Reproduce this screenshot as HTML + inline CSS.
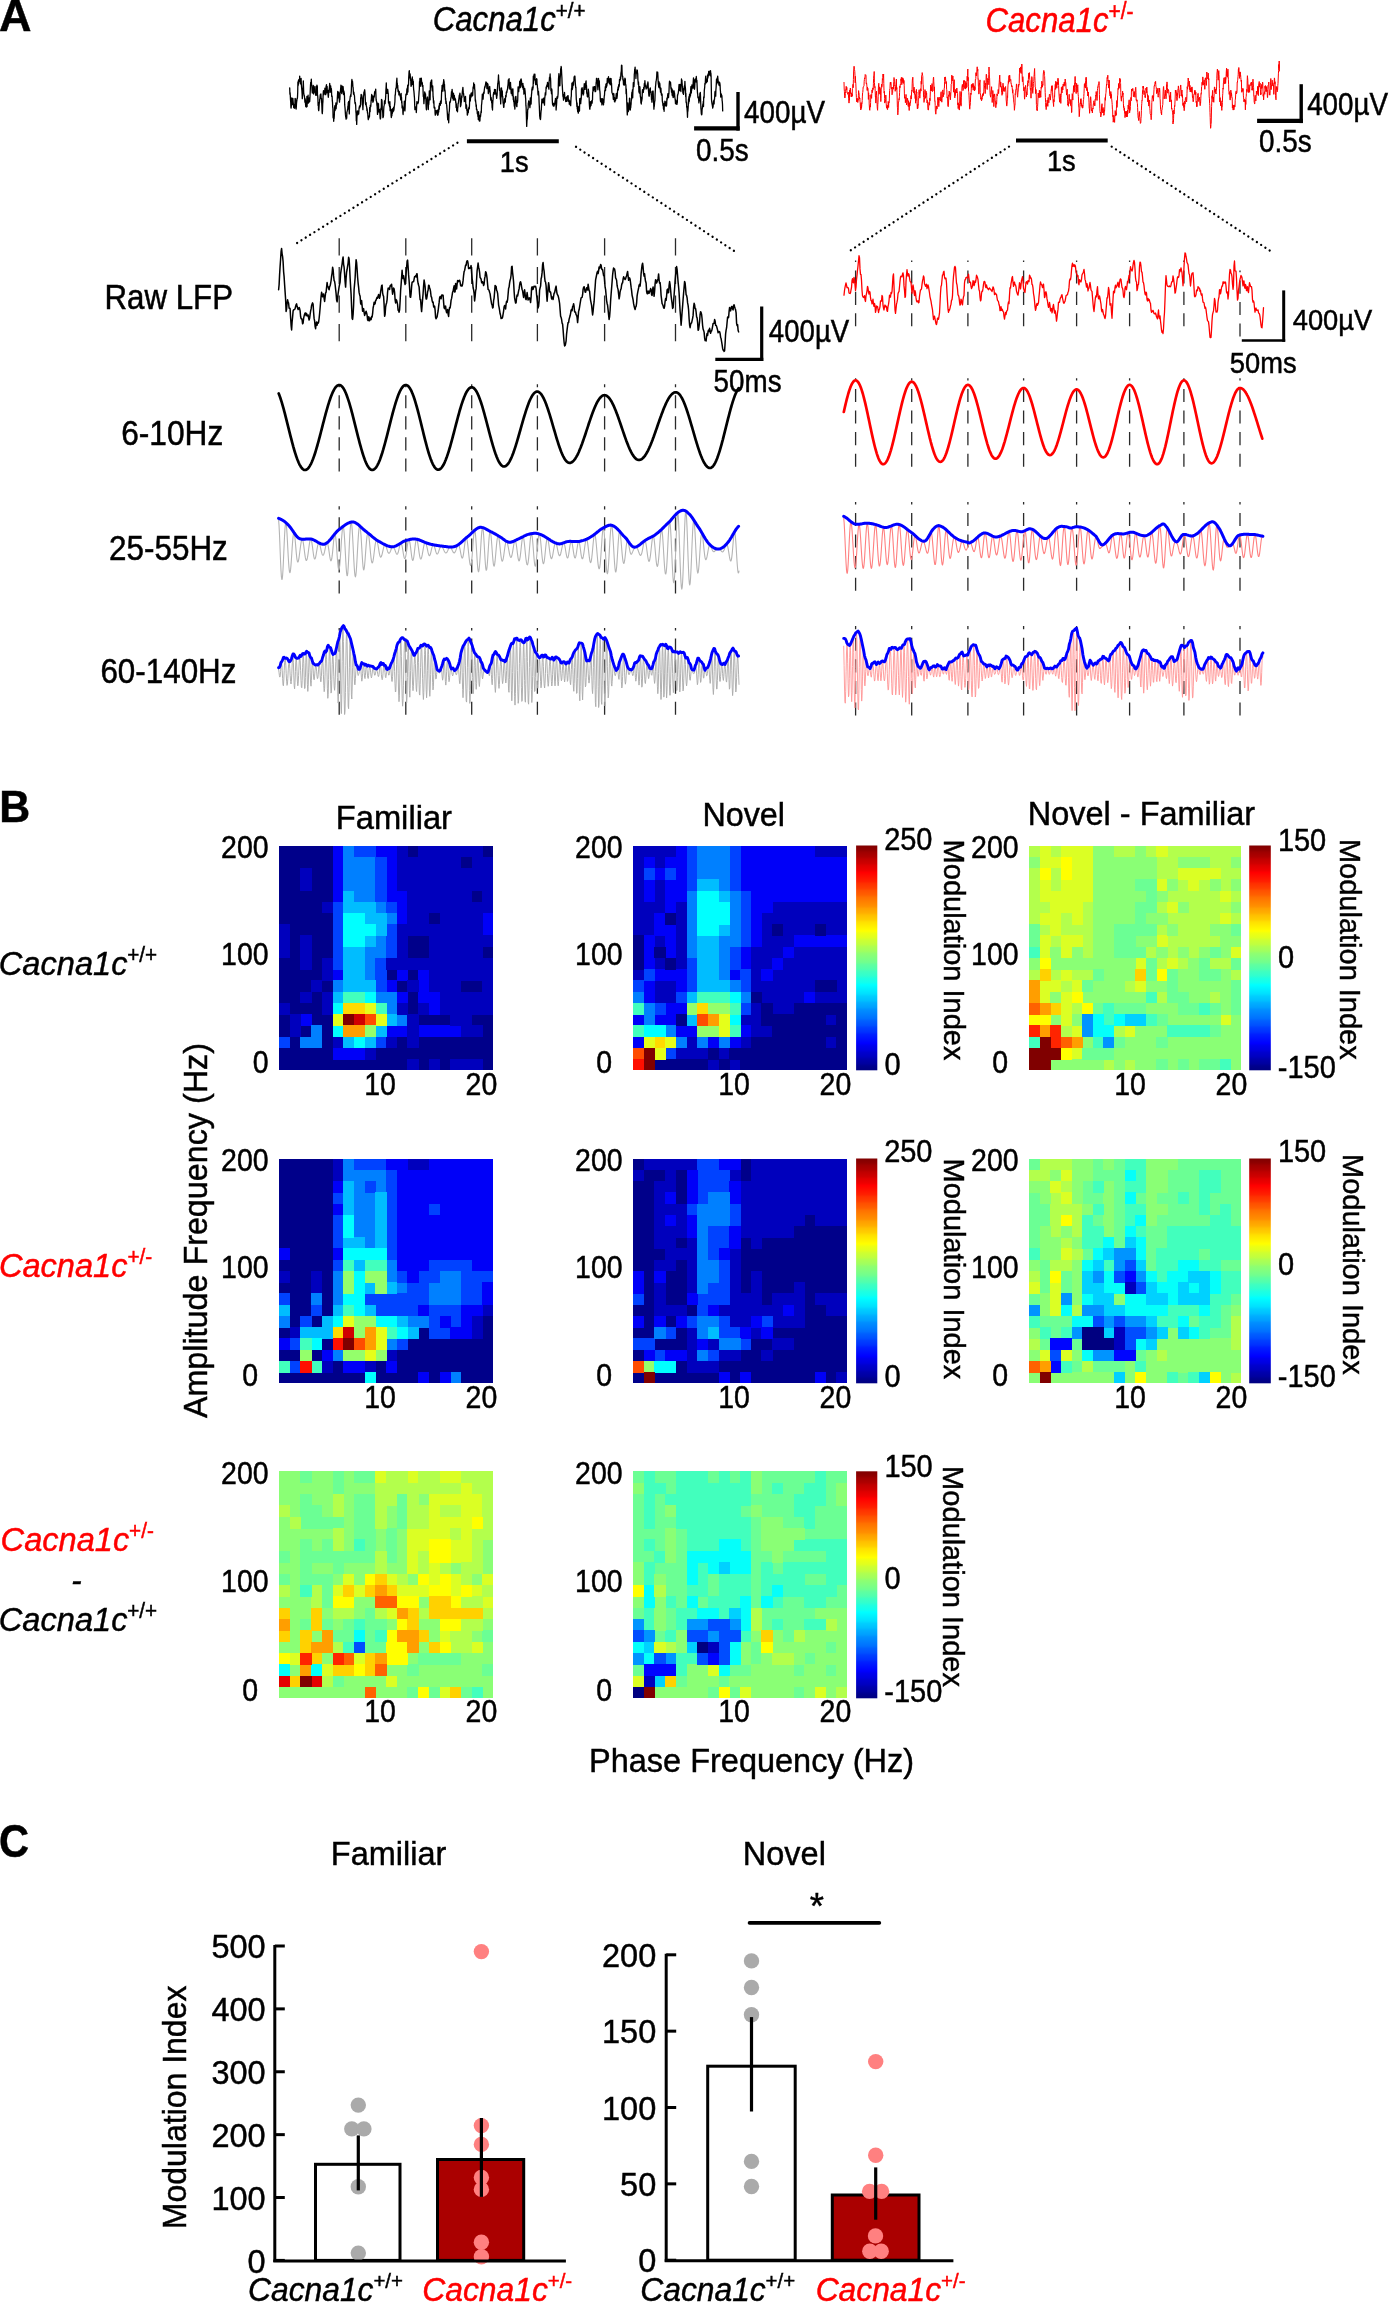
<!DOCTYPE html>
<html><head><meta charset="utf-8"><title>Figure</title>
<style>
html,body{margin:0;padding:0;background:#fff;}
svg{display:block;}
text{font-family:"Liberation Sans", sans-serif;font-kerning:none;}
svg{will-change:transform;}
</style></head><body>
<svg width="1389" height="2302" viewBox="0 0 1389 2302">
<rect x="0" y="0" width="1389" height="2302" fill="#fff"/>
<text x="-1.12" y="30.8" font-size="45" font-weight="bold" font-style="normal" fill="#000" stroke="#000" stroke-width="0.45">A</text>
<text x="-0.86" y="821.9" font-size="42.8" font-weight="bold" font-style="normal" fill="#000" stroke="#000" stroke-width="0.45" transform="translate(0 -41.1) scale(1 1.05)">B</text>
<text x="-1.01" y="1857.2" font-size="41.6" font-weight="bold" font-style="normal" fill="#000" stroke="#000" stroke-width="0.45" transform="translate(0 -185.72) scale(1 1.1)">C</text>
<g shape-rendering="crispEdges">
<path fill="#00008a" d="M279 845.5h11.2v11.7h-11.2zM289.7 845.5h11.2v11.7h-11.2zM300.4 845.5h11.2v11.7h-11.2zM311.1 845.5h11.2v11.7h-11.2zM321.8 845.5h11.2v11.7h-11.2zM407.4 845.5h11.2v11.7h-11.2zM482.3 845.5h10.7v11.7h-10.7zM279 856.7h11.2v11.7h-11.2zM289.7 856.7h11.2v11.7h-11.2zM300.4 856.7h11.2v11.7h-11.2zM311.1 856.7h11.2v11.7h-11.2zM321.8 856.7h11.2v11.7h-11.2zM460.9 856.7h11.2v11.7h-11.2zM279 868h11.2v11.7h-11.2zM289.7 868h11.2v11.7h-11.2zM311.1 868h11.2v11.7h-11.2zM321.8 868h11.2v11.7h-11.2zM279 879.2h11.2v11.7h-11.2zM289.7 879.2h11.2v11.7h-11.2zM311.1 879.2h11.2v11.7h-11.2zM321.8 879.2h11.2v11.7h-11.2zM279 890.5h11.2v11.7h-11.2zM289.7 890.5h11.2v11.7h-11.2zM300.4 890.5h11.2v11.7h-11.2zM311.1 890.5h11.2v11.7h-11.2zM321.8 890.5h11.2v11.7h-11.2zM471.6 890.5h11.2v11.7h-11.2zM279 901.7h11.2v11.7h-11.2zM289.7 901.7h11.2v11.7h-11.2zM300.4 901.7h11.2v11.7h-11.2zM311.1 901.7h11.2v11.7h-11.2zM279 912.9h11.2v11.7h-11.2zM289.7 912.9h11.2v11.7h-11.2zM300.4 912.9h11.2v11.7h-11.2zM311.1 912.9h11.2v11.7h-11.2zM321.8 912.9h11.2v11.7h-11.2zM428.8 912.9h11.2v11.7h-11.2zM289.7 924.2h11.2v11.7h-11.2zM300.4 924.2h11.2v11.7h-11.2zM311.1 924.2h11.2v11.7h-11.2zM321.8 924.2h11.2v11.7h-11.2zM289.7 935.4h11.2v11.7h-11.2zM311.1 935.4h11.2v11.7h-11.2zM321.8 935.4h11.2v11.7h-11.2zM407.4 935.4h11.2v11.7h-11.2zM418.1 935.4h11.2v11.7h-11.2zM289.7 946.7h11.2v11.7h-11.2zM311.1 946.7h11.2v11.7h-11.2zM321.8 946.7h11.2v11.7h-11.2zM407.4 946.7h11.2v11.7h-11.2zM418.1 946.7h11.2v11.7h-11.2zM482.3 946.7h10.7v11.7h-10.7zM279 957.9h11.2v11.7h-11.2zM289.7 957.9h11.2v11.7h-11.2zM311.1 957.9h11.2v11.7h-11.2zM279 969.1h11.2v11.7h-11.2zM289.7 969.1h11.2v11.7h-11.2zM300.4 969.1h11.2v11.7h-11.2zM311.1 969.1h11.2v11.7h-11.2zM386 969.1h11.2v11.7h-11.2zM407.4 969.1h11.2v11.7h-11.2zM279 980.4h11.2v11.7h-11.2zM289.7 980.4h11.2v11.7h-11.2zM300.4 980.4h11.2v11.7h-11.2zM321.8 980.4h11.2v11.7h-11.2zM396.7 980.4h11.2v11.7h-11.2zM460.9 980.4h11.2v11.7h-11.2zM471.6 980.4h11.2v11.7h-11.2zM279 991.6h11.2v11.7h-11.2zM289.7 991.6h11.2v11.7h-11.2zM311.1 991.6h11.2v11.7h-11.2zM407.4 991.6h11.2v11.7h-11.2zM289.7 1002.9h11.2v11.7h-11.2zM300.4 1002.9h11.2v11.7h-11.2zM311.1 1002.9h11.2v11.7h-11.2zM407.4 1002.9h11.2v11.7h-11.2zM279 1014.1h11.2v11.7h-11.2zM311.1 1014.1h11.2v11.7h-11.2zM321.8 1014.1h11.2v11.7h-11.2zM418.1 1014.1h11.2v11.7h-11.2zM428.8 1014.1h11.2v11.7h-11.2zM439.5 1014.1h11.2v11.7h-11.2zM471.6 1014.1h11.2v11.7h-11.2zM482.3 1014.1h10.7v11.7h-10.7zM279 1025.3h11.2v11.7h-11.2zM300.4 1025.3h11.2v11.7h-11.2zM321.8 1025.3h11.2v11.7h-11.2zM482.3 1025.3h10.7v11.7h-10.7zM289.7 1036.6h11.2v11.7h-11.2zM321.8 1036.6h11.2v11.7h-11.2zM396.7 1036.6h11.2v11.7h-11.2zM418.1 1036.6h11.2v11.7h-11.2zM428.8 1036.6h11.2v11.7h-11.2zM439.5 1036.6h11.2v11.7h-11.2zM450.2 1036.6h11.2v11.7h-11.2zM460.9 1036.6h11.2v11.7h-11.2zM471.6 1036.6h11.2v11.7h-11.2zM482.3 1036.6h10.7v11.7h-10.7zM279 1047.8h11.2v11.7h-11.2zM289.7 1047.8h11.2v11.7h-11.2zM300.4 1047.8h11.2v11.7h-11.2zM311.1 1047.8h11.2v11.7h-11.2zM321.8 1047.8h11.2v11.7h-11.2zM375.3 1047.8h11.2v11.7h-11.2zM386 1047.8h11.2v11.7h-11.2zM396.7 1047.8h11.2v11.7h-11.2zM407.4 1047.8h11.2v11.7h-11.2zM418.1 1047.8h11.2v11.7h-11.2zM428.8 1047.8h11.2v11.7h-11.2zM439.5 1047.8h11.2v11.7h-11.2zM450.2 1047.8h11.2v11.7h-11.2zM460.9 1047.8h11.2v11.7h-11.2zM471.6 1047.8h11.2v11.7h-11.2zM482.3 1047.8h10.7v11.7h-10.7zM279 1059.1h11.2v11.2h-11.2zM289.7 1059.1h11.2v11.2h-11.2zM300.4 1059.1h11.2v11.2h-11.2zM311.1 1059.1h11.2v11.2h-11.2zM321.8 1059.1h11.2v11.2h-11.2zM332.5 1059.1h11.2v11.2h-11.2zM343.2 1059.1h11.2v11.2h-11.2zM353.9 1059.1h11.2v11.2h-11.2zM364.6 1059.1h11.2v11.2h-11.2zM375.3 1059.1h11.2v11.2h-11.2zM386 1059.1h11.2v11.2h-11.2zM396.7 1059.1h11.2v11.2h-11.2zM418.1 1059.1h11.2v11.2h-11.2zM439.5 1059.1h11.2v11.2h-11.2zM482.3 1059.1h10.7v11.2h-10.7z"/>
<path fill="#0000f8" d="M332.5 845.5h11.2v11.7h-11.2zM375.3 845.5h11.2v11.7h-11.2zM386 845.5h11.2v11.7h-11.2zM332.5 856.7h11.2v11.7h-11.2zM386 856.7h11.2v11.7h-11.2zM332.5 868h11.2v11.7h-11.2zM386 868h11.2v11.7h-11.2zM332.5 879.2h11.2v11.7h-11.2zM386 879.2h11.2v11.7h-11.2zM332.5 890.5h11.2v11.7h-11.2zM386 890.5h11.2v11.7h-11.2zM396.7 890.5h11.2v11.7h-11.2zM396.7 901.7h11.2v11.7h-11.2zM396.7 912.9h11.2v11.7h-11.2zM482.3 912.9h10.7v11.7h-10.7zM482.3 924.2h10.7v11.7h-10.7zM332.5 969.1h11.2v11.7h-11.2zM396.7 969.1h11.2v11.7h-11.2zM418.1 969.1h11.2v11.7h-11.2zM386 980.4h11.2v11.7h-11.2zM418.1 980.4h11.2v11.7h-11.2zM396.7 991.6h11.2v11.7h-11.2zM418.1 991.6h11.2v11.7h-11.2zM428.8 991.6h11.2v11.7h-11.2zM428.8 1002.9h11.2v11.7h-11.2zM300.4 1014.1h11.2v11.7h-11.2zM386 1025.3h11.2v11.7h-11.2zM396.7 1025.3h11.2v11.7h-11.2zM418.1 1025.3h11.2v11.7h-11.2zM428.8 1025.3h11.2v11.7h-11.2zM439.5 1025.3h11.2v11.7h-11.2zM450.2 1025.3h11.2v11.7h-11.2zM332.5 1047.8h11.2v11.7h-11.2zM343.2 1047.8h11.2v11.7h-11.2zM353.9 1047.8h11.2v11.7h-11.2z"/>
<path fill="#0080ff" d="M343.2 845.5h11.2v11.7h-11.2zM343.2 856.7h11.2v11.7h-11.2zM353.9 856.7h11.2v11.7h-11.2zM364.6 856.7h11.2v11.7h-11.2zM343.2 868h11.2v11.7h-11.2zM353.9 868h11.2v11.7h-11.2zM364.6 868h11.2v11.7h-11.2zM343.2 879.2h11.2v11.7h-11.2zM353.9 879.2h11.2v11.7h-11.2zM364.6 879.2h11.2v11.7h-11.2zM353.9 890.5h11.2v11.7h-11.2zM364.6 890.5h11.2v11.7h-11.2zM375.3 901.7h11.2v11.7h-11.2zM386 912.9h11.2v11.7h-11.2zM375.3 935.4h11.2v11.7h-11.2zM364.6 946.7h11.2v11.7h-11.2zM375.3 946.7h11.2v11.7h-11.2zM364.6 957.9h11.2v11.7h-11.2zM364.6 969.1h11.2v11.7h-11.2zM332.5 980.4h11.2v11.7h-11.2zM375.3 991.6h11.2v11.7h-11.2zM386 991.6h11.2v11.7h-11.2zM386 1002.9h11.2v11.7h-11.2zM396.7 1014.1h11.2v11.7h-11.2zM311.1 1025.3h11.2v11.7h-11.2zM300.4 1036.6h11.2v11.7h-11.2zM311.1 1036.6h11.2v11.7h-11.2z"/>
<path fill="#0042ff" d="M353.9 845.5h11.2v11.7h-11.2zM364.6 845.5h11.2v11.7h-11.2zM375.3 856.7h11.2v11.7h-11.2zM375.3 868h11.2v11.7h-11.2zM375.3 879.2h11.2v11.7h-11.2zM375.3 890.5h11.2v11.7h-11.2zM332.5 901.7h11.2v11.7h-11.2zM386 901.7h11.2v11.7h-11.2zM332.5 912.9h11.2v11.7h-11.2zM332.5 924.2h11.2v11.7h-11.2zM386 924.2h11.2v11.7h-11.2zM332.5 935.4h11.2v11.7h-11.2zM386 935.4h11.2v11.7h-11.2zM332.5 946.7h11.2v11.7h-11.2zM386 946.7h11.2v11.7h-11.2zM332.5 957.9h11.2v11.7h-11.2zM375.3 957.9h11.2v11.7h-11.2zM375.3 969.1h11.2v11.7h-11.2zM375.3 980.4h11.2v11.7h-11.2zM279 1036.6h11.2v11.7h-11.2zM375.3 1036.6h11.2v11.7h-11.2z"/>
<path fill="#0000bd" d="M396.7 845.5h11.2v11.7h-11.2zM418.1 845.5h11.2v11.7h-11.2zM428.8 845.5h11.2v11.7h-11.2zM439.5 845.5h11.2v11.7h-11.2zM450.2 845.5h11.2v11.7h-11.2zM460.9 845.5h11.2v11.7h-11.2zM471.6 845.5h11.2v11.7h-11.2zM396.7 856.7h11.2v11.7h-11.2zM407.4 856.7h11.2v11.7h-11.2zM418.1 856.7h11.2v11.7h-11.2zM428.8 856.7h11.2v11.7h-11.2zM439.5 856.7h11.2v11.7h-11.2zM450.2 856.7h11.2v11.7h-11.2zM471.6 856.7h11.2v11.7h-11.2zM482.3 856.7h10.7v11.7h-10.7zM300.4 868h11.2v11.7h-11.2zM396.7 868h11.2v11.7h-11.2zM407.4 868h11.2v11.7h-11.2zM418.1 868h11.2v11.7h-11.2zM428.8 868h11.2v11.7h-11.2zM439.5 868h11.2v11.7h-11.2zM450.2 868h11.2v11.7h-11.2zM460.9 868h11.2v11.7h-11.2zM471.6 868h11.2v11.7h-11.2zM482.3 868h10.7v11.7h-10.7zM300.4 879.2h11.2v11.7h-11.2zM396.7 879.2h11.2v11.7h-11.2zM407.4 879.2h11.2v11.7h-11.2zM418.1 879.2h11.2v11.7h-11.2zM428.8 879.2h11.2v11.7h-11.2zM439.5 879.2h11.2v11.7h-11.2zM450.2 879.2h11.2v11.7h-11.2zM460.9 879.2h11.2v11.7h-11.2zM471.6 879.2h11.2v11.7h-11.2zM482.3 879.2h10.7v11.7h-10.7zM407.4 890.5h11.2v11.7h-11.2zM418.1 890.5h11.2v11.7h-11.2zM428.8 890.5h11.2v11.7h-11.2zM439.5 890.5h11.2v11.7h-11.2zM450.2 890.5h11.2v11.7h-11.2zM460.9 890.5h11.2v11.7h-11.2zM482.3 890.5h10.7v11.7h-10.7zM321.8 901.7h11.2v11.7h-11.2zM407.4 901.7h11.2v11.7h-11.2zM418.1 901.7h11.2v11.7h-11.2zM428.8 901.7h11.2v11.7h-11.2zM439.5 901.7h11.2v11.7h-11.2zM450.2 901.7h11.2v11.7h-11.2zM460.9 901.7h11.2v11.7h-11.2zM471.6 901.7h11.2v11.7h-11.2zM482.3 901.7h10.7v11.7h-10.7zM407.4 912.9h11.2v11.7h-11.2zM418.1 912.9h11.2v11.7h-11.2zM439.5 912.9h11.2v11.7h-11.2zM450.2 912.9h11.2v11.7h-11.2zM460.9 912.9h11.2v11.7h-11.2zM471.6 912.9h11.2v11.7h-11.2zM279 924.2h11.2v11.7h-11.2zM396.7 924.2h11.2v11.7h-11.2zM407.4 924.2h11.2v11.7h-11.2zM418.1 924.2h11.2v11.7h-11.2zM428.8 924.2h11.2v11.7h-11.2zM439.5 924.2h11.2v11.7h-11.2zM450.2 924.2h11.2v11.7h-11.2zM460.9 924.2h11.2v11.7h-11.2zM471.6 924.2h11.2v11.7h-11.2zM279 935.4h11.2v11.7h-11.2zM300.4 935.4h11.2v11.7h-11.2zM396.7 935.4h11.2v11.7h-11.2zM428.8 935.4h11.2v11.7h-11.2zM439.5 935.4h11.2v11.7h-11.2zM450.2 935.4h11.2v11.7h-11.2zM460.9 935.4h11.2v11.7h-11.2zM471.6 935.4h11.2v11.7h-11.2zM482.3 935.4h10.7v11.7h-10.7zM279 946.7h11.2v11.7h-11.2zM300.4 946.7h11.2v11.7h-11.2zM396.7 946.7h11.2v11.7h-11.2zM428.8 946.7h11.2v11.7h-11.2zM439.5 946.7h11.2v11.7h-11.2zM450.2 946.7h11.2v11.7h-11.2zM460.9 946.7h11.2v11.7h-11.2zM471.6 946.7h11.2v11.7h-11.2zM300.4 957.9h11.2v11.7h-11.2zM321.8 957.9h11.2v11.7h-11.2zM386 957.9h11.2v11.7h-11.2zM396.7 957.9h11.2v11.7h-11.2zM407.4 957.9h11.2v11.7h-11.2zM418.1 957.9h11.2v11.7h-11.2zM428.8 957.9h11.2v11.7h-11.2zM439.5 957.9h11.2v11.7h-11.2zM450.2 957.9h11.2v11.7h-11.2zM460.9 957.9h11.2v11.7h-11.2zM471.6 957.9h11.2v11.7h-11.2zM482.3 957.9h10.7v11.7h-10.7zM321.8 969.1h11.2v11.7h-11.2zM428.8 969.1h11.2v11.7h-11.2zM439.5 969.1h11.2v11.7h-11.2zM450.2 969.1h11.2v11.7h-11.2zM460.9 969.1h11.2v11.7h-11.2zM471.6 969.1h11.2v11.7h-11.2zM482.3 969.1h10.7v11.7h-10.7zM311.1 980.4h11.2v11.7h-11.2zM407.4 980.4h11.2v11.7h-11.2zM428.8 980.4h11.2v11.7h-11.2zM439.5 980.4h11.2v11.7h-11.2zM450.2 980.4h11.2v11.7h-11.2zM482.3 980.4h10.7v11.7h-10.7zM300.4 991.6h11.2v11.7h-11.2zM321.8 991.6h11.2v11.7h-11.2zM439.5 991.6h11.2v11.7h-11.2zM450.2 991.6h11.2v11.7h-11.2zM460.9 991.6h11.2v11.7h-11.2zM471.6 991.6h11.2v11.7h-11.2zM482.3 991.6h10.7v11.7h-10.7zM279 1002.9h11.2v11.7h-11.2zM321.8 1002.9h11.2v11.7h-11.2zM396.7 1002.9h11.2v11.7h-11.2zM418.1 1002.9h11.2v11.7h-11.2zM439.5 1002.9h11.2v11.7h-11.2zM450.2 1002.9h11.2v11.7h-11.2zM460.9 1002.9h11.2v11.7h-11.2zM471.6 1002.9h11.2v11.7h-11.2zM482.3 1002.9h10.7v11.7h-10.7zM289.7 1014.1h11.2v11.7h-11.2zM407.4 1014.1h11.2v11.7h-11.2zM450.2 1014.1h11.2v11.7h-11.2zM460.9 1014.1h11.2v11.7h-11.2zM289.7 1025.3h11.2v11.7h-11.2zM407.4 1025.3h11.2v11.7h-11.2zM460.9 1025.3h11.2v11.7h-11.2zM471.6 1025.3h11.2v11.7h-11.2zM332.5 1036.6h11.2v11.7h-11.2zM386 1036.6h11.2v11.7h-11.2zM407.4 1036.6h11.2v11.7h-11.2zM364.6 1047.8h11.2v11.7h-11.2zM407.4 1059.1h11.2v11.2h-11.2zM428.8 1059.1h11.2v11.2h-11.2zM450.2 1059.1h11.2v11.2h-11.2zM460.9 1059.1h11.2v11.2h-11.2zM471.6 1059.1h11.2v11.2h-11.2z"/>
<path fill="#00bdff" d="M343.2 890.5h11.2v11.7h-11.2zM343.2 901.7h11.2v11.7h-11.2zM353.9 901.7h11.2v11.7h-11.2zM364.6 901.7h11.2v11.7h-11.2zM364.6 912.9h11.2v11.7h-11.2zM375.3 912.9h11.2v11.7h-11.2zM375.3 924.2h11.2v11.7h-11.2zM364.6 935.4h11.2v11.7h-11.2zM343.2 946.7h11.2v11.7h-11.2zM353.9 946.7h11.2v11.7h-11.2zM343.2 957.9h11.2v11.7h-11.2zM353.9 957.9h11.2v11.7h-11.2zM343.2 969.1h11.2v11.7h-11.2zM353.9 969.1h11.2v11.7h-11.2zM343.2 980.4h11.2v11.7h-11.2zM353.9 980.4h11.2v11.7h-11.2zM364.6 980.4h11.2v11.7h-11.2zM332.5 991.6h11.2v11.7h-11.2zM386 1014.1h11.2v11.7h-11.2zM375.3 1025.3h11.2v11.7h-11.2zM343.2 1036.6h11.2v11.7h-11.2zM364.6 1036.6h11.2v11.7h-11.2z"/>
<path fill="#00ffff" d="M343.2 912.9h11.2v11.7h-11.2zM353.9 912.9h11.2v11.7h-11.2zM343.2 924.2h11.2v11.7h-11.2zM353.9 924.2h11.2v11.7h-11.2zM364.6 924.2h11.2v11.7h-11.2zM343.2 935.4h11.2v11.7h-11.2zM353.9 935.4h11.2v11.7h-11.2zM364.6 991.6h11.2v11.7h-11.2zM332.5 1002.9h11.2v11.7h-11.2zM332.5 1025.3h11.2v11.7h-11.2zM353.9 1036.6h11.2v11.7h-11.2z"/>
<path fill="#42ffbd" d="M343.2 991.6h11.2v11.7h-11.2zM353.9 991.6h11.2v11.7h-11.2zM375.3 1002.9h11.2v11.7h-11.2z"/>
<path fill="#ffdb00" d="M343.2 1002.9h11.2v11.7h-11.2zM353.9 1002.9h11.2v11.7h-11.2z"/>
<path fill="#e5ff1a" d="M364.6 1002.9h11.2v11.7h-11.2zM332.5 1014.1h11.2v11.7h-11.2zM375.3 1014.1h11.2v11.7h-11.2z"/>
<path fill="#800000" d="M343.2 1014.1h11.2v11.7h-11.2z"/>
<path fill="#d10000" d="M353.9 1014.1h11.2v11.7h-11.2z"/>
<path fill="#ff4c00" d="M364.6 1014.1h11.2v11.7h-11.2z"/>
<path fill="#ff9e00" d="M343.2 1025.3h11.2v11.7h-11.2zM353.9 1025.3h11.2v11.7h-11.2z"/>
<path fill="#94ff6b" d="M364.6 1025.3h11.2v11.7h-11.2z"/>
</g>
<text x="221.06" y="858.39" font-size="28.5" font-weight="normal" font-style="normal" fill="#000" stroke="#000" stroke-width="0.45" transform="translate(0 -85.84) scale(1 1.1)">200</text>
<text x="221.06" y="965.39" font-size="28.5" font-weight="normal" font-style="normal" fill="#000" stroke="#000" stroke-width="0.45" transform="translate(0 -96.54) scale(1 1.1)">100</text>
<text x="252.76" y="1072.69" font-size="28.5" font-weight="normal" font-style="normal" fill="#000" stroke="#000" stroke-width="0.45" transform="translate(0 -107.27) scale(1 1.1)">0</text>
<text x="364.22" y="1095.19" font-size="28.5" font-weight="normal" font-style="normal" fill="#000" stroke="#000" stroke-width="0.45" transform="translate(0 -109.52) scale(1 1.1)">10</text>
<text x="465.59" y="1095.19" font-size="28.5" font-weight="normal" font-style="normal" fill="#000" stroke="#000" stroke-width="0.45" transform="translate(0 -109.52) scale(1 1.1)">20</text>
<g shape-rendering="crispEdges">
<path fill="#0000bd" d="M633 845.5h11.2v11.7h-11.2zM643.7 845.5h11.2v11.7h-11.2zM654.4 845.5h11.2v11.7h-11.2zM665.1 845.5h11.2v11.7h-11.2zM814.9 845.5h11.2v11.7h-11.2zM825.6 845.5h11.2v11.7h-11.2zM836.3 845.5h10.7v11.7h-10.7zM633 856.7h11.2v11.7h-11.2zM654.4 856.7h11.2v11.7h-11.2zM633 868h11.2v11.7h-11.2zM633 879.2h11.2v11.7h-11.2zM654.4 879.2h11.2v11.7h-11.2zM633 890.5h11.2v11.7h-11.2zM654.4 890.5h11.2v11.7h-11.2zM633 901.7h11.2v11.7h-11.2zM643.7 901.7h11.2v11.7h-11.2zM654.4 901.7h11.2v11.7h-11.2zM675.8 901.7h11.2v11.7h-11.2zM772.1 901.7h11.2v11.7h-11.2zM782.8 901.7h11.2v11.7h-11.2zM793.5 901.7h11.2v11.7h-11.2zM804.2 901.7h11.2v11.7h-11.2zM814.9 901.7h11.2v11.7h-11.2zM825.6 901.7h11.2v11.7h-11.2zM836.3 901.7h10.7v11.7h-10.7zM633 912.9h11.2v11.7h-11.2zM643.7 912.9h11.2v11.7h-11.2zM675.8 912.9h11.2v11.7h-11.2zM761.4 912.9h11.2v11.7h-11.2zM772.1 912.9h11.2v11.7h-11.2zM782.8 912.9h11.2v11.7h-11.2zM793.5 912.9h11.2v11.7h-11.2zM804.2 912.9h11.2v11.7h-11.2zM814.9 912.9h11.2v11.7h-11.2zM825.6 912.9h11.2v11.7h-11.2zM836.3 912.9h10.7v11.7h-10.7zM633 924.2h11.2v11.7h-11.2zM643.7 924.2h11.2v11.7h-11.2zM675.8 924.2h11.2v11.7h-11.2zM761.4 924.2h11.2v11.7h-11.2zM782.8 924.2h11.2v11.7h-11.2zM793.5 924.2h11.2v11.7h-11.2zM804.2 924.2h11.2v11.7h-11.2zM825.6 924.2h11.2v11.7h-11.2zM836.3 924.2h10.7v11.7h-10.7zM654.4 935.4h11.2v11.7h-11.2zM675.8 935.4h11.2v11.7h-11.2zM761.4 935.4h11.2v11.7h-11.2zM772.1 935.4h11.2v11.7h-11.2zM782.8 935.4h11.2v11.7h-11.2zM675.8 946.7h11.2v11.7h-11.2zM750.7 946.7h11.2v11.7h-11.2zM761.4 946.7h11.2v11.7h-11.2zM772.1 946.7h11.2v11.7h-11.2zM793.5 946.7h11.2v11.7h-11.2zM804.2 946.7h11.2v11.7h-11.2zM814.9 946.7h11.2v11.7h-11.2zM825.6 946.7h11.2v11.7h-11.2zM836.3 946.7h10.7v11.7h-10.7zM654.4 957.9h11.2v11.7h-11.2zM675.8 957.9h11.2v11.7h-11.2zM750.7 957.9h11.2v11.7h-11.2zM761.4 957.9h11.2v11.7h-11.2zM782.8 957.9h11.2v11.7h-11.2zM793.5 957.9h11.2v11.7h-11.2zM804.2 957.9h11.2v11.7h-11.2zM814.9 957.9h11.2v11.7h-11.2zM825.6 957.9h11.2v11.7h-11.2zM836.3 957.9h10.7v11.7h-10.7zM633 969.1h11.2v11.7h-11.2zM750.7 969.1h11.2v11.7h-11.2zM772.1 969.1h11.2v11.7h-11.2zM782.8 969.1h11.2v11.7h-11.2zM793.5 969.1h11.2v11.7h-11.2zM804.2 969.1h11.2v11.7h-11.2zM814.9 969.1h11.2v11.7h-11.2zM825.6 969.1h11.2v11.7h-11.2zM836.3 969.1h10.7v11.7h-10.7zM654.4 980.4h11.2v11.7h-11.2zM665.1 980.4h11.2v11.7h-11.2zM750.7 980.4h11.2v11.7h-11.2zM761.4 980.4h11.2v11.7h-11.2zM772.1 980.4h11.2v11.7h-11.2zM782.8 980.4h11.2v11.7h-11.2zM793.5 980.4h11.2v11.7h-11.2zM804.2 980.4h11.2v11.7h-11.2zM836.3 980.4h10.7v11.7h-10.7zM654.4 991.6h11.2v11.7h-11.2zM665.1 991.6h11.2v11.7h-11.2zM761.4 991.6h11.2v11.7h-11.2zM772.1 991.6h11.2v11.7h-11.2zM782.8 991.6h11.2v11.7h-11.2zM793.5 991.6h11.2v11.7h-11.2zM814.9 991.6h11.2v11.7h-11.2zM825.6 991.6h11.2v11.7h-11.2zM836.3 991.6h10.7v11.7h-10.7zM750.7 1002.9h11.2v11.7h-11.2zM772.1 1002.9h11.2v11.7h-11.2zM782.8 1002.9h11.2v11.7h-11.2zM740 1014.1h11.2v11.7h-11.2zM750.7 1014.1h11.2v11.7h-11.2zM825.6 1014.1h11.2v11.7h-11.2zM750.7 1025.3h11.2v11.7h-11.2zM761.4 1025.3h11.2v11.7h-11.2zM686.5 1036.6h11.2v11.7h-11.2zM740 1036.6h11.2v11.7h-11.2zM825.6 1036.6h11.2v11.7h-11.2zM675.8 1047.8h11.2v11.7h-11.2zM686.5 1047.8h11.2v11.7h-11.2zM697.2 1047.8h11.2v11.7h-11.2zM718.6 1047.8h11.2v11.7h-11.2zM707.9 1059.1h11.2v11.2h-11.2zM729.3 1059.1h11.2v11.2h-11.2z"/>
<path fill="#0000f8" d="M675.8 845.5h11.2v11.7h-11.2zM740 845.5h11.2v11.7h-11.2zM750.7 845.5h11.2v11.7h-11.2zM761.4 845.5h11.2v11.7h-11.2zM772.1 845.5h11.2v11.7h-11.2zM782.8 845.5h11.2v11.7h-11.2zM793.5 845.5h11.2v11.7h-11.2zM804.2 845.5h11.2v11.7h-11.2zM643.7 856.7h11.2v11.7h-11.2zM665.1 856.7h11.2v11.7h-11.2zM675.8 856.7h11.2v11.7h-11.2zM740 856.7h11.2v11.7h-11.2zM750.7 856.7h11.2v11.7h-11.2zM761.4 856.7h11.2v11.7h-11.2zM772.1 856.7h11.2v11.7h-11.2zM782.8 856.7h11.2v11.7h-11.2zM793.5 856.7h11.2v11.7h-11.2zM804.2 856.7h11.2v11.7h-11.2zM814.9 856.7h11.2v11.7h-11.2zM825.6 856.7h11.2v11.7h-11.2zM836.3 856.7h10.7v11.7h-10.7zM654.4 868h11.2v11.7h-11.2zM675.8 868h11.2v11.7h-11.2zM740 868h11.2v11.7h-11.2zM750.7 868h11.2v11.7h-11.2zM761.4 868h11.2v11.7h-11.2zM772.1 868h11.2v11.7h-11.2zM782.8 868h11.2v11.7h-11.2zM793.5 868h11.2v11.7h-11.2zM804.2 868h11.2v11.7h-11.2zM814.9 868h11.2v11.7h-11.2zM825.6 868h11.2v11.7h-11.2zM836.3 868h10.7v11.7h-10.7zM643.7 879.2h11.2v11.7h-11.2zM665.1 879.2h11.2v11.7h-11.2zM675.8 879.2h11.2v11.7h-11.2zM740 879.2h11.2v11.7h-11.2zM750.7 879.2h11.2v11.7h-11.2zM761.4 879.2h11.2v11.7h-11.2zM772.1 879.2h11.2v11.7h-11.2zM782.8 879.2h11.2v11.7h-11.2zM793.5 879.2h11.2v11.7h-11.2zM804.2 879.2h11.2v11.7h-11.2zM814.9 879.2h11.2v11.7h-11.2zM825.6 879.2h11.2v11.7h-11.2zM836.3 879.2h10.7v11.7h-10.7zM643.7 890.5h11.2v11.7h-11.2zM665.1 890.5h11.2v11.7h-11.2zM675.8 890.5h11.2v11.7h-11.2zM750.7 890.5h11.2v11.7h-11.2zM761.4 890.5h11.2v11.7h-11.2zM772.1 890.5h11.2v11.7h-11.2zM782.8 890.5h11.2v11.7h-11.2zM793.5 890.5h11.2v11.7h-11.2zM804.2 890.5h11.2v11.7h-11.2zM814.9 890.5h11.2v11.7h-11.2zM825.6 890.5h11.2v11.7h-11.2zM836.3 890.5h10.7v11.7h-10.7zM665.1 901.7h11.2v11.7h-11.2zM750.7 901.7h11.2v11.7h-11.2zM761.4 901.7h11.2v11.7h-11.2zM654.4 912.9h11.2v11.7h-11.2zM750.7 912.9h11.2v11.7h-11.2zM654.4 924.2h11.2v11.7h-11.2zM665.1 924.2h11.2v11.7h-11.2zM750.7 924.2h11.2v11.7h-11.2zM643.7 935.4h11.2v11.7h-11.2zM665.1 935.4h11.2v11.7h-11.2zM750.7 935.4h11.2v11.7h-11.2zM793.5 935.4h11.2v11.7h-11.2zM804.2 935.4h11.2v11.7h-11.2zM814.9 935.4h11.2v11.7h-11.2zM825.6 935.4h11.2v11.7h-11.2zM836.3 935.4h10.7v11.7h-10.7zM643.7 946.7h11.2v11.7h-11.2zM665.1 946.7h11.2v11.7h-11.2zM740 946.7h11.2v11.7h-11.2zM782.8 946.7h11.2v11.7h-11.2zM643.7 957.9h11.2v11.7h-11.2zM740 957.9h11.2v11.7h-11.2zM772.1 957.9h11.2v11.7h-11.2zM654.4 969.1h11.2v11.7h-11.2zM665.1 969.1h11.2v11.7h-11.2zM675.8 969.1h11.2v11.7h-11.2zM729.3 969.1h11.2v11.7h-11.2zM761.4 969.1h11.2v11.7h-11.2zM643.7 980.4h11.2v11.7h-11.2zM675.8 980.4h11.2v11.7h-11.2zM643.7 991.6h11.2v11.7h-11.2zM804.2 991.6h11.2v11.7h-11.2zM665.1 1002.9h11.2v11.7h-11.2zM675.8 1002.9h11.2v11.7h-11.2zM633 1014.1h11.2v11.7h-11.2zM654.4 1014.1h11.2v11.7h-11.2zM665.1 1014.1h11.2v11.7h-11.2zM675.8 1025.3h11.2v11.7h-11.2zM686.5 1025.3h11.2v11.7h-11.2zM740 1025.3h11.2v11.7h-11.2zM633 1036.6h11.2v11.7h-11.2zM707.9 1036.6h11.2v11.7h-11.2zM729.3 1036.6h11.2v11.7h-11.2z"/>
<path fill="#0042ff" d="M686.5 845.5h11.2v11.7h-11.2zM729.3 845.5h11.2v11.7h-11.2zM686.5 856.7h11.2v11.7h-11.2zM729.3 856.7h11.2v11.7h-11.2zM643.7 868h11.2v11.7h-11.2zM665.1 868h11.2v11.7h-11.2zM686.5 868h11.2v11.7h-11.2zM729.3 868h11.2v11.7h-11.2zM686.5 879.2h11.2v11.7h-11.2zM729.3 879.2h11.2v11.7h-11.2zM740 890.5h11.2v11.7h-11.2zM740 901.7h11.2v11.7h-11.2zM740 912.9h11.2v11.7h-11.2zM740 924.2h11.2v11.7h-11.2zM740 935.4h11.2v11.7h-11.2zM729.3 946.7h11.2v11.7h-11.2zM686.5 957.9h11.2v11.7h-11.2zM729.3 957.9h11.2v11.7h-11.2zM643.7 969.1h11.2v11.7h-11.2zM686.5 969.1h11.2v11.7h-11.2zM740 969.1h11.2v11.7h-11.2zM633 980.4h11.2v11.7h-11.2zM686.5 980.4h11.2v11.7h-11.2zM740 980.4h11.2v11.7h-11.2zM675.8 991.6h11.2v11.7h-11.2zM654.4 1002.9h11.2v11.7h-11.2zM740 1002.9h11.2v11.7h-11.2zM665.1 1047.8h11.2v11.7h-11.2z"/>
<path fill="#0080ff" d="M697.2 845.5h11.2v11.7h-11.2zM707.9 845.5h11.2v11.7h-11.2zM718.6 845.5h11.2v11.7h-11.2zM697.2 856.7h11.2v11.7h-11.2zM707.9 856.7h11.2v11.7h-11.2zM718.6 856.7h11.2v11.7h-11.2zM697.2 868h11.2v11.7h-11.2zM707.9 868h11.2v11.7h-11.2zM718.6 868h11.2v11.7h-11.2zM718.6 879.2h11.2v11.7h-11.2zM686.5 890.5h11.2v11.7h-11.2zM729.3 890.5h11.2v11.7h-11.2zM686.5 901.7h11.2v11.7h-11.2zM729.3 901.7h11.2v11.7h-11.2zM686.5 912.9h11.2v11.7h-11.2zM729.3 912.9h11.2v11.7h-11.2zM686.5 924.2h11.2v11.7h-11.2zM729.3 924.2h11.2v11.7h-11.2zM686.5 935.4h11.2v11.7h-11.2zM718.6 935.4h11.2v11.7h-11.2zM729.3 935.4h11.2v11.7h-11.2zM686.5 946.7h11.2v11.7h-11.2zM718.6 946.7h11.2v11.7h-11.2zM718.6 957.9h11.2v11.7h-11.2zM718.6 969.1h11.2v11.7h-11.2zM729.3 980.4h11.2v11.7h-11.2zM633 991.6h11.2v11.7h-11.2zM740 991.6h11.2v11.7h-11.2zM643.7 1002.9h11.2v11.7h-11.2zM643.7 1014.1h11.2v11.7h-11.2zM665.1 1025.3h11.2v11.7h-11.2zM675.8 1036.6h11.2v11.7h-11.2zM697.2 1036.6h11.2v11.7h-11.2zM718.6 1036.6h11.2v11.7h-11.2z"/>
<path fill="#00bdff" d="M697.2 879.2h11.2v11.7h-11.2zM707.9 879.2h11.2v11.7h-11.2zM718.6 890.5h11.2v11.7h-11.2zM718.6 924.2h11.2v11.7h-11.2zM697.2 935.4h11.2v11.7h-11.2zM707.9 935.4h11.2v11.7h-11.2zM697.2 946.7h11.2v11.7h-11.2zM707.9 946.7h11.2v11.7h-11.2zM697.2 957.9h11.2v11.7h-11.2zM707.9 957.9h11.2v11.7h-11.2zM697.2 969.1h11.2v11.7h-11.2zM707.9 969.1h11.2v11.7h-11.2zM697.2 980.4h11.2v11.7h-11.2zM707.9 980.4h11.2v11.7h-11.2zM718.6 980.4h11.2v11.7h-11.2zM686.5 991.6h11.2v11.7h-11.2zM686.5 1014.1h11.2v11.7h-11.2z"/>
<path fill="#00ffff" d="M697.2 890.5h11.2v11.7h-11.2zM707.9 890.5h11.2v11.7h-11.2zM697.2 901.7h11.2v11.7h-11.2zM707.9 901.7h11.2v11.7h-11.2zM718.6 901.7h11.2v11.7h-11.2zM697.2 912.9h11.2v11.7h-11.2zM707.9 912.9h11.2v11.7h-11.2zM718.6 912.9h11.2v11.7h-11.2zM697.2 924.2h11.2v11.7h-11.2zM707.9 924.2h11.2v11.7h-11.2zM729.3 991.6h11.2v11.7h-11.2zM729.3 1014.1h11.2v11.7h-11.2zM643.7 1025.3h11.2v11.7h-11.2zM654.4 1025.3h11.2v11.7h-11.2z"/>
<path fill="#00008a" d="M665.1 912.9h11.2v11.7h-11.2zM772.1 924.2h11.2v11.7h-11.2zM814.9 924.2h11.2v11.7h-11.2zM633 935.4h11.2v11.7h-11.2zM633 946.7h11.2v11.7h-11.2zM654.4 946.7h11.2v11.7h-11.2zM633 957.9h11.2v11.7h-11.2zM665.1 957.9h11.2v11.7h-11.2zM814.9 980.4h11.2v11.7h-11.2zM825.6 980.4h11.2v11.7h-11.2zM750.7 991.6h11.2v11.7h-11.2zM761.4 1002.9h11.2v11.7h-11.2zM793.5 1002.9h11.2v11.7h-11.2zM804.2 1002.9h11.2v11.7h-11.2zM814.9 1002.9h11.2v11.7h-11.2zM825.6 1002.9h11.2v11.7h-11.2zM836.3 1002.9h10.7v11.7h-10.7zM675.8 1014.1h11.2v11.7h-11.2zM761.4 1014.1h11.2v11.7h-11.2zM772.1 1014.1h11.2v11.7h-11.2zM782.8 1014.1h11.2v11.7h-11.2zM793.5 1014.1h11.2v11.7h-11.2zM804.2 1014.1h11.2v11.7h-11.2zM814.9 1014.1h11.2v11.7h-11.2zM836.3 1014.1h10.7v11.7h-10.7zM772.1 1025.3h11.2v11.7h-11.2zM782.8 1025.3h11.2v11.7h-11.2zM793.5 1025.3h11.2v11.7h-11.2zM804.2 1025.3h11.2v11.7h-11.2zM814.9 1025.3h11.2v11.7h-11.2zM825.6 1025.3h11.2v11.7h-11.2zM836.3 1025.3h10.7v11.7h-10.7zM750.7 1036.6h11.2v11.7h-11.2zM761.4 1036.6h11.2v11.7h-11.2zM772.1 1036.6h11.2v11.7h-11.2zM782.8 1036.6h11.2v11.7h-11.2zM793.5 1036.6h11.2v11.7h-11.2zM804.2 1036.6h11.2v11.7h-11.2zM814.9 1036.6h11.2v11.7h-11.2zM836.3 1036.6h10.7v11.7h-10.7zM707.9 1047.8h11.2v11.7h-11.2zM729.3 1047.8h11.2v11.7h-11.2zM740 1047.8h11.2v11.7h-11.2zM750.7 1047.8h11.2v11.7h-11.2zM761.4 1047.8h11.2v11.7h-11.2zM772.1 1047.8h11.2v11.7h-11.2zM782.8 1047.8h11.2v11.7h-11.2zM793.5 1047.8h11.2v11.7h-11.2zM804.2 1047.8h11.2v11.7h-11.2zM814.9 1047.8h11.2v11.7h-11.2zM825.6 1047.8h11.2v11.7h-11.2zM836.3 1047.8h10.7v11.7h-10.7zM654.4 1059.1h11.2v11.2h-11.2zM665.1 1059.1h11.2v11.2h-11.2zM675.8 1059.1h11.2v11.2h-11.2zM686.5 1059.1h11.2v11.2h-11.2zM697.2 1059.1h11.2v11.2h-11.2zM718.6 1059.1h11.2v11.2h-11.2zM740 1059.1h11.2v11.2h-11.2zM750.7 1059.1h11.2v11.2h-11.2zM761.4 1059.1h11.2v11.2h-11.2zM772.1 1059.1h11.2v11.2h-11.2zM782.8 1059.1h11.2v11.2h-11.2zM793.5 1059.1h11.2v11.2h-11.2zM804.2 1059.1h11.2v11.2h-11.2zM814.9 1059.1h11.2v11.2h-11.2zM825.6 1059.1h11.2v11.2h-11.2zM836.3 1059.1h10.7v11.2h-10.7z"/>
<path fill="#42ffbd" d="M697.2 991.6h11.2v11.7h-11.2zM707.9 991.6h11.2v11.7h-11.2zM718.6 991.6h11.2v11.7h-11.2zM633 1002.9h11.2v11.7h-11.2zM729.3 1002.9h11.2v11.7h-11.2zM633 1025.3h11.2v11.7h-11.2zM729.3 1025.3h11.2v11.7h-11.2z"/>
<path fill="#94ff6b" d="M686.5 1002.9h11.2v11.7h-11.2zM707.9 1002.9h11.2v11.7h-11.2zM718.6 1002.9h11.2v11.7h-11.2zM697.2 1025.3h11.2v11.7h-11.2zM707.9 1025.3h11.2v11.7h-11.2z"/>
<path fill="#ffdb00" d="M697.2 1002.9h11.2v11.7h-11.2zM654.4 1036.6h11.2v11.7h-11.2z"/>
<path fill="#ff4c00" d="M697.2 1014.1h11.2v11.7h-11.2zM633 1047.8h11.2v11.7h-11.2z"/>
<path fill="#ff9e00" d="M707.9 1014.1h11.2v11.7h-11.2z"/>
<path fill="#e5ff1a" d="M718.6 1014.1h11.2v11.7h-11.2zM718.6 1025.3h11.2v11.7h-11.2zM643.7 1036.6h11.2v11.7h-11.2zM665.1 1036.6h11.2v11.7h-11.2zM654.4 1047.8h11.2v11.7h-11.2z"/>
<path fill="#800000" d="M643.7 1047.8h11.2v11.7h-11.2zM643.7 1059.1h11.2v11.2h-11.2z"/>
<path fill="#ff0f00" d="M633 1059.1h11.2v11.2h-11.2z"/>
</g>
<text x="575.06" y="858.39" font-size="28.5" font-weight="normal" font-style="normal" fill="#000" stroke="#000" stroke-width="0.45" transform="translate(0 -85.84) scale(1 1.1)">200</text>
<text x="575.06" y="965.39" font-size="28.5" font-weight="normal" font-style="normal" fill="#000" stroke="#000" stroke-width="0.45" transform="translate(0 -96.54) scale(1 1.1)">100</text>
<text x="596.36" y="1072.69" font-size="28.5" font-weight="normal" font-style="normal" fill="#000" stroke="#000" stroke-width="0.45" transform="translate(0 -107.27) scale(1 1.1)">0</text>
<text x="718.22" y="1095.19" font-size="28.5" font-weight="normal" font-style="normal" fill="#000" stroke="#000" stroke-width="0.45" transform="translate(0 -109.52) scale(1 1.1)">10</text>
<text x="819.59" y="1095.19" font-size="28.5" font-weight="normal" font-style="normal" fill="#000" stroke="#000" stroke-width="0.45" transform="translate(0 -109.52) scale(1 1.1)">20</text>
<g shape-rendering="crispEdges">
<path fill="#b3ff4c" d="M1029 845.5h11.1v11.7h-11.1zM1050.2 845.5h11.1v11.7h-11.1zM1114 845.5h11.1v11.7h-11.1zM1124.6 845.5h11.1v11.7h-11.1zM1145.8 845.5h11.1v11.7h-11.1zM1167.1 845.5h11.1v11.7h-11.1zM1177.7 845.5h11.1v11.7h-11.1zM1188.3 845.5h11.1v11.7h-11.1zM1198.9 845.5h11.1v11.7h-11.1zM1209.5 845.5h11.1v11.7h-11.1zM1220.2 845.5h11.1v11.7h-11.1zM1230.8 845.5h10.6v11.7h-10.6zM1156.4 856.7h11.1v11.7h-11.1zM1167.1 856.7h11.1v11.7h-11.1zM1209.5 856.7h11.1v11.7h-11.1zM1220.2 856.7h11.1v11.7h-11.1zM1029 868h11.1v11.7h-11.1zM1050.2 868h11.1v11.7h-11.1zM1156.4 868h11.1v11.7h-11.1zM1167.1 868h11.1v11.7h-11.1zM1220.2 868h11.1v11.7h-11.1zM1230.8 868h10.6v11.7h-10.6zM1029 879.2h11.1v11.7h-11.1zM1050.2 879.2h11.1v11.7h-11.1zM1177.7 879.2h11.1v11.7h-11.1zM1198.9 879.2h11.1v11.7h-11.1zM1220.2 879.2h11.1v11.7h-11.1zM1029 890.5h11.1v11.7h-11.1zM1167.1 890.5h11.1v11.7h-11.1zM1177.7 890.5h11.1v11.7h-11.1zM1188.3 890.5h11.1v11.7h-11.1zM1198.9 890.5h11.1v11.7h-11.1zM1209.5 890.5h11.1v11.7h-11.1zM1230.8 890.5h10.6v11.7h-10.6zM1029 901.7h11.1v11.7h-11.1zM1039.6 901.7h11.1v11.7h-11.1zM1082.1 901.7h11.1v11.7h-11.1zM1156.4 901.7h11.1v11.7h-11.1zM1188.3 901.7h11.1v11.7h-11.1zM1198.9 901.7h11.1v11.7h-11.1zM1209.5 901.7h11.1v11.7h-11.1zM1220.2 901.7h11.1v11.7h-11.1zM1029 912.9h11.1v11.7h-11.1zM1060.9 912.9h11.1v11.7h-11.1zM1082.1 912.9h11.1v11.7h-11.1zM1167.1 912.9h11.1v11.7h-11.1zM1177.7 912.9h11.1v11.7h-11.1zM1188.3 912.9h11.1v11.7h-11.1zM1198.9 912.9h11.1v11.7h-11.1zM1209.5 912.9h11.1v11.7h-11.1zM1230.8 912.9h10.6v11.7h-10.6zM1039.6 924.2h11.1v11.7h-11.1zM1060.9 924.2h11.1v11.7h-11.1zM1071.5 924.2h11.1v11.7h-11.1zM1082.1 924.2h11.1v11.7h-11.1zM1156.4 924.2h11.1v11.7h-11.1zM1177.7 924.2h11.1v11.7h-11.1zM1188.3 924.2h11.1v11.7h-11.1zM1198.9 924.2h11.1v11.7h-11.1zM1050.2 935.4h11.1v11.7h-11.1zM1082.1 935.4h11.1v11.7h-11.1zM1167.1 935.4h11.1v11.7h-11.1zM1177.7 935.4h11.1v11.7h-11.1zM1188.3 935.4h11.1v11.7h-11.1zM1198.9 935.4h11.1v11.7h-11.1zM1209.5 935.4h11.1v11.7h-11.1zM1082.1 946.7h11.1v11.7h-11.1zM1145.8 946.7h11.1v11.7h-11.1zM1167.1 946.7h11.1v11.7h-11.1zM1188.3 946.7h11.1v11.7h-11.1zM1156.4 957.9h11.1v11.7h-11.1zM1177.7 957.9h11.1v11.7h-11.1zM1209.5 957.9h11.1v11.7h-11.1zM1220.2 957.9h11.1v11.7h-11.1zM1029 969.1h11.1v11.7h-11.1zM1050.2 969.1h11.1v11.7h-11.1zM1071.5 969.1h11.1v11.7h-11.1zM1082.1 969.1h11.1v11.7h-11.1zM1230.8 969.1h10.6v11.7h-10.6zM1060.9 980.4h11.1v11.7h-11.1zM1124.6 980.4h11.1v11.7h-11.1zM1156.4 991.6h11.1v11.7h-11.1zM1209.5 991.6h11.1v11.7h-11.1zM1071.5 1002.9h11.1v11.7h-11.1zM1060.9 1025.3h11.1v11.7h-11.1zM1114 1025.3h11.1v11.7h-11.1zM1103.3 1059.1h11.1v11.2h-11.1zM1124.6 1059.1h11.1v11.2h-11.1z"/>
<path fill="#dbff24" d="M1039.6 845.5h11.1v11.7h-11.1zM1060.9 845.5h11.1v11.7h-11.1zM1071.5 845.5h11.1v11.7h-11.1zM1082.1 845.5h11.1v11.7h-11.1zM1156.4 845.5h11.1v11.7h-11.1zM1039.6 856.7h11.1v11.7h-11.1zM1050.2 856.7h11.1v11.7h-11.1zM1071.5 856.7h11.1v11.7h-11.1zM1082.1 856.7h11.1v11.7h-11.1zM1071.5 868h11.1v11.7h-11.1zM1082.1 868h11.1v11.7h-11.1zM1177.7 868h11.1v11.7h-11.1zM1188.3 868h11.1v11.7h-11.1zM1198.9 868h11.1v11.7h-11.1zM1209.5 868h11.1v11.7h-11.1zM1039.6 879.2h11.1v11.7h-11.1zM1060.9 879.2h11.1v11.7h-11.1zM1071.5 879.2h11.1v11.7h-11.1zM1082.1 879.2h11.1v11.7h-11.1zM1156.4 879.2h11.1v11.7h-11.1zM1188.3 879.2h11.1v11.7h-11.1zM1039.6 890.5h11.1v11.7h-11.1zM1050.2 890.5h11.1v11.7h-11.1zM1060.9 890.5h11.1v11.7h-11.1zM1071.5 890.5h11.1v11.7h-11.1zM1082.1 890.5h11.1v11.7h-11.1zM1220.2 890.5h11.1v11.7h-11.1zM1050.2 901.7h11.1v11.7h-11.1zM1060.9 901.7h11.1v11.7h-11.1zM1071.5 901.7h11.1v11.7h-11.1zM1167.1 901.7h11.1v11.7h-11.1zM1039.6 912.9h11.1v11.7h-11.1zM1050.2 912.9h11.1v11.7h-11.1zM1071.5 912.9h11.1v11.7h-11.1zM1220.2 912.9h11.1v11.7h-11.1zM1050.2 924.2h11.1v11.7h-11.1zM1039.6 935.4h11.1v11.7h-11.1zM1060.9 935.4h11.1v11.7h-11.1zM1071.5 935.4h11.1v11.7h-11.1zM1156.4 935.4h11.1v11.7h-11.1zM1039.6 946.7h11.1v11.7h-11.1zM1060.9 946.7h11.1v11.7h-11.1zM1230.8 946.7h10.6v11.7h-10.6zM1135.2 957.9h11.1v11.7h-11.1zM1167.1 957.9h11.1v11.7h-11.1zM1060.9 969.1h11.1v11.7h-11.1zM1039.6 980.4h11.1v11.7h-11.1zM1050.2 980.4h11.1v11.7h-11.1zM1071.5 980.4h11.1v11.7h-11.1zM1135.2 980.4h11.1v11.7h-11.1zM1039.6 991.6h11.1v11.7h-11.1zM1060.9 991.6h11.1v11.7h-11.1zM1060.9 1002.9h11.1v11.7h-11.1zM1060.9 1014.1h11.1v11.7h-11.1zM1220.2 1014.1h11.1v11.7h-11.1zM1071.5 1025.3h11.1v11.7h-11.1zM1124.6 1025.3h11.1v11.7h-11.1zM1071.5 1047.8h11.1v11.7h-11.1z"/>
<path fill="#8aff75" d="M1092.7 845.5h11.1v11.7h-11.1zM1103.3 845.5h11.1v11.7h-11.1zM1135.2 845.5h11.1v11.7h-11.1zM1029 856.7h11.1v11.7h-11.1zM1092.7 856.7h11.1v11.7h-11.1zM1103.3 856.7h11.1v11.7h-11.1zM1114 856.7h11.1v11.7h-11.1zM1124.6 856.7h11.1v11.7h-11.1zM1135.2 856.7h11.1v11.7h-11.1zM1145.8 856.7h11.1v11.7h-11.1zM1177.7 856.7h11.1v11.7h-11.1zM1188.3 856.7h11.1v11.7h-11.1zM1198.9 856.7h11.1v11.7h-11.1zM1230.8 856.7h10.6v11.7h-10.6zM1092.7 868h11.1v11.7h-11.1zM1103.3 868h11.1v11.7h-11.1zM1114 868h11.1v11.7h-11.1zM1124.6 868h11.1v11.7h-11.1zM1135.2 868h11.1v11.7h-11.1zM1145.8 868h11.1v11.7h-11.1zM1092.7 879.2h11.1v11.7h-11.1zM1103.3 879.2h11.1v11.7h-11.1zM1114 879.2h11.1v11.7h-11.1zM1124.6 879.2h11.1v11.7h-11.1zM1167.1 879.2h11.1v11.7h-11.1zM1209.5 879.2h11.1v11.7h-11.1zM1230.8 879.2h10.6v11.7h-10.6zM1092.7 890.5h11.1v11.7h-11.1zM1103.3 890.5h11.1v11.7h-11.1zM1114 890.5h11.1v11.7h-11.1zM1124.6 890.5h11.1v11.7h-11.1zM1135.2 890.5h11.1v11.7h-11.1zM1156.4 890.5h11.1v11.7h-11.1zM1092.7 901.7h11.1v11.7h-11.1zM1103.3 901.7h11.1v11.7h-11.1zM1114 901.7h11.1v11.7h-11.1zM1124.6 901.7h11.1v11.7h-11.1zM1177.7 901.7h11.1v11.7h-11.1zM1230.8 901.7h10.6v11.7h-10.6zM1092.7 912.9h11.1v11.7h-11.1zM1103.3 912.9h11.1v11.7h-11.1zM1114 912.9h11.1v11.7h-11.1zM1124.6 912.9h11.1v11.7h-11.1zM1145.8 912.9h11.1v11.7h-11.1zM1156.4 912.9h11.1v11.7h-11.1zM1092.7 924.2h11.1v11.7h-11.1zM1103.3 924.2h11.1v11.7h-11.1zM1167.1 924.2h11.1v11.7h-11.1zM1209.5 924.2h11.1v11.7h-11.1zM1220.2 924.2h11.1v11.7h-11.1zM1092.7 935.4h11.1v11.7h-11.1zM1103.3 935.4h11.1v11.7h-11.1zM1135.2 935.4h11.1v11.7h-11.1zM1145.8 935.4h11.1v11.7h-11.1zM1220.2 935.4h11.1v11.7h-11.1zM1230.8 935.4h10.6v11.7h-10.6zM1050.2 946.7h11.1v11.7h-11.1zM1071.5 946.7h11.1v11.7h-11.1zM1092.7 946.7h11.1v11.7h-11.1zM1103.3 946.7h11.1v11.7h-11.1zM1156.4 946.7h11.1v11.7h-11.1zM1177.7 946.7h11.1v11.7h-11.1zM1198.9 946.7h11.1v11.7h-11.1zM1220.2 946.7h11.1v11.7h-11.1zM1029 957.9h11.1v11.7h-11.1zM1050.2 957.9h11.1v11.7h-11.1zM1060.9 957.9h11.1v11.7h-11.1zM1071.5 957.9h11.1v11.7h-11.1zM1082.1 957.9h11.1v11.7h-11.1zM1092.7 957.9h11.1v11.7h-11.1zM1103.3 957.9h11.1v11.7h-11.1zM1114 957.9h11.1v11.7h-11.1zM1124.6 957.9h11.1v11.7h-11.1zM1188.3 957.9h11.1v11.7h-11.1zM1103.3 969.1h11.1v11.7h-11.1zM1114 969.1h11.1v11.7h-11.1zM1124.6 969.1h11.1v11.7h-11.1zM1177.7 969.1h11.1v11.7h-11.1zM1188.3 969.1h11.1v11.7h-11.1zM1220.2 969.1h11.1v11.7h-11.1zM1092.7 980.4h11.1v11.7h-11.1zM1103.3 980.4h11.1v11.7h-11.1zM1114 980.4h11.1v11.7h-11.1zM1145.8 980.4h11.1v11.7h-11.1zM1156.4 980.4h11.1v11.7h-11.1zM1177.7 980.4h11.1v11.7h-11.1zM1188.3 980.4h11.1v11.7h-11.1zM1198.9 980.4h11.1v11.7h-11.1zM1209.5 980.4h11.1v11.7h-11.1zM1220.2 980.4h11.1v11.7h-11.1zM1050.2 991.6h11.1v11.7h-11.1zM1082.1 991.6h11.1v11.7h-11.1zM1092.7 991.6h11.1v11.7h-11.1zM1103.3 991.6h11.1v11.7h-11.1zM1114 991.6h11.1v11.7h-11.1zM1124.6 991.6h11.1v11.7h-11.1zM1135.2 991.6h11.1v11.7h-11.1zM1188.3 991.6h11.1v11.7h-11.1zM1198.9 991.6h11.1v11.7h-11.1zM1220.2 991.6h11.1v11.7h-11.1zM1145.8 1002.9h11.1v11.7h-11.1zM1156.4 1002.9h11.1v11.7h-11.1zM1167.1 1002.9h11.1v11.7h-11.1zM1220.2 1002.9h11.1v11.7h-11.1zM1050.2 1014.1h11.1v11.7h-11.1zM1071.5 1014.1h11.1v11.7h-11.1zM1167.1 1014.1h11.1v11.7h-11.1zM1177.7 1014.1h11.1v11.7h-11.1zM1188.3 1014.1h11.1v11.7h-11.1zM1198.9 1014.1h11.1v11.7h-11.1zM1209.5 1014.1h11.1v11.7h-11.1zM1230.8 1014.1h10.6v11.7h-10.6zM1135.2 1025.3h11.1v11.7h-11.1zM1145.8 1025.3h11.1v11.7h-11.1zM1156.4 1025.3h11.1v11.7h-11.1zM1220.2 1025.3h11.1v11.7h-11.1zM1230.8 1025.3h10.6v11.7h-10.6zM1082.1 1036.6h11.1v11.7h-11.1zM1124.6 1036.6h11.1v11.7h-11.1zM1135.2 1036.6h11.1v11.7h-11.1zM1145.8 1036.6h11.1v11.7h-11.1zM1167.1 1036.6h11.1v11.7h-11.1zM1177.7 1036.6h11.1v11.7h-11.1zM1188.3 1036.6h11.1v11.7h-11.1zM1198.9 1036.6h11.1v11.7h-11.1zM1209.5 1036.6h11.1v11.7h-11.1zM1220.2 1036.6h11.1v11.7h-11.1zM1230.8 1036.6h10.6v11.7h-10.6zM1114 1047.8h11.1v11.7h-11.1zM1124.6 1047.8h11.1v11.7h-11.1zM1135.2 1047.8h11.1v11.7h-11.1zM1145.8 1047.8h11.1v11.7h-11.1zM1156.4 1047.8h11.1v11.7h-11.1zM1167.1 1047.8h11.1v11.7h-11.1zM1177.7 1047.8h11.1v11.7h-11.1zM1188.3 1047.8h11.1v11.7h-11.1zM1198.9 1047.8h11.1v11.7h-11.1zM1209.5 1047.8h11.1v11.7h-11.1zM1220.2 1047.8h11.1v11.7h-11.1zM1230.8 1047.8h10.6v11.7h-10.6zM1050.2 1059.1h11.1v11.2h-11.1zM1060.9 1059.1h11.1v11.2h-11.1zM1071.5 1059.1h11.1v11.2h-11.1zM1082.1 1059.1h11.1v11.2h-11.1zM1092.7 1059.1h11.1v11.2h-11.1zM1114 1059.1h11.1v11.2h-11.1zM1135.2 1059.1h11.1v11.2h-11.1zM1145.8 1059.1h11.1v11.2h-11.1zM1167.1 1059.1h11.1v11.2h-11.1zM1188.3 1059.1h11.1v11.2h-11.1zM1230.8 1059.1h10.6v11.2h-10.6z"/>
<path fill="#ffff00" d="M1060.9 856.7h11.1v11.7h-11.1zM1039.6 868h11.1v11.7h-11.1zM1060.9 868h11.1v11.7h-11.1zM1039.6 957.9h11.1v11.7h-11.1zM1156.4 969.1h11.1v11.7h-11.1zM1071.5 991.6h11.1v11.7h-11.1zM1082.1 1002.9h11.1v11.7h-11.1zM1029 1014.1h11.1v11.7h-11.1zM1039.6 1014.1h11.1v11.7h-11.1zM1060.9 1047.8h11.1v11.7h-11.1z"/>
<path fill="#6bff94" d="M1135.2 879.2h11.1v11.7h-11.1zM1145.8 879.2h11.1v11.7h-11.1zM1145.8 890.5h11.1v11.7h-11.1zM1135.2 901.7h11.1v11.7h-11.1zM1145.8 901.7h11.1v11.7h-11.1zM1135.2 912.9h11.1v11.7h-11.1zM1029 924.2h11.1v11.7h-11.1zM1114 924.2h11.1v11.7h-11.1zM1124.6 924.2h11.1v11.7h-11.1zM1135.2 924.2h11.1v11.7h-11.1zM1145.8 924.2h11.1v11.7h-11.1zM1230.8 924.2h10.6v11.7h-10.6zM1029 935.4h11.1v11.7h-11.1zM1114 935.4h11.1v11.7h-11.1zM1124.6 935.4h11.1v11.7h-11.1zM1114 946.7h11.1v11.7h-11.1zM1124.6 946.7h11.1v11.7h-11.1zM1135.2 946.7h11.1v11.7h-11.1zM1209.5 946.7h11.1v11.7h-11.1zM1145.8 957.9h11.1v11.7h-11.1zM1198.9 957.9h11.1v11.7h-11.1zM1230.8 957.9h10.6v11.7h-10.6zM1092.7 969.1h11.1v11.7h-11.1zM1145.8 969.1h11.1v11.7h-11.1zM1167.1 969.1h11.1v11.7h-11.1zM1198.9 969.1h11.1v11.7h-11.1zM1209.5 969.1h11.1v11.7h-11.1zM1082.1 980.4h11.1v11.7h-11.1zM1167.1 980.4h11.1v11.7h-11.1zM1230.8 980.4h10.6v11.7h-10.6zM1167.1 991.6h11.1v11.7h-11.1zM1177.7 991.6h11.1v11.7h-11.1zM1230.8 991.6h10.6v11.7h-10.6zM1092.7 1002.9h11.1v11.7h-11.1zM1114 1002.9h11.1v11.7h-11.1zM1124.6 1002.9h11.1v11.7h-11.1zM1135.2 1002.9h11.1v11.7h-11.1zM1177.7 1002.9h11.1v11.7h-11.1zM1188.3 1002.9h11.1v11.7h-11.1zM1209.5 1002.9h11.1v11.7h-11.1zM1230.8 1002.9h10.6v11.7h-10.6zM1156.4 1014.1h11.1v11.7h-11.1zM1209.5 1025.3h11.1v11.7h-11.1zM1114 1036.6h11.1v11.7h-11.1zM1156.4 1036.6h11.1v11.7h-11.1zM1082.1 1047.8h11.1v11.7h-11.1zM1092.7 1047.8h11.1v11.7h-11.1zM1103.3 1047.8h11.1v11.7h-11.1zM1156.4 1059.1h11.1v11.2h-11.1zM1177.7 1059.1h11.1v11.2h-11.1zM1198.9 1059.1h11.1v11.2h-11.1zM1209.5 1059.1h11.1v11.2h-11.1z"/>
<path fill="#42ffbd" d="M1029 946.7h11.1v11.7h-11.1zM1145.8 991.6h11.1v11.7h-11.1zM1103.3 1002.9h11.1v11.7h-11.1zM1198.9 1002.9h11.1v11.7h-11.1zM1103.3 1014.1h11.1v11.7h-11.1zM1145.8 1014.1h11.1v11.7h-11.1zM1167.1 1025.3h11.1v11.7h-11.1zM1177.7 1025.3h11.1v11.7h-11.1zM1188.3 1025.3h11.1v11.7h-11.1zM1198.9 1025.3h11.1v11.7h-11.1zM1029 1036.6h11.1v11.7h-11.1zM1092.7 1036.6h11.1v11.7h-11.1zM1220.2 1059.1h11.1v11.2h-11.1z"/>
<path fill="#ffd100" d="M1039.6 969.1h11.1v11.7h-11.1zM1135.2 969.1h11.1v11.7h-11.1zM1050.2 1002.9h11.1v11.7h-11.1z"/>
<path fill="#ff9e00" d="M1029 980.4h11.1v11.7h-11.1zM1029 991.6h11.1v11.7h-11.1zM1039.6 1002.9h11.1v11.7h-11.1zM1039.6 1025.3h11.1v11.7h-11.1zM1071.5 1036.6h11.1v11.7h-11.1z"/>
<path fill="#ff6100" d="M1029 1002.9h11.1v11.7h-11.1zM1060.9 1036.6h11.1v11.7h-11.1z"/>
<path fill="#0094ff" d="M1082.1 1014.1h11.1v11.7h-11.1zM1082.1 1025.3h11.1v11.7h-11.1zM1103.3 1036.6h11.1v11.7h-11.1z"/>
<path fill="#05fffa" d="M1092.7 1014.1h11.1v11.7h-11.1zM1114 1014.1h11.1v11.7h-11.1zM1092.7 1025.3h11.1v11.7h-11.1zM1103.3 1025.3h11.1v11.7h-11.1z"/>
<path fill="#00d1ff" d="M1124.6 1014.1h11.1v11.7h-11.1zM1135.2 1014.1h11.1v11.7h-11.1z"/>
<path fill="#ff2400" d="M1029 1025.3h11.1v11.7h-11.1zM1050.2 1025.3h11.1v11.7h-11.1zM1050.2 1036.6h11.1v11.7h-11.1z"/>
<path fill="#800000" d="M1039.6 1036.6h11.1v11.7h-11.1zM1029 1047.8h11.1v11.7h-11.1zM1039.6 1047.8h11.1v11.7h-11.1zM1050.2 1047.8h11.1v11.7h-11.1zM1029 1059.1h11.1v11.2h-11.1zM1039.6 1059.1h11.1v11.2h-11.1z"/>
</g>
<text x="971.06" y="858.39" font-size="28.5" font-weight="normal" font-style="normal" fill="#000" stroke="#000" stroke-width="0.45" transform="translate(0 -85.84) scale(1 1.1)">200</text>
<text x="971.06" y="965.39" font-size="28.5" font-weight="normal" font-style="normal" fill="#000" stroke="#000" stroke-width="0.45" transform="translate(0 -96.54) scale(1 1.1)">100</text>
<text x="992.36" y="1072.69" font-size="28.5" font-weight="normal" font-style="normal" fill="#000" stroke="#000" stroke-width="0.45" transform="translate(0 -107.27) scale(1 1.1)">0</text>
<text x="1114.22" y="1095.19" font-size="28.5" font-weight="normal" font-style="normal" fill="#000" stroke="#000" stroke-width="0.45" transform="translate(0 -109.52) scale(1 1.1)">10</text>
<text x="1215.59" y="1095.19" font-size="28.5" font-weight="normal" font-style="normal" fill="#000" stroke="#000" stroke-width="0.45" transform="translate(0 -109.52) scale(1 1.1)">20</text>
<g shape-rendering="crispEdges">
<path fill="#00008a" d="M279 1158.5h11.2v11.7h-11.2zM289.7 1158.5h11.2v11.7h-11.2zM300.4 1158.5h11.2v11.7h-11.2zM311.1 1158.5h11.2v11.7h-11.2zM321.8 1158.5h11.2v11.7h-11.2zM279 1169.7h11.2v11.7h-11.2zM289.7 1169.7h11.2v11.7h-11.2zM300.4 1169.7h11.2v11.7h-11.2zM311.1 1169.7h11.2v11.7h-11.2zM321.8 1169.7h11.2v11.7h-11.2zM279 1181h11.2v11.7h-11.2zM289.7 1181h11.2v11.7h-11.2zM300.4 1181h11.2v11.7h-11.2zM311.1 1181h11.2v11.7h-11.2zM321.8 1181h11.2v11.7h-11.2zM279 1192.2h11.2v11.7h-11.2zM289.7 1192.2h11.2v11.7h-11.2zM300.4 1192.2h11.2v11.7h-11.2zM311.1 1192.2h11.2v11.7h-11.2zM321.8 1192.2h11.2v11.7h-11.2zM279 1203.5h11.2v11.7h-11.2zM289.7 1203.5h11.2v11.7h-11.2zM300.4 1203.5h11.2v11.7h-11.2zM311.1 1203.5h11.2v11.7h-11.2zM321.8 1203.5h11.2v11.7h-11.2zM279 1214.7h11.2v11.7h-11.2zM289.7 1214.7h11.2v11.7h-11.2zM300.4 1214.7h11.2v11.7h-11.2zM311.1 1214.7h11.2v11.7h-11.2zM321.8 1214.7h11.2v11.7h-11.2zM279 1225.9h11.2v11.7h-11.2zM289.7 1225.9h11.2v11.7h-11.2zM300.4 1225.9h11.2v11.7h-11.2zM311.1 1225.9h11.2v11.7h-11.2zM321.8 1225.9h11.2v11.7h-11.2zM279 1237.2h11.2v11.7h-11.2zM289.7 1237.2h11.2v11.7h-11.2zM300.4 1237.2h11.2v11.7h-11.2zM311.1 1237.2h11.2v11.7h-11.2zM321.8 1237.2h11.2v11.7h-11.2zM289.7 1248.4h11.2v11.7h-11.2zM300.4 1248.4h11.2v11.7h-11.2zM311.1 1248.4h11.2v11.7h-11.2zM321.8 1248.4h11.2v11.7h-11.2zM279 1259.7h11.2v11.7h-11.2zM289.7 1259.7h11.2v11.7h-11.2zM300.4 1259.7h11.2v11.7h-11.2zM311.1 1259.7h11.2v11.7h-11.2zM321.8 1259.7h11.2v11.7h-11.2zM289.7 1270.9h11.2v11.7h-11.2zM300.4 1270.9h11.2v11.7h-11.2zM321.8 1270.9h11.2v11.7h-11.2zM279 1282.1h11.2v11.7h-11.2zM289.7 1282.1h11.2v11.7h-11.2zM300.4 1282.1h11.2v11.7h-11.2zM321.8 1282.1h11.2v11.7h-11.2zM289.7 1293.4h11.2v11.7h-11.2zM300.4 1293.4h11.2v11.7h-11.2zM321.8 1293.4h11.2v11.7h-11.2zM289.7 1304.6h11.2v11.7h-11.2zM300.4 1304.6h11.2v11.7h-11.2zM321.8 1304.6h11.2v11.7h-11.2zM289.7 1315.9h11.2v11.7h-11.2zM311.1 1315.9h11.2v11.7h-11.2zM482.3 1315.9h10.7v11.7h-10.7zM279 1327.1h11.2v11.7h-11.2zM418.1 1327.1h11.2v11.7h-11.2zM482.3 1327.1h10.7v11.7h-10.7zM321.8 1338.3h11.2v11.7h-11.2zM407.4 1338.3h11.2v11.7h-11.2zM418.1 1338.3h11.2v11.7h-11.2zM428.8 1338.3h11.2v11.7h-11.2zM439.5 1338.3h11.2v11.7h-11.2zM450.2 1338.3h11.2v11.7h-11.2zM460.9 1338.3h11.2v11.7h-11.2zM471.6 1338.3h11.2v11.7h-11.2zM482.3 1338.3h10.7v11.7h-10.7zM279 1349.6h11.2v11.7h-11.2zM289.7 1349.6h11.2v11.7h-11.2zM311.1 1349.6h11.2v11.7h-11.2zM396.7 1349.6h11.2v11.7h-11.2zM407.4 1349.6h11.2v11.7h-11.2zM418.1 1349.6h11.2v11.7h-11.2zM428.8 1349.6h11.2v11.7h-11.2zM439.5 1349.6h11.2v11.7h-11.2zM450.2 1349.6h11.2v11.7h-11.2zM460.9 1349.6h11.2v11.7h-11.2zM471.6 1349.6h11.2v11.7h-11.2zM482.3 1349.6h10.7v11.7h-10.7zM332.5 1360.8h11.2v11.7h-11.2zM375.3 1360.8h11.2v11.7h-11.2zM396.7 1360.8h11.2v11.7h-11.2zM407.4 1360.8h11.2v11.7h-11.2zM418.1 1360.8h11.2v11.7h-11.2zM428.8 1360.8h11.2v11.7h-11.2zM439.5 1360.8h11.2v11.7h-11.2zM450.2 1360.8h11.2v11.7h-11.2zM460.9 1360.8h11.2v11.7h-11.2zM471.6 1360.8h11.2v11.7h-11.2zM482.3 1360.8h10.7v11.7h-10.7zM279 1372.1h11.2v11.2h-11.2zM289.7 1372.1h11.2v11.2h-11.2zM300.4 1372.1h11.2v11.2h-11.2zM311.1 1372.1h11.2v11.2h-11.2zM321.8 1372.1h11.2v11.2h-11.2zM332.5 1372.1h11.2v11.2h-11.2zM343.2 1372.1h11.2v11.2h-11.2zM353.9 1372.1h11.2v11.2h-11.2zM375.3 1372.1h11.2v11.2h-11.2zM386 1372.1h11.2v11.2h-11.2zM396.7 1372.1h11.2v11.2h-11.2zM407.4 1372.1h11.2v11.2h-11.2zM428.8 1372.1h11.2v11.2h-11.2zM460.9 1372.1h11.2v11.2h-11.2zM471.6 1372.1h11.2v11.2h-11.2zM482.3 1372.1h10.7v11.2h-10.7z"/>
<path fill="#0000bd" d="M332.5 1158.5h11.2v11.7h-11.2zM407.4 1158.5h11.2v11.7h-11.2zM418.1 1158.5h11.2v11.7h-11.2zM332.5 1169.7h11.2v11.7h-11.2zM279 1270.9h11.2v11.7h-11.2zM311.1 1270.9h11.2v11.7h-11.2zM311.1 1282.1h11.2v11.7h-11.2zM482.3 1304.6h10.7v11.7h-10.7zM471.6 1315.9h11.2v11.7h-11.2zM289.7 1327.1h11.2v11.7h-11.2zM471.6 1327.1h11.2v11.7h-11.2zM386 1349.6h11.2v11.7h-11.2zM321.8 1360.8h11.2v11.7h-11.2zM364.6 1360.8h11.2v11.7h-11.2z"/>
<path fill="#0080ff" d="M343.2 1158.5h11.2v11.7h-11.2zM343.2 1169.7h11.2v11.7h-11.2zM353.9 1169.7h11.2v11.7h-11.2zM364.6 1169.7h11.2v11.7h-11.2zM375.3 1169.7h11.2v11.7h-11.2zM353.9 1181h11.2v11.7h-11.2zM375.3 1181h11.2v11.7h-11.2zM353.9 1192.2h11.2v11.7h-11.2zM364.6 1192.2h11.2v11.7h-11.2zM353.9 1203.5h11.2v11.7h-11.2zM364.6 1203.5h11.2v11.7h-11.2zM353.9 1214.7h11.2v11.7h-11.2zM364.6 1214.7h11.2v11.7h-11.2zM353.9 1225.9h11.2v11.7h-11.2zM364.6 1225.9h11.2v11.7h-11.2zM364.6 1237.2h11.2v11.7h-11.2zM386 1259.7h11.2v11.7h-11.2zM332.5 1270.9h11.2v11.7h-11.2zM386 1270.9h11.2v11.7h-11.2zM439.5 1270.9h11.2v11.7h-11.2zM450.2 1270.9h11.2v11.7h-11.2zM332.5 1282.1h11.2v11.7h-11.2zM396.7 1282.1h11.2v11.7h-11.2zM428.8 1282.1h11.2v11.7h-11.2zM439.5 1282.1h11.2v11.7h-11.2zM450.2 1282.1h11.2v11.7h-11.2zM311.1 1293.4h11.2v11.7h-11.2zM332.5 1293.4h11.2v11.7h-11.2zM428.8 1293.4h11.2v11.7h-11.2zM439.5 1293.4h11.2v11.7h-11.2zM450.2 1293.4h11.2v11.7h-11.2zM279 1315.9h11.2v11.7h-11.2zM407.4 1315.9h11.2v11.7h-11.2zM418.1 1315.9h11.2v11.7h-11.2zM386 1338.3h11.2v11.7h-11.2zM332.5 1349.6h11.2v11.7h-11.2zM450.2 1372.1h11.2v11.2h-11.2z"/>
<path fill="#0042ff" d="M353.9 1158.5h11.2v11.7h-11.2zM364.6 1158.5h11.2v11.7h-11.2zM375.3 1158.5h11.2v11.7h-11.2zM386 1169.7h11.2v11.7h-11.2zM364.6 1181h11.2v11.7h-11.2zM386 1181h11.2v11.7h-11.2zM332.5 1192.2h11.2v11.7h-11.2zM386 1192.2h11.2v11.7h-11.2zM386 1203.5h11.2v11.7h-11.2zM428.8 1203.5h11.2v11.7h-11.2zM332.5 1214.7h11.2v11.7h-11.2zM386 1214.7h11.2v11.7h-11.2zM332.5 1225.9h11.2v11.7h-11.2zM386 1225.9h11.2v11.7h-11.2zM332.5 1237.2h11.2v11.7h-11.2zM386 1237.2h11.2v11.7h-11.2zM386 1248.4h11.2v11.7h-11.2zM332.5 1259.7h11.2v11.7h-11.2zM428.8 1259.7h11.2v11.7h-11.2zM439.5 1259.7h11.2v11.7h-11.2zM450.2 1259.7h11.2v11.7h-11.2zM460.9 1259.7h11.2v11.7h-11.2zM396.7 1270.9h11.2v11.7h-11.2zM418.1 1270.9h11.2v11.7h-11.2zM428.8 1270.9h11.2v11.7h-11.2zM460.9 1270.9h11.2v11.7h-11.2zM471.6 1270.9h11.2v11.7h-11.2zM482.3 1270.9h10.7v11.7h-10.7zM407.4 1282.1h11.2v11.7h-11.2zM418.1 1282.1h11.2v11.7h-11.2zM460.9 1282.1h11.2v11.7h-11.2zM471.6 1282.1h11.2v11.7h-11.2zM279 1293.4h11.2v11.7h-11.2zM364.6 1293.4h11.2v11.7h-11.2zM375.3 1293.4h11.2v11.7h-11.2zM386 1293.4h11.2v11.7h-11.2zM396.7 1293.4h11.2v11.7h-11.2zM407.4 1293.4h11.2v11.7h-11.2zM418.1 1293.4h11.2v11.7h-11.2zM460.9 1293.4h11.2v11.7h-11.2zM471.6 1293.4h11.2v11.7h-11.2zM311.1 1304.6h11.2v11.7h-11.2zM375.3 1304.6h11.2v11.7h-11.2zM386 1304.6h11.2v11.7h-11.2zM396.7 1304.6h11.2v11.7h-11.2zM407.4 1304.6h11.2v11.7h-11.2zM428.8 1304.6h11.2v11.7h-11.2zM439.5 1304.6h11.2v11.7h-11.2zM450.2 1304.6h11.2v11.7h-11.2zM300.4 1315.9h11.2v11.7h-11.2zM428.8 1315.9h11.2v11.7h-11.2zM450.2 1315.9h11.2v11.7h-11.2zM428.8 1327.1h11.2v11.7h-11.2zM439.5 1327.1h11.2v11.7h-11.2zM289.7 1338.3h11.2v11.7h-11.2zM396.7 1338.3h11.2v11.7h-11.2zM289.7 1360.8h11.2v11.7h-11.2z"/>
<path fill="#0000f8" d="M386 1158.5h11.2v11.7h-11.2zM396.7 1158.5h11.2v11.7h-11.2zM428.8 1158.5h11.2v11.7h-11.2zM439.5 1158.5h11.2v11.7h-11.2zM450.2 1158.5h11.2v11.7h-11.2zM460.9 1158.5h11.2v11.7h-11.2zM471.6 1158.5h11.2v11.7h-11.2zM482.3 1158.5h10.7v11.7h-10.7zM396.7 1169.7h11.2v11.7h-11.2zM407.4 1169.7h11.2v11.7h-11.2zM418.1 1169.7h11.2v11.7h-11.2zM428.8 1169.7h11.2v11.7h-11.2zM439.5 1169.7h11.2v11.7h-11.2zM450.2 1169.7h11.2v11.7h-11.2zM460.9 1169.7h11.2v11.7h-11.2zM471.6 1169.7h11.2v11.7h-11.2zM482.3 1169.7h10.7v11.7h-10.7zM332.5 1181h11.2v11.7h-11.2zM396.7 1181h11.2v11.7h-11.2zM407.4 1181h11.2v11.7h-11.2zM418.1 1181h11.2v11.7h-11.2zM428.8 1181h11.2v11.7h-11.2zM439.5 1181h11.2v11.7h-11.2zM450.2 1181h11.2v11.7h-11.2zM460.9 1181h11.2v11.7h-11.2zM471.6 1181h11.2v11.7h-11.2zM482.3 1181h10.7v11.7h-10.7zM396.7 1192.2h11.2v11.7h-11.2zM407.4 1192.2h11.2v11.7h-11.2zM418.1 1192.2h11.2v11.7h-11.2zM428.8 1192.2h11.2v11.7h-11.2zM439.5 1192.2h11.2v11.7h-11.2zM450.2 1192.2h11.2v11.7h-11.2zM460.9 1192.2h11.2v11.7h-11.2zM471.6 1192.2h11.2v11.7h-11.2zM482.3 1192.2h10.7v11.7h-10.7zM332.5 1203.5h11.2v11.7h-11.2zM396.7 1203.5h11.2v11.7h-11.2zM407.4 1203.5h11.2v11.7h-11.2zM418.1 1203.5h11.2v11.7h-11.2zM439.5 1203.5h11.2v11.7h-11.2zM450.2 1203.5h11.2v11.7h-11.2zM460.9 1203.5h11.2v11.7h-11.2zM471.6 1203.5h11.2v11.7h-11.2zM482.3 1203.5h10.7v11.7h-10.7zM396.7 1214.7h11.2v11.7h-11.2zM407.4 1214.7h11.2v11.7h-11.2zM418.1 1214.7h11.2v11.7h-11.2zM428.8 1214.7h11.2v11.7h-11.2zM439.5 1214.7h11.2v11.7h-11.2zM450.2 1214.7h11.2v11.7h-11.2zM460.9 1214.7h11.2v11.7h-11.2zM471.6 1214.7h11.2v11.7h-11.2zM482.3 1214.7h10.7v11.7h-10.7zM396.7 1225.9h11.2v11.7h-11.2zM407.4 1225.9h11.2v11.7h-11.2zM418.1 1225.9h11.2v11.7h-11.2zM428.8 1225.9h11.2v11.7h-11.2zM439.5 1225.9h11.2v11.7h-11.2zM450.2 1225.9h11.2v11.7h-11.2zM460.9 1225.9h11.2v11.7h-11.2zM471.6 1225.9h11.2v11.7h-11.2zM482.3 1225.9h10.7v11.7h-10.7zM396.7 1237.2h11.2v11.7h-11.2zM407.4 1237.2h11.2v11.7h-11.2zM418.1 1237.2h11.2v11.7h-11.2zM428.8 1237.2h11.2v11.7h-11.2zM439.5 1237.2h11.2v11.7h-11.2zM450.2 1237.2h11.2v11.7h-11.2zM460.9 1237.2h11.2v11.7h-11.2zM471.6 1237.2h11.2v11.7h-11.2zM482.3 1237.2h10.7v11.7h-10.7zM279 1248.4h11.2v11.7h-11.2zM332.5 1248.4h11.2v11.7h-11.2zM396.7 1248.4h11.2v11.7h-11.2zM407.4 1248.4h11.2v11.7h-11.2zM418.1 1248.4h11.2v11.7h-11.2zM428.8 1248.4h11.2v11.7h-11.2zM439.5 1248.4h11.2v11.7h-11.2zM450.2 1248.4h11.2v11.7h-11.2zM460.9 1248.4h11.2v11.7h-11.2zM471.6 1248.4h11.2v11.7h-11.2zM482.3 1248.4h10.7v11.7h-10.7zM396.7 1259.7h11.2v11.7h-11.2zM407.4 1259.7h11.2v11.7h-11.2zM418.1 1259.7h11.2v11.7h-11.2zM471.6 1259.7h11.2v11.7h-11.2zM482.3 1259.7h10.7v11.7h-10.7zM407.4 1270.9h11.2v11.7h-11.2zM482.3 1282.1h10.7v11.7h-10.7zM482.3 1293.4h10.7v11.7h-10.7zM418.1 1304.6h11.2v11.7h-11.2zM460.9 1304.6h11.2v11.7h-11.2zM471.6 1304.6h11.2v11.7h-11.2zM439.5 1315.9h11.2v11.7h-11.2zM460.9 1315.9h11.2v11.7h-11.2zM450.2 1327.1h11.2v11.7h-11.2zM460.9 1327.1h11.2v11.7h-11.2zM279 1338.3h11.2v11.7h-11.2zM321.8 1349.6h11.2v11.7h-11.2zM343.2 1360.8h11.2v11.7h-11.2zM353.9 1360.8h11.2v11.7h-11.2zM386 1360.8h11.2v11.7h-11.2zM418.1 1372.1h11.2v11.2h-11.2zM439.5 1372.1h11.2v11.2h-11.2z"/>
<path fill="#00bdff" d="M343.2 1181h11.2v11.7h-11.2zM343.2 1192.2h11.2v11.7h-11.2zM375.3 1192.2h11.2v11.7h-11.2zM343.2 1203.5h11.2v11.7h-11.2zM375.3 1203.5h11.2v11.7h-11.2zM375.3 1214.7h11.2v11.7h-11.2zM375.3 1225.9h11.2v11.7h-11.2zM343.2 1237.2h11.2v11.7h-11.2zM353.9 1237.2h11.2v11.7h-11.2zM375.3 1237.2h11.2v11.7h-11.2zM353.9 1259.7h11.2v11.7h-11.2zM364.6 1282.1h11.2v11.7h-11.2zM386 1282.1h11.2v11.7h-11.2zM279 1304.6h11.2v11.7h-11.2zM332.5 1304.6h11.2v11.7h-11.2zM364.6 1304.6h11.2v11.7h-11.2zM321.8 1315.9h11.2v11.7h-11.2zM396.7 1315.9h11.2v11.7h-11.2zM300.4 1327.1h11.2v11.7h-11.2zM311.1 1327.1h11.2v11.7h-11.2zM321.8 1327.1h11.2v11.7h-11.2zM407.4 1327.1h11.2v11.7h-11.2z"/>
<path fill="#00ffff" d="M343.2 1214.7h11.2v11.7h-11.2zM343.2 1225.9h11.2v11.7h-11.2zM343.2 1248.4h11.2v11.7h-11.2zM353.9 1248.4h11.2v11.7h-11.2zM364.6 1248.4h11.2v11.7h-11.2zM375.3 1248.4h11.2v11.7h-11.2zM353.9 1270.9h11.2v11.7h-11.2zM353.9 1282.1h11.2v11.7h-11.2zM343.2 1293.4h11.2v11.7h-11.2zM353.9 1293.4h11.2v11.7h-11.2zM353.9 1304.6h11.2v11.7h-11.2zM332.5 1315.9h11.2v11.7h-11.2zM375.3 1315.9h11.2v11.7h-11.2zM386 1315.9h11.2v11.7h-11.2zM396.7 1327.1h11.2v11.7h-11.2zM311.1 1338.3h11.2v11.7h-11.2zM364.6 1372.1h11.2v11.2h-11.2z"/>
<path fill="#42ffbd" d="M343.2 1259.7h11.2v11.7h-11.2zM364.6 1259.7h11.2v11.7h-11.2zM375.3 1259.7h11.2v11.7h-11.2zM343.2 1304.6h11.2v11.7h-11.2zM386 1327.1h11.2v11.7h-11.2zM300.4 1338.3h11.2v11.7h-11.2zM279 1360.8h11.2v11.7h-11.2zM311.1 1360.8h11.2v11.7h-11.2z"/>
<path fill="#94ff6b" d="M343.2 1270.9h11.2v11.7h-11.2zM364.6 1270.9h11.2v11.7h-11.2zM375.3 1270.9h11.2v11.7h-11.2zM343.2 1282.1h11.2v11.7h-11.2zM375.3 1282.1h11.2v11.7h-11.2zM353.9 1315.9h11.2v11.7h-11.2zM364.6 1315.9h11.2v11.7h-11.2zM353.9 1327.1h11.2v11.7h-11.2zM300.4 1349.6h11.2v11.7h-11.2zM343.2 1349.6h11.2v11.7h-11.2zM353.9 1349.6h11.2v11.7h-11.2zM375.3 1349.6h11.2v11.7h-11.2z"/>
<path fill="#e5ff1a" d="M343.2 1315.9h11.2v11.7h-11.2zM375.3 1327.1h11.2v11.7h-11.2zM375.3 1338.3h11.2v11.7h-11.2zM364.6 1349.6h11.2v11.7h-11.2z"/>
<path fill="#ffdb00" d="M332.5 1327.1h11.2v11.7h-11.2z"/>
<path fill="#d10000" d="M343.2 1327.1h11.2v11.7h-11.2z"/>
<path fill="#ff9e00" d="M364.6 1327.1h11.2v11.7h-11.2zM364.6 1338.3h11.2v11.7h-11.2z"/>
<path fill="#ff0f00" d="M332.5 1338.3h11.2v11.7h-11.2zM300.4 1360.8h11.2v11.7h-11.2z"/>
<path fill="#800000" d="M343.2 1338.3h11.2v11.7h-11.2z"/>
<path fill="#ff4c00" d="M353.9 1338.3h11.2v11.7h-11.2z"/>
</g>
<text x="221.06" y="1171.39" font-size="28.5" font-weight="normal" font-style="normal" fill="#000" stroke="#000" stroke-width="0.45" transform="translate(0 -117.14) scale(1 1.1)">200</text>
<text x="221.06" y="1278.39" font-size="28.5" font-weight="normal" font-style="normal" fill="#000" stroke="#000" stroke-width="0.45" transform="translate(0 -127.84) scale(1 1.1)">100</text>
<text x="242.36" y="1385.69" font-size="28.5" font-weight="normal" font-style="normal" fill="#000" stroke="#000" stroke-width="0.45" transform="translate(0 -138.57) scale(1 1.1)">0</text>
<text x="364.22" y="1407.99" font-size="28.5" font-weight="normal" font-style="normal" fill="#000" stroke="#000" stroke-width="0.45" transform="translate(0 -140.8) scale(1 1.1)">10</text>
<text x="465.59" y="1407.99" font-size="28.5" font-weight="normal" font-style="normal" fill="#000" stroke="#000" stroke-width="0.45" transform="translate(0 -140.8) scale(1 1.1)">20</text>
<g shape-rendering="crispEdges">
<path fill="#00008a" d="M633 1158.5h11.2v11.7h-11.2zM740 1158.5h11.2v11.7h-11.2zM643.7 1169.7h11.2v11.7h-11.2zM654.4 1169.7h11.2v11.7h-11.2zM675.8 1169.7h11.2v11.7h-11.2zM740 1169.7h11.2v11.7h-11.2zM633 1181h11.2v11.7h-11.2zM643.7 1181h11.2v11.7h-11.2zM675.8 1181h11.2v11.7h-11.2zM633 1192.2h11.2v11.7h-11.2zM643.7 1192.2h11.2v11.7h-11.2zM675.8 1192.2h11.2v11.7h-11.2zM633 1203.5h11.2v11.7h-11.2zM643.7 1203.5h11.2v11.7h-11.2zM633 1214.7h11.2v11.7h-11.2zM643.7 1214.7h11.2v11.7h-11.2zM804.2 1214.7h11.2v11.7h-11.2zM633 1225.9h11.2v11.7h-11.2zM643.7 1225.9h11.2v11.7h-11.2zM793.5 1225.9h11.2v11.7h-11.2zM804.2 1225.9h11.2v11.7h-11.2zM814.9 1225.9h11.2v11.7h-11.2zM825.6 1225.9h11.2v11.7h-11.2zM836.3 1225.9h10.7v11.7h-10.7zM633 1237.2h11.2v11.7h-11.2zM643.7 1237.2h11.2v11.7h-11.2zM675.8 1237.2h11.2v11.7h-11.2zM740 1237.2h11.2v11.7h-11.2zM761.4 1237.2h11.2v11.7h-11.2zM772.1 1237.2h11.2v11.7h-11.2zM782.8 1237.2h11.2v11.7h-11.2zM793.5 1237.2h11.2v11.7h-11.2zM804.2 1237.2h11.2v11.7h-11.2zM814.9 1237.2h11.2v11.7h-11.2zM825.6 1237.2h11.2v11.7h-11.2zM836.3 1237.2h10.7v11.7h-10.7zM633 1248.4h11.2v11.7h-11.2zM643.7 1248.4h11.2v11.7h-11.2zM654.4 1248.4h11.2v11.7h-11.2zM740 1248.4h11.2v11.7h-11.2zM750.7 1248.4h11.2v11.7h-11.2zM761.4 1248.4h11.2v11.7h-11.2zM772.1 1248.4h11.2v11.7h-11.2zM782.8 1248.4h11.2v11.7h-11.2zM793.5 1248.4h11.2v11.7h-11.2zM804.2 1248.4h11.2v11.7h-11.2zM814.9 1248.4h11.2v11.7h-11.2zM825.6 1248.4h11.2v11.7h-11.2zM836.3 1248.4h10.7v11.7h-10.7zM633 1259.7h11.2v11.7h-11.2zM643.7 1259.7h11.2v11.7h-11.2zM675.8 1259.7h11.2v11.7h-11.2zM740 1259.7h11.2v11.7h-11.2zM750.7 1259.7h11.2v11.7h-11.2zM761.4 1259.7h11.2v11.7h-11.2zM772.1 1259.7h11.2v11.7h-11.2zM782.8 1259.7h11.2v11.7h-11.2zM793.5 1259.7h11.2v11.7h-11.2zM804.2 1259.7h11.2v11.7h-11.2zM814.9 1259.7h11.2v11.7h-11.2zM825.6 1259.7h11.2v11.7h-11.2zM836.3 1259.7h10.7v11.7h-10.7zM643.7 1270.9h11.2v11.7h-11.2zM665.1 1270.9h11.2v11.7h-11.2zM675.8 1270.9h11.2v11.7h-11.2zM740 1270.9h11.2v11.7h-11.2zM761.4 1270.9h11.2v11.7h-11.2zM772.1 1270.9h11.2v11.7h-11.2zM782.8 1270.9h11.2v11.7h-11.2zM793.5 1270.9h11.2v11.7h-11.2zM804.2 1270.9h11.2v11.7h-11.2zM814.9 1270.9h11.2v11.7h-11.2zM825.6 1270.9h11.2v11.7h-11.2zM836.3 1270.9h10.7v11.7h-10.7zM643.7 1282.1h11.2v11.7h-11.2zM665.1 1282.1h11.2v11.7h-11.2zM675.8 1282.1h11.2v11.7h-11.2zM740 1282.1h11.2v11.7h-11.2zM761.4 1282.1h11.2v11.7h-11.2zM772.1 1282.1h11.2v11.7h-11.2zM782.8 1282.1h11.2v11.7h-11.2zM804.2 1282.1h11.2v11.7h-11.2zM814.9 1282.1h11.2v11.7h-11.2zM825.6 1282.1h11.2v11.7h-11.2zM836.3 1282.1h10.7v11.7h-10.7zM643.7 1293.4h11.2v11.7h-11.2zM665.1 1293.4h11.2v11.7h-11.2zM675.8 1293.4h11.2v11.7h-11.2zM761.4 1293.4h11.2v11.7h-11.2zM804.2 1293.4h11.2v11.7h-11.2zM633 1304.6h11.2v11.7h-11.2zM643.7 1304.6h11.2v11.7h-11.2zM686.5 1304.6h11.2v11.7h-11.2zM804.2 1304.6h11.2v11.7h-11.2zM814.9 1304.6h11.2v11.7h-11.2zM643.7 1315.9h11.2v11.7h-11.2zM665.1 1315.9h11.2v11.7h-11.2zM804.2 1315.9h11.2v11.7h-11.2zM814.9 1315.9h11.2v11.7h-11.2zM825.6 1315.9h11.2v11.7h-11.2zM836.3 1315.9h10.7v11.7h-10.7zM633 1327.1h11.2v11.7h-11.2zM643.7 1327.1h11.2v11.7h-11.2zM675.8 1327.1h11.2v11.7h-11.2zM772.1 1327.1h11.2v11.7h-11.2zM782.8 1327.1h11.2v11.7h-11.2zM793.5 1327.1h11.2v11.7h-11.2zM804.2 1327.1h11.2v11.7h-11.2zM814.9 1327.1h11.2v11.7h-11.2zM825.6 1327.1h11.2v11.7h-11.2zM836.3 1327.1h10.7v11.7h-10.7zM654.4 1338.3h11.2v11.7h-11.2zM665.1 1338.3h11.2v11.7h-11.2zM675.8 1338.3h11.2v11.7h-11.2zM750.7 1338.3h11.2v11.7h-11.2zM761.4 1338.3h11.2v11.7h-11.2zM793.5 1338.3h11.2v11.7h-11.2zM804.2 1338.3h11.2v11.7h-11.2zM814.9 1338.3h11.2v11.7h-11.2zM825.6 1338.3h11.2v11.7h-11.2zM836.3 1338.3h10.7v11.7h-10.7zM633 1349.6h11.2v11.7h-11.2zM740 1349.6h11.2v11.7h-11.2zM750.7 1349.6h11.2v11.7h-11.2zM772.1 1349.6h11.2v11.7h-11.2zM782.8 1349.6h11.2v11.7h-11.2zM793.5 1349.6h11.2v11.7h-11.2zM804.2 1349.6h11.2v11.7h-11.2zM814.9 1349.6h11.2v11.7h-11.2zM825.6 1349.6h11.2v11.7h-11.2zM836.3 1349.6h10.7v11.7h-10.7zM675.8 1360.8h11.2v11.7h-11.2zM718.6 1360.8h11.2v11.7h-11.2zM729.3 1360.8h11.2v11.7h-11.2zM740 1360.8h11.2v11.7h-11.2zM750.7 1360.8h11.2v11.7h-11.2zM761.4 1360.8h11.2v11.7h-11.2zM772.1 1360.8h11.2v11.7h-11.2zM782.8 1360.8h11.2v11.7h-11.2zM793.5 1360.8h11.2v11.7h-11.2zM804.2 1360.8h11.2v11.7h-11.2zM814.9 1360.8h11.2v11.7h-11.2zM825.6 1360.8h11.2v11.7h-11.2zM836.3 1360.8h10.7v11.7h-10.7zM633 1372.1h11.2v11.2h-11.2zM654.4 1372.1h11.2v11.2h-11.2zM665.1 1372.1h11.2v11.2h-11.2zM675.8 1372.1h11.2v11.2h-11.2zM686.5 1372.1h11.2v11.2h-11.2zM697.2 1372.1h11.2v11.2h-11.2zM707.9 1372.1h11.2v11.2h-11.2zM729.3 1372.1h11.2v11.2h-11.2zM750.7 1372.1h11.2v11.2h-11.2zM761.4 1372.1h11.2v11.2h-11.2zM772.1 1372.1h11.2v11.2h-11.2zM782.8 1372.1h11.2v11.2h-11.2zM793.5 1372.1h11.2v11.2h-11.2zM804.2 1372.1h11.2v11.2h-11.2zM825.6 1372.1h11.2v11.2h-11.2z"/>
<path fill="#0000bd" d="M643.7 1158.5h11.2v11.7h-11.2zM654.4 1158.5h11.2v11.7h-11.2zM665.1 1158.5h11.2v11.7h-11.2zM675.8 1158.5h11.2v11.7h-11.2zM686.5 1158.5h11.2v11.7h-11.2zM750.7 1158.5h11.2v11.7h-11.2zM761.4 1158.5h11.2v11.7h-11.2zM772.1 1158.5h11.2v11.7h-11.2zM782.8 1158.5h11.2v11.7h-11.2zM793.5 1158.5h11.2v11.7h-11.2zM804.2 1158.5h11.2v11.7h-11.2zM814.9 1158.5h11.2v11.7h-11.2zM825.6 1158.5h11.2v11.7h-11.2zM836.3 1158.5h10.7v11.7h-10.7zM633 1169.7h11.2v11.7h-11.2zM665.1 1169.7h11.2v11.7h-11.2zM729.3 1169.7h11.2v11.7h-11.2zM750.7 1169.7h11.2v11.7h-11.2zM761.4 1169.7h11.2v11.7h-11.2zM772.1 1169.7h11.2v11.7h-11.2zM782.8 1169.7h11.2v11.7h-11.2zM793.5 1169.7h11.2v11.7h-11.2zM804.2 1169.7h11.2v11.7h-11.2zM814.9 1169.7h11.2v11.7h-11.2zM825.6 1169.7h11.2v11.7h-11.2zM836.3 1169.7h10.7v11.7h-10.7zM654.4 1181h11.2v11.7h-11.2zM665.1 1181h11.2v11.7h-11.2zM740 1181h11.2v11.7h-11.2zM750.7 1181h11.2v11.7h-11.2zM761.4 1181h11.2v11.7h-11.2zM772.1 1181h11.2v11.7h-11.2zM782.8 1181h11.2v11.7h-11.2zM793.5 1181h11.2v11.7h-11.2zM804.2 1181h11.2v11.7h-11.2zM814.9 1181h11.2v11.7h-11.2zM825.6 1181h11.2v11.7h-11.2zM836.3 1181h10.7v11.7h-10.7zM654.4 1192.2h11.2v11.7h-11.2zM740 1192.2h11.2v11.7h-11.2zM750.7 1192.2h11.2v11.7h-11.2zM761.4 1192.2h11.2v11.7h-11.2zM772.1 1192.2h11.2v11.7h-11.2zM782.8 1192.2h11.2v11.7h-11.2zM793.5 1192.2h11.2v11.7h-11.2zM804.2 1192.2h11.2v11.7h-11.2zM814.9 1192.2h11.2v11.7h-11.2zM825.6 1192.2h11.2v11.7h-11.2zM836.3 1192.2h10.7v11.7h-10.7zM654.4 1203.5h11.2v11.7h-11.2zM665.1 1203.5h11.2v11.7h-11.2zM675.8 1203.5h11.2v11.7h-11.2zM740 1203.5h11.2v11.7h-11.2zM750.7 1203.5h11.2v11.7h-11.2zM761.4 1203.5h11.2v11.7h-11.2zM772.1 1203.5h11.2v11.7h-11.2zM782.8 1203.5h11.2v11.7h-11.2zM793.5 1203.5h11.2v11.7h-11.2zM804.2 1203.5h11.2v11.7h-11.2zM814.9 1203.5h11.2v11.7h-11.2zM825.6 1203.5h11.2v11.7h-11.2zM836.3 1203.5h10.7v11.7h-10.7zM654.4 1214.7h11.2v11.7h-11.2zM675.8 1214.7h11.2v11.7h-11.2zM740 1214.7h11.2v11.7h-11.2zM750.7 1214.7h11.2v11.7h-11.2zM761.4 1214.7h11.2v11.7h-11.2zM772.1 1214.7h11.2v11.7h-11.2zM782.8 1214.7h11.2v11.7h-11.2zM793.5 1214.7h11.2v11.7h-11.2zM814.9 1214.7h11.2v11.7h-11.2zM825.6 1214.7h11.2v11.7h-11.2zM836.3 1214.7h10.7v11.7h-10.7zM654.4 1225.9h11.2v11.7h-11.2zM665.1 1225.9h11.2v11.7h-11.2zM675.8 1225.9h11.2v11.7h-11.2zM740 1225.9h11.2v11.7h-11.2zM750.7 1225.9h11.2v11.7h-11.2zM761.4 1225.9h11.2v11.7h-11.2zM772.1 1225.9h11.2v11.7h-11.2zM782.8 1225.9h11.2v11.7h-11.2zM654.4 1237.2h11.2v11.7h-11.2zM665.1 1237.2h11.2v11.7h-11.2zM686.5 1237.2h11.2v11.7h-11.2zM750.7 1237.2h11.2v11.7h-11.2zM665.1 1248.4h11.2v11.7h-11.2zM675.8 1248.4h11.2v11.7h-11.2zM686.5 1248.4h11.2v11.7h-11.2zM729.3 1248.4h11.2v11.7h-11.2zM654.4 1259.7h11.2v11.7h-11.2zM665.1 1259.7h11.2v11.7h-11.2zM686.5 1259.7h11.2v11.7h-11.2zM729.3 1259.7h11.2v11.7h-11.2zM686.5 1270.9h11.2v11.7h-11.2zM729.3 1270.9h11.2v11.7h-11.2zM750.7 1270.9h11.2v11.7h-11.2zM654.4 1282.1h11.2v11.7h-11.2zM686.5 1282.1h11.2v11.7h-11.2zM729.3 1282.1h11.2v11.7h-11.2zM750.7 1282.1h11.2v11.7h-11.2zM793.5 1282.1h11.2v11.7h-11.2zM654.4 1293.4h11.2v11.7h-11.2zM729.3 1293.4h11.2v11.7h-11.2zM740 1293.4h11.2v11.7h-11.2zM750.7 1293.4h11.2v11.7h-11.2zM772.1 1293.4h11.2v11.7h-11.2zM782.8 1293.4h11.2v11.7h-11.2zM793.5 1293.4h11.2v11.7h-11.2zM814.9 1293.4h11.2v11.7h-11.2zM825.6 1293.4h11.2v11.7h-11.2zM836.3 1293.4h10.7v11.7h-10.7zM654.4 1304.6h11.2v11.7h-11.2zM665.1 1304.6h11.2v11.7h-11.2zM675.8 1304.6h11.2v11.7h-11.2zM718.6 1304.6h11.2v11.7h-11.2zM729.3 1304.6h11.2v11.7h-11.2zM740 1304.6h11.2v11.7h-11.2zM750.7 1304.6h11.2v11.7h-11.2zM761.4 1304.6h11.2v11.7h-11.2zM772.1 1304.6h11.2v11.7h-11.2zM793.5 1304.6h11.2v11.7h-11.2zM825.6 1304.6h11.2v11.7h-11.2zM836.3 1304.6h10.7v11.7h-10.7zM729.3 1315.9h11.2v11.7h-11.2zM740 1315.9h11.2v11.7h-11.2zM772.1 1315.9h11.2v11.7h-11.2zM782.8 1315.9h11.2v11.7h-11.2zM793.5 1315.9h11.2v11.7h-11.2zM686.5 1327.1h11.2v11.7h-11.2zM750.7 1327.1h11.2v11.7h-11.2zM686.5 1338.3h11.2v11.7h-11.2zM707.9 1338.3h11.2v11.7h-11.2zM772.1 1338.3h11.2v11.7h-11.2zM782.8 1338.3h11.2v11.7h-11.2zM686.5 1349.6h11.2v11.7h-11.2zM718.6 1349.6h11.2v11.7h-11.2zM729.3 1349.6h11.2v11.7h-11.2zM761.4 1349.6h11.2v11.7h-11.2zM686.5 1360.8h11.2v11.7h-11.2zM697.2 1360.8h11.2v11.7h-11.2zM707.9 1360.8h11.2v11.7h-11.2zM836.3 1372.1h10.7v11.2h-10.7z"/>
<path fill="#0042ff" d="M697.2 1158.5h11.2v11.7h-11.2zM707.9 1158.5h11.2v11.7h-11.2zM697.2 1169.7h11.2v11.7h-11.2zM707.9 1169.7h11.2v11.7h-11.2zM718.6 1169.7h11.2v11.7h-11.2zM697.2 1181h11.2v11.7h-11.2zM707.9 1181h11.2v11.7h-11.2zM718.6 1181h11.2v11.7h-11.2zM697.2 1192.2h11.2v11.7h-11.2zM686.5 1203.5h11.2v11.7h-11.2zM729.3 1203.5h11.2v11.7h-11.2zM729.3 1214.7h11.2v11.7h-11.2zM707.9 1225.9h11.2v11.7h-11.2zM718.6 1225.9h11.2v11.7h-11.2zM707.9 1237.2h11.2v11.7h-11.2zM718.6 1237.2h11.2v11.7h-11.2zM707.9 1248.4h11.2v11.7h-11.2zM718.6 1259.7h11.2v11.7h-11.2zM718.6 1270.9h11.2v11.7h-11.2zM707.9 1282.1h11.2v11.7h-11.2zM718.6 1282.1h11.2v11.7h-11.2zM633 1293.4h11.2v11.7h-11.2zM697.2 1293.4h11.2v11.7h-11.2zM707.9 1293.4h11.2v11.7h-11.2zM718.6 1293.4h11.2v11.7h-11.2zM697.2 1304.6h11.2v11.7h-11.2zM686.5 1315.9h11.2v11.7h-11.2zM718.6 1315.9h11.2v11.7h-11.2zM761.4 1315.9h11.2v11.7h-11.2zM665.1 1327.1h11.2v11.7h-11.2zM718.6 1327.1h11.2v11.7h-11.2zM729.3 1327.1h11.2v11.7h-11.2zM633 1338.3h11.2v11.7h-11.2zM643.7 1338.3h11.2v11.7h-11.2zM740 1338.3h11.2v11.7h-11.2zM654.4 1349.6h11.2v11.7h-11.2zM707.9 1349.6h11.2v11.7h-11.2z"/>
<path fill="#0000f8" d="M718.6 1158.5h11.2v11.7h-11.2zM729.3 1158.5h11.2v11.7h-11.2zM686.5 1169.7h11.2v11.7h-11.2zM686.5 1181h11.2v11.7h-11.2zM729.3 1181h11.2v11.7h-11.2zM665.1 1192.2h11.2v11.7h-11.2zM686.5 1192.2h11.2v11.7h-11.2zM729.3 1192.2h11.2v11.7h-11.2zM665.1 1214.7h11.2v11.7h-11.2zM686.5 1214.7h11.2v11.7h-11.2zM686.5 1225.9h11.2v11.7h-11.2zM729.3 1225.9h11.2v11.7h-11.2zM729.3 1237.2h11.2v11.7h-11.2zM718.6 1248.4h11.2v11.7h-11.2zM633 1270.9h11.2v11.7h-11.2zM654.4 1270.9h11.2v11.7h-11.2zM633 1282.1h11.2v11.7h-11.2zM686.5 1293.4h11.2v11.7h-11.2zM707.9 1304.6h11.2v11.7h-11.2zM782.8 1304.6h11.2v11.7h-11.2zM633 1315.9h11.2v11.7h-11.2zM654.4 1315.9h11.2v11.7h-11.2zM675.8 1315.9h11.2v11.7h-11.2zM750.7 1315.9h11.2v11.7h-11.2zM740 1327.1h11.2v11.7h-11.2zM761.4 1327.1h11.2v11.7h-11.2zM697.2 1338.3h11.2v11.7h-11.2zM643.7 1349.6h11.2v11.7h-11.2zM665.1 1349.6h11.2v11.7h-11.2zM675.8 1349.6h11.2v11.7h-11.2zM718.6 1372.1h11.2v11.2h-11.2zM740 1372.1h11.2v11.2h-11.2zM814.9 1372.1h11.2v11.2h-11.2z"/>
<path fill="#0080ff" d="M707.9 1192.2h11.2v11.7h-11.2zM718.6 1192.2h11.2v11.7h-11.2zM697.2 1203.5h11.2v11.7h-11.2zM707.9 1203.5h11.2v11.7h-11.2zM718.6 1203.5h11.2v11.7h-11.2zM697.2 1214.7h11.2v11.7h-11.2zM707.9 1214.7h11.2v11.7h-11.2zM718.6 1214.7h11.2v11.7h-11.2zM697.2 1225.9h11.2v11.7h-11.2zM697.2 1237.2h11.2v11.7h-11.2zM697.2 1248.4h11.2v11.7h-11.2zM697.2 1259.7h11.2v11.7h-11.2zM707.9 1259.7h11.2v11.7h-11.2zM697.2 1270.9h11.2v11.7h-11.2zM707.9 1270.9h11.2v11.7h-11.2zM697.2 1282.1h11.2v11.7h-11.2zM697.2 1315.9h11.2v11.7h-11.2zM707.9 1315.9h11.2v11.7h-11.2zM654.4 1327.1h11.2v11.7h-11.2zM697.2 1327.1h11.2v11.7h-11.2zM718.6 1338.3h11.2v11.7h-11.2zM729.3 1338.3h11.2v11.7h-11.2zM697.2 1349.6h11.2v11.7h-11.2z"/>
<path fill="#00bdff" d="M707.9 1327.1h11.2v11.7h-11.2z"/>
<path fill="#ff4c00" d="M633 1360.8h11.2v11.7h-11.2z"/>
<path fill="#94ff6b" d="M643.7 1360.8h11.2v11.7h-11.2z"/>
<path fill="#00ffff" d="M654.4 1360.8h11.2v11.7h-11.2zM665.1 1360.8h11.2v11.7h-11.2z"/>
<path fill="#800000" d="M643.7 1372.1h11.2v11.2h-11.2z"/>
</g>
<text x="575.06" y="1171.39" font-size="28.5" font-weight="normal" font-style="normal" fill="#000" stroke="#000" stroke-width="0.45" transform="translate(0 -117.14) scale(1 1.1)">200</text>
<text x="575.06" y="1278.39" font-size="28.5" font-weight="normal" font-style="normal" fill="#000" stroke="#000" stroke-width="0.45" transform="translate(0 -127.84) scale(1 1.1)">100</text>
<text x="596.36" y="1385.69" font-size="28.5" font-weight="normal" font-style="normal" fill="#000" stroke="#000" stroke-width="0.45" transform="translate(0 -138.57) scale(1 1.1)">0</text>
<text x="718.22" y="1407.99" font-size="28.5" font-weight="normal" font-style="normal" fill="#000" stroke="#000" stroke-width="0.45" transform="translate(0 -140.8) scale(1 1.1)">10</text>
<text x="819.59" y="1407.99" font-size="28.5" font-weight="normal" font-style="normal" fill="#000" stroke="#000" stroke-width="0.45" transform="translate(0 -140.8) scale(1 1.1)">20</text>
<g shape-rendering="crispEdges">
<path fill="#6bff94" d="M1029 1158.5h11.1v11.7h-11.1zM1092.7 1158.5h11.1v11.7h-11.1zM1114 1158.5h11.1v11.7h-11.1zM1177.7 1158.5h11.1v11.7h-11.1zM1188.3 1158.5h11.1v11.7h-11.1zM1198.9 1158.5h11.1v11.7h-11.1zM1209.5 1158.5h11.1v11.7h-11.1zM1220.2 1158.5h11.1v11.7h-11.1zM1230.8 1158.5h10.6v11.7h-10.6zM1092.7 1169.7h11.1v11.7h-11.1zM1103.3 1169.7h11.1v11.7h-11.1zM1114 1169.7h11.1v11.7h-11.1zM1167.1 1169.7h11.1v11.7h-11.1zM1177.7 1169.7h11.1v11.7h-11.1zM1188.3 1169.7h11.1v11.7h-11.1zM1220.2 1169.7h11.1v11.7h-11.1zM1230.8 1169.7h10.6v11.7h-10.6zM1082.1 1181h11.1v11.7h-11.1zM1114 1181h11.1v11.7h-11.1zM1167.1 1181h11.1v11.7h-11.1zM1177.7 1181h11.1v11.7h-11.1zM1188.3 1181h11.1v11.7h-11.1zM1220.2 1181h11.1v11.7h-11.1zM1230.8 1181h10.6v11.7h-10.6zM1029 1192.2h11.1v11.7h-11.1zM1082.1 1192.2h11.1v11.7h-11.1zM1092.7 1192.2h11.1v11.7h-11.1zM1114 1192.2h11.1v11.7h-11.1zM1135.2 1192.2h11.1v11.7h-11.1zM1156.4 1192.2h11.1v11.7h-11.1zM1167.1 1192.2h11.1v11.7h-11.1zM1188.3 1192.2h11.1v11.7h-11.1zM1209.5 1192.2h11.1v11.7h-11.1zM1220.2 1192.2h11.1v11.7h-11.1zM1230.8 1192.2h10.6v11.7h-10.6zM1029 1203.5h11.1v11.7h-11.1zM1039.6 1203.5h11.1v11.7h-11.1zM1114 1203.5h11.1v11.7h-11.1zM1167.1 1203.5h11.1v11.7h-11.1zM1177.7 1203.5h11.1v11.7h-11.1zM1188.3 1203.5h11.1v11.7h-11.1zM1209.5 1203.5h11.1v11.7h-11.1zM1230.8 1203.5h10.6v11.7h-10.6zM1029 1214.7h11.1v11.7h-11.1zM1039.6 1214.7h11.1v11.7h-11.1zM1092.7 1214.7h11.1v11.7h-11.1zM1114 1214.7h11.1v11.7h-11.1zM1156.4 1214.7h11.1v11.7h-11.1zM1167.1 1214.7h11.1v11.7h-11.1zM1177.7 1214.7h11.1v11.7h-11.1zM1188.3 1214.7h11.1v11.7h-11.1zM1198.9 1214.7h11.1v11.7h-11.1zM1230.8 1214.7h10.6v11.7h-10.6zM1029 1225.9h11.1v11.7h-11.1zM1114 1225.9h11.1v11.7h-11.1zM1145.8 1225.9h11.1v11.7h-11.1zM1156.4 1225.9h11.1v11.7h-11.1zM1029 1237.2h11.1v11.7h-11.1zM1114 1237.2h11.1v11.7h-11.1zM1145.8 1237.2h11.1v11.7h-11.1zM1156.4 1237.2h11.1v11.7h-11.1zM1082.1 1248.4h11.1v11.7h-11.1zM1145.8 1248.4h11.1v11.7h-11.1zM1198.9 1248.4h11.1v11.7h-11.1zM1039.6 1259.7h11.1v11.7h-11.1zM1145.8 1259.7h11.1v11.7h-11.1zM1220.2 1259.7h11.1v11.7h-11.1zM1230.8 1259.7h10.6v11.7h-10.6zM1039.6 1270.9h11.1v11.7h-11.1zM1060.9 1270.9h11.1v11.7h-11.1zM1039.6 1282.1h11.1v11.7h-11.1zM1060.9 1282.1h11.1v11.7h-11.1zM1029 1293.4h11.1v11.7h-11.1zM1230.8 1293.4h10.6v11.7h-10.6zM1220.2 1304.6h11.1v11.7h-11.1zM1039.6 1315.9h11.1v11.7h-11.1zM1050.2 1315.9h11.1v11.7h-11.1zM1060.9 1315.9h11.1v11.7h-11.1zM1188.3 1315.9h11.1v11.7h-11.1zM1220.2 1315.9h11.1v11.7h-11.1zM1050.2 1327.1h11.1v11.7h-11.1zM1209.5 1327.1h11.1v11.7h-11.1zM1220.2 1327.1h11.1v11.7h-11.1zM1039.6 1338.3h11.1v11.7h-11.1zM1071.5 1338.3h11.1v11.7h-11.1zM1135.2 1349.6h11.1v11.7h-11.1zM1071.5 1360.8h11.1v11.7h-11.1zM1092.7 1360.8h11.1v11.7h-11.1zM1103.3 1360.8h11.1v11.7h-11.1zM1114 1360.8h11.1v11.7h-11.1zM1177.7 1372.1h11.1v11.2h-11.1z"/>
<path fill="#b3ff4c" d="M1039.6 1158.5h11.1v11.7h-11.1zM1050.2 1158.5h11.1v11.7h-11.1zM1060.9 1158.5h11.1v11.7h-11.1zM1029 1169.7h11.1v11.7h-11.1zM1039.6 1169.7h11.1v11.7h-11.1zM1060.9 1181h11.1v11.7h-11.1zM1050.2 1192.2h11.1v11.7h-11.1zM1050.2 1203.5h11.1v11.7h-11.1zM1060.9 1203.5h11.1v11.7h-11.1zM1071.5 1203.5h11.1v11.7h-11.1zM1050.2 1214.7h11.1v11.7h-11.1zM1071.5 1214.7h11.1v11.7h-11.1zM1050.2 1225.9h11.1v11.7h-11.1zM1071.5 1225.9h11.1v11.7h-11.1zM1060.9 1237.2h11.1v11.7h-11.1zM1071.5 1248.4h11.1v11.7h-11.1zM1050.2 1259.7h11.1v11.7h-11.1zM1060.9 1259.7h11.1v11.7h-11.1zM1029 1270.9h11.1v11.7h-11.1zM1071.5 1304.6h11.1v11.7h-11.1zM1230.8 1315.9h10.6v11.7h-10.6zM1230.8 1327.1h10.6v11.7h-10.6zM1029 1338.3h11.1v11.7h-11.1zM1230.8 1338.3h10.6v11.7h-10.6zM1156.4 1349.6h11.1v11.7h-11.1zM1082.1 1360.8h11.1v11.7h-11.1zM1230.8 1372.1h10.6v11.2h-10.6z"/>
<path fill="#8aff75" d="M1071.5 1158.5h11.1v11.7h-11.1zM1082.1 1158.5h11.1v11.7h-11.1zM1103.3 1158.5h11.1v11.7h-11.1zM1145.8 1158.5h11.1v11.7h-11.1zM1156.4 1158.5h11.1v11.7h-11.1zM1167.1 1158.5h11.1v11.7h-11.1zM1050.2 1169.7h11.1v11.7h-11.1zM1071.5 1169.7h11.1v11.7h-11.1zM1082.1 1169.7h11.1v11.7h-11.1zM1145.8 1169.7h11.1v11.7h-11.1zM1156.4 1169.7h11.1v11.7h-11.1zM1029 1181h11.1v11.7h-11.1zM1039.6 1181h11.1v11.7h-11.1zM1071.5 1181h11.1v11.7h-11.1zM1103.3 1181h11.1v11.7h-11.1zM1145.8 1181h11.1v11.7h-11.1zM1156.4 1181h11.1v11.7h-11.1zM1039.6 1192.2h11.1v11.7h-11.1zM1071.5 1192.2h11.1v11.7h-11.1zM1103.3 1192.2h11.1v11.7h-11.1zM1145.8 1192.2h11.1v11.7h-11.1zM1082.1 1203.5h11.1v11.7h-11.1zM1103.3 1203.5h11.1v11.7h-11.1zM1145.8 1203.5h11.1v11.7h-11.1zM1156.4 1203.5h11.1v11.7h-11.1zM1103.3 1214.7h11.1v11.7h-11.1zM1145.8 1214.7h11.1v11.7h-11.1zM1039.6 1225.9h11.1v11.7h-11.1zM1060.9 1225.9h11.1v11.7h-11.1zM1103.3 1225.9h11.1v11.7h-11.1zM1039.6 1237.2h11.1v11.7h-11.1zM1050.2 1237.2h11.1v11.7h-11.1zM1071.5 1237.2h11.1v11.7h-11.1zM1039.6 1248.4h11.1v11.7h-11.1zM1050.2 1248.4h11.1v11.7h-11.1zM1029 1259.7h11.1v11.7h-11.1zM1071.5 1259.7h11.1v11.7h-11.1zM1071.5 1270.9h11.1v11.7h-11.1zM1071.5 1282.1h11.1v11.7h-11.1zM1039.6 1293.4h11.1v11.7h-11.1zM1071.5 1293.4h11.1v11.7h-11.1zM1114 1293.4h11.1v11.7h-11.1zM1039.6 1304.6h11.1v11.7h-11.1zM1230.8 1304.6h10.6v11.7h-10.6zM1029 1327.1h11.1v11.7h-11.1zM1167.1 1327.1h11.1v11.7h-11.1zM1156.4 1338.3h11.1v11.7h-11.1zM1167.1 1338.3h11.1v11.7h-11.1zM1177.7 1338.3h11.1v11.7h-11.1zM1188.3 1338.3h11.1v11.7h-11.1zM1198.9 1338.3h11.1v11.7h-11.1zM1209.5 1338.3h11.1v11.7h-11.1zM1220.2 1338.3h11.1v11.7h-11.1zM1029 1349.6h11.1v11.7h-11.1zM1071.5 1349.6h11.1v11.7h-11.1zM1145.8 1349.6h11.1v11.7h-11.1zM1167.1 1349.6h11.1v11.7h-11.1zM1177.7 1349.6h11.1v11.7h-11.1zM1188.3 1349.6h11.1v11.7h-11.1zM1198.9 1349.6h11.1v11.7h-11.1zM1209.5 1349.6h11.1v11.7h-11.1zM1220.2 1349.6h11.1v11.7h-11.1zM1230.8 1349.6h10.6v11.7h-10.6zM1124.6 1360.8h11.1v11.7h-11.1zM1145.8 1360.8h11.1v11.7h-11.1zM1156.4 1360.8h11.1v11.7h-11.1zM1167.1 1360.8h11.1v11.7h-11.1zM1177.7 1360.8h11.1v11.7h-11.1zM1188.3 1360.8h11.1v11.7h-11.1zM1198.9 1360.8h11.1v11.7h-11.1zM1209.5 1360.8h11.1v11.7h-11.1zM1220.2 1360.8h11.1v11.7h-11.1zM1230.8 1360.8h10.6v11.7h-10.6zM1029 1372.1h11.1v11.2h-11.1zM1050.2 1372.1h11.1v11.2h-11.1zM1060.9 1372.1h11.1v11.2h-11.1zM1071.5 1372.1h11.1v11.2h-11.1zM1082.1 1372.1h11.1v11.2h-11.1zM1092.7 1372.1h11.1v11.2h-11.1zM1103.3 1372.1h11.1v11.2h-11.1zM1124.6 1372.1h11.1v11.2h-11.1zM1145.8 1372.1h11.1v11.2h-11.1zM1156.4 1372.1h11.1v11.2h-11.1zM1220.2 1372.1h11.1v11.2h-11.1z"/>
<path fill="#42ffbd" d="M1124.6 1158.5h11.1v11.7h-11.1zM1135.2 1158.5h11.1v11.7h-11.1zM1135.2 1169.7h11.1v11.7h-11.1zM1198.9 1169.7h11.1v11.7h-11.1zM1209.5 1169.7h11.1v11.7h-11.1zM1092.7 1181h11.1v11.7h-11.1zM1124.6 1181h11.1v11.7h-11.1zM1135.2 1181h11.1v11.7h-11.1zM1198.9 1181h11.1v11.7h-11.1zM1209.5 1181h11.1v11.7h-11.1zM1177.7 1192.2h11.1v11.7h-11.1zM1198.9 1192.2h11.1v11.7h-11.1zM1092.7 1203.5h11.1v11.7h-11.1zM1124.6 1203.5h11.1v11.7h-11.1zM1135.2 1203.5h11.1v11.7h-11.1zM1198.9 1203.5h11.1v11.7h-11.1zM1220.2 1203.5h11.1v11.7h-11.1zM1082.1 1214.7h11.1v11.7h-11.1zM1124.6 1214.7h11.1v11.7h-11.1zM1209.5 1214.7h11.1v11.7h-11.1zM1220.2 1214.7h11.1v11.7h-11.1zM1082.1 1225.9h11.1v11.7h-11.1zM1092.7 1225.9h11.1v11.7h-11.1zM1135.2 1225.9h11.1v11.7h-11.1zM1167.1 1225.9h11.1v11.7h-11.1zM1177.7 1225.9h11.1v11.7h-11.1zM1188.3 1225.9h11.1v11.7h-11.1zM1198.9 1225.9h11.1v11.7h-11.1zM1209.5 1225.9h11.1v11.7h-11.1zM1220.2 1225.9h11.1v11.7h-11.1zM1230.8 1225.9h10.6v11.7h-10.6zM1082.1 1237.2h11.1v11.7h-11.1zM1092.7 1237.2h11.1v11.7h-11.1zM1167.1 1237.2h11.1v11.7h-11.1zM1177.7 1237.2h11.1v11.7h-11.1zM1188.3 1237.2h11.1v11.7h-11.1zM1198.9 1237.2h11.1v11.7h-11.1zM1209.5 1237.2h11.1v11.7h-11.1zM1220.2 1237.2h11.1v11.7h-11.1zM1230.8 1237.2h10.6v11.7h-10.6zM1029 1248.4h11.1v11.7h-11.1zM1156.4 1248.4h11.1v11.7h-11.1zM1167.1 1248.4h11.1v11.7h-11.1zM1177.7 1248.4h11.1v11.7h-11.1zM1188.3 1248.4h11.1v11.7h-11.1zM1209.5 1248.4h11.1v11.7h-11.1zM1220.2 1248.4h11.1v11.7h-11.1zM1230.8 1248.4h10.6v11.7h-10.6zM1103.3 1259.7h11.1v11.7h-11.1zM1156.4 1259.7h11.1v11.7h-11.1zM1167.1 1259.7h11.1v11.7h-11.1zM1198.9 1259.7h11.1v11.7h-11.1zM1209.5 1259.7h11.1v11.7h-11.1zM1156.4 1270.9h11.1v11.7h-11.1zM1220.2 1270.9h11.1v11.7h-11.1zM1230.8 1270.9h10.6v11.7h-10.6zM1220.2 1282.1h11.1v11.7h-11.1zM1230.8 1282.1h10.6v11.7h-10.6zM1209.5 1293.4h11.1v11.7h-11.1zM1220.2 1293.4h11.1v11.7h-11.1zM1167.1 1304.6h11.1v11.7h-11.1zM1177.7 1304.6h11.1v11.7h-11.1zM1188.3 1304.6h11.1v11.7h-11.1zM1209.5 1304.6h11.1v11.7h-11.1zM1029 1315.9h11.1v11.7h-11.1zM1156.4 1315.9h11.1v11.7h-11.1zM1167.1 1315.9h11.1v11.7h-11.1zM1198.9 1315.9h11.1v11.7h-11.1zM1209.5 1315.9h11.1v11.7h-11.1zM1039.6 1327.1h11.1v11.7h-11.1zM1060.9 1327.1h11.1v11.7h-11.1zM1198.9 1327.1h11.1v11.7h-11.1zM1060.9 1360.8h11.1v11.7h-11.1zM1135.2 1360.8h11.1v11.7h-11.1zM1167.1 1372.1h11.1v11.2h-11.1zM1188.3 1372.1h11.1v11.2h-11.1z"/>
<path fill="#dbff24" d="M1060.9 1169.7h11.1v11.7h-11.1zM1050.2 1181h11.1v11.7h-11.1zM1060.9 1192.2h11.1v11.7h-11.1zM1060.9 1248.4h11.1v11.7h-11.1zM1029 1282.1h11.1v11.7h-11.1zM1050.2 1282.1h11.1v11.7h-11.1zM1050.2 1293.4h11.1v11.7h-11.1zM1050.2 1304.6h11.1v11.7h-11.1zM1039.6 1349.6h11.1v11.7h-11.1zM1060.9 1349.6h11.1v11.7h-11.1z"/>
<path fill="#05fffa" d="M1124.6 1169.7h11.1v11.7h-11.1zM1124.6 1192.2h11.1v11.7h-11.1zM1135.2 1214.7h11.1v11.7h-11.1zM1124.6 1225.9h11.1v11.7h-11.1zM1103.3 1237.2h11.1v11.7h-11.1zM1135.2 1237.2h11.1v11.7h-11.1zM1092.7 1248.4h11.1v11.7h-11.1zM1135.2 1248.4h11.1v11.7h-11.1zM1082.1 1259.7h11.1v11.7h-11.1zM1177.7 1259.7h11.1v11.7h-11.1zM1188.3 1259.7h11.1v11.7h-11.1zM1103.3 1270.9h11.1v11.7h-11.1zM1145.8 1270.9h11.1v11.7h-11.1zM1167.1 1270.9h11.1v11.7h-11.1zM1177.7 1270.9h11.1v11.7h-11.1zM1209.5 1270.9h11.1v11.7h-11.1zM1103.3 1282.1h11.1v11.7h-11.1zM1114 1282.1h11.1v11.7h-11.1zM1156.4 1282.1h11.1v11.7h-11.1zM1167.1 1282.1h11.1v11.7h-11.1zM1188.3 1282.1h11.1v11.7h-11.1zM1209.5 1282.1h11.1v11.7h-11.1zM1082.1 1293.4h11.1v11.7h-11.1zM1124.6 1293.4h11.1v11.7h-11.1zM1135.2 1293.4h11.1v11.7h-11.1zM1167.1 1293.4h11.1v11.7h-11.1zM1060.9 1304.6h11.1v11.7h-11.1zM1124.6 1304.6h11.1v11.7h-11.1zM1135.2 1304.6h11.1v11.7h-11.1zM1145.8 1304.6h11.1v11.7h-11.1zM1156.4 1304.6h11.1v11.7h-11.1zM1198.9 1304.6h11.1v11.7h-11.1zM1071.5 1315.9h11.1v11.7h-11.1zM1082.1 1315.9h11.1v11.7h-11.1zM1177.7 1315.9h11.1v11.7h-11.1zM1188.3 1327.1h11.1v11.7h-11.1zM1135.2 1338.3h11.1v11.7h-11.1zM1082.1 1349.6h11.1v11.7h-11.1z"/>
<path fill="#ffff00" d="M1060.9 1214.7h11.1v11.7h-11.1zM1050.2 1270.9h11.1v11.7h-11.1zM1135.2 1372.1h11.1v11.2h-11.1zM1209.5 1372.1h11.1v11.2h-11.1z"/>
<path fill="#00d1ff" d="M1124.6 1237.2h11.1v11.7h-11.1zM1103.3 1248.4h11.1v11.7h-11.1zM1092.7 1259.7h11.1v11.7h-11.1zM1135.2 1259.7h11.1v11.7h-11.1zM1082.1 1270.9h11.1v11.7h-11.1zM1188.3 1270.9h11.1v11.7h-11.1zM1198.9 1270.9h11.1v11.7h-11.1zM1082.1 1282.1h11.1v11.7h-11.1zM1092.7 1282.1h11.1v11.7h-11.1zM1145.8 1282.1h11.1v11.7h-11.1zM1177.7 1282.1h11.1v11.7h-11.1zM1198.9 1282.1h11.1v11.7h-11.1zM1092.7 1293.4h11.1v11.7h-11.1zM1103.3 1293.4h11.1v11.7h-11.1zM1145.8 1293.4h11.1v11.7h-11.1zM1156.4 1293.4h11.1v11.7h-11.1zM1177.7 1293.4h11.1v11.7h-11.1zM1188.3 1293.4h11.1v11.7h-11.1zM1198.9 1293.4h11.1v11.7h-11.1zM1103.3 1304.6h11.1v11.7h-11.1zM1114 1304.6h11.1v11.7h-11.1zM1145.8 1315.9h11.1v11.7h-11.1zM1103.3 1327.1h11.1v11.7h-11.1zM1156.4 1327.1h11.1v11.7h-11.1zM1177.7 1327.1h11.1v11.7h-11.1zM1145.8 1338.3h11.1v11.7h-11.1zM1114 1372.1h11.1v11.2h-11.1zM1198.9 1372.1h11.1v11.2h-11.1z"/>
<path fill="#0094ff" d="M1114 1248.4h11.1v11.7h-11.1zM1124.6 1248.4h11.1v11.7h-11.1zM1114 1259.7h11.1v11.7h-11.1zM1092.7 1270.9h11.1v11.7h-11.1zM1135.2 1270.9h11.1v11.7h-11.1zM1060.9 1293.4h11.1v11.7h-11.1zM1029 1304.6h11.1v11.7h-11.1zM1082.1 1304.6h11.1v11.7h-11.1zM1092.7 1304.6h11.1v11.7h-11.1zM1103.3 1315.9h11.1v11.7h-11.1zM1124.6 1315.9h11.1v11.7h-11.1zM1135.2 1315.9h11.1v11.7h-11.1zM1071.5 1327.1h11.1v11.7h-11.1zM1145.8 1327.1h11.1v11.7h-11.1zM1092.7 1349.6h11.1v11.7h-11.1zM1103.3 1349.6h11.1v11.7h-11.1z"/>
<path fill="#004dff" d="M1124.6 1259.7h11.1v11.7h-11.1zM1114 1270.9h11.1v11.7h-11.1zM1135.2 1282.1h11.1v11.7h-11.1zM1092.7 1315.9h11.1v11.7h-11.1zM1114 1315.9h11.1v11.7h-11.1zM1124.6 1327.1h11.1v11.7h-11.1zM1135.2 1327.1h11.1v11.7h-11.1zM1124.6 1338.3h11.1v11.7h-11.1zM1050.2 1349.6h11.1v11.7h-11.1z"/>
<path fill="#0005ff" d="M1124.6 1270.9h11.1v11.7h-11.1zM1050.2 1338.3h11.1v11.7h-11.1zM1060.9 1338.3h11.1v11.7h-11.1zM1114 1349.6h11.1v11.7h-11.1zM1124.6 1349.6h11.1v11.7h-11.1zM1050.2 1360.8h11.1v11.7h-11.1z"/>
<path fill="#0000bd" d="M1124.6 1282.1h11.1v11.7h-11.1zM1114 1327.1h11.1v11.7h-11.1zM1114 1338.3h11.1v11.7h-11.1z"/>
<path fill="#000080" d="M1082.1 1327.1h11.1v11.7h-11.1zM1092.7 1327.1h11.1v11.7h-11.1zM1082.1 1338.3h11.1v11.7h-11.1zM1092.7 1338.3h11.1v11.7h-11.1zM1103.3 1338.3h11.1v11.7h-11.1z"/>
<path fill="#ff6100" d="M1029 1360.8h11.1v11.7h-11.1z"/>
<path fill="#ff9e00" d="M1039.6 1360.8h11.1v11.7h-11.1z"/>
<path fill="#800000" d="M1039.6 1372.1h11.1v11.2h-11.1z"/>
</g>
<text x="971.06" y="1171.39" font-size="28.5" font-weight="normal" font-style="normal" fill="#000" stroke="#000" stroke-width="0.45" transform="translate(0 -117.14) scale(1 1.1)">200</text>
<text x="971.06" y="1278.39" font-size="28.5" font-weight="normal" font-style="normal" fill="#000" stroke="#000" stroke-width="0.45" transform="translate(0 -127.84) scale(1 1.1)">100</text>
<text x="992.36" y="1385.69" font-size="28.5" font-weight="normal" font-style="normal" fill="#000" stroke="#000" stroke-width="0.45" transform="translate(0 -138.57) scale(1 1.1)">0</text>
<text x="1114.22" y="1407.99" font-size="28.5" font-weight="normal" font-style="normal" fill="#000" stroke="#000" stroke-width="0.45" transform="translate(0 -140.8) scale(1 1.1)">10</text>
<text x="1215.59" y="1407.99" font-size="28.5" font-weight="normal" font-style="normal" fill="#000" stroke="#000" stroke-width="0.45" transform="translate(0 -140.8) scale(1 1.1)">20</text>
<g shape-rendering="crispEdges">
<path fill="#8aff75" d="M279 1471.3h11.2v11.8h-11.2zM289.7 1471.3h11.2v11.8h-11.2zM311.1 1471.3h11.2v11.8h-11.2zM321.8 1471.3h11.2v11.8h-11.2zM343.2 1471.3h11.2v11.8h-11.2zM279 1482.6h11.2v11.8h-11.2zM289.7 1482.6h11.2v11.8h-11.2zM300.4 1482.6h11.2v11.8h-11.2zM311.1 1482.6h11.2v11.8h-11.2zM321.8 1482.6h11.2v11.8h-11.2zM343.2 1482.6h11.2v11.8h-11.2zM353.9 1482.6h11.2v11.8h-11.2zM364.6 1482.6h11.2v11.8h-11.2zM279 1494h11.2v11.8h-11.2zM289.7 1494h11.2v11.8h-11.2zM311.1 1494h11.2v11.8h-11.2zM321.8 1494h11.2v11.8h-11.2zM343.2 1494h11.2v11.8h-11.2zM418.1 1494h11.2v11.8h-11.2zM289.7 1505.3h11.2v11.8h-11.2zM321.8 1505.3h11.2v11.8h-11.2zM343.2 1505.3h11.2v11.8h-11.2zM386 1505.3h11.2v11.8h-11.2zM279 1516.7h11.2v11.8h-11.2zM343.2 1516.7h11.2v11.8h-11.2zM386 1516.7h11.2v11.8h-11.2zM279 1528h11.2v11.8h-11.2zM289.7 1528h11.2v11.8h-11.2zM300.4 1528h11.2v11.8h-11.2zM311.1 1528h11.2v11.8h-11.2zM321.8 1528h11.2v11.8h-11.2zM343.2 1528h11.2v11.8h-11.2zM375.3 1528h11.2v11.8h-11.2zM396.7 1528h11.2v11.8h-11.2zM279 1539.4h11.2v11.8h-11.2zM289.7 1539.4h11.2v11.8h-11.2zM311.1 1539.4h11.2v11.8h-11.2zM343.2 1539.4h11.2v11.8h-11.2zM375.3 1539.4h11.2v11.8h-11.2zM396.7 1539.4h11.2v11.8h-11.2zM482.3 1539.4h10.7v11.8h-10.7zM289.7 1550.8h11.2v11.8h-11.2zM396.7 1550.8h11.2v11.8h-11.2zM482.3 1550.8h10.7v11.8h-10.7zM279 1562.1h11.2v11.8h-11.2zM289.7 1562.1h11.2v11.8h-11.2zM311.1 1562.1h11.2v11.8h-11.2zM321.8 1562.1h11.2v11.8h-11.2zM343.2 1562.1h11.2v11.8h-11.2zM353.9 1562.1h11.2v11.8h-11.2zM364.6 1562.1h11.2v11.8h-11.2zM386 1562.1h11.2v11.8h-11.2zM396.7 1562.1h11.2v11.8h-11.2zM450.2 1562.1h11.2v11.8h-11.2zM482.3 1562.1h10.7v11.8h-10.7zM289.7 1573.5h11.2v11.8h-11.2zM332.5 1573.5h11.2v11.8h-11.2zM353.9 1573.5h11.2v11.8h-11.2zM407.4 1573.5h11.2v11.8h-11.2zM471.6 1573.5h11.2v11.8h-11.2zM289.7 1584.8h11.2v11.8h-11.2zM279 1596.1h11.2v11.8h-11.2zM289.7 1596.1h11.2v11.8h-11.2zM300.4 1596.1h11.2v11.8h-11.2zM353.9 1596.1h11.2v11.8h-11.2zM364.6 1596.1h11.2v11.8h-11.2zM418.1 1596.1h11.2v11.8h-11.2zM289.7 1607.5h11.2v11.8h-11.2zM300.4 1607.5h11.2v11.8h-11.2zM321.8 1607.5h11.2v11.8h-11.2zM353.9 1607.5h11.2v11.8h-11.2zM289.7 1618.8h11.2v11.8h-11.2zM332.5 1618.8h11.2v11.8h-11.2zM386 1618.8h11.2v11.8h-11.2zM418.1 1618.8h11.2v11.8h-11.2zM428.8 1618.8h11.2v11.8h-11.2zM482.3 1618.8h10.7v11.8h-10.7zM289.7 1630.2h11.2v11.8h-11.2zM311.1 1630.2h11.2v11.8h-11.2zM428.8 1630.2h11.2v11.8h-11.2zM471.6 1630.2h11.2v11.8h-11.2zM279 1641.5h11.2v11.8h-11.2zM289.7 1641.5h11.2v11.8h-11.2zM418.1 1641.5h11.2v11.8h-11.2zM482.3 1641.5h10.7v11.8h-10.7zM321.8 1652.9h11.2v11.8h-11.2zM407.4 1652.9h11.2v11.8h-11.2zM460.9 1652.9h11.2v11.8h-11.2zM471.6 1652.9h11.2v11.8h-11.2zM482.3 1652.9h10.7v11.8h-10.7zM289.7 1664.2h11.2v11.8h-11.2zM386 1664.2h11.2v11.8h-11.2zM396.7 1664.2h11.2v11.8h-11.2zM418.1 1664.2h11.2v11.8h-11.2zM428.8 1664.2h11.2v11.8h-11.2zM439.5 1664.2h11.2v11.8h-11.2zM450.2 1664.2h11.2v11.8h-11.2zM460.9 1664.2h11.2v11.8h-11.2zM471.6 1664.2h11.2v11.8h-11.2zM343.2 1675.6h11.2v11.8h-11.2zM353.9 1675.6h11.2v11.8h-11.2zM364.6 1675.6h11.2v11.8h-11.2zM375.3 1675.6h11.2v11.8h-11.2zM396.7 1675.6h11.2v11.8h-11.2zM407.4 1675.6h11.2v11.8h-11.2zM418.1 1675.6h11.2v11.8h-11.2zM428.8 1675.6h11.2v11.8h-11.2zM439.5 1675.6h11.2v11.8h-11.2zM450.2 1675.6h11.2v11.8h-11.2zM460.9 1675.6h11.2v11.8h-11.2zM471.6 1675.6h11.2v11.8h-11.2zM482.3 1675.6h10.7v11.8h-10.7zM279 1687h11.2v11.3h-11.2zM289.7 1687h11.2v11.3h-11.2zM300.4 1687h11.2v11.3h-11.2zM311.1 1687h11.2v11.3h-11.2zM321.8 1687h11.2v11.3h-11.2zM332.5 1687h11.2v11.3h-11.2zM343.2 1687h11.2v11.3h-11.2zM353.9 1687h11.2v11.3h-11.2zM375.3 1687h11.2v11.3h-11.2zM386 1687h11.2v11.3h-11.2zM396.7 1687h11.2v11.3h-11.2zM482.3 1687h10.7v11.3h-10.7z"/>
<path fill="#6bff94" d="M300.4 1471.3h11.2v11.8h-11.2zM332.5 1471.3h11.2v11.8h-11.2zM353.9 1471.3h11.2v11.8h-11.2zM364.6 1471.3h11.2v11.8h-11.2zM332.5 1482.6h11.2v11.8h-11.2zM300.4 1494h11.2v11.8h-11.2zM353.9 1494h11.2v11.8h-11.2zM364.6 1494h11.2v11.8h-11.2zM396.7 1494h11.2v11.8h-11.2zM300.4 1505.3h11.2v11.8h-11.2zM311.1 1505.3h11.2v11.8h-11.2zM353.9 1505.3h11.2v11.8h-11.2zM364.6 1505.3h11.2v11.8h-11.2zM396.7 1505.3h11.2v11.8h-11.2zM300.4 1516.7h11.2v11.8h-11.2zM311.1 1516.7h11.2v11.8h-11.2zM321.8 1516.7h11.2v11.8h-11.2zM332.5 1516.7h11.2v11.8h-11.2zM353.9 1516.7h11.2v11.8h-11.2zM364.6 1516.7h11.2v11.8h-11.2zM396.7 1516.7h11.2v11.8h-11.2zM353.9 1528h11.2v11.8h-11.2zM364.6 1528h11.2v11.8h-11.2zM386 1528h11.2v11.8h-11.2zM300.4 1539.4h11.2v11.8h-11.2zM321.8 1539.4h11.2v11.8h-11.2zM364.6 1539.4h11.2v11.8h-11.2zM386 1539.4h11.2v11.8h-11.2zM279 1550.8h11.2v11.8h-11.2zM300.4 1550.8h11.2v11.8h-11.2zM311.1 1550.8h11.2v11.8h-11.2zM321.8 1550.8h11.2v11.8h-11.2zM332.5 1550.8h11.2v11.8h-11.2zM343.2 1550.8h11.2v11.8h-11.2zM353.9 1550.8h11.2v11.8h-11.2zM364.6 1550.8h11.2v11.8h-11.2zM386 1550.8h11.2v11.8h-11.2zM300.4 1562.1h11.2v11.8h-11.2zM332.5 1562.1h11.2v11.8h-11.2zM279 1573.5h11.2v11.8h-11.2zM300.4 1573.5h11.2v11.8h-11.2zM311.1 1573.5h11.2v11.8h-11.2zM321.8 1573.5h11.2v11.8h-11.2zM321.8 1584.8h11.2v11.8h-11.2zM321.8 1596.1h11.2v11.8h-11.2zM364.6 1607.5h11.2v11.8h-11.2zM300.4 1618.8h11.2v11.8h-11.2zM321.8 1618.8h11.2v11.8h-11.2zM343.2 1618.8h11.2v11.8h-11.2zM364.6 1618.8h11.2v11.8h-11.2zM375.3 1618.8h11.2v11.8h-11.2zM332.5 1630.2h11.2v11.8h-11.2zM343.2 1630.2h11.2v11.8h-11.2zM364.6 1630.2h11.2v11.8h-11.2zM482.3 1630.2h10.7v11.8h-10.7zM364.6 1641.5h11.2v11.8h-11.2zM375.3 1641.5h11.2v11.8h-11.2zM418.1 1652.9h11.2v11.8h-11.2zM428.8 1652.9h11.2v11.8h-11.2zM439.5 1652.9h11.2v11.8h-11.2zM450.2 1652.9h11.2v11.8h-11.2zM407.4 1664.2h11.2v11.8h-11.2zM482.3 1664.2h10.7v11.8h-10.7zM332.5 1675.6h11.2v11.8h-11.2zM407.4 1687h11.2v11.3h-11.2zM428.8 1687h11.2v11.3h-11.2zM460.9 1687h11.2v11.3h-11.2z"/>
<path fill="#dbff24" d="M375.3 1471.3h11.2v11.8h-11.2zM407.4 1471.3h11.2v11.8h-11.2zM439.5 1471.3h11.2v11.8h-11.2zM450.2 1471.3h11.2v11.8h-11.2zM460.9 1482.6h11.2v11.8h-11.2zM428.8 1494h11.2v11.8h-11.2zM439.5 1494h11.2v11.8h-11.2zM450.2 1494h11.2v11.8h-11.2zM460.9 1494h11.2v11.8h-11.2zM471.6 1494h11.2v11.8h-11.2zM428.8 1505.3h11.2v11.8h-11.2zM460.9 1505.3h11.2v11.8h-11.2zM471.6 1505.3h11.2v11.8h-11.2zM428.8 1516.7h11.2v11.8h-11.2zM439.5 1516.7h11.2v11.8h-11.2zM450.2 1516.7h11.2v11.8h-11.2zM460.9 1516.7h11.2v11.8h-11.2zM407.4 1528h11.2v11.8h-11.2zM418.1 1528h11.2v11.8h-11.2zM428.8 1528h11.2v11.8h-11.2zM439.5 1528h11.2v11.8h-11.2zM460.9 1528h11.2v11.8h-11.2zM407.4 1539.4h11.2v11.8h-11.2zM418.1 1539.4h11.2v11.8h-11.2zM450.2 1539.4h11.2v11.8h-11.2zM460.9 1539.4h11.2v11.8h-11.2zM407.4 1550.8h11.2v11.8h-11.2zM450.2 1550.8h11.2v11.8h-11.2zM460.9 1550.8h11.2v11.8h-11.2zM407.4 1562.1h11.2v11.8h-11.2zM428.8 1562.1h11.2v11.8h-11.2zM343.2 1573.5h11.2v11.8h-11.2zM386 1573.5h11.2v11.8h-11.2zM428.8 1573.5h11.2v11.8h-11.2zM450.2 1573.5h11.2v11.8h-11.2zM482.3 1573.5h10.7v11.8h-10.7zM332.5 1584.8h11.2v11.8h-11.2zM353.9 1584.8h11.2v11.8h-11.2zM396.7 1584.8h11.2v11.8h-11.2zM407.4 1584.8h11.2v11.8h-11.2zM418.1 1584.8h11.2v11.8h-11.2zM450.2 1584.8h11.2v11.8h-11.2zM471.6 1584.8h11.2v11.8h-11.2zM482.3 1596.1h10.7v11.8h-10.7zM386 1607.5h11.2v11.8h-11.2zM439.5 1630.2h11.2v11.8h-11.2zM471.6 1641.5h11.2v11.8h-11.2zM289.7 1652.9h11.2v11.8h-11.2zM353.9 1652.9h11.2v11.8h-11.2zM321.8 1664.2h11.2v11.8h-11.2zM386 1675.6h11.2v11.8h-11.2zM439.5 1687h11.2v11.3h-11.2z"/>
<path fill="#b3ff4c" d="M386 1471.3h11.2v11.8h-11.2zM396.7 1471.3h11.2v11.8h-11.2zM418.1 1471.3h11.2v11.8h-11.2zM428.8 1471.3h11.2v11.8h-11.2zM460.9 1471.3h11.2v11.8h-11.2zM471.6 1471.3h11.2v11.8h-11.2zM482.3 1471.3h10.7v11.8h-10.7zM375.3 1482.6h11.2v11.8h-11.2zM386 1482.6h11.2v11.8h-11.2zM396.7 1482.6h11.2v11.8h-11.2zM407.4 1482.6h11.2v11.8h-11.2zM418.1 1482.6h11.2v11.8h-11.2zM428.8 1482.6h11.2v11.8h-11.2zM439.5 1482.6h11.2v11.8h-11.2zM450.2 1482.6h11.2v11.8h-11.2zM471.6 1482.6h11.2v11.8h-11.2zM482.3 1482.6h10.7v11.8h-10.7zM332.5 1494h11.2v11.8h-11.2zM375.3 1494h11.2v11.8h-11.2zM386 1494h11.2v11.8h-11.2zM407.4 1494h11.2v11.8h-11.2zM482.3 1494h10.7v11.8h-10.7zM279 1505.3h11.2v11.8h-11.2zM332.5 1505.3h11.2v11.8h-11.2zM375.3 1505.3h11.2v11.8h-11.2zM407.4 1505.3h11.2v11.8h-11.2zM418.1 1505.3h11.2v11.8h-11.2zM439.5 1505.3h11.2v11.8h-11.2zM450.2 1505.3h11.2v11.8h-11.2zM482.3 1505.3h10.7v11.8h-10.7zM289.7 1516.7h11.2v11.8h-11.2zM375.3 1516.7h11.2v11.8h-11.2zM407.4 1516.7h11.2v11.8h-11.2zM418.1 1516.7h11.2v11.8h-11.2zM482.3 1516.7h10.7v11.8h-10.7zM332.5 1528h11.2v11.8h-11.2zM450.2 1528h11.2v11.8h-11.2zM471.6 1528h11.2v11.8h-11.2zM482.3 1528h10.7v11.8h-10.7zM332.5 1539.4h11.2v11.8h-11.2zM471.6 1539.4h11.2v11.8h-11.2zM375.3 1550.8h11.2v11.8h-11.2zM418.1 1550.8h11.2v11.8h-11.2zM471.6 1550.8h11.2v11.8h-11.2zM375.3 1562.1h11.2v11.8h-11.2zM418.1 1562.1h11.2v11.8h-11.2zM439.5 1562.1h11.2v11.8h-11.2zM460.9 1562.1h11.2v11.8h-11.2zM471.6 1562.1h11.2v11.8h-11.2zM396.7 1573.5h11.2v11.8h-11.2zM460.9 1573.5h11.2v11.8h-11.2zM279 1584.8h11.2v11.8h-11.2zM311.1 1584.8h11.2v11.8h-11.2zM482.3 1584.8h10.7v11.8h-10.7zM311.1 1596.1h11.2v11.8h-11.2zM460.9 1596.1h11.2v11.8h-11.2zM471.6 1596.1h11.2v11.8h-11.2zM332.5 1607.5h11.2v11.8h-11.2zM343.2 1607.5h11.2v11.8h-11.2zM375.3 1607.5h11.2v11.8h-11.2zM418.1 1607.5h11.2v11.8h-11.2zM482.3 1607.5h10.7v11.8h-10.7zM460.9 1618.8h11.2v11.8h-11.2zM471.6 1618.8h11.2v11.8h-11.2zM450.2 1630.2h11.2v11.8h-11.2zM460.9 1630.2h11.2v11.8h-11.2zM332.5 1641.5h11.2v11.8h-11.2zM450.2 1641.5h11.2v11.8h-11.2zM460.9 1641.5h11.2v11.8h-11.2zM321.8 1675.6h11.2v11.8h-11.2z"/>
<path fill="#ffff00" d="M471.6 1516.7h11.2v11.8h-11.2zM428.8 1539.4h11.2v11.8h-11.2zM439.5 1539.4h11.2v11.8h-11.2zM428.8 1550.8h11.2v11.8h-11.2zM439.5 1550.8h11.2v11.8h-11.2zM364.6 1573.5h11.2v11.8h-11.2zM418.1 1573.5h11.2v11.8h-11.2zM439.5 1573.5h11.2v11.8h-11.2zM428.8 1584.8h11.2v11.8h-11.2zM439.5 1584.8h11.2v11.8h-11.2zM460.9 1584.8h11.2v11.8h-11.2zM332.5 1596.1h11.2v11.8h-11.2zM343.2 1596.1h11.2v11.8h-11.2zM396.7 1596.1h11.2v11.8h-11.2zM407.4 1596.1h11.2v11.8h-11.2zM450.2 1596.1h11.2v11.8h-11.2zM396.7 1618.8h11.2v11.8h-11.2zM439.5 1618.8h11.2v11.8h-11.2zM450.2 1618.8h11.2v11.8h-11.2zM386 1630.2h11.2v11.8h-11.2zM386 1641.5h11.2v11.8h-11.2zM396.7 1641.5h11.2v11.8h-11.2zM439.5 1641.5h11.2v11.8h-11.2zM279 1652.9h11.2v11.8h-11.2zM386 1652.9h11.2v11.8h-11.2zM396.7 1652.9h11.2v11.8h-11.2zM353.9 1664.2h11.2v11.8h-11.2zM418.1 1687h11.2v11.3h-11.2z"/>
<path fill="#42ffbd" d="M353.9 1539.4h11.2v11.8h-11.2zM300.4 1584.8h11.2v11.8h-11.2zM353.9 1618.8h11.2v11.8h-11.2zM375.3 1630.2h11.2v11.8h-11.2zM343.2 1641.5h11.2v11.8h-11.2zM471.6 1687h11.2v11.3h-11.2z"/>
<path fill="#ffd100" d="M375.3 1573.5h11.2v11.8h-11.2zM343.2 1584.8h11.2v11.8h-11.2zM364.6 1584.8h11.2v11.8h-11.2zM386 1584.8h11.2v11.8h-11.2zM428.8 1596.1h11.2v11.8h-11.2zM439.5 1596.1h11.2v11.8h-11.2zM279 1607.5h11.2v11.8h-11.2zM311.1 1607.5h11.2v11.8h-11.2zM407.4 1607.5h11.2v11.8h-11.2zM428.8 1607.5h11.2v11.8h-11.2zM439.5 1607.5h11.2v11.8h-11.2zM450.2 1607.5h11.2v11.8h-11.2zM460.9 1607.5h11.2v11.8h-11.2zM471.6 1607.5h11.2v11.8h-11.2zM311.1 1618.8h11.2v11.8h-11.2zM407.4 1618.8h11.2v11.8h-11.2zM279 1630.2h11.2v11.8h-11.2zM300.4 1630.2h11.2v11.8h-11.2zM418.1 1630.2h11.2v11.8h-11.2zM300.4 1641.5h11.2v11.8h-11.2zM428.8 1641.5h11.2v11.8h-11.2zM311.1 1652.9h11.2v11.8h-11.2zM364.6 1652.9h11.2v11.8h-11.2zM332.5 1664.2h11.2v11.8h-11.2zM343.2 1664.2h11.2v11.8h-11.2zM364.6 1664.2h11.2v11.8h-11.2zM289.7 1675.6h11.2v11.8h-11.2zM450.2 1687h11.2v11.3h-11.2z"/>
<path fill="#ff9e00" d="M375.3 1584.8h11.2v11.8h-11.2zM396.7 1607.5h11.2v11.8h-11.2zM279 1618.8h11.2v11.8h-11.2zM321.8 1630.2h11.2v11.8h-11.2zM396.7 1630.2h11.2v11.8h-11.2zM407.4 1630.2h11.2v11.8h-11.2zM311.1 1641.5h11.2v11.8h-11.2zM321.8 1641.5h11.2v11.8h-11.2zM407.4 1641.5h11.2v11.8h-11.2zM375.3 1652.9h11.2v11.8h-11.2zM300.4 1664.2h11.2v11.8h-11.2z"/>
<path fill="#ff6100" d="M375.3 1596.1h11.2v11.8h-11.2zM386 1596.1h11.2v11.8h-11.2zM343.2 1652.9h11.2v11.8h-11.2zM375.3 1664.2h11.2v11.8h-11.2zM364.6 1687h11.2v11.3h-11.2z"/>
<path fill="#05fffa" d="M353.9 1630.2h11.2v11.8h-11.2zM279 1664.2h11.2v11.8h-11.2zM311.1 1664.2h11.2v11.8h-11.2z"/>
<path fill="#004dff" d="M353.9 1641.5h11.2v11.8h-11.2z"/>
<path fill="#ff2400" d="M300.4 1652.9h11.2v11.8h-11.2zM332.5 1652.9h11.2v11.8h-11.2z"/>
<path fill="#e50000" d="M279 1675.6h11.2v11.8h-11.2zM311.1 1675.6h11.2v11.8h-11.2z"/>
<path fill="#800000" d="M300.4 1675.6h11.2v11.8h-11.2z"/>
</g>
<text x="221.06" y="1484.19" font-size="28.5" font-weight="normal" font-style="normal" fill="#000" stroke="#000" stroke-width="0.45" transform="translate(0 -148.42) scale(1 1.1)">200</text>
<text x="221.06" y="1592.26" font-size="28.5" font-weight="normal" font-style="normal" fill="#000" stroke="#000" stroke-width="0.45" transform="translate(0 -159.23) scale(1 1.1)">100</text>
<text x="242.36" y="1700.61" font-size="28.5" font-weight="normal" font-style="normal" fill="#000" stroke="#000" stroke-width="0.45" transform="translate(0 -170.06) scale(1 1.1)">0</text>
<text x="364.22" y="1721.89" font-size="28.5" font-weight="normal" font-style="normal" fill="#000" stroke="#000" stroke-width="0.45" transform="translate(0 -172.19) scale(1 1.1)">10</text>
<text x="465.59" y="1721.89" font-size="28.5" font-weight="normal" font-style="normal" fill="#000" stroke="#000" stroke-width="0.45" transform="translate(0 -172.19) scale(1 1.1)">20</text>
<g shape-rendering="crispEdges">
<path fill="#6bff94" d="M633 1471.3h11.2v11.8h-11.2zM654.4 1471.3h11.2v11.8h-11.2zM665.1 1471.3h11.2v11.8h-11.2zM707.9 1471.3h11.2v11.8h-11.2zM729.3 1471.3h11.2v11.8h-11.2zM761.4 1471.3h11.2v11.8h-11.2zM772.1 1471.3h11.2v11.8h-11.2zM782.8 1471.3h11.2v11.8h-11.2zM793.5 1471.3h11.2v11.8h-11.2zM804.2 1471.3h11.2v11.8h-11.2zM825.6 1471.3h11.2v11.8h-11.2zM836.3 1471.3h10.7v11.8h-10.7zM665.1 1482.6h11.2v11.8h-11.2zM761.4 1482.6h11.2v11.8h-11.2zM782.8 1482.6h11.2v11.8h-11.2zM793.5 1482.6h11.2v11.8h-11.2zM825.6 1482.6h11.2v11.8h-11.2zM633 1494h11.2v11.8h-11.2zM654.4 1494h11.2v11.8h-11.2zM750.7 1494h11.2v11.8h-11.2zM761.4 1494h11.2v11.8h-11.2zM772.1 1494h11.2v11.8h-11.2zM782.8 1494h11.2v11.8h-11.2zM825.6 1494h11.2v11.8h-11.2zM633 1505.3h11.2v11.8h-11.2zM654.4 1505.3h11.2v11.8h-11.2zM740 1505.3h11.2v11.8h-11.2zM761.4 1505.3h11.2v11.8h-11.2zM772.1 1505.3h11.2v11.8h-11.2zM782.8 1505.3h11.2v11.8h-11.2zM814.9 1505.3h11.2v11.8h-11.2zM825.6 1505.3h11.2v11.8h-11.2zM836.3 1505.3h10.7v11.8h-10.7zM633 1516.7h11.2v11.8h-11.2zM654.4 1516.7h11.2v11.8h-11.2zM665.1 1516.7h11.2v11.8h-11.2zM750.7 1516.7h11.2v11.8h-11.2zM782.8 1516.7h11.2v11.8h-11.2zM793.5 1516.7h11.2v11.8h-11.2zM814.9 1516.7h11.2v11.8h-11.2zM825.6 1516.7h11.2v11.8h-11.2zM836.3 1516.7h10.7v11.8h-10.7zM633 1528h11.2v11.8h-11.2zM643.7 1528h11.2v11.8h-11.2zM654.4 1528h11.2v11.8h-11.2zM675.8 1528h11.2v11.8h-11.2zM750.7 1528h11.2v11.8h-11.2zM804.2 1528h11.2v11.8h-11.2zM814.9 1528h11.2v11.8h-11.2zM825.6 1528h11.2v11.8h-11.2zM836.3 1528h10.7v11.8h-10.7zM633 1539.4h11.2v11.8h-11.2zM654.4 1539.4h11.2v11.8h-11.2zM675.8 1539.4h11.2v11.8h-11.2zM750.7 1539.4h11.2v11.8h-11.2zM633 1550.8h11.2v11.8h-11.2zM643.7 1550.8h11.2v11.8h-11.2zM675.8 1550.8h11.2v11.8h-11.2zM750.7 1550.8h11.2v11.8h-11.2zM761.4 1550.8h11.2v11.8h-11.2zM782.8 1550.8h11.2v11.8h-11.2zM793.5 1550.8h11.2v11.8h-11.2zM804.2 1550.8h11.2v11.8h-11.2zM814.9 1550.8h11.2v11.8h-11.2zM654.4 1562.1h11.2v11.8h-11.2zM665.1 1562.1h11.2v11.8h-11.2zM675.8 1562.1h11.2v11.8h-11.2zM750.7 1562.1h11.2v11.8h-11.2zM772.1 1562.1h11.2v11.8h-11.2zM665.1 1573.5h11.2v11.8h-11.2zM675.8 1573.5h11.2v11.8h-11.2zM707.9 1573.5h11.2v11.8h-11.2zM750.7 1573.5h11.2v11.8h-11.2zM804.2 1573.5h11.2v11.8h-11.2zM814.9 1573.5h11.2v11.8h-11.2zM665.1 1584.8h11.2v11.8h-11.2zM675.8 1584.8h11.2v11.8h-11.2zM707.9 1584.8h11.2v11.8h-11.2zM750.7 1584.8h11.2v11.8h-11.2zM836.3 1584.8h10.7v11.8h-10.7zM675.8 1596.1h11.2v11.8h-11.2zM697.2 1596.1h11.2v11.8h-11.2zM750.7 1596.1h11.2v11.8h-11.2zM782.8 1596.1h11.2v11.8h-11.2zM793.5 1596.1h11.2v11.8h-11.2zM825.6 1596.1h11.2v11.8h-11.2zM836.3 1596.1h10.7v11.8h-10.7zM633 1607.5h11.2v11.8h-11.2zM665.1 1607.5h11.2v11.8h-11.2zM761.4 1607.5h11.2v11.8h-11.2zM772.1 1607.5h11.2v11.8h-11.2zM782.8 1607.5h11.2v11.8h-11.2zM793.5 1607.5h11.2v11.8h-11.2zM804.2 1607.5h11.2v11.8h-11.2zM665.1 1618.8h11.2v11.8h-11.2zM761.4 1618.8h11.2v11.8h-11.2zM782.8 1618.8h11.2v11.8h-11.2zM793.5 1618.8h11.2v11.8h-11.2zM654.4 1630.2h11.2v11.8h-11.2zM782.8 1630.2h11.2v11.8h-11.2zM750.7 1641.5h11.2v11.8h-11.2zM825.6 1641.5h11.2v11.8h-11.2zM750.7 1652.9h11.2v11.8h-11.2zM804.2 1652.9h11.2v11.8h-11.2zM633 1664.2h11.2v11.8h-11.2zM729.3 1664.2h11.2v11.8h-11.2zM740 1664.2h11.2v11.8h-11.2zM793.5 1664.2h11.2v11.8h-11.2zM825.6 1664.2h11.2v11.8h-11.2zM675.8 1675.6h11.2v11.8h-11.2zM718.6 1675.6h11.2v11.8h-11.2zM707.9 1687h11.2v11.3h-11.2zM729.3 1687h11.2v11.3h-11.2zM793.5 1687h11.2v11.3h-11.2z"/>
<path fill="#42ffbd" d="M643.7 1471.3h11.2v11.8h-11.2zM675.8 1471.3h11.2v11.8h-11.2zM686.5 1471.3h11.2v11.8h-11.2zM697.2 1471.3h11.2v11.8h-11.2zM718.6 1471.3h11.2v11.8h-11.2zM740 1471.3h11.2v11.8h-11.2zM814.9 1471.3h11.2v11.8h-11.2zM643.7 1482.6h11.2v11.8h-11.2zM654.4 1482.6h11.2v11.8h-11.2zM675.8 1482.6h11.2v11.8h-11.2zM686.5 1482.6h11.2v11.8h-11.2zM697.2 1482.6h11.2v11.8h-11.2zM707.9 1482.6h11.2v11.8h-11.2zM718.6 1482.6h11.2v11.8h-11.2zM729.3 1482.6h11.2v11.8h-11.2zM740 1482.6h11.2v11.8h-11.2zM772.1 1482.6h11.2v11.8h-11.2zM804.2 1482.6h11.2v11.8h-11.2zM814.9 1482.6h11.2v11.8h-11.2zM643.7 1494h11.2v11.8h-11.2zM665.1 1494h11.2v11.8h-11.2zM675.8 1494h11.2v11.8h-11.2zM686.5 1494h11.2v11.8h-11.2zM697.2 1494h11.2v11.8h-11.2zM707.9 1494h11.2v11.8h-11.2zM718.6 1494h11.2v11.8h-11.2zM729.3 1494h11.2v11.8h-11.2zM740 1494h11.2v11.8h-11.2zM793.5 1494h11.2v11.8h-11.2zM804.2 1494h11.2v11.8h-11.2zM814.9 1494h11.2v11.8h-11.2zM643.7 1505.3h11.2v11.8h-11.2zM675.8 1505.3h11.2v11.8h-11.2zM686.5 1505.3h11.2v11.8h-11.2zM697.2 1505.3h11.2v11.8h-11.2zM707.9 1505.3h11.2v11.8h-11.2zM718.6 1505.3h11.2v11.8h-11.2zM729.3 1505.3h11.2v11.8h-11.2zM793.5 1505.3h11.2v11.8h-11.2zM804.2 1505.3h11.2v11.8h-11.2zM643.7 1516.7h11.2v11.8h-11.2zM675.8 1516.7h11.2v11.8h-11.2zM686.5 1516.7h11.2v11.8h-11.2zM697.2 1516.7h11.2v11.8h-11.2zM707.9 1516.7h11.2v11.8h-11.2zM718.6 1516.7h11.2v11.8h-11.2zM729.3 1516.7h11.2v11.8h-11.2zM740 1516.7h11.2v11.8h-11.2zM804.2 1516.7h11.2v11.8h-11.2zM686.5 1528h11.2v11.8h-11.2zM697.2 1528h11.2v11.8h-11.2zM707.9 1528h11.2v11.8h-11.2zM718.6 1528h11.2v11.8h-11.2zM729.3 1528h11.2v11.8h-11.2zM740 1528h11.2v11.8h-11.2zM643.7 1539.4h11.2v11.8h-11.2zM686.5 1539.4h11.2v11.8h-11.2zM697.2 1539.4h11.2v11.8h-11.2zM707.9 1539.4h11.2v11.8h-11.2zM740 1539.4h11.2v11.8h-11.2zM793.5 1539.4h11.2v11.8h-11.2zM804.2 1539.4h11.2v11.8h-11.2zM814.9 1539.4h11.2v11.8h-11.2zM825.6 1539.4h11.2v11.8h-11.2zM836.3 1539.4h10.7v11.8h-10.7zM654.4 1550.8h11.2v11.8h-11.2zM825.6 1550.8h11.2v11.8h-11.2zM836.3 1550.8h10.7v11.8h-10.7zM643.7 1562.1h11.2v11.8h-11.2zM697.2 1562.1h11.2v11.8h-11.2zM761.4 1562.1h11.2v11.8h-11.2zM782.8 1562.1h11.2v11.8h-11.2zM793.5 1562.1h11.2v11.8h-11.2zM804.2 1562.1h11.2v11.8h-11.2zM814.9 1562.1h11.2v11.8h-11.2zM825.6 1562.1h11.2v11.8h-11.2zM836.3 1562.1h10.7v11.8h-10.7zM643.7 1573.5h11.2v11.8h-11.2zM697.2 1573.5h11.2v11.8h-11.2zM718.6 1573.5h11.2v11.8h-11.2zM729.3 1573.5h11.2v11.8h-11.2zM740 1573.5h11.2v11.8h-11.2zM761.4 1573.5h11.2v11.8h-11.2zM772.1 1573.5h11.2v11.8h-11.2zM782.8 1573.5h11.2v11.8h-11.2zM793.5 1573.5h11.2v11.8h-11.2zM825.6 1573.5h11.2v11.8h-11.2zM836.3 1573.5h10.7v11.8h-10.7zM686.5 1584.8h11.2v11.8h-11.2zM697.2 1584.8h11.2v11.8h-11.2zM718.6 1584.8h11.2v11.8h-11.2zM729.3 1584.8h11.2v11.8h-11.2zM740 1584.8h11.2v11.8h-11.2zM761.4 1584.8h11.2v11.8h-11.2zM782.8 1584.8h11.2v11.8h-11.2zM793.5 1584.8h11.2v11.8h-11.2zM804.2 1584.8h11.2v11.8h-11.2zM814.9 1584.8h11.2v11.8h-11.2zM825.6 1584.8h11.2v11.8h-11.2zM665.1 1596.1h11.2v11.8h-11.2zM707.9 1596.1h11.2v11.8h-11.2zM718.6 1596.1h11.2v11.8h-11.2zM729.3 1596.1h11.2v11.8h-11.2zM772.1 1596.1h11.2v11.8h-11.2zM804.2 1596.1h11.2v11.8h-11.2zM814.9 1596.1h11.2v11.8h-11.2zM643.7 1607.5h11.2v11.8h-11.2zM675.8 1607.5h11.2v11.8h-11.2zM686.5 1607.5h11.2v11.8h-11.2zM718.6 1607.5h11.2v11.8h-11.2zM643.7 1618.8h11.2v11.8h-11.2zM675.8 1618.8h11.2v11.8h-11.2zM772.1 1618.8h11.2v11.8h-11.2zM804.2 1618.8h11.2v11.8h-11.2zM814.9 1618.8h11.2v11.8h-11.2zM665.1 1630.2h11.2v11.8h-11.2zM740 1630.2h11.2v11.8h-11.2zM675.8 1652.9h11.2v11.8h-11.2zM686.5 1652.9h11.2v11.8h-11.2zM675.8 1664.2h11.2v11.8h-11.2z"/>
<path fill="#8aff75" d="M750.7 1471.3h11.2v11.8h-11.2zM633 1482.6h11.2v11.8h-11.2zM750.7 1482.6h11.2v11.8h-11.2zM836.3 1482.6h10.7v11.8h-10.7zM836.3 1494h10.7v11.8h-10.7zM665.1 1505.3h11.2v11.8h-11.2zM750.7 1505.3h11.2v11.8h-11.2zM761.4 1516.7h11.2v11.8h-11.2zM772.1 1516.7h11.2v11.8h-11.2zM665.1 1528h11.2v11.8h-11.2zM761.4 1528h11.2v11.8h-11.2zM772.1 1528h11.2v11.8h-11.2zM782.8 1528h11.2v11.8h-11.2zM793.5 1528h11.2v11.8h-11.2zM665.1 1539.4h11.2v11.8h-11.2zM761.4 1539.4h11.2v11.8h-11.2zM772.1 1539.4h11.2v11.8h-11.2zM782.8 1539.4h11.2v11.8h-11.2zM665.1 1550.8h11.2v11.8h-11.2zM772.1 1550.8h11.2v11.8h-11.2zM633 1562.1h11.2v11.8h-11.2zM633 1573.5h11.2v11.8h-11.2zM654.4 1573.5h11.2v11.8h-11.2zM633 1596.1h11.2v11.8h-11.2zM654.4 1596.1h11.2v11.8h-11.2zM654.4 1607.5h11.2v11.8h-11.2zM814.9 1607.5h11.2v11.8h-11.2zM825.6 1607.5h11.2v11.8h-11.2zM836.3 1607.5h10.7v11.8h-10.7zM654.4 1618.8h11.2v11.8h-11.2zM836.3 1618.8h10.7v11.8h-10.7zM675.8 1630.2h11.2v11.8h-11.2zM750.7 1630.2h11.2v11.8h-11.2zM772.1 1630.2h11.2v11.8h-11.2zM804.2 1630.2h11.2v11.8h-11.2zM814.9 1630.2h11.2v11.8h-11.2zM825.6 1630.2h11.2v11.8h-11.2zM836.3 1630.2h10.7v11.8h-10.7zM675.8 1641.5h11.2v11.8h-11.2zM740 1641.5h11.2v11.8h-11.2zM772.1 1641.5h11.2v11.8h-11.2zM782.8 1641.5h11.2v11.8h-11.2zM793.5 1641.5h11.2v11.8h-11.2zM804.2 1641.5h11.2v11.8h-11.2zM814.9 1641.5h11.2v11.8h-11.2zM836.3 1641.5h10.7v11.8h-10.7zM740 1652.9h11.2v11.8h-11.2zM761.4 1652.9h11.2v11.8h-11.2zM793.5 1652.9h11.2v11.8h-11.2zM814.9 1652.9h11.2v11.8h-11.2zM825.6 1652.9h11.2v11.8h-11.2zM836.3 1652.9h10.7v11.8h-10.7zM686.5 1664.2h11.2v11.8h-11.2zM697.2 1664.2h11.2v11.8h-11.2zM750.7 1664.2h11.2v11.8h-11.2zM761.4 1664.2h11.2v11.8h-11.2zM772.1 1664.2h11.2v11.8h-11.2zM782.8 1664.2h11.2v11.8h-11.2zM804.2 1664.2h11.2v11.8h-11.2zM814.9 1664.2h11.2v11.8h-11.2zM836.3 1664.2h10.7v11.8h-10.7zM686.5 1675.6h11.2v11.8h-11.2zM697.2 1675.6h11.2v11.8h-11.2zM707.9 1675.6h11.2v11.8h-11.2zM729.3 1675.6h11.2v11.8h-11.2zM740 1675.6h11.2v11.8h-11.2zM750.7 1675.6h11.2v11.8h-11.2zM761.4 1675.6h11.2v11.8h-11.2zM772.1 1675.6h11.2v11.8h-11.2zM782.8 1675.6h11.2v11.8h-11.2zM793.5 1675.6h11.2v11.8h-11.2zM804.2 1675.6h11.2v11.8h-11.2zM814.9 1675.6h11.2v11.8h-11.2zM825.6 1675.6h11.2v11.8h-11.2zM836.3 1675.6h10.7v11.8h-10.7zM654.4 1687h11.2v11.3h-11.2zM665.1 1687h11.2v11.3h-11.2zM675.8 1687h11.2v11.3h-11.2zM686.5 1687h11.2v11.3h-11.2zM697.2 1687h11.2v11.3h-11.2zM750.7 1687h11.2v11.3h-11.2zM761.4 1687h11.2v11.3h-11.2zM772.1 1687h11.2v11.3h-11.2zM782.8 1687h11.2v11.3h-11.2zM804.2 1687h11.2v11.3h-11.2zM825.6 1687h11.2v11.3h-11.2z"/>
<path fill="#05fffa" d="M718.6 1539.4h11.2v11.8h-11.2zM729.3 1539.4h11.2v11.8h-11.2zM686.5 1550.8h11.2v11.8h-11.2zM697.2 1550.8h11.2v11.8h-11.2zM707.9 1550.8h11.2v11.8h-11.2zM718.6 1550.8h11.2v11.8h-11.2zM729.3 1550.8h11.2v11.8h-11.2zM740 1550.8h11.2v11.8h-11.2zM686.5 1562.1h11.2v11.8h-11.2zM707.9 1562.1h11.2v11.8h-11.2zM729.3 1562.1h11.2v11.8h-11.2zM740 1562.1h11.2v11.8h-11.2zM686.5 1573.5h11.2v11.8h-11.2zM643.7 1584.8h11.2v11.8h-11.2zM772.1 1584.8h11.2v11.8h-11.2zM643.7 1596.1h11.2v11.8h-11.2zM686.5 1596.1h11.2v11.8h-11.2zM740 1596.1h11.2v11.8h-11.2zM761.4 1596.1h11.2v11.8h-11.2zM697.2 1607.5h11.2v11.8h-11.2zM707.9 1607.5h11.2v11.8h-11.2zM740 1607.5h11.2v11.8h-11.2zM740 1618.8h11.2v11.8h-11.2zM633 1641.5h11.2v11.8h-11.2zM729.3 1641.5h11.2v11.8h-11.2zM643.7 1652.9h11.2v11.8h-11.2zM729.3 1652.9h11.2v11.8h-11.2zM718.6 1664.2h11.2v11.8h-11.2z"/>
<path fill="#00d1ff" d="M718.6 1562.1h11.2v11.8h-11.2zM729.3 1607.5h11.2v11.8h-11.2zM643.7 1641.5h11.2v11.8h-11.2zM686.5 1641.5h11.2v11.8h-11.2zM654.4 1675.6h11.2v11.8h-11.2z"/>
<path fill="#ffff00" d="M633 1584.8h11.2v11.8h-11.2zM761.4 1641.5h11.2v11.8h-11.2zM718.6 1687h11.2v11.3h-11.2z"/>
<path fill="#b3ff4c" d="M654.4 1584.8h11.2v11.8h-11.2zM750.7 1607.5h11.2v11.8h-11.2zM750.7 1618.8h11.2v11.8h-11.2zM825.6 1618.8h11.2v11.8h-11.2zM793.5 1630.2h11.2v11.8h-11.2zM665.1 1641.5h11.2v11.8h-11.2zM772.1 1652.9h11.2v11.8h-11.2zM782.8 1652.9h11.2v11.8h-11.2zM836.3 1687h10.7v11.3h-10.7z"/>
<path fill="#0094ff" d="M633 1618.8h11.2v11.8h-11.2zM686.5 1618.8h11.2v11.8h-11.2zM697.2 1618.8h11.2v11.8h-11.2zM729.3 1618.8h11.2v11.8h-11.2zM643.7 1630.2h11.2v11.8h-11.2zM707.9 1630.2h11.2v11.8h-11.2zM633 1652.9h11.2v11.8h-11.2zM665.1 1652.9h11.2v11.8h-11.2z"/>
<path fill="#004dff" d="M707.9 1618.8h11.2v11.8h-11.2zM718.6 1618.8h11.2v11.8h-11.2zM633 1630.2h11.2v11.8h-11.2zM686.5 1630.2h11.2v11.8h-11.2zM697.2 1630.2h11.2v11.8h-11.2zM718.6 1630.2h11.2v11.8h-11.2zM729.3 1630.2h11.2v11.8h-11.2zM718.6 1641.5h11.2v11.8h-11.2zM654.4 1652.9h11.2v11.8h-11.2zM697.2 1652.9h11.2v11.8h-11.2zM718.6 1652.9h11.2v11.8h-11.2z"/>
<path fill="#ffd100" d="M761.4 1630.2h11.2v11.8h-11.2zM665.1 1675.6h11.2v11.8h-11.2z"/>
<path fill="#dbff24" d="M654.4 1641.5h11.2v11.8h-11.2zM707.9 1664.2h11.2v11.8h-11.2zM633 1675.6h11.2v11.8h-11.2zM740 1687h11.2v11.3h-11.2zM814.9 1687h11.2v11.3h-11.2z"/>
<path fill="#000080" d="M697.2 1641.5h11.2v11.8h-11.2zM633 1687h11.2v11.3h-11.2z"/>
<path fill="#0000bd" d="M707.9 1641.5h11.2v11.8h-11.2zM643.7 1675.6h11.2v11.8h-11.2z"/>
<path fill="#0005ff" d="M707.9 1652.9h11.2v11.8h-11.2zM643.7 1664.2h11.2v11.8h-11.2zM654.4 1664.2h11.2v11.8h-11.2zM665.1 1664.2h11.2v11.8h-11.2z"/>
<path fill="#800000" d="M643.7 1687h11.2v11.3h-11.2z"/>
</g>
<text x="575.06" y="1484.19" font-size="28.5" font-weight="normal" font-style="normal" fill="#000" stroke="#000" stroke-width="0.45" transform="translate(0 -148.42) scale(1 1.1)">200</text>
<text x="575.06" y="1592.26" font-size="28.5" font-weight="normal" font-style="normal" fill="#000" stroke="#000" stroke-width="0.45" transform="translate(0 -159.23) scale(1 1.1)">100</text>
<text x="596.36" y="1700.61" font-size="28.5" font-weight="normal" font-style="normal" fill="#000" stroke="#000" stroke-width="0.45" transform="translate(0 -170.06) scale(1 1.1)">0</text>
<text x="718.22" y="1721.89" font-size="28.5" font-weight="normal" font-style="normal" fill="#000" stroke="#000" stroke-width="0.45" transform="translate(0 -172.19) scale(1 1.1)">10</text>
<text x="819.59" y="1721.89" font-size="28.5" font-weight="normal" font-style="normal" fill="#000" stroke="#000" stroke-width="0.45" transform="translate(0 -172.19) scale(1 1.1)">20</text>
<defs><linearGradient id="jet" x1="0" y1="1" x2="0" y2="0">
<stop offset="0" stop-color="#000080"/>
<stop offset="0.02" stop-color="#00008f"/>
<stop offset="0.03" stop-color="#00009f"/>
<stop offset="0.05" stop-color="#0000af"/>
<stop offset="0.06" stop-color="#0000bf"/>
<stop offset="0.08" stop-color="#0000cf"/>
<stop offset="0.09" stop-color="#0000df"/>
<stop offset="0.11" stop-color="#0000ef"/>
<stop offset="0.12" stop-color="#0000ff"/>
<stop offset="0.14" stop-color="#0010ff"/>
<stop offset="0.16" stop-color="#0020ff"/>
<stop offset="0.17" stop-color="#0030ff"/>
<stop offset="0.19" stop-color="#0040ff"/>
<stop offset="0.2" stop-color="#0050ff"/>
<stop offset="0.22" stop-color="#0060ff"/>
<stop offset="0.23" stop-color="#0070ff"/>
<stop offset="0.25" stop-color="#0080ff"/>
<stop offset="0.27" stop-color="#008fff"/>
<stop offset="0.28" stop-color="#009fff"/>
<stop offset="0.3" stop-color="#00afff"/>
<stop offset="0.31" stop-color="#00bfff"/>
<stop offset="0.33" stop-color="#00cfff"/>
<stop offset="0.34" stop-color="#00dfff"/>
<stop offset="0.36" stop-color="#00efff"/>
<stop offset="0.38" stop-color="#00ffff"/>
<stop offset="0.39" stop-color="#10ffef"/>
<stop offset="0.41" stop-color="#20ffdf"/>
<stop offset="0.42" stop-color="#30ffcf"/>
<stop offset="0.44" stop-color="#40ffbf"/>
<stop offset="0.45" stop-color="#50ffaf"/>
<stop offset="0.47" stop-color="#60ff9f"/>
<stop offset="0.48" stop-color="#70ff8f"/>
<stop offset="0.5" stop-color="#80ff80"/>
<stop offset="0.52" stop-color="#8fff70"/>
<stop offset="0.53" stop-color="#9fff60"/>
<stop offset="0.55" stop-color="#afff50"/>
<stop offset="0.56" stop-color="#bfff40"/>
<stop offset="0.58" stop-color="#cfff30"/>
<stop offset="0.59" stop-color="#dfff20"/>
<stop offset="0.61" stop-color="#efff10"/>
<stop offset="0.62" stop-color="#ffff00"/>
<stop offset="0.64" stop-color="#ffef00"/>
<stop offset="0.66" stop-color="#ffdf00"/>
<stop offset="0.67" stop-color="#ffcf00"/>
<stop offset="0.69" stop-color="#ffbf00"/>
<stop offset="0.7" stop-color="#ffaf00"/>
<stop offset="0.72" stop-color="#ff9f00"/>
<stop offset="0.73" stop-color="#ff8f00"/>
<stop offset="0.75" stop-color="#ff8000"/>
<stop offset="0.77" stop-color="#ff7000"/>
<stop offset="0.78" stop-color="#ff6000"/>
<stop offset="0.8" stop-color="#ff5000"/>
<stop offset="0.81" stop-color="#ff4000"/>
<stop offset="0.83" stop-color="#ff3000"/>
<stop offset="0.84" stop-color="#ff2000"/>
<stop offset="0.86" stop-color="#ff1000"/>
<stop offset="0.88" stop-color="#ff0000"/>
<stop offset="0.89" stop-color="#ef0000"/>
<stop offset="0.91" stop-color="#df0000"/>
<stop offset="0.92" stop-color="#cf0000"/>
<stop offset="0.94" stop-color="#bf0000"/>
<stop offset="0.95" stop-color="#af0000"/>
<stop offset="0.97" stop-color="#9f0000"/>
<stop offset="0.98" stop-color="#8f0000"/>
<stop offset="1" stop-color="#800000"/>
</linearGradient></defs>
<rect x="856.1" y="845.5" width="21.2" height="224.8" fill="url(#jet)"/>
<text x="884.14" y="850.28" font-size="29" font-weight="normal" font-style="normal" fill="#000" stroke="#000" stroke-width="0.45" transform="translate(0 -85.03) scale(1 1.1)">250</text>
<text x="884.47" y="1075.38" font-size="29" font-weight="normal" font-style="normal" fill="#000" stroke="#000" stroke-width="0.45" transform="translate(0 -107.54) scale(1 1.1)">0</text>
<text x="0" y="0" font-size="29" fill="#000" stroke="#000" stroke-width="0.45" transform="translate(943.7 839.62) rotate(90) scale(1 1.04)">Modulation Index</text>
<rect x="1249.2" y="845.5" width="21.6" height="224.8" fill="url(#jet)"/>
<text x="1277.89" y="851.28" font-size="29" font-weight="normal" font-style="normal" fill="#000" stroke="#000" stroke-width="0.45" transform="translate(0 -85.13) scale(1 1.1)">150</text>
<text x="1277.97" y="967.68" font-size="29" font-weight="normal" font-style="normal" fill="#000" stroke="#000" stroke-width="0.45" transform="translate(0 -96.77) scale(1 1.1)">0</text>
<text x="1277.81" y="1078.08" font-size="29" font-weight="normal" font-style="normal" fill="#000" stroke="#000" stroke-width="0.45" transform="translate(0 -107.81) scale(1 1.1)">-150</text>
<text x="0" y="0" font-size="29" fill="#000" stroke="#000" stroke-width="0.45" transform="translate(1340.2 838.92) rotate(90) scale(1 1.04)">Modulation Index</text>
<rect x="856.1" y="1158.5" width="21.2" height="224.8" fill="url(#jet)"/>
<text x="884.14" y="1162.48" font-size="29" font-weight="normal" font-style="normal" fill="#000" stroke="#000" stroke-width="0.45" transform="translate(0 -116.25) scale(1 1.1)">250</text>
<text x="884.47" y="1387.48" font-size="29" font-weight="normal" font-style="normal" fill="#000" stroke="#000" stroke-width="0.45" transform="translate(0 -138.75) scale(1 1.1)">0</text>
<text x="0" y="0" font-size="29" fill="#000" stroke="#000" stroke-width="0.45" transform="translate(943.9 1158.52) rotate(90) scale(1 1.04)">Modulation Index</text>
<rect x="1249.2" y="1158.5" width="21.6" height="224.8" fill="url(#jet)"/>
<text x="1277.89" y="1162.48" font-size="29" font-weight="normal" font-style="normal" fill="#000" stroke="#000" stroke-width="0.45" transform="translate(0 -116.25) scale(1 1.1)">150</text>
<text x="1277.97" y="1274.88" font-size="29" font-weight="normal" font-style="normal" fill="#000" stroke="#000" stroke-width="0.45" transform="translate(0 -127.49) scale(1 1.1)">0</text>
<text x="1277.81" y="1386.88" font-size="29" font-weight="normal" font-style="normal" fill="#000" stroke="#000" stroke-width="0.45" transform="translate(0 -138.69) scale(1 1.1)">-150</text>
<text x="0" y="0" font-size="29" fill="#000" stroke="#000" stroke-width="0.45" transform="translate(1342.7 1154.02) rotate(90) scale(1 1.04)">Modulation Index</text>
<rect x="856.1" y="1471.3" width="21.2" height="227" fill="url(#jet)"/>
<text x="884.39" y="1476.58" font-size="29" font-weight="normal" font-style="normal" fill="#000" stroke="#000" stroke-width="0.45" transform="translate(0 -147.66) scale(1 1.1)">150</text>
<text x="884.47" y="1588.78" font-size="29" font-weight="normal" font-style="normal" fill="#000" stroke="#000" stroke-width="0.45" transform="translate(0 -158.88) scale(1 1.1)">0</text>
<text x="884.31" y="1701.78" font-size="29" font-weight="normal" font-style="normal" fill="#000" stroke="#000" stroke-width="0.45" transform="translate(0 -170.18) scale(1 1.1)">-150</text>
<text x="0" y="0" font-size="29" fill="#000" stroke="#000" stroke-width="0.45" transform="translate(943.3 1466.12) rotate(90) scale(1 1.04)">Modulation Index</text>
<text x="335.72" y="828.7" font-size="32.7" font-weight="normal" font-style="normal" fill="#000" stroke="#000" stroke-width="0.45" transform="translate(0 -33.15) scale(1 1.04)">Familiar</text>
<text x="702.45" y="826" font-size="32.3" font-weight="normal" font-style="normal" fill="#000" stroke="#000" stroke-width="0.45" transform="translate(0 -33.04) scale(1 1.04)">Novel</text>
<text x="1027.73" y="825.4" font-size="32.5" font-weight="normal" font-style="normal" fill="#000" stroke="#000" stroke-width="0.45" transform="translate(0 -33.02) scale(1 1.04)">Novel - Familiar</text>
<text x="-1.2" y="974.9" font-size="32.6" font-weight="normal" font-style="italic" fill="#000" stroke="#000" stroke-width="0.45" transform="translate(0 -39) scale(1 1.04)">Cacna1c</text>
<text x="127.29" y="961.7" font-size="20.7" font-weight="normal" font-style="normal" fill="#000" stroke="#000" stroke-width="0.45" transform="translate(0 -38.47) scale(1 1.04)">+/+</text>
<text x="-1.1" y="1277" font-size="32.6" font-weight="normal" font-style="italic" fill="#ff0000" stroke="#ff0000" stroke-width="0.45" transform="translate(0 -51.08) scale(1 1.04)">Cacna1c</text>
<text x="127.39" y="1263.8" font-size="20.7" font-weight="normal" font-style="normal" fill="#ff0000" stroke="#ff0000" stroke-width="0.45" transform="translate(0 -50.55) scale(1 1.04)">+/-</text>
<text x="0.6" y="1551.1" font-size="32.6" font-weight="normal" font-style="italic" fill="#ff0000" stroke="#ff0000" stroke-width="0.45" transform="translate(0 -62.04) scale(1 1.04)">Cacna1c</text>
<text x="129.09" y="1537.9" font-size="20.7" font-weight="normal" font-style="normal" fill="#ff0000" stroke="#ff0000" stroke-width="0.45" transform="translate(0 -61.52) scale(1 1.04)">+/-</text>
<text x="71.19" y="1591.4" font-size="31" font-weight="normal" font-style="italic" fill="#000" stroke="#000" stroke-width="0.45" transform="translate(0 -63.66) scale(1 1.04)">-</text>
<text x="-1.2" y="1631.2" font-size="32.6" font-weight="normal" font-style="italic" fill="#000" stroke="#000" stroke-width="0.45" transform="translate(0 -65.25) scale(1 1.04)">Cacna1c</text>
<text x="127.29" y="1618" font-size="20.7" font-weight="normal" font-style="normal" fill="#000" stroke="#000" stroke-width="0.45" transform="translate(0 -64.72) scale(1 1.04)">+/+</text>
<text x="0" y="0" font-size="32.3" fill="#000" stroke="#000" stroke-width="0.45" transform="translate(207 1418.12) rotate(-90) scale(1 1.04)">Amplitude Frequency (Hz)</text>
<text x="589.03" y="1772.1" font-size="32.5" font-weight="normal" font-style="normal" fill="#000" stroke="#000" stroke-width="0.45" transform="translate(0 -70.88) scale(1 1.04)">Phase Frequency (Hz)</text>
<rect x="315.5" y="2164.3" width="84.5" height="96.1" fill="#fff" stroke="#000" stroke-width="3"/>
<rect x="437.5" y="2159.5" width="86.2" height="100.9" fill="#aa0000" stroke="#000" stroke-width="3"/>
<circle cx="358.3" cy="2105.1" r="7.7" fill="#aaaaaa"/>
<circle cx="351.8" cy="2128.9" r="7.7" fill="#aaaaaa"/>
<circle cx="363.9" cy="2128.9" r="7.7" fill="#aaaaaa"/>
<circle cx="358.3" cy="2186.8" r="7.7" fill="#aaaaaa"/>
<circle cx="358.3" cy="2253.1" r="7.7" fill="#aaaaaa"/>
<circle cx="481.4" cy="1951.6" r="7.7" fill="#ff8080"/>
<circle cx="481.4" cy="2125.6" r="7.7" fill="#ff8080"/>
<circle cx="481.4" cy="2144.4" r="7.7" fill="#ff8080"/>
<circle cx="481.4" cy="2177.5" r="7.7" fill="#ff8080"/>
<circle cx="481.4" cy="2189.4" r="7.7" fill="#ff8080"/>
<circle cx="481.4" cy="2242.3" r="7.7" fill="#ff8080"/>
<circle cx="481.4" cy="2256.7" r="7.7" fill="#ff8080"/>
<line x1="358.3" y1="2135.4" x2="358.3" y2="2190.4" stroke="#000" stroke-width="3.2"/>
<line x1="481.4" y1="2118" x2="481.4" y2="2196.9" stroke="#000" stroke-width="3.2"/>
<line x1="274.8" y1="1945" x2="274.8" y2="2261.9" stroke="#000" stroke-width="3"/>
<line x1="273.3" y1="2261" x2="565.9" y2="2261" stroke="#000" stroke-width="3"/>
<line x1="274.8" y1="2260.4" x2="284.8" y2="2260.4" stroke="#000" stroke-width="3"/>
<text x="247.59" y="2272.59" font-size="32.5" font-weight="normal" font-style="normal" fill="#000" stroke="#000" stroke-width="0.45">0</text>
<line x1="274.8" y1="2197.52" x2="284.8" y2="2197.52" stroke="#000" stroke-width="3"/>
<text x="211.44" y="2209.71" font-size="32.5" font-weight="normal" font-style="normal" fill="#000" stroke="#000" stroke-width="0.45">100</text>
<line x1="274.8" y1="2134.64" x2="284.8" y2="2134.64" stroke="#000" stroke-width="3"/>
<text x="211.44" y="2146.83" font-size="32.5" font-weight="normal" font-style="normal" fill="#000" stroke="#000" stroke-width="0.45">200</text>
<line x1="274.8" y1="2071.76" x2="284.8" y2="2071.76" stroke="#000" stroke-width="3"/>
<text x="211.44" y="2083.95" font-size="32.5" font-weight="normal" font-style="normal" fill="#000" stroke="#000" stroke-width="0.45">300</text>
<line x1="274.8" y1="2008.88" x2="284.8" y2="2008.88" stroke="#000" stroke-width="3"/>
<text x="211.44" y="2021.07" font-size="32.5" font-weight="normal" font-style="normal" fill="#000" stroke="#000" stroke-width="0.45">400</text>
<line x1="274.8" y1="1946" x2="284.8" y2="1946" stroke="#000" stroke-width="3"/>
<text x="211.44" y="1958.19" font-size="32.5" font-weight="normal" font-style="normal" fill="#000" stroke="#000" stroke-width="0.45">500</text>
<rect x="707.7" y="2066.2" width="87.5" height="194" fill="#fff" stroke="#000" stroke-width="3"/>
<rect x="832.3" y="2195" width="86.7" height="65.2" fill="#aa0000" stroke="#000" stroke-width="3"/>
<circle cx="751.5" cy="1960.9" r="7.7" fill="#aaaaaa"/>
<circle cx="751.5" cy="1987.5" r="7.7" fill="#aaaaaa"/>
<circle cx="751.5" cy="2014.7" r="7.7" fill="#aaaaaa"/>
<circle cx="751.5" cy="2161.4" r="7.7" fill="#aaaaaa"/>
<circle cx="751.5" cy="2186.5" r="7.7" fill="#aaaaaa"/>
<circle cx="875.7" cy="2061.6" r="7.7" fill="#ff8080"/>
<circle cx="875.7" cy="2155.3" r="7.7" fill="#ff8080"/>
<circle cx="869.6" cy="2191.4" r="7.7" fill="#ff8080"/>
<circle cx="881.6" cy="2191.4" r="7.7" fill="#ff8080"/>
<circle cx="875.5" cy="2235.9" r="7.7" fill="#ff8080"/>
<circle cx="869.8" cy="2251.3" r="7.7" fill="#ff8080"/>
<circle cx="881.2" cy="2251.3" r="7.7" fill="#ff8080"/>
<line x1="751.5" y1="2017.1" x2="751.5" y2="2111.5" stroke="#000" stroke-width="3.2"/>
<line x1="875.7" y1="2167.4" x2="875.7" y2="2219.7" stroke="#000" stroke-width="3.2"/>
<line x1="666.2" y1="1953.8" x2="666.2" y2="2261.7" stroke="#000" stroke-width="3"/>
<line x1="664.7" y1="2260.8" x2="953.4" y2="2260.8" stroke="#000" stroke-width="3"/>
<line x1="666.2" y1="2260.2" x2="676.2" y2="2260.2" stroke="#000" stroke-width="3"/>
<text x="638.19" y="2272.39" font-size="32.5" font-weight="normal" font-style="normal" fill="#000" stroke="#000" stroke-width="0.45">0</text>
<line x1="666.2" y1="2183.85" x2="676.2" y2="2183.85" stroke="#000" stroke-width="3"/>
<text x="620.12" y="2196.04" font-size="32.5" font-weight="normal" font-style="normal" fill="#000" stroke="#000" stroke-width="0.45">50</text>
<line x1="666.2" y1="2107.5" x2="676.2" y2="2107.5" stroke="#000" stroke-width="3"/>
<text x="602.04" y="2119.69" font-size="32.5" font-weight="normal" font-style="normal" fill="#000" stroke="#000" stroke-width="0.45">100</text>
<line x1="666.2" y1="2031.15" x2="676.2" y2="2031.15" stroke="#000" stroke-width="3"/>
<text x="602.04" y="2043.34" font-size="32.5" font-weight="normal" font-style="normal" fill="#000" stroke="#000" stroke-width="0.45">150</text>
<line x1="666.2" y1="1954.8" x2="676.2" y2="1954.8" stroke="#000" stroke-width="3"/>
<text x="602.04" y="1966.99" font-size="32.5" font-weight="normal" font-style="normal" fill="#000" stroke="#000" stroke-width="0.45">200</text>
<text x="330.83" y="1865.5" font-size="32.5" font-weight="normal" font-style="normal" fill="#000" stroke="#000" stroke-width="0.45" transform="translate(0 -55.97) scale(1 1.03)">Familiar</text>
<text x="742.83" y="1865.4" font-size="32.5" font-weight="normal" font-style="normal" fill="#000" stroke="#000" stroke-width="0.45" transform="translate(0 -55.96) scale(1 1.03)">Novel</text>
<line x1="749.5" y1="1922.9" x2="879.4" y2="1922.9" stroke="#000" stroke-width="3.6" stroke-linecap="round"/>
<text x="809.79" y="1918.6" font-size="36.5" font-weight="normal" font-style="normal" fill="#000" stroke="#000" stroke-width="0.45">*</text>
<text x="0" y="0" font-size="32" fill="#000" stroke="#000" stroke-width="0.45" transform="translate(185.7 2229.2) rotate(-90) scale(1 1.03)">Modulation Index</text>
<text x="248.05" y="2301.2" font-size="31.8" font-weight="normal" font-style="italic" fill="#000" stroke="#000" stroke-width="0.45" transform="translate(0 -69.04) scale(1 1.03)">Cacna1c</text>
<text x="373.39" y="2288" font-size="20.5" font-weight="normal" font-style="normal" fill="#000" stroke="#000" stroke-width="0.45" transform="translate(0 -68.64) scale(1 1.03)">+/+</text>
<text x="422.35" y="2301.2" font-size="31.8" font-weight="normal" font-style="italic" fill="#ff0000" stroke="#ff0000" stroke-width="0.45" transform="translate(0 -69.04) scale(1 1.03)">Cacna1c</text>
<text x="547.69" y="2288" font-size="20.5" font-weight="normal" font-style="normal" fill="#ff0000" stroke="#ff0000" stroke-width="0.45" transform="translate(0 -68.64) scale(1 1.03)">+/-</text>
<text x="640.25" y="2301.2" font-size="31.8" font-weight="normal" font-style="italic" fill="#000" stroke="#000" stroke-width="0.45" transform="translate(0 -69.04) scale(1 1.03)">Cacna1c</text>
<text x="765.59" y="2288" font-size="20.5" font-weight="normal" font-style="normal" fill="#000" stroke="#000" stroke-width="0.45" transform="translate(0 -68.64) scale(1 1.03)">+/+</text>
<text x="815.65" y="2301.2" font-size="31.8" font-weight="normal" font-style="italic" fill="#ff0000" stroke="#ff0000" stroke-width="0.45" transform="translate(0 -69.04) scale(1 1.03)">Cacna1c</text>
<text x="940.99" y="2288" font-size="20.5" font-weight="normal" font-style="normal" fill="#ff0000" stroke="#ff0000" stroke-width="0.45" transform="translate(0 -68.64) scale(1 1.03)">+/-</text>
<line x1="339.2" y1="238.3" x2="339.2" y2="341.3" stroke="#2a2a2a" stroke-width="1.3" stroke-dasharray="17.2 11.4"/>
<line x1="339.2" y1="471.5" x2="339.2" y2="384.2" stroke="#2a2a2a" stroke-width="1.3" stroke-dasharray="13.1 7.95"/>
<line x1="339.2" y1="593.6" x2="339.2" y2="506.2" stroke="#2a2a2a" stroke-width="1.3" stroke-dasharray="13.1 7.95"/>
<line x1="339.2" y1="714.8" x2="339.2" y2="628" stroke="#2a2a2a" stroke-width="1.3" stroke-dasharray="13.1 7.95"/>
<line x1="405.8" y1="238.3" x2="405.8" y2="341.3" stroke="#2a2a2a" stroke-width="1.3" stroke-dasharray="17.2 11.4"/>
<line x1="405.8" y1="471.5" x2="405.8" y2="384.2" stroke="#2a2a2a" stroke-width="1.3" stroke-dasharray="13.1 7.95"/>
<line x1="405.8" y1="593.6" x2="405.8" y2="506.2" stroke="#2a2a2a" stroke-width="1.3" stroke-dasharray="13.1 7.95"/>
<line x1="405.8" y1="714.8" x2="405.8" y2="628" stroke="#2a2a2a" stroke-width="1.3" stroke-dasharray="13.1 7.95"/>
<line x1="471.7" y1="238.3" x2="471.7" y2="341.3" stroke="#2a2a2a" stroke-width="1.3" stroke-dasharray="17.2 11.4"/>
<line x1="471.7" y1="471.5" x2="471.7" y2="384.2" stroke="#2a2a2a" stroke-width="1.3" stroke-dasharray="13.1 7.95"/>
<line x1="471.7" y1="593.6" x2="471.7" y2="506.2" stroke="#2a2a2a" stroke-width="1.3" stroke-dasharray="13.1 7.95"/>
<line x1="471.7" y1="714.8" x2="471.7" y2="628" stroke="#2a2a2a" stroke-width="1.3" stroke-dasharray="13.1 7.95"/>
<line x1="537.4" y1="238.3" x2="537.4" y2="341.3" stroke="#2a2a2a" stroke-width="1.3" stroke-dasharray="17.2 11.4"/>
<line x1="537.4" y1="471.5" x2="537.4" y2="384.2" stroke="#2a2a2a" stroke-width="1.3" stroke-dasharray="13.1 7.95"/>
<line x1="537.4" y1="593.6" x2="537.4" y2="506.2" stroke="#2a2a2a" stroke-width="1.3" stroke-dasharray="13.1 7.95"/>
<line x1="537.4" y1="714.8" x2="537.4" y2="628" stroke="#2a2a2a" stroke-width="1.3" stroke-dasharray="13.1 7.95"/>
<line x1="604.6" y1="238.3" x2="604.6" y2="341.3" stroke="#2a2a2a" stroke-width="1.3" stroke-dasharray="17.2 11.4"/>
<line x1="604.6" y1="471.5" x2="604.6" y2="384.2" stroke="#2a2a2a" stroke-width="1.3" stroke-dasharray="13.1 7.95"/>
<line x1="604.6" y1="593.6" x2="604.6" y2="506.2" stroke="#2a2a2a" stroke-width="1.3" stroke-dasharray="13.1 7.95"/>
<line x1="604.6" y1="714.8" x2="604.6" y2="628" stroke="#2a2a2a" stroke-width="1.3" stroke-dasharray="13.1 7.95"/>
<line x1="675.5" y1="238.3" x2="675.5" y2="341.3" stroke="#2a2a2a" stroke-width="1.3" stroke-dasharray="17.2 11.4"/>
<line x1="675.5" y1="471.5" x2="675.5" y2="384.2" stroke="#2a2a2a" stroke-width="1.3" stroke-dasharray="13.1 7.95"/>
<line x1="675.5" y1="593.6" x2="675.5" y2="506.2" stroke="#2a2a2a" stroke-width="1.3" stroke-dasharray="13.1 7.95"/>
<line x1="675.5" y1="714.8" x2="675.5" y2="628" stroke="#2a2a2a" stroke-width="1.3" stroke-dasharray="13.1 7.95"/>
<line x1="855.6" y1="326.3" x2="855.6" y2="260.6" stroke="#2a2a2a" stroke-width="1.3" stroke-dasharray="13.1 8.3"/>
<line x1="855.6" y1="466.8" x2="855.6" y2="378.2" stroke="#2a2a2a" stroke-width="1.3" stroke-dasharray="13.1 8.5"/>
<line x1="855.6" y1="590.8" x2="855.6" y2="502.1" stroke="#2a2a2a" stroke-width="1.3" stroke-dasharray="13.1 8.5"/>
<line x1="855.6" y1="715.6" x2="855.6" y2="626.1" stroke="#2a2a2a" stroke-width="1.3" stroke-dasharray="13.1 8.5"/>
<line x1="911.7" y1="326.3" x2="911.7" y2="260.6" stroke="#2a2a2a" stroke-width="1.3" stroke-dasharray="13.1 8.3"/>
<line x1="911.7" y1="466.8" x2="911.7" y2="378.2" stroke="#2a2a2a" stroke-width="1.3" stroke-dasharray="13.1 8.5"/>
<line x1="911.7" y1="590.8" x2="911.7" y2="502.1" stroke="#2a2a2a" stroke-width="1.3" stroke-dasharray="13.1 8.5"/>
<line x1="911.7" y1="715.6" x2="911.7" y2="626.1" stroke="#2a2a2a" stroke-width="1.3" stroke-dasharray="13.1 8.5"/>
<line x1="967.9" y1="326.3" x2="967.9" y2="260.6" stroke="#2a2a2a" stroke-width="1.3" stroke-dasharray="13.1 8.3"/>
<line x1="967.9" y1="466.8" x2="967.9" y2="378.2" stroke="#2a2a2a" stroke-width="1.3" stroke-dasharray="13.1 8.5"/>
<line x1="967.9" y1="590.8" x2="967.9" y2="502.1" stroke="#2a2a2a" stroke-width="1.3" stroke-dasharray="13.1 8.5"/>
<line x1="967.9" y1="715.6" x2="967.9" y2="626.1" stroke="#2a2a2a" stroke-width="1.3" stroke-dasharray="13.1 8.5"/>
<line x1="1023.6" y1="326.3" x2="1023.6" y2="260.6" stroke="#2a2a2a" stroke-width="1.3" stroke-dasharray="13.1 8.3"/>
<line x1="1023.6" y1="466.8" x2="1023.6" y2="378.2" stroke="#2a2a2a" stroke-width="1.3" stroke-dasharray="13.1 8.5"/>
<line x1="1023.6" y1="590.8" x2="1023.6" y2="502.1" stroke="#2a2a2a" stroke-width="1.3" stroke-dasharray="13.1 8.5"/>
<line x1="1023.6" y1="715.6" x2="1023.6" y2="626.1" stroke="#2a2a2a" stroke-width="1.3" stroke-dasharray="13.1 8.5"/>
<line x1="1076.6" y1="326.3" x2="1076.6" y2="260.6" stroke="#2a2a2a" stroke-width="1.3" stroke-dasharray="13.1 8.3"/>
<line x1="1076.6" y1="466.8" x2="1076.6" y2="378.2" stroke="#2a2a2a" stroke-width="1.3" stroke-dasharray="13.1 8.5"/>
<line x1="1076.6" y1="590.8" x2="1076.6" y2="502.1" stroke="#2a2a2a" stroke-width="1.3" stroke-dasharray="13.1 8.5"/>
<line x1="1076.6" y1="715.6" x2="1076.6" y2="626.1" stroke="#2a2a2a" stroke-width="1.3" stroke-dasharray="13.1 8.5"/>
<line x1="1129.6" y1="326.3" x2="1129.6" y2="260.6" stroke="#2a2a2a" stroke-width="1.3" stroke-dasharray="13.1 8.3"/>
<line x1="1129.6" y1="466.8" x2="1129.6" y2="378.2" stroke="#2a2a2a" stroke-width="1.3" stroke-dasharray="13.1 8.5"/>
<line x1="1129.6" y1="590.8" x2="1129.6" y2="502.1" stroke="#2a2a2a" stroke-width="1.3" stroke-dasharray="13.1 8.5"/>
<line x1="1129.6" y1="715.6" x2="1129.6" y2="626.1" stroke="#2a2a2a" stroke-width="1.3" stroke-dasharray="13.1 8.5"/>
<line x1="1183.9" y1="326.3" x2="1183.9" y2="260.6" stroke="#2a2a2a" stroke-width="1.3" stroke-dasharray="13.1 8.3"/>
<line x1="1183.9" y1="466.8" x2="1183.9" y2="378.2" stroke="#2a2a2a" stroke-width="1.3" stroke-dasharray="13.1 8.5"/>
<line x1="1183.9" y1="590.8" x2="1183.9" y2="502.1" stroke="#2a2a2a" stroke-width="1.3" stroke-dasharray="13.1 8.5"/>
<line x1="1183.9" y1="715.6" x2="1183.9" y2="626.1" stroke="#2a2a2a" stroke-width="1.3" stroke-dasharray="13.1 8.5"/>
<line x1="1240" y1="336.5" x2="1240" y2="270.6" stroke="#2a2a2a" stroke-width="1.3" stroke-dasharray="13.1 8.3"/>
<line x1="1240" y1="466.8" x2="1240" y2="378.2" stroke="#2a2a2a" stroke-width="1.3" stroke-dasharray="13.1 8.5"/>
<line x1="1240" y1="590.8" x2="1240" y2="502.1" stroke="#2a2a2a" stroke-width="1.3" stroke-dasharray="13.1 8.5"/>
<line x1="1240" y1="715.6" x2="1240" y2="626.1" stroke="#2a2a2a" stroke-width="1.3" stroke-dasharray="13.1 8.5"/>
<polyline points="289.7 87.8 289.9 94.3 290.1 92.7 290.3 95.5 290.5 99.8 290.7 101.7 290.9 107.4 291.1 108.2 291.3 106.1 291.5 105.1 291.7 98 291.9 98.1 292.1 102.9 292.3 100.2 292.5 99.8 292.7 104.5 292.9 98.3 293.1 101.3 293.3 103.5 293.5 104 293.7 107.6 293.9 105.1 294.1 106.1 294.3 107.8 294.5 108.2 294.7 104.9 294.9 104.1 295.1 98.3 295.3 99 295.5 99.1 295.7 102.5 295.9 108.4 296.1 109.1 296.3 107.3 296.5 103.5 296.7 101.7 296.9 100.5 297.1 98.4 297.3 98.6 297.5 97.1 297.7 92.5 297.9 81.8 298.1 85.7 298.3 84.6 298.5 80.1 298.7 80.4 298.9 79.7 299.1 79.4 299.3 81.7 299.5 80.3 299.7 76.1 299.9 81.4 300.1 81.2 300.3 83.8 300.5 81.5 300.7 79.8 300.9 81.5 301.1 78.3 301.3 83.6 301.5 86.4 301.7 88.5 301.9 90.5 302.1 93.7 302.3 98.6 302.5 94.5 302.7 91.7 302.9 89.3 303.1 87.2 303.3 80.8 303.5 86.4 303.7 92.5 303.9 94 304.1 95.3 304.3 96 304.5 97 304.7 99 304.9 102.2 305.1 98.7 305.3 99.9 305.5 103.6 305.7 106.5 305.9 105.5 306.1 106.8 306.3 107 306.5 101.1 306.7 101.5 306.9 96.4 307.1 106.5 307.3 97.8 307.5 100.9 307.7 101.3 307.9 99.2 308.1 95.2 308.3 103.2 308.5 99.5 308.7 99.6 308.9 100.3 309.1 102.2 309.3 101.9 309.5 97.6 309.7 101.4 309.9 98.4 310.1 94.4 310.3 89.8 310.5 85.3 310.7 82.4 310.9 83.2 311.1 82.8 311.3 79.1 311.5 83.6 311.7 85 311.9 86.7 312.1 91 312.3 93 312.5 92.9 312.7 92.8 312.9 90.7 313.1 90.3 313.3 85.5 313.5 86.8 313.7 94 313.9 91.7 314.1 89.7 314.3 92.2 314.5 89.5 314.7 91.3 314.9 86.5 315.1 91.2 315.3 92.6 315.5 92.1 315.7 95.1 315.9 95.4 316.1 95.4 316.3 93.8 316.5 86.3 316.7 86 316.9 85.1 317.1 89.4 317.3 86 317.5 95.3 317.7 95.6 317.9 98.8 318.1 105.6 318.3 102.5 318.5 109.3 318.7 110.7 318.9 109.1 319.1 105.6 319.3 102.9 319.5 102.7 319.7 99.3 319.9 99.1 320.1 96.6 320.3 94.6 320.5 95.1 320.7 94.2 320.9 94 321.1 97.6 321.3 98.9 321.5 98.4 321.7 102.8 321.9 106.7 322.1 112.4 322.3 113.7 322.5 110.9 322.7 103.9 322.9 102 323.1 95.6 323.3 92 323.5 90.6 323.7 92.3 323.9 94.6 324.1 92.4 324.3 93.2 324.5 91.7 324.7 91.8 324.9 88.2 325.1 89.3 325.3 91.6 325.5 94.7 325.7 94.7 325.9 93.6 326.1 85.8 326.3 88.7 326.5 84.6 326.7 92.8 326.9 89.9 327.1 86.4 327.3 91 327.5 91.8 327.7 90.7 327.9 92.5 328.1 95.1 328.3 97.3 328.5 95.5 328.7 90.1 328.9 89.9 329.1 89.3 329.3 88.6 329.5 86.5 329.7 83.3 329.9 85.9 330.1 92.4 330.3 91.5 330.5 88.8 330.7 85.9 330.9 91.8 331.1 89.4 331.3 88.5 331.5 90.3 331.7 96.4 331.9 96.3 332.1 96 332.3 100.7 332.5 102.1 332.7 107.2 332.9 108.5 333.1 117.4 333.3 117.9 333.5 116.3 333.7 121.3 333.9 117.2 334.1 118.4 334.3 115.7 334.5 109 334.7 106.9 334.9 105.7 335.1 110.5 335.3 108 335.5 107.9 335.7 105.2 335.9 102.9 336.1 108.8 336.3 105.6 336.5 104.8 336.7 103.6 336.9 104.3 337.1 102.2 337.3 98.2 337.5 95.3 337.7 91.5 337.9 96.2 338.1 95.4 338.3 97.8 338.5 92.1 338.7 96.1 338.9 94.1 339.1 93.4 339.3 100.3 339.5 102.2 339.7 98.9 339.9 99.5 340.1 92 340.3 92.6 340.5 90.2 340.7 88.2 340.9 85.2 341.1 89.2 341.3 85.6 341.5 87.1 341.7 93.5 341.9 92.5 342.1 91.7 342.3 86.1 342.5 86.8 342.7 86.3 342.9 87.7 343.1 86.6 343.3 89.1 343.5 94.6 343.7 91.3 343.9 91 344.1 92.5 344.3 92.8 344.5 96.7 344.7 104.9 344.9 106.7 345.1 108.6 345.3 111.9 345.5 114.9 345.7 116.9 345.9 117.5 346.1 119.1 346.3 116.4 346.5 117.4 346.7 118.2 346.9 111.8 347.1 111.5 347.3 110.7 347.5 109.6 347.7 109.3 347.9 106.1 348.1 106.4 348.3 102.5 348.5 102.7 348.7 101.4 348.9 106.9 349.1 110.4 349.3 113.9 349.5 106.2 349.7 100.7 349.9 99.5 350.1 97.8 350.3 96.2 350.5 96.3 350.7 94.6 350.9 96.4 351.1 93.4 351.3 91.3 351.5 85.2 351.7 81.2 351.9 79.5 352.1 83.1 352.3 82.2 352.5 81.2 352.7 83.6 352.9 87 353.1 87.3 353.3 90.9 353.5 94.2 353.7 91.9 353.9 92.4 354.1 94.7 354.3 94.9 354.5 96.1 354.7 99.7 354.9 102.4 355.1 103.6 355.3 102.4 355.5 103.8 355.7 105.9 355.9 112 356.1 113.3 356.3 120.8 356.5 118.6 356.7 124.4 356.9 118.2 357.1 113.9 357.3 110.9 357.5 111.3 357.7 114.9 357.9 113.4 358.1 113.1 358.3 113.9 358.5 110.9 358.7 114 358.9 111.2 359.1 107.7 359.3 107.9 359.5 106 359.7 107.9 359.9 105.7 360.1 106.7 360.3 106.5 360.5 104.2 360.7 97.6 360.9 98.3 361.1 94.5 361.3 97.7 361.5 96.5 361.7 94.8 361.9 96.8 362.1 97.9 362.3 105 362.5 98.4 362.7 105.4 362.9 109.6 363.1 105.3 363.3 103 363.5 96.2 363.7 95.5 363.9 92 364.1 92.5 364.3 94.1 364.5 90.2 364.7 89.8 364.9 92 365.1 94.6 365.3 99.4 365.5 103.6 365.7 104.7 365.9 105 366.1 102.7 366.3 106.1 366.5 106.3 366.7 107.3 366.9 110.4 367.1 108.7 367.3 110.9 367.5 113.3 367.7 112.7 367.9 116 368.1 118.3 368.3 119.7 368.5 117 368.7 116.4 368.9 118.2 369.1 117.3 369.3 115.6 369.5 116.5 369.7 107.4 369.9 107.5 370.1 111.7 370.3 105.2 370.5 105.4 370.7 106.7 370.9 105 371.1 100.3 371.3 99.9 371.5 96.9 371.7 94.5 371.9 100.5 372.1 98.3 372.3 95.6 372.5 95.9 372.7 100.1 372.9 102.3 373.1 99.8 373.3 101.5 373.5 100.4 373.7 96.1 373.9 97.7 374.1 95.6 374.3 96.8 374.5 93.2 374.7 91.7 374.9 92.9 375.1 91.1 375.3 90.9 375.5 92 375.7 89.1 375.9 94 376.1 99.2 376.3 100.9 376.5 101 376.7 102.2 376.9 105.1 377.1 106.1 377.3 109.5 377.5 114.4 377.7 112.8 377.9 103.1 378.1 104.6 378.3 110.3 378.5 103.6 378.7 110.2 378.9 111.3 379.1 112.1 379.3 111.4 379.5 109.3 379.7 111.1 379.9 113.6 380.1 117.7 380.3 119 380.5 118.7 380.7 117 380.9 108.1 381.1 109.5 381.3 107.8 381.5 99.3 381.7 101.5 381.9 99.9 382.1 102.7 382.3 110 382.5 110.6 382.7 112.3 382.9 117.7 383.1 115.6 383.3 116.9 383.5 115.3 383.7 109.7 383.9 106.6 384.1 105.7 384.3 104.4 384.5 100.8 384.7 103.4 384.9 103.3 385.1 103.6 385.3 100.2 385.5 99.3 385.7 96.1 385.9 90 386.1 87.2 386.3 82.9 386.5 91.2 386.7 88.9 386.9 93.4 387.1 92.4 387.3 90.9 387.5 91.7 387.7 89.3 387.9 91.1 388.1 93.2 388.3 94.5 388.5 103.1 388.7 102 388.9 102.2 389.1 103.5 389.3 105.5 389.5 105.6 389.7 106.9 389.9 101.7 390.1 110.7 390.3 106.3 390.5 110.4 390.7 109 390.9 110.4 391.1 115.5 391.3 117.5 391.5 116.8 391.7 113.9 391.9 115.6 392.1 109.5 392.3 113.5 392.5 109.5 392.7 112.1 392.9 108.3 393.1 108.9 393.3 109.4 393.5 111.2 393.7 107.1 393.9 110.3 394.1 108.1 394.3 106.2 394.5 105.4 394.7 103.5 394.9 101.9 395.1 95 395.3 95.2 395.5 92.3 395.7 89.4 395.9 88.2 396.1 88.6 396.3 86.7 396.5 82.5 396.7 80.4 396.9 78.2 397.1 83.9 397.3 83.1 397.5 87.6 397.7 85.4 397.9 89.6 398.1 91.7 398.3 89.9 398.5 90.7 398.7 91.7 398.9 94.9 399.1 93 399.3 91.7 399.5 93.8 399.7 94.8 399.9 95.2 400.1 96.1 400.3 96.5 400.5 97.4 400.7 99.5 400.9 100.1 401.1 93.3 401.3 97.6 401.5 97.3 401.7 102.9 401.9 101.5 402.1 107.9 402.3 107.6 402.5 105.9 402.7 107.5 402.9 113.1 403.1 114.5 403.3 110.6 403.5 109.5 403.7 109.9 403.9 107.6 404.1 107.6 404.3 101.2 404.5 108.7 404.7 106.9 404.9 110.9 405.1 108.3 405.3 102.5 405.5 100.2 405.7 97 405.9 94.2 406.1 94.6 406.3 94.8 406.5 94.8 406.7 92.6 406.9 88.8 407.1 94.4 407.3 88.1 407.5 88 407.7 85.2 407.9 92.1 408.1 86.4 408.3 85.2 408.5 85.3 408.7 77.9 408.9 74.7 409.1 71.4 409.3 70.7 409.5 75.7 409.7 77.5 409.9 78 410.1 73.8 410.3 76.2 410.5 80.5 410.7 78.7 410.9 84.6 411.1 86.4 411.3 85.6 411.5 83.7 411.7 82 411.9 84.7 412.1 79.3 412.3 77 412.5 80.7 412.7 79.3 412.9 81.8 413.1 84.4 413.3 81.2 413.5 87.2 413.7 89.8 413.9 91.1 414.1 93.4 414.3 96.1 414.5 98.2 414.7 105.2 414.9 109.7 415.1 108.1 415.3 107 415.5 106.9 415.7 107.1 415.9 108.5 416.1 107 416.3 112.5 416.5 109.8 416.7 104.5 416.9 101.6 417.1 102.8 417.3 103.1 417.5 102.7 417.7 102.3 417.9 103.6 418.1 102 418.3 102.8 418.5 100.8 418.7 97.3 418.9 95 419.1 91.6 419.3 89.7 419.5 81.6 419.7 83.8 419.9 78.5 420.1 82.6 420.3 78.5 420.5 80.2 420.7 86.3 420.9 81.7 421.1 82.2 421.3 78.1 421.5 80.5 421.7 81.7 421.9 82.1 422.1 84.1 422.3 82.7 422.5 86.2 422.7 86.9 422.9 85.5 423.1 91.4 423.3 96.5 423.5 94.9 423.7 98.7 423.9 103.6 424.1 100.6 424.3 97.8 424.5 98.7 424.7 92 424.9 96.3 425.1 92.9 425.3 93.5 425.5 93.8 425.7 97.3 425.9 99.3 426.1 105.4 426.3 108.9 426.5 109.8 426.7 107.4 426.9 102.3 427.1 99.6 427.3 97.7 427.5 97 427.7 100.7 427.9 99.8 428.1 100.7 428.3 109.5 428.5 103.9 428.7 104.6 428.9 102.4 429.1 98.1 429.3 91 429.5 94.6 429.7 98 429.9 97 430.1 99.8 430.3 89.2 430.5 82.4 430.7 86.9 430.9 81.8 431.1 81.7 431.3 80.3 431.5 85.9 431.7 80 431.9 86.6 432.1 89.4 432.3 90.9 432.5 89.1 432.7 86 432.9 90.6 433.1 97 433.3 97.9 433.5 103 433.7 100.5 433.9 101.7 434.1 107.8 434.3 108 434.5 107.2 434.7 107.2 434.9 108.1 435.1 113.5 435.3 115.1 435.5 112.2 435.7 110.7 435.9 114.2 436.1 112.2 436.3 112.7 436.5 111 436.7 111.9 436.9 110.3 437.1 110.4 437.3 110.2 437.5 113.5 437.7 115.3 437.9 114.1 438.1 114.7 438.3 111.9 438.5 109.1 438.7 112.1 438.9 106.5 439.1 105.7 439.3 109.2 439.5 103.5 439.7 103.9 439.9 103.6 440.1 102.9 440.3 105.3 440.5 101.2 440.7 101 440.9 103.4 441.1 103.4 441.3 100.9 441.5 95 441.7 90.4 441.9 90.4 442.1 85.3 442.3 86.8 442.5 85.2 442.7 88.1 442.9 91.1 443.1 88.7 443.3 83.1 443.5 82.6 443.7 79.6 443.9 81.1 444.1 81.8 444.3 86.6 444.5 84.3 444.7 90.9 444.9 89.8 445.1 91 445.3 94.8 445.5 99.8 445.7 98.2 445.9 103.4 446.1 101.1 446.3 103.1 446.5 104.2 446.7 105.1 446.9 107.9 447.1 110.2 447.3 112.9 447.5 116.4 447.7 119.8 447.9 114.1 448.1 116.8 448.3 119.2 448.5 118.4 448.7 122.8 448.9 117.2 449.1 111.8 449.3 111.5 449.5 107.9 449.7 102 449.9 102.4 450.1 102.6 450.3 101.2 450.5 101.3 450.7 99.4 450.9 97.8 451.1 96.9 451.3 94.8 451.5 91.6 451.7 94 451.9 91.7 452.1 89.4 452.3 91.4 452.5 98.2 452.7 95.9 452.9 95.3 453.1 95.1 453.3 100.1 453.5 93.2 453.7 99.6 453.9 95.1 454.1 96.1 454.3 95.4 454.5 97.2 454.7 99.3 454.9 100.2 455.1 98.1 455.3 100.5 455.5 99.1 455.7 102.7 455.9 101.8 456.1 107.4 456.3 103.7 456.5 106.6 456.7 110.7 456.9 107.4 457.1 108.7 457.3 109.9 457.5 111.8 457.7 107.9 457.9 107.3 458.1 103.3 458.3 103.4 458.5 102 458.7 100.2 458.9 98.9 459.1 97.1 459.3 95.2 459.5 97.4 459.7 94.7 459.9 93.1 460.1 94.4 460.3 100 460.5 106.7 460.7 105 460.9 105.5 461.1 102.6 461.3 102.2 461.5 99.2 461.7 95.9 461.9 97.5 462.1 95 462.3 92.4 462.5 90.4 462.7 89 462.9 87.4 463.1 90.3 463.3 92.4 463.5 93.2 463.7 94.9 463.9 96.6 464.1 96.6 464.3 101.7 464.5 100.8 464.7 100.6 464.9 100.5 465.1 98.2 465.3 98.2 465.5 96.3 465.7 101.5 465.9 108.3 466.1 107.7 466.3 108.5 466.5 104.8 466.7 107.4 466.9 110.8 467.1 109.3 467.3 115.1 467.5 114.8 467.7 113.1 467.9 110.6 468.1 112 468.3 112.6 468.5 108.5 468.7 108.9 468.9 107.1 469.1 108.6 469.3 108.8 469.5 104.6 469.7 97.7 469.9 95 470.1 98 470.3 101 470.5 98.1 470.7 97.9 470.9 97.4 471.1 93.1 471.3 93.1 471.5 93.4 471.7 96.1 471.9 94.2 472.1 95.8 472.3 92.2 472.5 95.9 472.7 95.1 472.9 90.8 473.1 87 473.3 87.3 473.5 87.5 473.7 82.9 473.9 87.5 474.1 88.2 474.3 87.8 474.5 84.6 474.7 89.1 474.9 90.1 475.1 95.4 475.3 100.9 475.5 99.8 475.7 101.8 475.9 103.5 476.1 106.5 476.3 104.9 476.5 109.6 476.7 109 476.9 109.8 477.1 110.5 477.3 113.7 477.5 112.6 477.7 113.7 477.9 116.5 478.1 114.5 478.3 119.5 478.5 111.6 478.7 113.5 478.9 115.1 479.1 117.3 479.3 120.7 479.5 121.2 479.7 120.2 479.9 120.9 480.1 116.9 480.3 115.2 480.5 116.6 480.7 114.7 480.9 113 481.1 111.1 481.3 112.4 481.5 105.1 481.7 104 481.9 101.3 482.1 99 482.3 94.2 482.5 97.9 482.7 99.1 482.9 95.2 483.1 99.2 483.3 95.6 483.5 92.7 483.7 93.7 483.9 91.9 484.1 93.1 484.3 89.8 484.5 88.6 484.7 86.7 484.9 87.3 485.1 87.2 485.3 85.2 485.5 84.8 485.7 83.4 485.9 82 486.1 82.8 486.3 82.3 486.5 82.5 486.7 84.6 486.9 88.7 487.1 88.5 487.3 85.9 487.5 83.5 487.7 84.2 487.9 84.1 488.1 86.8 488.3 93.5 488.5 92.5 488.7 92.3 488.9 89.8 489.1 91.5 489.3 90.8 489.5 86.8 489.7 86.5 489.9 89.6 490.1 90.4 490.3 94.7 490.5 95.8 490.7 99.8 490.9 100.3 491.1 97.4 491.3 98.8 491.5 101 491.7 103 491.9 100.5 492.1 107.4 492.3 108.2 492.5 110 492.7 104.1 492.9 100.7 493.1 99 493.3 94.7 493.5 93.8 493.7 92.3 493.9 93 494.1 93.5 494.3 94.2 494.5 89.4 494.7 93.3 494.9 91.3 495.1 92.8 495.3 90.1 495.5 89.6 495.7 94.1 495.9 93.5 496.1 93.1 496.3 95.2 496.5 97.1 496.7 98.3 496.9 95.9 497.1 95.5 497.3 90.7 497.5 87.9 497.7 84.5 497.9 83.5 498.1 81.3 498.3 79.3 498.5 75 498.7 80.1 498.9 81.1 499.1 81.7 499.3 86.2 499.5 90.5 499.7 88.3 499.9 88 500.1 94.2 500.3 99.3 500.5 98.7 500.7 103.9 500.9 98 501.1 97.1 501.3 92.3 501.5 87.8 501.7 91 501.9 91.9 502.1 91.9 502.3 91 502.5 96.8 502.7 96.4 502.9 99.7 503.1 103.2 503.3 102.7 503.5 105.7 503.7 107.4 503.9 107.2 504.1 102.4 504.3 103.4 504.5 99.2 504.7 98.6 504.9 100.6 505.1 101.9 505.3 102.1 505.5 98 505.7 95.4 505.9 95.6 506.1 96.8 506.3 92.4 506.5 91.7 506.7 92.6 506.9 92.2 507.1 90 507.3 90.1 507.5 89.6 507.7 86.8 507.9 85.5 508.1 84.1 508.3 80 508.5 81.3 508.7 81 508.9 80.5 509.1 78.7 509.3 88.2 509.5 85.3 509.7 85.4 509.9 89.1 510.1 83.2 510.3 84.1 510.5 82.4 510.7 87.5 510.9 87.3 511.1 92.6 511.3 93.6 511.5 91.6 511.7 93.3 511.9 92.8 512.1 89.2 512.3 95.7 512.5 89.4 512.7 93.1 512.9 88.8 513.1 95.7 513.3 99.8 513.5 96.6 513.7 101.8 513.9 100.8 514.1 103.2 514.3 106.3 514.5 106.3 514.7 107.4 514.9 109.1 515.1 102.3 515.3 99.1 515.5 96.7 515.7 97.2 515.9 96.3 516.1 99.3 516.3 102.4 516.5 105.5 516.7 106.2 516.9 106.7 517.1 100.6 517.3 102.6 517.5 102.3 517.7 100.4 517.9 93.3 518.1 86.8 518.3 86.8 518.5 91.6 518.7 91.6 518.9 89.2 519.1 88 519.3 88.3 519.5 86.2 519.7 81.4 519.9 81.1 520.1 83.5 520.3 87.7 520.5 82.4 520.7 79.6 520.9 82 521.1 78.9 521.3 79.8 521.5 81 521.7 84.1 521.9 86 522.1 86.6 522.3 87 522.5 87.3 522.7 87.3 522.9 83.4 523.1 88.4 523.3 89.4 523.5 86 523.7 88.1 523.9 94.2 524.1 93.4 524.3 93.5 524.5 91.9 524.7 88.4 524.9 89.8 525.1 91.4 525.3 94 525.5 97.3 525.7 98.9 525.9 105.7 526.1 106.8 526.3 113.4 526.5 120.1 526.7 126.4 526.9 121.9 527.1 119.1 527.3 119.1 527.5 115.7 527.7 109.1 527.9 109.5 528.1 108.7 528.3 103 528.5 104.5 528.7 100.9 528.9 102 529.1 101.9 529.3 104.5 529.5 104 529.7 105.9 529.9 107.6 530.1 105.5 530.3 98 530.5 100.4 530.7 101.1 530.9 100.4 531.1 104.1 531.3 97.6 531.5 94.4 531.7 92.8 531.9 88.9 532.1 90 532.3 87.1 532.5 89.3 532.7 89.9 532.9 87.2 533.1 88 533.3 76.2 533.5 83.5 533.7 80.8 533.9 79.9 534.1 74.2 534.3 77.5 534.5 75.8 534.7 77 534.9 74.2 535.1 78.9 535.3 80.5 535.5 80.7 535.7 84.7 535.9 83.1 536.1 84.4 536.3 81 536.5 78.7 536.7 78.9 536.9 79.2 537.1 85.1 537.3 84.7 537.5 88.3 537.7 88.1 537.9 92.8 538.1 94.9 538.3 94 538.5 91.3 538.7 94.6 538.9 96 539.1 102.3 539.3 105.8 539.5 110.8 539.7 115.9 539.9 117.3 540.1 118.8 540.3 117.4 540.5 119.5 540.7 116.9 540.9 113.1 541.1 110.6 541.3 110.1 541.5 105.8 541.7 102.6 541.9 99.4 542.1 99 542.3 99.6 542.5 100.5 542.7 100.8 542.9 102.8 543.1 101.2 543.3 102.5 543.5 98.1 543.7 102.7 543.9 100 544.1 98.8 544.3 103.4 544.5 105.2 544.7 98.6 544.9 97.2 545.1 95.1 545.3 92.7 545.5 93.8 545.7 94.9 545.9 91.7 546.1 87.1 546.3 88.5 546.5 86.4 546.7 86.2 546.9 84.9 547.1 86.5 547.3 85.2 547.5 82.3 547.7 82.7 547.9 85 548.1 85.4 548.3 87 548.5 86.7 548.7 88.2 548.9 89.2 549.1 81.2 549.3 80.7 549.5 77.4 549.7 77.2 549.9 77.2 550.1 74 550.3 78.5 550.5 77.8 550.7 81.9 550.9 90.4 551.1 90.9 551.3 90.6 551.5 93.8 551.7 88.9 551.9 89.8 552.1 94.2 552.3 100.3 552.5 103.7 552.7 104.8 552.9 104.2 553.1 103.4 553.3 105.9 553.5 103.4 553.7 103.6 553.9 106.3 554.1 104.5 554.3 103.5 554.5 105 554.7 103.6 554.9 102.6 555.1 100.7 555.3 101.5 555.5 98.3 555.7 100.5 555.9 100 556.1 110 556.3 107.5 556.5 105.3 556.7 102.2 556.9 97.3 557.1 96.6 557.3 97.5 557.5 98.3 557.7 97.3 557.9 95.8 558.1 93.7 558.3 86.4 558.5 78.8 558.7 76.6 558.9 73.7 559.1 77.7 559.3 82.8 559.5 84.1 559.7 85.8 559.9 85.7 560.1 79.2 560.3 76.7 560.5 74 560.7 68.6 560.9 69.7 561.1 66.5 561.3 67.1 561.5 70.4 561.7 74.5 561.9 77.5 562.1 83.7 562.3 85.6 562.5 89.6 562.7 92.4 562.9 96 563.1 96.7 563.3 97.4 563.5 100.2 563.7 99.1 563.9 94.3 564.1 97.8 564.3 96.1 564.5 92.3 564.7 95.6 564.9 98 565.1 97.3 565.3 98.9 565.5 97.7 565.7 101.5 565.9 101.5 566.1 97.6 566.3 101.4 566.5 101.3 566.7 96.9 566.9 101.3 567.1 100.3 567.3 98.7 567.5 96 567.7 96.3 567.9 97.2 568.1 95.7 568.3 98.8 568.5 101.3 568.7 101.4 568.9 100.4 569.1 100.1 569.3 104.1 569.5 101.6 569.7 101.7 569.9 101.1 570.1 104.5 570.3 105.1 570.5 103.4 570.7 105.7 570.9 100.7 571.1 97.1 571.3 96.4 571.5 88.6 571.7 90.2 571.9 83.2 572.1 86.5 572.3 89.4 572.5 88.3 572.7 87.2 572.9 82.1 573.1 84.3 573.3 82 573.5 85.1 573.7 81.3 573.9 81 574.1 76.9 574.3 79.1 574.5 76.1 574.7 76.9 574.9 76.1 575.1 79.2 575.3 82.7 575.5 85.2 575.7 87.7 575.9 87.1 576.1 94.2 576.3 99.5 576.5 100.7 576.7 103.4 576.9 106.5 577.1 103 577.3 109.1 577.5 109.1 577.7 111.6 577.9 107 578.1 106.3 578.3 113.2 578.5 111.4 578.7 107.1 578.9 107.3 579.1 108.3 579.3 106.8 579.5 111 579.7 98.7 579.9 101.6 580.1 100.5 580.3 100.9 580.5 98.5 580.7 103.6 580.9 100.7 581.1 99.6 581.3 97.1 581.5 88.7 581.7 92.2 581.9 89.7 582.1 87.6 582.3 88.9 582.5 90.1 582.7 93.8 582.9 92.5 583.1 95 583.3 94.3 583.5 94.1 583.7 93.1 583.9 87.4 584.1 86.6 584.3 83.6 584.5 85.1 584.7 87.6 584.9 86.5 585.1 89.4 585.3 83.9 585.5 84.7 585.7 83.2 585.9 81.7 586.1 80.8 586.3 87.4 586.5 85.6 586.7 92.3 586.9 93.6 587.1 92.8 587.3 96.5 587.5 96.7 587.7 97 587.9 95.7 588.1 96.5 588.3 89.1 588.5 90.5 588.7 92.4 588.9 96.4 589.1 97.1 589.3 103 589.5 106.3 589.7 108.9 589.9 109.2 590.1 105.6 590.3 106.6 590.5 101.6 590.7 103.2 590.9 105.7 591.1 105.3 591.3 102.4 591.5 101.4 591.7 102 591.9 100.4 592.1 103.2 592.3 100.1 592.5 99.8 592.7 92.1 592.9 91.9 593.1 86.9 593.3 89.7 593.5 90.5 593.7 87.8 593.9 89.5 594.1 87.3 594.3 86.7 594.5 89.5 594.7 86.6 594.9 87 595.1 91.6 595.3 91.3 595.5 91.5 595.7 91.1 595.9 88.1 596.1 83.7 596.3 82.2 596.5 78.3 596.7 80.3 596.9 78.3 597.1 80.8 597.3 80.4 597.5 84 597.7 86.8 597.9 89.8 598.1 86.2 598.3 86.1 598.5 78.3 598.7 80.6 598.9 83.7 599.1 81.3 599.3 80.8 599.5 86.8 599.7 90.3 599.9 91.2 600.1 93.6 600.3 99.2 600.5 101.1 600.7 101.8 600.9 99.1 601.1 98.6 601.3 100.2 601.5 102.8 601.7 100.8 601.9 104.9 602.1 102 602.3 98.6 602.5 100.7 602.7 98.9 602.9 100.4 603.1 103.3 603.3 103.7 603.5 104.8 603.7 101.2 603.9 102.4 604.1 98.2 604.3 95.8 604.5 95.3 604.7 91.2 604.9 90.2 605.1 90.7 605.3 86.7 605.5 90.7 605.7 87.5 605.9 84.2 606.1 83.9 606.3 87.4 606.5 83.5 606.7 86.3 606.9 85.8 607.1 83 607.3 78.4 607.5 80.8 607.7 82.6 607.9 82.8 608.1 78.9 608.3 79.8 608.5 76.7 608.7 79.9 608.9 79.7 609.1 78.6 609.3 81.6 609.5 83.4 609.7 78.8 609.9 81.2 610.1 84.5 610.3 84.8 610.5 80.6 610.7 78.5 610.9 79 611.1 78.8 611.3 83.8 611.5 83.2 611.7 87.6 611.9 92.2 612.1 92.8 612.3 93.3 612.5 93.8 612.7 94.6 612.9 94.4 613.1 96.3 613.3 99.3 613.5 96.8 613.7 93.5 613.9 94.3 614.1 99.7 614.3 97.3 614.5 101.7 614.7 99.7 614.9 101.9 615.1 98.2 615.3 99.9 615.5 100.7 615.7 98.8 615.9 99 616.1 95.1 616.3 93.5 616.5 96.7 616.7 96.6 616.9 98.3 617.1 97.1 617.3 95.7 617.5 91.5 617.7 89.1 617.9 90.3 618.1 86.9 618.3 89.9 618.5 88.1 618.7 84.7 618.9 87.2 619.1 86.3 619.3 85.6 619.5 79.6 619.7 81.4 619.9 80.4 620.1 80.5 620.3 76.8 620.5 79.4 620.7 78.4 620.9 73.5 621.1 72.2 621.3 71.1 621.5 65.2 621.7 66.6 621.9 65.5 622.1 72.7 622.3 76.1 622.5 76.8 622.7 76.2 622.9 80 623.1 78.9 623.3 80.6 623.5 84.5 623.7 82.6 623.9 83.3 624.1 85.3 624.3 82 624.5 80.2 624.7 80.2 624.9 78.1 625.1 84.6 625.3 78.8 625.5 84.2 625.7 84.3 625.9 85.5 626.1 93.8 626.3 89 626.5 93.2 626.7 99.9 626.9 105.7 627.1 111.3 627.3 114.9 627.5 109.1 627.7 108.3 627.9 103 628.1 106.5 628.3 111.7 628.5 104.8 628.7 110.3 628.9 109.8 629.1 106.3 629.3 107.5 629.5 98.1 629.7 101.7 629.9 105.9 630.1 102.9 630.3 110 630.5 107.9 630.7 107.6 630.9 105.2 631.1 104.1 631.3 98.3 631.5 99.9 631.7 94.8 631.9 92.2 632.1 92.6 632.3 92.5 632.5 89.6 632.7 97.8 632.9 90.8 633.1 88.8 633.3 82.6 633.5 85.1 633.7 85.9 633.9 86.6 634.1 83.6 634.3 74.1 634.5 73 634.7 69.4 634.9 69 635.1 67.1 635.3 70.6 635.5 72.2 635.7 72 635.9 78.5 636.1 74.7 636.3 73.3 636.5 72.9 636.7 72.3 636.9 69.8 637.1 70.1 637.3 70.1 637.5 72.6 637.7 73.8 637.9 79.8 638.1 81.9 638.3 84.4 638.5 81.8 638.7 85.1 638.9 91.9 639.1 90.7 639.3 93 639.5 91.3 639.7 86.6 639.9 87.1 640.1 90.7 640.3 96.2 640.5 97.3 640.7 98.1 640.9 103 641.1 97.4 641.3 104 641.5 97.4 641.7 101.1 641.9 99.4 642.1 98.9 642.3 92 642.5 89.6 642.7 92.6 642.9 91 643.1 92.1 643.3 92.4 643.5 90.4 643.7 87.4 643.9 88.3 644.1 89.2 644.3 83.9 644.5 83.2 644.7 84.1 644.9 80.7 645.1 83.3 645.3 86.6 645.5 86.4 645.7 85.2 645.9 87.4 646.1 89 646.3 87.1 646.5 87.2 646.7 87.8 646.9 88 647.1 87.6 647.3 85.5 647.5 83.6 647.7 85.4 647.9 81.9 648.1 83.4 648.3 88.6 648.5 90.7 648.7 93.3 648.9 95.8 649.1 96.2 649.3 96.1 649.5 90.1 649.7 90.3 649.9 88.7 650.1 89.6 650.3 87.9 650.5 92.4 650.7 91.7 650.9 91.5 651.1 94.6 651.3 95.1 651.5 99.8 651.7 98.2 651.9 102.2 652.1 97.6 652.3 97.8 652.5 91.4 652.7 92.1 652.9 91 653.1 91.1 653.3 95.4 653.5 101.8 653.7 104.2 653.9 109.2 654.1 106.2 654.3 106.4 654.5 103.3 654.7 101.2 654.9 101.1 655.1 94.4 655.3 91.4 655.5 86.6 655.7 85 655.9 82.3 656.1 80.9 656.3 80.2 656.5 78.8 656.7 76.2 656.9 72 657.1 72.2 657.3 75.8 657.5 72.4 657.7 72.2 657.9 75.6 658.1 80.1 658.3 84.3 658.5 84.4 658.7 86.9 658.9 81.6 659.1 87.7 659.3 84.9 659.5 84.6 659.7 83.2 659.9 84.6 660.1 89.3 660.3 87.9 660.5 92.1 660.7 91.8 660.9 88.1 661.1 91.6 661.3 93.9 661.5 95.2 661.7 95 661.9 93.8 662.1 94.4 662.3 100.3 662.5 102.2 662.7 101.9 662.9 105.2 663.1 105.7 663.3 105.3 663.5 108.9 663.7 109.5 663.9 103.6 664.1 111.3 664.3 104.6 664.5 106 664.7 104.3 664.9 101.1 665.1 102.3 665.3 104.2 665.5 104.3 665.7 105.8 665.9 103.7 666.1 102 666.3 104.7 666.5 106 666.7 104 666.9 98.2 667.1 99.8 667.3 98.1 667.5 96.9 667.7 95.1 667.9 93.7 668.1 96.2 668.3 94.7 668.5 97.6 668.7 94.6 668.9 93.9 669.1 88.5 669.3 83.9 669.5 81.2 669.7 83.3 669.9 82.8 670.1 81.9 670.3 83.5 670.5 82.1 670.7 84.4 670.9 88.2 671.1 89.1 671.3 87.7 671.5 92.1 671.7 91.2 671.9 88.7 672.1 94.6 672.3 95.5 672.5 91.4 672.7 90.2 672.9 94.7 673.1 97.5 673.3 95.5 673.5 97.1 673.7 93.1 673.9 92 674.1 91 674.3 94 674.5 92.8 674.7 95.5 674.9 97.5 675.1 98.9 675.3 100.5 675.5 103.7 675.7 102.5 675.9 100.2 676.1 103.9 676.3 102.6 676.5 104.1 676.7 103.7 676.9 104.4 677.1 101.2 677.3 103 677.5 95 677.7 95.4 677.9 94 678.1 93.9 678.3 92.5 678.5 91 678.7 89.7 678.9 86.3 679.1 84.3 679.3 86.8 679.5 87 679.7 90.6 679.9 90 680.1 87.4 680.3 84.5 680.5 85 680.7 86.2 680.9 91.5 681.1 85.5 681.3 84.9 681.5 79 681.7 82.7 681.9 80.1 682.1 83.3 682.3 85.4 682.5 86.6 682.7 90.1 682.9 93.2 683.1 91.6 683.3 88.9 683.5 94.4 683.7 92.7 683.9 89.7 684.1 90.3 684.3 87.9 684.5 85.5 684.7 86.3 684.9 81.4 685.1 85.5 685.3 87.1 685.5 89 685.7 96.8 685.9 93.5 686.1 102 686.3 102.9 686.5 102.5 686.7 107.1 686.9 106.3 687.1 109.8 687.3 112.2 687.5 117.3 687.7 110.4 687.9 111.2 688.1 108.4 688.3 105.2 688.5 98.9 688.7 103.3 688.9 96.7 689.1 98.9 689.3 101.3 689.5 94.4 689.7 97.6 689.9 95.7 690.1 96.7 690.3 92.7 690.5 95.5 690.7 89.6 690.9 86.6 691.1 89.9 691.3 93 691.5 89.8 691.7 90.2 691.9 85 692.1 87.6 692.3 85.5 692.5 87.4 692.7 86.9 692.9 88.2 693.1 83.8 693.3 80.5 693.5 77.9 693.7 80.6 693.9 79.4 694.1 81.2 694.3 88.8 694.5 89.2 694.7 87.3 694.9 83.2 695.1 81.7 695.3 79.7 695.5 79 695.7 81.8 695.9 78.7 696.1 78.7 696.3 76.5 696.5 79.1 696.7 82.1 696.9 80.4 697.1 85.3 697.3 89.8 697.5 93.1 697.7 94.2 697.9 97.4 698.1 97.4 698.3 98.2 698.5 97.2 698.7 100.1 698.9 102.9 699.1 97 699.3 100 699.5 100.9 699.7 96.9 699.9 93.3 700.1 94.1 700.3 92.4 700.5 96.2 700.7 102.2 700.9 108.1 701.1 110.3 701.3 113.7 701.5 114.5 701.7 114.8 701.9 114 702.1 109.1 702.3 108.8 702.5 106.3 702.7 105.6 702.9 103.8 703.1 105.7 703.3 101.3 703.5 106.5 703.7 96.8 703.9 97.7 704.1 97.7 704.3 90.4 704.5 88.9 704.7 87.2 704.9 83.3 705.1 84.5 705.3 82.5 705.5 78.8 705.7 76.2 705.9 81.9 706.1 81.4 706.3 82.9 706.5 82.3 706.7 80.9 706.9 79.3 707.1 78.8 707.3 81.7 707.5 75.2 707.7 76.5 707.9 77.9 708.1 73.8 708.3 75.6 708.5 75.8 708.7 71.3 708.9 74.7 709.1 71.1 709.3 74 709.5 72.3 709.7 73.1 709.9 74.3 710.1 75.3 710.3 75.8 710.5 70.6 710.7 73.1 710.9 73.2 711.1 76.3 711.3 87.1 711.5 99.3 711.7 101.5 711.9 102.8 712.1 104.2 712.3 105 712.5 106.3 712.7 108.2 712.9 107.2 713.1 106.5 713.3 103.8 713.5 101 713.7 102.5 713.9 102.1 714.1 103.9 714.3 99.4 714.5 99.4 714.7 97.1 714.9 92.7 715.1 91.4 715.3 91.3 715.5 92 715.7 96.2 715.9 89.7 716.1 87.6 716.3 83.9 716.5 79.2 716.7 84 716.9 83.3 717.1 81.5 717.3 77.8 717.5 77.5 717.7 76.2 717.9 78.6 718.1 80 718.3 82.6 718.5 82.4 718.7 82.4 718.9 84.9 719.1 81.8 719.3 85.5 719.5 82.5 719.7 82.6 719.9 83.6 720.1 85.1 720.3 90 720.5 91.5 720.7 97.1 720.9 96.8 721.1 93.6 721.3 94.3 721.5 95 721.7 96.2 721.9 95.5 722.1 100.3 722.3 101.7 722.5 104.4 722.7 110.9" fill="none" stroke="#000" stroke-width="1.3" stroke-linejoin="round" stroke-linecap="round"/>
<polyline points="844 82.4 844.2 89 844.4 91.3 844.6 95.9 844.8 98 845 97.7 845.2 96.1 845.4 93.4 845.6 91.2 845.8 89 846 88.2 846.2 86.3 846.4 87.8 846.6 90 846.8 87.3 847 92.9 847.2 93.1 847.4 93 847.6 93 847.8 94.3 848 94.2 848.2 92 848.4 94.1 848.6 98 848.8 98.6 849 103.1 849.2 98.1 849.4 100.3 849.6 90.2 849.8 93.4 850 92.5 850.2 89.3 850.4 88 850.6 93.5 850.8 92.6 851 92.6 851.2 96.8 851.4 93.1 851.6 96.3 851.8 96.9 852 93.9 852.2 96.1 852.4 88.6 852.6 88.4 852.8 87 853 84.3 853.2 87.7 853.4 79.6 853.6 72 853.8 68.9 854 66.2 854.2 66.5 854.4 69.4 854.6 70.1 854.8 71.7 855 75.9 855.2 82.8 855.4 76.3 855.6 81.7 855.8 83.2 856 88 856.2 93.6 856.4 97.5 856.6 101.8 856.8 101.4 857 101.5 857.2 101.9 857.4 98.3 857.6 98.8 857.8 102.5 858 99.3 858.2 100.2 858.4 95.4 858.6 90.6 858.8 92.4 859 92.8 859.2 96.1 859.4 96.8 859.6 99 859.8 98.2 860 101.4 860.2 102.7 860.4 106.9 860.6 108.1 860.8 110 861 107.6 861.2 102.6 861.4 108.4 861.6 107.2 861.8 104.4 862 104 862.2 100.6 862.4 96.1 862.6 92.6 862.8 92.4 863 89.3 863.2 86.9 863.4 86.8 863.6 86.7 863.8 86 864 85.6 864.2 81.3 864.4 79.5 864.6 77.8 864.8 78.8 865 77.6 865.2 74.5 865.4 74.8 865.6 75.1 865.8 74.9 866 75.9 866.2 83.6 866.4 83.8 866.6 82.9 866.8 85.1 867 87.4 867.2 90.5 867.4 87 867.6 90.1 867.8 88.2 868 89.5 868.2 92.3 868.4 99.4 868.6 92.7 868.8 96.2 869 95.4 869.2 103.9 869.4 107 869.6 110.1 869.8 110.3 870 106.9 870.2 105.6 870.4 107.1 870.6 102.5 870.8 95.4 871 94.5 871.2 97.3 871.4 95 871.6 98.4 871.8 93.6 872 89.9 872.2 91.4 872.4 92.6 872.6 91.3 872.8 87.9 873 89.4 873.2 89.5 873.4 83.7 873.6 78.3 873.8 75.7 874 75 874.2 71.5 874.4 82.4 874.6 85 874.8 87.6 875 86.6 875.2 91.5 875.4 97 875.6 96.1 875.8 103.1 876 94.3 876.2 93.6 876.4 91 876.6 95.7 876.8 98 877 101.1 877.2 106.7 877.4 109.1 877.6 110.3 877.8 104.7 878 102.7 878.2 96.3 878.4 87.8 878.6 84.7 878.8 83.3 879 88.8 879.2 94.2 879.4 89 879.6 87 879.8 86.9 880 89 880.2 88.6 880.4 89 880.6 95.8 880.8 101.6 881 98.4 881.2 89.1 881.4 87.4 881.6 84.2 881.8 87.3 882 86.3 882.2 84.9 882.4 78.6 882.6 79.2 882.8 79.8 883 74 883.2 77.2 883.4 77.4 883.6 74 883.8 83.6 884 90.7 884.2 93.1 884.4 91.3 884.6 98.7 884.8 103.1 885 101 885.2 101.5 885.4 101 885.6 99.5 885.8 95 886 98.9 886.2 103.3 886.4 106.4 886.6 108.2 886.8 106.4 887 107.7 887.2 105.5 887.4 109.6 887.6 109.6 887.8 105.4 888 107.2 888.2 101.4 888.4 102.7 888.6 107.5 888.8 102.4 889 102 889.2 102.6 889.4 98.1 889.6 90.5 889.8 88.9 890 88.3 890.2 83.1 890.4 82.1 890.6 84.4 890.8 82.1 891 83.4 891.2 86.2 891.4 88.2 891.6 89 891.8 87.5 892 94.8 892.2 94.5 892.4 93.4 892.6 92.8 892.8 87 893 88.3 893.2 88.2 893.4 89.2 893.6 84.1 893.8 81.3 894 77.5 894.2 78.3 894.4 81.7 894.6 81.5 894.8 85.9 895 85.3 895.2 91.3 895.4 89.5 895.6 86.9 895.8 90 896 85.1 896.2 81.4 896.4 79 896.6 89.3 896.8 87.5 897 92.9 897.2 100.1 897.4 107.3 897.6 108 897.8 114.9 898 112.4 898.2 110.4 898.4 101.7 898.6 101.8 898.8 101.8 899 98.7 899.2 99.7 899.4 96.6 899.6 92.3 899.8 86.2 900 87.7 900.2 85 900.4 84.1 900.6 84.5 900.8 83.9 901 78.8 901.2 81.3 901.4 77.3 901.6 78.2 901.8 84.7 902 82.1 902.2 82.7 902.4 82.1 902.6 77.7 902.8 81.1 903 78.4 903.2 81.6 903.4 79.6 903.6 83.4 903.8 81.4 904 80.5 904.2 85.2 904.4 93.9 904.6 98.3 904.8 96.8 905 97.5 905.2 97.1 905.4 102.7 905.6 99.6 905.8 98.4 906 94.4 906.2 96.6 906.4 102.7 906.6 105 906.8 104 907 103.6 907.2 98.1 907.4 100.1 907.6 98.6 907.8 101.4 908 101.4 908.2 106.3 908.4 104 908.6 100.7 908.8 106.6 909 106.1 909.2 110.5 909.4 102.6 909.6 102.9 909.8 106.1 910 105.3 910.2 104.6 910.4 103.4 910.6 101 910.8 99.3 911 95.6 911.2 99 911.4 96.5 911.6 91.6 911.8 90.2 912 91.5 912.2 83.8 912.4 79.4 912.6 79.9 912.8 77.2 913 82.9 913.2 86.2 913.4 90.7 913.6 91.8 913.8 92.9 914 88.4 914.2 87.2 914.4 94.4 914.6 92.7 914.8 90.9 915 94.8 915.2 98.6 915.4 94.5 915.6 103.2 915.8 96.1 916 100.5 916.2 94.1 916.4 89.4 916.6 93.2 916.8 92.1 917 101.1 917.2 106.6 917.4 108.9 917.6 104.8 917.8 108.4 918 104.5 918.2 105.2 918.4 97.4 918.6 96.3 918.8 95.6 919 90.3 919.2 89.7 919.4 93.5 919.6 92.1 919.8 98.2 920 94.5 920.2 93.6 920.4 90.2 920.6 88.7 920.8 89.2 921 91.1 921.2 81.2 921.4 84.2 921.6 76.1 921.8 75.2 922 74.8 922.2 72.6 922.4 73.8 922.6 75.3 922.8 76.5 923 84.1 923.2 84.7 923.4 90.5 923.6 97.4 923.8 97.5 924 102.4 924.2 101.3 924.4 98.6 924.6 99.1 924.8 94.5 925 89.6 925.2 97.4 925.4 98.3 925.6 96.5 925.8 97 926 91.1 926.2 91.5 926.4 95 926.6 93 926.8 98.4 927 102.9 927.2 101.7 927.4 100.4 927.6 101.4 927.8 107 928 109.7 928.2 110 928.4 110.1 928.6 107.9 928.8 103.9 929 102.4 929.2 103.9 929.4 103.6 929.6 105.2 929.8 98.2 930 100.8 930.2 96 930.4 91.5 930.6 85 930.8 87.6 931 91.1 931.2 86.6 931.4 90.7 931.6 86.8 931.8 86.6 932 83.6 932.2 84.8 932.4 91.6 932.6 91.5 932.8 90.3 933 84.6 933.2 80.6 933.4 77.8 933.6 77.1 933.8 81.6 934 85.9 934.2 91 934.4 86.9 934.6 94.1 934.8 101.2 935 100.9 935.2 105.4 935.4 111.5 935.6 111.3 935.8 114.2 936 110.6 936.2 110.7 936.4 106.4 936.6 107.7 936.8 106 937 109.1 937.2 105.4 937.4 105.5 937.6 104.1 937.8 97.4 938 100 938.2 97.5 938.4 98.8 938.6 103.9 938.8 106.6 939 103.4 939.2 99.6 939.4 99.3 939.6 100 939.8 97 940 97.3 940.2 99.9 940.4 100.5 940.6 101.1 940.8 94 941 92.3 941.2 91.7 941.4 100.3 941.6 99.2 941.8 102.2 942 98.4 942.2 98.3 942.4 94.4 942.6 93.2 942.8 89.9 943 91.6 943.2 96.9 943.4 94 943.6 93.4 943.8 94.5 944 94.5 944.2 88.2 944.4 88.2 944.6 81.7 944.8 77.1 945 79.7 945.2 78 945.4 76.9 945.6 78.7 945.8 83.1 946 82.8 946.2 84 946.4 81.6 946.6 89.6 946.8 89.7 947 95.9 947.2 98.1 947.4 96.9 947.6 97.9 947.8 105.4 948 105.1 948.2 106.7 948.4 105.3 948.6 101 948.8 94.8 949 96.5 949.2 91.1 949.4 92.8 949.6 94.7 949.8 94.6 950 92.6 950.2 98.3 950.4 99.8 950.6 96.9 950.8 93.9 951 91.3 951.2 84.3 951.4 84 951.6 83.1 951.8 75.1 952 79.6 952.2 81 952.4 76.6 952.6 77 952.8 76.9 953 76.2 953.2 81.4 953.4 86.8 953.6 92.2 953.8 86.7 954 85.3 954.2 79.7 954.4 90.1 954.6 95.1 954.8 97.9 955 95.5 955.2 95.3 955.4 95.7 955.6 89.5 955.8 89.4 956 92.8 956.2 92.4 956.4 93 956.6 93 956.8 88 957 90.4 957.2 92.9 957.4 92.5 957.6 93.4 957.8 104.8 958 102.7 958.2 108.6 958.4 105.3 958.6 103.4 958.8 103.9 959 108 959.2 110 959.4 110 959.6 103.7 959.8 98 960 91.4 960.2 92.9 960.4 96.8 960.6 104.7 960.8 103.4 961 106.2 961.2 105.5 961.4 97.1 961.6 91.5 961.8 90.5 962 86.3 962.2 85.5 962.4 84.4 962.6 87.2 962.8 86.2 963 90.6 963.2 89.9 963.4 87.5 963.6 80.6 963.8 82 964 82.5 964.2 80.6 964.4 80.4 964.6 82.4 964.8 88.4 965 85.4 965.2 88.4 965.4 89.1 965.6 82.2 965.8 81.4 966 84.4 966.2 88.2 966.4 84.3 966.6 82.9 966.8 87.2 967 82.1 967.2 76.2 967.4 80.5 967.6 75.4 967.8 69 968 80.7 968.2 77.3 968.4 86.2 968.6 91.4 968.8 92.4 969 95.2 969.2 99.1 969.4 103.9 969.6 108.7 969.8 109.2 970 106.4 970.2 105.1 970.4 102.5 970.6 98 970.8 93 971 94.6 971.2 92.2 971.4 84.8 971.6 87.6 971.8 84.7 972 84.1 972.2 86.8 972.4 84 972.6 84.4 972.8 87.3 973 83.2 973.2 90.2 973.4 84.7 973.6 84.9 973.8 85.8 974 88 974.2 86.3 974.4 89.4 974.6 91 974.8 87.1 975 89.8 975.2 84 975.4 79.6 975.6 79.9 975.8 78.5 976 72.6 976.2 75.9 976.4 73.2 976.6 75.6 976.8 72 977 69.7 977.2 66.8 977.4 71.2 977.6 70.9 977.8 69.2 978 79.2 978.2 78.8 978.4 86.2 978.6 87.2 978.8 94.1 979 93.4 979.2 87 979.4 85.1 979.6 82.5 979.8 82.3 980 79.9 980.2 92.4 980.4 93.9 980.6 95.9 980.8 99.2 981 98 981.2 97.9 981.4 100.3 981.6 100.9 981.8 97.5 982 99.3 982.2 95.5 982.4 96.9 982.6 94.1 982.8 96.1 983 94.5 983.2 93.1 983.4 95.3 983.6 93 983.8 91.2 984 84.6 984.2 80.5 984.4 85.8 984.6 87 984.8 88.8 985 89.2 985.2 93.6 985.4 89.7 985.6 83.2 985.8 84.8 986 82.1 986.2 74.6 986.4 74.2 986.6 75 986.8 81 987 88.6 987.2 89.5 987.4 82.6 987.6 80.9 987.8 78.3 988 83 988.2 84.7 988.4 80.7 988.6 78.8 988.8 74.7 989 67 989.2 71.7 989.4 77.1 989.6 78.1 989.8 85.7 990 92.1 990.2 94.9 990.4 95.9 990.6 97.2 990.8 94.4 991 91.7 991.2 90.5 991.4 90.6 991.6 86.7 991.8 94.1 992 94.7 992.2 102.5 992.4 98.8 992.6 99.2 992.8 90.5 993 93.3 993.2 95.8 993.4 94.6 993.6 98.4 993.8 106.6 994 104.2 994.2 97.4 994.4 96.5 994.6 93.9 994.8 95.7 995 97.4 995.2 101.4 995.4 101 995.6 101.1 995.8 107.7 996 105 996.2 102.5 996.4 102.4 996.6 104.2 996.8 99.7 997 93.8 997.2 95 997.4 95.8 997.6 94.4 997.8 93.6 998 91.4 998.2 89.5 998.4 90.8 998.6 93.6 998.8 91.1 999 85 999.2 82.8 999.4 79.8 999.6 75.6 999.8 75 1000 83.6 1000.2 85 1000.4 86.9 1000.6 81.9 1000.8 82 1001 85.4 1001.2 87.4 1001.4 86.7 1001.6 92.5 1001.8 92.8 1002 95.3 1002.2 94.5 1002.4 91.2 1002.6 94 1002.8 87.4 1003 83.2 1003.2 90.9 1003.4 85.8 1003.6 91.2 1003.8 88.4 1004 89.2 1004.2 87.5 1004.4 91.4 1004.6 91 1004.8 91 1005 90.7 1005.2 89.2 1005.4 87.7 1005.6 86.5 1005.8 90.9 1006 92.7 1006.2 100 1006.4 102 1006.6 105.7 1006.8 106.1 1007 104.8 1007.2 101.8 1007.4 95.8 1007.6 97.5 1007.8 89.1 1008 85.1 1008.2 83.6 1008.4 80.7 1008.6 83.4 1008.8 80.6 1009 75.6 1009.2 81.8 1009.4 78.4 1009.6 75.1 1009.8 75.7 1010 79.7 1010.2 80.4 1010.4 80.3 1010.6 79.5 1010.8 79.4 1011 83.4 1011.2 83.2 1011.4 84.8 1011.6 86.5 1011.8 86.9 1012 85.7 1012.2 87.7 1012.4 90.1 1012.6 92.8 1012.8 89.6 1013 94.3 1013.2 94.8 1013.4 98.1 1013.6 99.1 1013.8 102.6 1014 103.7 1014.2 104.9 1014.4 110.3 1014.6 108.7 1014.8 105.7 1015 105.3 1015.2 93.6 1015.4 94.5 1015.6 93.5 1015.8 89.6 1016 89.4 1016.2 89.7 1016.4 84.6 1016.6 83.9 1016.8 87.6 1017 88.3 1017.2 92.1 1017.4 95.5 1017.6 97.2 1017.8 94.8 1018 91.3 1018.2 91.4 1018.4 84.7 1018.6 87.2 1018.8 84.3 1019 85.2 1019.2 83.7 1019.4 73.9 1019.6 72.8 1019.8 68 1020 72.6 1020.2 68.5 1020.4 67.9 1020.6 66.9 1020.8 71.4 1021 71.2 1021.2 73.5 1021.4 67.9 1021.6 68.5 1021.8 64 1022 66.2 1022.2 76.8 1022.4 81.7 1022.6 80.9 1022.8 76.6 1023 79 1023.2 82.1 1023.4 85.6 1023.6 86.2 1023.8 90.8 1024 87.4 1024.2 87.4 1024.4 97.1 1024.6 99.2 1024.8 97 1025 93.8 1025.2 89.4 1025.4 87.1 1025.6 85.4 1025.8 88.1 1026 89.5 1026.2 90.5 1026.4 96.9 1026.6 92.1 1026.8 93.9 1027 95 1027.2 92.1 1027.4 87.4 1027.6 83.2 1027.8 86.1 1028 80.7 1028.2 82.9 1028.4 79.5 1028.6 74.9 1028.8 73.2 1029 74.8 1029.2 76.9 1029.4 72.6 1029.6 77 1029.8 79.7 1030 80.4 1030.2 87.2 1030.4 89.6 1030.6 88.3 1030.8 91.7 1031 98.2 1031.2 91.1 1031.4 87.7 1031.6 81 1031.8 76.6 1032 77.7 1032.2 79.9 1032.4 86.7 1032.6 92.5 1032.8 93.4 1033 90.2 1033.2 88.7 1033.4 83.4 1033.6 82 1033.8 81.5 1034 76.7 1034.2 74.3 1034.4 71 1034.6 68.5 1034.8 76.4 1035 80.5 1035.2 86.9 1035.4 87.1 1035.6 93.6 1035.8 93.6 1036 89.5 1036.2 93.5 1036.4 104.4 1036.6 105.8 1036.8 109.6 1037 109 1037.2 110.8 1037.4 107.9 1037.6 106.7 1037.8 102.9 1038 97.4 1038.2 93 1038.4 94.1 1038.6 97.7 1038.8 97.1 1039 93.5 1039.2 93.1 1039.4 90.2 1039.6 93.8 1039.8 97.8 1040 90.8 1040.2 90.9 1040.4 93.4 1040.6 95.8 1040.8 97.2 1041 90.2 1041.2 87 1041.4 88.3 1041.6 84.6 1041.8 81.2 1042 82 1042.2 83.8 1042.4 87.2 1042.6 84 1042.8 85.5 1043 84.6 1043.2 75 1043.4 72.9 1043.6 73.2 1043.8 70.4 1044 72.5 1044.2 71.9 1044.4 75.7 1044.6 76.3 1044.8 80 1045 86.5 1045.2 92.5 1045.4 97.4 1045.6 102.5 1045.8 106.4 1046 105.7 1046.2 109.6 1046.4 103.6 1046.6 105.8 1046.8 104.2 1047 104.4 1047.2 100 1047.4 105.7 1047.6 101.9 1047.8 106.4 1048 98.6 1048.2 97.5 1048.4 99.6 1048.6 100.5 1048.8 102.8 1049 100 1049.2 97.4 1049.4 94.1 1049.6 94.3 1049.8 94.6 1050 95.8 1050.2 98.3 1050.4 100.1 1050.6 97 1050.8 95.3 1051 93.6 1051.2 89.8 1051.4 88.8 1051.6 85.9 1051.8 88.9 1052 90.9 1052.2 85.6 1052.4 92.5 1052.6 92.4 1052.8 98.3 1053 99.8 1053.2 102.7 1053.4 103.7 1053.6 106.5 1053.8 99.5 1054 101.8 1054.2 99.2 1054.4 95.7 1054.6 96.5 1054.8 90.1 1055 87.6 1055.2 84.9 1055.4 84.1 1055.6 89.4 1055.8 81.2 1056 86.4 1056.2 82.4 1056.4 86.7 1056.6 85.3 1056.8 88.2 1057 84.5 1057.2 82.1 1057.4 84.6 1057.6 81.4 1057.8 78.3 1058 78.5 1058.2 78.3 1058.4 81 1058.6 85.4 1058.8 90 1059 94 1059.2 96.9 1059.4 99.1 1059.6 102.2 1059.8 101.3 1060 96.5 1060.2 93.8 1060.4 95.6 1060.6 99 1060.8 103.4 1061 97.8 1061.2 95.2 1061.4 87.4 1061.6 89.7 1061.8 89.5 1062 93 1062.2 86.6 1062.4 89.8 1062.6 86.4 1062.8 90 1063 85.8 1063.2 84.1 1063.4 85.7 1063.6 85.1 1063.8 83.9 1064 86.3 1064.2 82 1064.4 82.1 1064.6 84.7 1064.8 83.7 1065 85.7 1065.2 79 1065.4 82.8 1065.6 82.5 1065.8 82.5 1066 88 1066.2 89.7 1066.4 92.4 1066.6 95.1 1066.8 92.2 1067 91.3 1067.2 89.1 1067.4 94.8 1067.6 99.7 1067.8 105.1 1068 103.9 1068.2 105.5 1068.4 106.3 1068.6 101.9 1068.8 100.9 1069 97.2 1069.2 94.3 1069.4 100.4 1069.6 99.4 1069.8 99.1 1070 103.6 1070.2 102.6 1070.4 100.5 1070.6 105.5 1070.8 101.1 1071 99.5 1071.2 104.7 1071.4 107.7 1071.6 112.6 1071.8 111.8 1072 100.2 1072.2 93.7 1072.4 94.3 1072.6 96.4 1072.8 100.1 1073 94.2 1073.2 93.3 1073.4 89.7 1073.6 85.6 1073.8 90.3 1074 86.5 1074.2 92.1 1074.4 88.5 1074.6 82.9 1074.8 82.9 1075 76.5 1075.2 76.5 1075.4 81.4 1075.6 84.7 1075.8 87.8 1076 93.1 1076.2 93.6 1076.4 88.6 1076.6 83.3 1076.8 88.2 1077 90.3 1077.2 92.2 1077.4 86.5 1077.6 85.8 1077.8 84.8 1078 92.6 1078.2 94.8 1078.4 96.5 1078.6 103.2 1078.8 107.6 1079 108.9 1079.2 116.7 1079.4 116 1079.6 110.9 1079.8 108.6 1080 103.7 1080.2 102.9 1080.4 103.4 1080.6 99.2 1080.8 104 1081 98.6 1081.2 106.1 1081.4 105.2 1081.6 103.3 1081.8 106.5 1082 107.4 1082.2 106.9 1082.4 104.9 1082.6 108.2 1082.8 107.8 1083 106.8 1083.2 104.5 1083.4 100 1083.6 99.5 1083.8 96.5 1084 93.4 1084.2 88.5 1084.4 84.3 1084.6 86.1 1084.8 86.5 1085 83.2 1085.2 82.8 1085.4 88.1 1085.6 80.7 1085.8 77.8 1086 77.4 1086.2 77 1086.4 77.8 1086.6 84.1 1086.8 90.4 1087 87.4 1087.2 90.9 1087.4 89.5 1087.6 93.5 1087.8 96 1088 92.9 1088.2 92 1088.4 92 1088.6 97.6 1088.8 97.5 1089 102.2 1089.2 108.2 1089.4 108.8 1089.6 113.3 1089.8 110.2 1090 106.2 1090.2 103.6 1090.4 100.3 1090.6 96.7 1090.8 97.8 1091 101.1 1091.2 106.2 1091.4 110.3 1091.6 110.1 1091.8 111.1 1092 109.5 1092.2 111.4 1092.4 113 1092.6 109.6 1092.8 108.2 1093 109.1 1093.2 105.4 1093.4 103.9 1093.6 102.5 1093.8 101.1 1094 100.7 1094.2 105.4 1094.4 104.9 1094.6 102.8 1094.8 105.9 1095 102.8 1095.2 99.3 1095.4 100.1 1095.6 99.5 1095.8 95.1 1096 96.3 1096.2 91.5 1096.4 94.3 1096.6 93.5 1096.8 96.9 1097 100.5 1097.2 98.4 1097.4 90.6 1097.6 88.6 1097.8 86.8 1098 87.2 1098.2 84.9 1098.4 84.4 1098.6 84.2 1098.8 84.6 1099 81.6 1099.2 85.2 1099.4 94.4 1099.6 100.1 1099.8 108.2 1100 111.2 1100.2 112.7 1100.4 113.2 1100.6 112.1 1100.8 116.9 1101 115.3 1101.2 115.1 1101.4 112.9 1101.6 105.7 1101.8 105.9 1102 103.7 1102.2 107.9 1102.4 110.2 1102.6 109 1102.8 113 1103 107.4 1103.2 108.1 1103.4 110.1 1103.6 113.6 1103.8 115.4 1104 114.2 1104.2 114.5 1104.4 110.2 1104.6 111.2 1104.8 106.2 1105 101 1105.2 97.5 1105.4 100.3 1105.6 96 1105.8 93.7 1106 92.4 1106.2 89 1106.4 86.1 1106.6 84.2 1106.8 85 1107 79.2 1107.2 77.4 1107.4 78.5 1107.6 78 1107.8 75.2 1108 81.2 1108.2 80.1 1108.4 83.6 1108.6 88.1 1108.8 86.3 1109 86.2 1109.2 80.2 1109.4 83.7 1109.6 93.5 1109.8 93.2 1110 96 1110.2 95.8 1110.4 93.4 1110.6 98.4 1110.8 91.5 1111 94 1111.2 95.5 1111.4 94.5 1111.6 98.7 1111.8 99.9 1112 102.2 1112.2 104.6 1112.4 109.4 1112.6 109.3 1112.8 116.6 1113 115.3 1113.2 122.2 1113.4 121.1 1113.6 121.3 1113.8 115.4 1114 120.2 1114.2 120.3 1114.4 119.3 1114.6 122.4 1114.8 117.3 1115 114.4 1115.2 110.6 1115.4 111.7 1115.6 115.8 1115.8 114.5 1116 112.6 1116.2 115.3 1116.4 108.9 1116.6 104.6 1116.8 100.5 1117 107.4 1117.2 104 1117.4 101.9 1117.6 95.8 1117.8 94.9 1118 88.5 1118.2 89.3 1118.4 89.3 1118.6 83.5 1118.8 84 1119 85.8 1119.2 88.3 1119.4 84.2 1119.6 81.7 1119.8 78.2 1120 81.8 1120.2 79.3 1120.4 82.7 1120.6 83.6 1120.8 92.7 1121 98.1 1121.2 99.6 1121.4 101.2 1121.6 96.1 1121.8 97.4 1122 96.5 1122.2 96.6 1122.4 95 1122.6 91.2 1122.8 94.7 1123 93 1123.2 97.3 1123.4 103.2 1123.6 107.5 1123.8 106.4 1124 108 1124.2 110.5 1124.4 108.2 1124.6 113.2 1124.8 112.8 1125 117.6 1125.2 115.3 1125.4 114.6 1125.6 111.5 1125.8 112.7 1126 116.1 1126.2 111 1126.4 116.9 1126.6 115.9 1126.8 116.4 1127 112.1 1127.2 116.9 1127.4 114.9 1127.6 110 1127.8 113.7 1128 109.9 1128.2 105 1128.4 109.3 1128.6 108.4 1128.8 102.9 1129 100.5 1129.2 99.8 1129.4 105.3 1129.6 112.9 1129.8 111.1 1130 110.6 1130.2 110.4 1130.4 106.5 1130.6 100.4 1130.8 99.4 1131 97.4 1131.2 100.8 1131.4 92.1 1131.6 89 1131.8 90.1 1132 89.6 1132.2 88.9 1132.4 89.9 1132.6 90.7 1132.8 88.4 1133 91.5 1133.2 91.4 1133.4 96.4 1133.6 95.7 1133.8 96.7 1134 96.1 1134.2 91.5 1134.4 91.7 1134.6 95.4 1134.8 95.4 1135 97.3 1135.2 93 1135.4 88.9 1135.6 87.5 1135.8 87.2 1136 92.7 1136.2 100.2 1136.4 99.7 1136.6 100.3 1136.8 101.2 1137 99.8 1137.2 102.7 1137.4 103.5 1137.6 107.5 1137.8 112.5 1138 115.9 1138.2 118.1 1138.4 118.1 1138.6 120.5 1138.8 117.3 1139 114.4 1139.2 112.5 1139.4 111.5 1139.6 116.8 1139.8 117.5 1140 120.5 1140.2 121.4 1140.4 123.4 1140.6 122.8 1140.8 122.6 1141 118.3 1141.2 116.1 1141.4 110.7 1141.6 105.9 1141.8 103.4 1142 100 1142.2 100.4 1142.4 94.4 1142.6 90.6 1142.8 92.1 1143 86.1 1143.2 88 1143.4 86.3 1143.6 88 1143.8 89.6 1144 94.7 1144.2 90.7 1144.4 91.3 1144.6 91.8 1144.8 92.4 1145 97.3 1145.2 96.4 1145.4 97.6 1145.6 94.7 1145.8 93.2 1146 88 1146.2 90.1 1146.4 88.7 1146.6 92.7 1146.8 87 1147 90.5 1147.2 93.2 1147.4 93.8 1147.6 97.6 1147.8 101.9 1148 98.3 1148.2 95.5 1148.4 99 1148.6 104.6 1148.8 106.1 1149 101.3 1149.2 101 1149.4 100.1 1149.6 100.1 1149.8 108.5 1150 110.1 1150.2 113.7 1150.4 113.9 1150.6 114.9 1150.8 115.1 1151 117.4 1151.2 119.7 1151.4 115.2 1151.6 115.1 1151.8 102.6 1152 100.8 1152.2 97.8 1152.4 95.7 1152.6 98.2 1152.8 95.8 1153 96.9 1153.2 95.8 1153.4 101.2 1153.6 97.2 1153.8 93 1154 89.5 1154.2 85.9 1154.4 86 1154.6 84.4 1154.8 84.2 1155 83.7 1155.2 81.9 1155.4 84 1155.6 81.4 1155.8 84.9 1156 86.7 1156.2 87.1 1156.4 89.6 1156.6 93.6 1156.8 90.4 1157 91.9 1157.2 92.6 1157.4 88.4 1157.6 91 1157.8 91.9 1158 95.7 1158.2 97.2 1158.4 95.4 1158.6 95.2 1158.8 91.9 1159 88 1159.2 89.5 1159.4 91.9 1159.6 88.2 1159.8 91 1160 98.7 1160.2 99.9 1160.4 104.9 1160.6 109.7 1160.8 109.9 1161 111.7 1161.2 113.3 1161.4 112.5 1161.6 114.9 1161.8 110.1 1162 110 1162.2 107.4 1162.4 107.5 1162.6 105.1 1162.8 104.4 1163 96.1 1163.2 91 1163.4 87.5 1163.6 86.5 1163.8 90 1164 91.4 1164.2 98.9 1164.4 96.3 1164.6 96.4 1164.8 95.5 1165 94.2 1165.2 93.7 1165.4 90.1 1165.6 95.5 1165.8 94.3 1166 98.8 1166.2 95.1 1166.4 90.4 1166.6 84.7 1166.8 86.1 1167 81.9 1167.2 85 1167.4 87.7 1167.6 91.8 1167.8 93.2 1168 89.1 1168.2 91.1 1168.4 90.9 1168.6 90.3 1168.8 91.7 1169 94.2 1169.2 95.5 1169.4 97.5 1169.6 101.7 1169.8 95.6 1170 101.7 1170.2 95.9 1170.4 97.2 1170.6 92.1 1170.8 98.5 1171 99.4 1171.2 101.8 1171.4 100.3 1171.6 109.1 1171.8 108.2 1172 109.2 1172.2 110.3 1172.4 111 1172.6 112.9 1172.8 115.2 1173 124 1173.2 121.2 1173.4 122 1173.6 118.3 1173.8 110.2 1174 114 1174.2 111.6 1174.4 107.8 1174.6 105.5 1174.8 106.4 1175 101 1175.2 97 1175.4 90.1 1175.6 92.5 1175.8 91.2 1176 90.3 1176.2 91.4 1176.4 92.1 1176.6 96.8 1176.8 100.4 1177 100.7 1177.2 100 1177.4 97.2 1177.6 92.5 1177.8 91.9 1178 88.9 1178.2 88.5 1178.4 85.9 1178.6 88.7 1178.8 90.4 1179 93.9 1179.2 95.3 1179.4 98.2 1179.6 94.9 1179.8 95.9 1180 90 1180.2 89.9 1180.4 87.3 1180.6 85.1 1180.8 85 1181 89.9 1181.2 90 1181.4 96 1181.6 93.7 1181.8 91.1 1182 90.1 1182.2 97.2 1182.4 94.7 1182.6 98.2 1182.8 102.9 1183 105.6 1183.2 103.1 1183.4 105.1 1183.6 102.7 1183.8 107.5 1184 105.1 1184.2 110.7 1184.4 107.6 1184.6 107.5 1184.8 101 1185 104.1 1185.2 101.6 1185.4 98.5 1185.6 98.8 1185.8 97.9 1186 97.1 1186.2 100.3 1186.4 102 1186.6 101.6 1186.8 99 1187 93.3 1187.2 86.7 1187.4 88 1187.6 89.2 1187.8 84.1 1188 81.7 1188.2 78 1188.4 80.1 1188.6 81.7 1188.8 81.9 1189 86.5 1189.2 81 1189.4 85.9 1189.6 89.6 1189.8 87 1190 85.4 1190.2 91.9 1190.4 88.1 1190.6 91.4 1190.8 90.7 1191 91.2 1191.2 91.7 1191.4 87.5 1191.6 91.4 1191.8 92.3 1192 86.9 1192.2 88.9 1192.4 96.3 1192.6 97.6 1192.8 96.1 1193 101.2 1193.2 101.9 1193.4 101.4 1193.6 99.8 1193.8 94.6 1194 94.9 1194.2 94.3 1194.4 93.1 1194.6 90.6 1194.8 94.2 1195 90.3 1195.2 93 1195.4 93.8 1195.6 94.6 1195.8 92.1 1196 100.4 1196.2 102.5 1196.4 101.3 1196.6 106.6 1196.8 105.3 1197 106.6 1197.2 105.6 1197.4 98.1 1197.6 95.8 1197.8 93.6 1198 93.4 1198.2 93.3 1198.4 97 1198.6 97.6 1198.8 101.6 1199 97.9 1199.2 99.5 1199.4 97.4 1199.6 97.1 1199.8 100.6 1200 103.9 1200.2 105.7 1200.4 102.2 1200.6 103.2 1200.8 98.7 1201 93.6 1201.2 94.2 1201.4 91.5 1201.6 86.6 1201.8 86.3 1202 82.4 1202.2 82.2 1202.4 84.6 1202.6 80.2 1202.8 76.9 1203 79 1203.2 85.2 1203.4 84.1 1203.6 84.3 1203.8 81.7 1204 80.5 1204.2 79.9 1204.4 82.9 1204.6 84.1 1204.8 89.3 1205 84.1 1205.2 78.6 1205.4 78.1 1205.6 79.4 1205.8 77.7 1206 82 1206.2 84.9 1206.4 85.4 1206.6 80.5 1206.8 72 1207 74.4 1207.2 76.5 1207.4 77.3 1207.6 78.5 1207.8 78.9 1208 77.6 1208.2 73.1 1208.4 78 1208.6 79.9 1208.8 78.6 1209 89.9 1209.2 96.9 1209.4 98.2 1209.6 103.3 1209.8 105.5 1210 112.5 1210.2 117.5 1210.4 124.3 1210.6 128.3 1210.8 127.2 1211 124.4 1211.2 123.6 1211.4 114 1211.6 106.6 1211.8 101 1212 95.8 1212.2 98.5 1212.4 93.2 1212.6 90.4 1212.8 98.5 1213 102 1213.2 101.6 1213.4 97 1213.6 101.3 1213.8 102.3 1214 97 1214.2 93.6 1214.4 87 1214.6 86.9 1214.8 87.7 1215 92.2 1215.2 89.9 1215.4 89.2 1215.6 92.6 1215.8 92.5 1216 94 1216.2 89.4 1216.4 90.2 1216.6 86.9 1216.8 78.3 1217 73 1217.2 71.3 1217.4 69.1 1217.6 71.4 1217.8 70.6 1218 75.4 1218.2 80.2 1218.4 76.9 1218.6 71.7 1218.8 70.7 1219 74.4 1219.2 78.2 1219.4 88.7 1219.6 95 1219.8 101.9 1220 97.8 1220.2 97.7 1220.4 101.9 1220.6 105.5 1220.8 106 1221 100.8 1221.2 102.2 1221.4 104.9 1221.6 108.4 1221.8 110.4 1222 106.7 1222.2 106.9 1222.4 102.4 1222.6 95.9 1222.8 93.4 1223 88.1 1223.2 89.2 1223.4 83 1223.6 82.1 1223.8 79.1 1224 77.7 1224.2 77.8 1224.4 83.8 1224.6 83.8 1224.8 81.9 1225 81.4 1225.2 77.1 1225.4 77.6 1225.6 83.5 1225.8 79.9 1226 79.3 1226.2 73.7 1226.4 70.2 1226.6 68.2 1226.8 76.4 1227 72.9 1227.2 71.6 1227.4 75.1 1227.6 77.2 1227.8 69.1 1228 69.3 1228.2 76.7 1228.4 79.7 1228.6 84.2 1228.8 91 1229 91.8 1229.2 94.4 1229.4 92.6 1229.6 91.6 1229.8 96 1230 99.5 1230.2 100.1 1230.4 96.8 1230.6 97.2 1230.8 90.1 1231 92 1231.2 96 1231.4 92.9 1231.6 94 1231.8 97.1 1232 98 1232.2 97.8 1232.4 107.9 1232.6 104.6 1232.8 105.2 1233 109.1 1233.2 110.1 1233.4 105.1 1233.6 105.6 1233.8 109.9 1234 109.6 1234.2 107.4 1234.4 104.9 1234.6 107.2 1234.8 106.9 1235 106.7 1235.2 100.3 1235.4 99.1 1235.6 96 1235.8 92.2 1236 91.9 1236.2 90.9 1236.4 94 1236.6 93.4 1236.8 93.1 1237 91.6 1237.2 82.4 1237.4 82.7 1237.6 80.3 1237.8 79.2 1238 76.6 1238.2 74.7 1238.4 69.4 1238.6 71.9 1238.8 67.5 1239 70.4 1239.2 74.6 1239.4 76.1 1239.6 78.4 1239.8 72.1 1240 76.4 1240.2 71.9 1240.4 74.3 1240.6 74.8 1240.8 77.5 1241 79.8 1241.2 81.5 1241.4 80 1241.6 89.6 1241.8 92.3 1242 89.7 1242.2 90.9 1242.4 89.5 1242.6 88.6 1242.8 91.4 1243 88.5 1243.2 90.9 1243.4 95.9 1243.6 97.9 1243.8 99.4 1244 101.9 1244.2 99.5 1244.4 101.4 1244.6 99.4 1244.8 100.7 1245 99.9 1245.2 103.8 1245.4 109.9 1245.6 100.3 1245.8 104.5 1246 97.2 1246.2 96.7 1246.4 93.5 1246.6 92.9 1246.8 89.3 1247 91.6 1247.2 80.6 1247.4 75.7 1247.6 77.8 1247.8 80 1248 86.9 1248.2 92.1 1248.4 92.6 1248.6 89.2 1248.8 86.8 1249 84.6 1249.2 87.3 1249.4 91.7 1249.6 92.3 1249.8 86.6 1250 85.8 1250.2 85.3 1250.4 85.1 1250.6 85.3 1250.8 85.4 1251 82.7 1251.2 85.3 1251.4 82 1251.6 84 1251.8 84.7 1252 90.2 1252.2 88.7 1252.4 90.2 1252.6 85.7 1252.8 80.3 1253 79.2 1253.2 81.5 1253.4 86.1 1253.6 87.7 1253.8 96.4 1254 97.2 1254.2 102.2 1254.4 102.7 1254.6 103.9 1254.8 103.8 1255 96.3 1255.2 95.3 1255.4 97.7 1255.6 98.2 1255.8 101 1256 98.3 1256.2 96.7 1256.4 91.2 1256.6 93.2 1256.8 91.4 1257 93.6 1257.2 94.4 1257.4 92.2 1257.6 86.7 1257.8 91.2 1258 86.2 1258.2 91.9 1258.4 95.6 1258.6 87.1 1258.8 83.4 1259 82.8 1259.2 81.5 1259.4 83.5 1259.6 87.1 1259.8 85.7 1260 83 1260.2 85.2 1260.4 89.3 1260.6 94.9 1260.8 92.7 1261 94.4 1261.2 86.7 1261.4 88.4 1261.6 87.2 1261.8 84.4 1262 88.3 1262.2 84.6 1262.4 83.9 1262.6 82.1 1262.8 83.1 1263 91.8 1263.2 96.3 1263.4 94.4 1263.6 99.9 1263.8 96.8 1264 93.1 1264.2 92.9 1264.4 91.7 1264.6 93.5 1264.8 94.3 1265 86.1 1265.2 88.4 1265.4 85.5 1265.6 86 1265.8 91.5 1266 90.3 1266.2 91.3 1266.4 91.3 1266.6 86.6 1266.8 91.3 1267 90.2 1267.2 92.8 1267.4 97.5 1267.6 97.6 1267.8 93 1268 85.3 1268.2 85.4 1268.4 84.9 1268.6 84.5 1268.8 82 1269 88.3 1269.2 89.4 1269.4 95 1269.6 92.6 1269.8 95.2 1270 93.4 1270.2 90.7 1270.4 85.7 1270.6 82.1 1270.8 78.5 1271 85 1271.2 89.6 1271.4 85.4 1271.6 86.1 1271.8 84.9 1272 82.8 1272.2 80.2 1272.4 84.8 1272.6 85.6 1272.8 82.8 1273 83.7 1273.2 85.7 1273.4 86.3 1273.6 85.1 1273.8 94.4 1274 85.6 1274.2 81.9 1274.4 77.9 1274.6 78.8 1274.8 83.9 1275 81.7 1275.2 85.8 1275.4 93 1275.6 95.4 1275.8 98.6 1276 99.8 1276.2 88.6 1276.4 86.5 1276.6 88.7 1276.8 89.6 1277 87.5 1277.2 91.8 1277.4 90.2 1277.6 90.1 1277.8 85.5 1278 83.5 1278.2 79 1278.4 73.9 1278.6 70.5 1278.8 64.5 1279 68.4 1279.2 61 1279.4 71" fill="none" stroke="#ff0000" stroke-width="1" stroke-linejoin="round" stroke-linecap="round"/>
<line x1="738" y1="92" x2="738" y2="130.6" stroke="#000" stroke-width="3.4"/>
<line x1="694.1" y1="128.45" x2="739.7" y2="128.45" stroke="#000" stroke-width="4.3"/>
<text x="744.06" y="122.8" font-size="27.8" font-weight="normal" font-style="normal" fill="#000" stroke="#000" stroke-width="0.45" transform="translate(0 -13.51) scale(1 1.11)">400µV</text>
<text x="695.91" y="160.6" font-size="27.9" font-weight="normal" font-style="normal" fill="#000" stroke="#000" stroke-width="0.45" transform="translate(0 -17.67) scale(1 1.11)">0.5s</text>
<line x1="466.9" y1="141.3" x2="558.8" y2="141.3" stroke="#000" stroke-width="4"/>
<text x="499.72" y="172" font-size="27.3" font-weight="normal" font-style="normal" fill="#000" stroke="#000" stroke-width="0.45" transform="translate(0 -18.92) scale(1 1.11)">1s</text>
<line x1="1301.2" y1="84.2" x2="1301.2" y2="123.1" stroke="#000" stroke-width="3.4"/>
<line x1="1257.1" y1="120.9" x2="1302.9" y2="120.9" stroke="#000" stroke-width="4.3"/>
<text x="1307.16" y="115.2" font-size="27.8" font-weight="normal" font-style="normal" fill="#000" stroke="#000" stroke-width="0.45" transform="translate(0 -12.67) scale(1 1.11)">400µV</text>
<text x="1259.01" y="152.5" font-size="27.9" font-weight="normal" font-style="normal" fill="#000" stroke="#000" stroke-width="0.45" transform="translate(0 -16.78) scale(1 1.11)">0.5s</text>
<line x1="1016" y1="140.5" x2="1107.7" y2="140.5" stroke="#000" stroke-width="4"/>
<text x="1046.92" y="170.7" font-size="27.3" font-weight="normal" font-style="normal" fill="#000" stroke="#000" stroke-width="0.45" transform="translate(0 -18.78) scale(1 1.11)">1s</text>
<line x1="457.4" y1="142.7" x2="297" y2="243" stroke="#000" stroke-width="2.3" stroke-dasharray="0.01 5.1" stroke-linecap="round"/>
<line x1="576" y1="146.8" x2="735.7" y2="252" stroke="#000" stroke-width="2.3" stroke-dasharray="0.01 5.1" stroke-linecap="round"/>
<line x1="1009" y1="146.6" x2="848" y2="252" stroke="#000" stroke-width="2.3" stroke-dasharray="0.01 5.1" stroke-linecap="round"/>
<line x1="1111.7" y1="146.6" x2="1272" y2="252" stroke="#000" stroke-width="2.3" stroke-dasharray="0.01 5.1" stroke-linecap="round"/>
<text x="432.68" y="31.5" font-size="31.2" font-weight="normal" font-style="italic" fill="#000" stroke="#000" stroke-width="0.45" transform="translate(0 -3.47) scale(1 1.11)">Cacna1c</text>
<text x="555.66" y="18.5" font-size="20.6" font-weight="normal" font-style="normal" fill="#000" stroke="#000" stroke-width="0.45" transform="translate(0 -2.04) scale(1 1.11)">+/+</text>
<text x="985.48" y="31.6" font-size="31.2" font-weight="normal" font-style="italic" fill="#ff0000" stroke="#ff0000" stroke-width="0.45" transform="translate(0 -3.48) scale(1 1.11)">Cacna1c</text>
<text x="1108.44" y="18.6" font-size="21" font-weight="normal" font-style="normal" fill="#ff0000" stroke="#ff0000" stroke-width="0.45" transform="translate(0 -2.05) scale(1 1.11)">+/-</text>
<text x="104.43" y="308.7" font-size="31.3" font-weight="normal" font-style="normal" fill="#000" stroke="#000" stroke-width="0.45" transform="translate(0 -33.96) scale(1 1.11)">Raw LFP</text>
<text x="121.19" y="444.6" font-size="31.7" font-weight="normal" font-style="normal" fill="#000" stroke="#000" stroke-width="0.45" transform="translate(0 -48.91) scale(1 1.11)">6-10Hz</text>
<text x="109.12" y="560.1" font-size="31.4" font-weight="normal" font-style="normal" fill="#000" stroke="#000" stroke-width="0.45" transform="translate(0 -61.61) scale(1 1.11)">25-55Hz</text>
<text x="100.41" y="683.2" font-size="31.4" font-weight="normal" font-style="normal" fill="#000" stroke="#000" stroke-width="0.45" transform="translate(0 -75.15) scale(1 1.11)">60-140Hz</text>
<polyline points="278.6 289.8 279.1 284.8 279.6 274.6 280.1 266.5 280.6 259.2 281.1 251.3 281.6 248.5 282.1 253.8 282.6 256.6 283.1 261.7 283.6 271.6 284.1 276.6 284.6 284.5 285.1 291.9 285.6 299.3 286.1 311.4 286.6 309 287.1 303 287.6 299.8 288.1 302.2 288.6 303.2 289.1 308.2 289.6 308 290.1 308.7 290.6 317.5 291.1 325.3 291.6 330 292.1 322 292.6 317 293.1 311.1 293.6 309.7 294.1 309.7 294.6 309.3 295.1 308.7 295.6 306.4 296.1 304.6 296.6 303.9 297.1 306.6 297.6 308 298.1 309.6 298.6 308.8 299.1 307.4 299.6 308.6 300.1 310.6 300.6 316.5 301.1 318.7 301.6 318.5 302.1 320 302.6 323.8 303.1 323.1 303.6 318.4 304.1 316.1 304.6 314.3 305.1 312.9 305.6 313 306.1 315.7 306.6 313.6 307.1 315.4 307.6 315.9 308.1 315 308.6 317.9 309.1 320.1 309.6 318.3 310.1 314.4 310.6 311.1 311.1 308.9 311.6 305.4 312.1 304.1 312.6 302.9 313.1 304.3 313.6 312.3 314.1 318.4 314.6 320.8 315.1 326.4 315.6 328.7 316.1 323.3 316.6 322 317.1 325.2 317.6 322.4 318.1 323.3 318.6 322.1 319.1 318.5 319.6 313.7 320.1 308 320.6 301.9 321.1 296.2 321.6 292.3 322.1 295 322.6 296.8 323.1 294.2 323.6 294 324.1 298.3 324.6 301.5 325.1 297.1 325.6 292.9 326.1 292.2 326.6 287.3 327.1 282.5 327.6 286.4 328.1 286.6 328.6 288.6 329.1 289.8 329.6 286.9 330.1 285.8 330.6 283.5 331.1 280.5 331.6 276.2 332.1 273 332.6 267.2 333.1 269.6 333.6 275.9 334.1 280.5 334.6 281.3 335.1 284.5 335.6 289.2 336.1 293.7 336.6 300 337.1 301.8 337.6 297.8 338.1 293.6 338.6 290.3 339.1 286.9 339.6 284.4 340.1 282 340.6 273.8 341.1 270.3 341.6 267.1 342.1 264 342.6 259.7 343.1 257 343.6 264.3 344.1 267.1 344.6 274.1 345.1 281.7 345.6 287.1 346.1 278.2 346.6 272.1 347.1 269.5 347.6 266.2 348.1 263.1 348.6 257.2 349.1 259 349.6 267.2 350.1 277.7 350.6 286.5 351.1 294.4 351.6 306.7 352.1 318.3 352.6 319.4 353.1 314.5 353.6 305.1 354.1 289.5 354.6 283.9 355.1 278.2 355.6 267.7 356.1 259.7 356.6 262.6 357.1 269.3 357.6 277.2 358.1 282.8 358.6 287.2 359.1 292.4 359.6 294.7 360.1 296.3 360.6 303.3 361.1 304.4 361.6 300.6 362.1 305.6 362.6 311.3 363.1 309.4 363.6 308.6 364.1 312.3 364.6 315.4 365.1 314 365.6 312.6 366.1 311.2 366.6 312.9 367.1 315.2 367.6 319.9 368.1 320.6 368.6 316.7 369.1 317.5 369.6 320.8 370.1 319.5 370.6 317.9 371.1 319.6 371.6 316.6 372.1 317 372.6 313.7 373.1 308 373.6 305.7 374.1 302.3 374.6 304.3 375.1 303.6 375.6 300.6 376.1 300.1 376.6 298.6 377.1 297.3 377.6 298.3 378.1 296.1 378.6 294.5 379.1 296.9 379.6 298.2 380.1 296.1 380.6 291.9 381.1 289 381.6 285.8 382.1 285.1 382.6 292.8 383.1 295.4 383.6 296.4 384.1 304.4 384.6 316.2 385.1 314.5 385.6 307.2 386.1 304.3 386.6 302.9 387.1 299.6 387.6 292 388.1 288.3 388.6 288.1 389.1 287.9 389.6 289.4 390.1 285.9 390.6 285.3 391.1 286 391.6 284.3 392.1 289.4 392.6 294.2 393.1 291.4 393.6 288 394.1 288.9 394.6 292.3 395.1 299.7 395.6 302.9 396.1 299.6 396.6 300.3 397.1 302.2 397.6 304.7 398.1 310.1 398.6 310.6 399.1 312.2 399.6 309.8 400.1 301.5 400.6 290.8 401.1 284.6 401.6 277.5 402.1 270.3 402.6 276.5 403.1 278.5 403.6 275.7 404.1 278.8 404.6 282.2 405.1 284.5 405.6 279.1 406.1 273.4 406.6 267.8 407.1 261.1 407.6 260.1 408.1 266.7 408.6 274.9 409.1 280.8 409.6 288 410.1 296.9 410.6 297.3 411.1 293.3 411.6 286.7 412.1 282.2 412.6 282.1 413.1 281.6 413.6 281.6 414.1 279.1 414.6 276.6 415.1 276.3 415.6 275.9 416.1 277 416.6 274 417.1 273.8 417.6 280.3 418.1 283.5 418.6 285.3 419.1 286.9 419.6 293.9 420.1 299.6 420.6 299.6 421.1 306.6 421.6 311.6 422.1 305.5 422.6 299.4 423.1 293.5 423.6 285.7 424.1 280.1 424.6 283.2 425.1 286.6 425.6 294.7 426.1 299 426.6 298.9 427.1 296 427.6 291.8 428.1 290.3 428.6 285.3 429.1 285.5 429.6 288.2 430.1 289.1 430.6 292 431.1 296.5 431.6 297.2 432.1 300.6 432.6 302.3 433.1 302.1 433.6 306.4 434.1 307.4 434.6 306.1 435.1 310.1 435.6 317.4 436.1 318.7 436.6 317.7 437.1 316.8 437.6 313.6 438.1 311 438.6 306.6 439.1 302.7 439.6 297.9 440.1 296.5 440.6 298.3 441.1 298.8 441.6 295.3 442.1 294.9 442.6 295.6 443.1 295.2 443.6 302.1 444.1 307.9 444.6 308.6 445.1 306.3 445.6 306.1 446.1 310.6 446.6 312.7 447.1 311.5 447.6 309.5 448.1 314.1 448.6 316.4 449.1 310.3 449.6 307.4 450.1 308 450.6 304.6 451.1 300.1 451.6 298.4 452.1 295.3 452.6 292.1 453.1 291.2 453.6 288.4 454.1 285.8 454.6 292 455.1 291.8 455.6 283.6 456.1 284.8 456.6 288.9 457.1 284.2 457.6 280.5 458.1 281.8 458.6 281.4 459.1 280.4 459.6 280.2 460.1 282.1 460.6 285.3 461.1 286 461.6 285.4 462.1 286 462.6 284 463.1 280.4 463.6 275.3 464.1 271.6 464.6 270.5 465.1 267.9 465.6 265.1 466.1 265.4 466.6 262 467.1 260.8 467.6 261 468.1 263.6 468.6 268.6 469.1 268.5 469.6 267.9 470.1 268.2 470.6 267 471.1 265.6 471.6 272.6 472.1 278.6 472.6 281.9 473.1 287.8 473.6 289.7 474.1 293.3 474.6 300.9 475.1 296.6 475.6 290.9 476.1 288.9 476.6 279.3 477.1 270.9 477.6 267.2 478.1 263 478.6 267.2 479.1 269 479.6 272.3 480.1 277.6 480.6 278.2 481.1 279.2 481.6 282.4 482.1 283 482.6 281.8 483.1 282.7 483.6 285.5 484.1 284 484.6 278.7 485.1 276.4 485.6 271.8 486.1 272.4 486.6 274.9 487.1 278.7 487.6 284.5 488.1 289.4 488.6 289.6 489.1 290.5 489.6 292.3 490.1 293.9 490.6 297.8 491.1 300.9 491.6 303.9 492.1 305 492.6 308 493.1 307.5 493.6 300.6 494.1 298.1 494.6 292 495.1 285.4 495.6 286 496.1 286.4 496.6 290.4 497.1 291.1 497.6 293.3 498.1 298.7 498.6 305.1 499.1 307.4 499.6 310.3 500.1 313.8 500.6 315.3 501.1 318.6 501.6 317.6 502.1 318.1 502.6 317.1 503.1 314.1 503.6 311.1 504.1 306.9 504.6 305.5 505.1 306.4 505.6 308.9 506.1 303.9 506.6 301.2 507.1 302.3 507.6 299.7 508.1 294.2 508.6 288.4 509.1 287.1 509.6 282.9 510.1 280.2 510.6 278.6 511.1 275 511.6 266.8 512.1 266.3 512.6 272.6 513.1 276.8 513.6 282.1 514.1 291.3 514.6 297.9 515.1 300.7 515.6 303.1 516.1 302.8 516.6 297.4 517.1 294.9 517.6 296 518.1 293.5 518.6 290.9 519.1 288.9 519.6 285.2 520.1 282.5 520.6 281.8 521.1 283.6 521.6 286.8 522.1 289.5 522.6 290.8 523.1 294.3 523.6 297.5 524.1 293.8 524.6 289.8 525.1 293.7 525.6 298.9 526.1 299.7 526.6 297 527.1 292.5 527.6 296.6 528.1 300.1 528.6 298.3 529.1 299 529.6 297.9 530.1 299.9 530.6 302.5 531.1 297 531.6 288.1 532.1 286.7 532.6 289.5 533.1 289.3 533.6 287.1 534.1 286.2 534.6 286.6 535.1 286.8 535.6 286.3 536.1 288.7 536.6 295 537.1 298.6 537.6 302.9 538.1 307.9 538.6 306.2 539.1 301.2 539.6 290 540.1 287.8 540.6 286.1 541.1 278.8 541.6 277 542.1 272.4 542.6 264.6 543.1 262.5 543.6 268.1 544.1 271.1 544.6 277.1 545.1 281.3 545.6 282.1 546.1 285.9 546.6 294.3 547.1 301.3 547.6 294.8 548.1 287.9 548.6 282.7 549.1 285.9 549.6 291.6 550.1 292.2 550.6 292.1 551.1 295.6 551.6 298.9 552.1 297 552.6 297.2 553.1 299.5 553.6 296.2 554.1 293.2 554.6 292.8 555.1 290.1 555.6 287.8 556.1 286.1 556.6 291 557.1 293.8 557.6 294.8 558.1 295.8 558.6 297.7 559.1 300.4 559.6 303.5 560.1 309.9 560.6 316.3 561.1 317.4 561.6 319.5 562.1 323.1 562.6 324.1 563.1 329.9 563.6 336.6 564.1 342.3 564.6 345.9 565.1 345.5 565.6 343.7 566.1 340.8 566.6 333.8 567.1 329.6 567.6 325.7 568.1 322.4 568.6 322.7 569.1 319.2 569.6 317.5 570.1 315.8 570.6 313.3 571.1 310.2 571.6 309.5 572.1 310.7 572.6 306.7 573.1 305.8 573.6 303.7 574.1 306.5 574.6 311.9 575.1 311.9 575.6 312.4 576.1 314.8 576.6 315.1 577.1 317.7 577.6 322.6 578.1 317.7 578.6 311.4 579.1 309.8 579.6 306.9 580.1 303.7 580.6 300.7 581.1 297.9 581.6 297.6 582.1 297.4 582.6 294.7 583.1 289.4 583.6 287.4 584.1 286.7 584.6 289 585.1 292.1 585.6 292.3 586.1 289.9 586.6 287.8 587.1 289.8 587.6 289.9 588.1 284.2 588.6 287.3 589.1 290.7 589.6 291.1 590.1 296.5 590.6 300.3 591.1 302.8 591.6 305.4 592.1 310.4 592.6 315 593.1 311.3 593.6 305.6 594.1 301.7 594.6 293.5 595.1 287.4 595.6 279.8 596.1 277.5 596.6 275 597.1 272.5 597.6 271.3 598.1 273.5 598.6 270.9 599.1 266.9 599.6 268.5 600.1 267 600.6 264.6 601.1 265 601.6 268.6 602.1 269.7 602.6 269.6 603.1 272.6 603.6 275.6 604.1 275.3 604.6 280.9 605.1 287.2 605.6 289.6 606.1 295.1 606.6 300.6 607.1 303.5 607.6 305.3 608.1 309.8 608.6 314.9 609.1 319.4 609.6 316.5 610.1 310.2 610.6 301 611.1 294.3 611.6 288.1 612.1 281.7 612.6 275 613.1 270.8 613.6 268 614.1 269.6 614.6 269.1 615.1 271.8 615.6 277.9 616.1 278.8 616.6 280.3 617.1 285.5 617.6 287.9 618.1 289.6 618.6 294.1 619.1 298.8 619.6 296.1 620.1 291.7 620.6 289.9 621.1 288.8 621.6 285.2 622.1 283.2 622.6 282.8 623.1 279 623.6 276.8 624.1 278.7 624.6 278.2 625.1 279.6 625.6 278.9 626.1 276.9 626.6 275.9 627.1 273.4 627.6 271.4 628.1 275.8 628.6 280.3 629.1 278.2 629.6 277.9 630.1 279.3 630.6 283 631.1 287.2 631.6 290.7 632.1 295.3 632.6 297.5 633.1 299.8 633.6 303.7 634.1 306 634.6 308.1 635.1 309.5 635.6 307 636.1 306.5 636.6 303.2 637.1 295.9 637.6 292.8 638.1 290.3 638.6 288 639.1 285.2 639.6 284.3 640.1 286.1 640.6 281.2 641.1 273.6 641.6 269 642.1 264.9 642.6 263.2 643.1 267.2 643.6 273.4 644.1 276.2 644.6 273.7 645.1 278.7 645.6 281.6 646.1 283.1 646.6 291.3 647.1 293.5 647.6 293.8 648.1 290.9 648.6 291.6 649.1 293.2 649.6 291.9 650.1 290.6 650.6 288.6 651.1 289.7 651.6 295 652.1 295.4 652.6 289.7 653.1 286.9 653.6 291.5 654.1 296.3 654.6 291.3 655.1 283.6 655.6 279.7 656.1 280.3 656.6 283.1 657.1 281.8 657.6 280.2 658.1 278.4 658.6 273.9 659.1 280.1 659.6 283.2 660.1 282.5 660.6 287.6 661.1 295.5 661.6 299.7 662.1 303.6 662.6 304.4 663.1 305.7 663.6 307.8 664.1 308.2 664.6 306.4 665.1 301.3 665.6 298.6 666.1 300.4 666.6 295.8 667.1 289.9 667.6 289.1 668.1 292.7 668.6 292.5 669.1 285.3 669.6 281.5 670.1 284.5 670.6 289.8 671.1 295.9 671.6 299.9 672.1 303.5 672.6 308.4 673.1 307.6 673.6 301.2 674.1 295 674.6 288.3 675.1 281.1 675.6 275 676.1 272.3 676.6 266.5 677.1 269.6 677.6 275.7 678.1 282.1 678.6 287 679.1 293 679.6 302.4 680.1 311 680.6 317 681.1 325.2 681.6 319.2 682.1 312 682.6 306.1 683.1 299.3 683.6 293 684.1 287.4 684.6 281.4 685.1 282.9 685.6 288.4 686.1 294.7 686.6 295.5 687.1 297.8 687.6 302.9 688.1 305.4 688.6 310 689.1 318.8 689.6 325 690.1 327.7 690.6 324.5 691.1 323.2 691.6 322.8 692.1 320.6 692.6 318.3 693.1 315.4 693.6 307.1 694.1 303.3 694.6 304.8 695.1 308.5 695.6 308.5 696.1 312 696.6 316.8 697.1 317.8 697.6 322.3 698.1 330.3 698.6 329.5 699.1 325.9 699.6 321.3 700.1 314.3 700.6 311.7 701.1 312.7 701.6 314.5 702.1 319 702.6 325.5 703.1 329.1 703.6 330.4 704.1 332.1 704.6 337.8 705.1 340.5 705.6 339.8 706.1 341 706.6 336.1 707.1 333.4 707.6 335.4 708.1 331.1 708.6 330.1 709.1 331.6 709.6 328.3 710.1 330.6 710.6 333.3 711.1 331.3 711.6 331.1 712.1 329.1 712.6 326.4 713.1 323.4 713.6 323.4 714.1 323.3 714.6 319.6 715.1 320.9 715.6 325.3 716.1 325.3 716.6 326.4 717.1 328.2 717.6 330.1 718.1 332.8 718.6 331.6 719.1 332 719.6 331.6 720.1 333.5 720.6 337.2 721.1 338.6 721.6 341.6 722.1 344.6 722.6 348.2 723.1 350 723.6 350 724.1 351.4 724.6 350.7 725.1 343.2 725.6 334 726.1 330.1 726.6 327.7 727.1 322.2 727.6 317.1 728.1 317.8 728.6 317.4 729.1 311.4 729.6 307.4 730.1 310.1 730.6 310.9 731.1 308.4 731.6 306.4 732.1 306.7 732.6 308.9 733.1 310 733.6 305.5 734.1 304.8 734.6 306.8 735.1 308.4 735.6 309.8 736.1 312.9 736.6 323.4 737.1 325.5 737.6 324.6 738.1 330.2 738.6 331.9" fill="none" stroke="#000" stroke-width="1.5" stroke-linejoin="round" stroke-linecap="round"/>
<polyline points="844 295.1 844.5 290.5 845 287.4 845.5 285.1 846 282.9 846.5 285.1 847 287.5 847.5 287.5 848 287.6 848.5 288.6 849 292.9 849.5 293.3 850 293.5 850.5 292.8 851 290 851.5 287.7 852 280.7 852.5 278.7 853 282.2 853.5 282.7 854 277.3 854.5 279.2 855 285.3 855.5 290.5 856 287.2 856.5 279.6 857 275.5 857.5 270.2 858 265.9 858.5 260.7 859 255.7 859.5 257.6 860 268.9 860.5 274.4 861 274.4 861.5 280.4 862 290.2 862.5 295.8 863 296.9 863.5 297.5 864 297.3 864.5 295.7 865 299.8 865.5 301.5 866 295.9 866.5 293.6 867 290.8 867.5 286.3 868 287.9 868.5 292.2 869 294.2 869.5 291.4 870 292.3 870.5 297.7 871 300.6 871.5 300.7 872 303.8 872.5 302.3 873 299.2 873.5 304.3 874 306.4 874.5 303.5 875 305.7 875.5 312.4 876 310.1 876.5 306 877 306.9 877.5 306.4 878 309.1 878.5 312.5 879 310.1 879.5 308.9 880 306.6 880.5 301 881 301.1 881.5 301.2 882 295.4 882.5 296.5 883 305.2 883.5 308.1 884 310 884.5 306.7 885 305 885.5 306.9 886 306 886.5 306.9 887 310.8 887.5 311.4 888 306.5 888.5 304.4 889 300.8 889.5 295.2 890 297.2 890.5 297.2 891 292.5 891.5 293.6 892 291.7 892.5 284.3 893 276.2 893.5 273.9 894 286.2 894.5 298.5 895 309.9 895.5 313.3 896 309.1 896.5 304.1 897 302.2 897.5 299.5 898 293.7 898.5 292.1 899 291.8 899.5 286.8 900 281.4 900.5 277.1 901 276.1 901.5 276.3 902 276.8 902.5 274 903 272.8 903.5 275.8 904 285.9 904.5 290.1 905 297.4 905.5 296.2 906 281.4 906.5 274.9 907 269.7 907.5 273.9 908 276.2 908.5 273.6 909 274.3 909.5 277.8 910 280.9 910.5 282.1 911 282.5 911.5 288 912 293.3 912.5 287.6 913 284.8 913.5 287.7 914 292.5 914.5 295.5 915 290.7 915.5 292.7 916 297.9 916.5 301 917 301.9 917.5 301.3 918 300.8 918.5 302.8 919 302.4 919.5 296.4 920 292.8 920.5 289.9 921 289.8 921.5 288.9 922 284.7 922.5 281.1 923 278.7 923.5 275.9 924 277.3 924.5 283.7 925 284.9 925.5 286.3 926 284.9 926.5 284.2 927 288.6 927.5 287 928 284.8 928.5 286.7 929 289.8 929.5 293 930 296.8 930.5 299 931 301.2 931.5 304.3 932 307.2 932.5 309.8 933 315 933.5 319.7 934 317.1 934.5 316.1 935 318.7 935.5 321.3 936 323.8 936.5 324.5 937 322 937.5 318.1 938 318.2 938.5 319.3 939 316.4 939.5 313.2 940 303.2 940.5 293.2 941 286.5 941.5 285.2 942 279.8 942.5 274.8 943 274.8 943.5 271.9 944 271.3 944.5 276.9 945 278.8 945.5 278.1 946 278.2 946.5 283.3 947 292.9 947.5 301.1 948 309.2 948.5 312.3 949 310 949.5 310.2 950 308.3 950.5 305.8 951 304.2 951.5 300.1 952 299.9 952.5 295.6 953 283.2 953.5 276.3 954 272.2 954.5 267.3 955 266.4 955.5 267.8 956 276.2 956.5 283 957 284.8 957.5 289.1 958 294.9 958.5 295.5 959 297.4 959.5 301.8 960 305.2 960.5 304.6 961 299.1 961.5 300.5 962 303 962.5 304.9 963 299.6 963.5 296.8 964 295.5 964.5 283 965 279.7 965.5 279.7 966 277.5 966.5 277.2 967 277.7 967.5 277.9 968 276.7 968.5 274.2 969 278.4 969.5 282.4 970 282 970.5 282.2 971 286.3 971.5 288.5 972 287.6 972.5 285.6 973 280.7 973.5 281.4 974 285.7 974.5 284.5 975 281 975.5 282.4 976 279.6 976.5 275.2 977 276.3 977.5 277.6 978 279.6 978.5 284.9 979 289.7 979.5 291 980 297.2 980.5 300.9 981 299.9 981.5 293.4 982 291.1 982.5 291.3 983 288.4 983.5 284.4 984 281.6 984.5 281.4 985 282.4 985.5 286.8 986 287.5 986.5 285 987 287.3 987.5 288.7 988 288.7 988.5 289.7 989 288.5 989.5 288 990 288.9 990.5 289.1 991 290.2 991.5 290.2 992 291.6 992.5 289.6 993 286.9 993.5 287.8 994 289.8 994.5 294.6 995 294 995.5 293.1 996 294.3 996.5 294.3 997 297.6 997.5 300.4 998 300.9 998.5 301.8 999 304.5 999.5 306 1000 310.7 1000.5 310.4 1001 306.7 1001.5 310.3 1002 309 1002.5 309.9 1003 311.7 1003.5 311.8 1004 316.5 1004.5 319.1 1005 315.8 1005.5 312.5 1006 314.5 1006.5 312 1007 310.5 1007.5 310.2 1008 304.5 1008.5 301.8 1009 303.6 1009.5 295.2 1010 287.6 1010.5 288.1 1011 283.6 1011.5 281.1 1012 277.7 1012.5 276.5 1013 282.2 1013.5 286.4 1014 283.7 1014.5 282 1015 284.9 1015.5 285 1016 286.8 1016.5 291.1 1017 292.7 1017.5 294.3 1018 295.1 1018.5 292 1019 287.7 1019.5 282.6 1020 284.1 1020.5 288.9 1021 285.3 1021.5 280.4 1022 279.1 1022.5 276.6 1023 280.9 1023.5 288.2 1024 289.9 1024.5 291.6 1025 292.5 1025.5 286.9 1026 282.3 1026.5 281.7 1027 282.3 1027.5 284.1 1028 280.6 1028.5 281.7 1029 281.7 1029.5 275.2 1030 276 1030.5 278 1031 277.8 1031.5 279.5 1032 284.4 1032.5 284.8 1033 287.9 1033.5 293.5 1034 296.4 1034.5 300.7 1035 306.6 1035.5 310.3 1036 308.6 1036.5 304.6 1037 303.4 1037.5 305.4 1038 304 1038.5 302.7 1039 296.6 1039.5 291.6 1040 285.3 1040.5 282 1041 284 1041.5 284.5 1042 285.6 1042.5 287.7 1043 285.1 1043.5 284.1 1044 289.7 1044.5 297.5 1045 296.8 1045.5 292.2 1046 291.8 1046.5 294 1047 298.9 1047.5 301.1 1048 304.9 1048.5 307.4 1049 306.3 1049.5 302.4 1050 305.6 1050.5 311 1051 308.4 1051.5 308.6 1052 312.8 1052.5 310.6 1053 306.5 1053.5 304.5 1054 308.4 1054.5 313.2 1055 310.5 1055.5 311.9 1056 316.3 1056.5 321.2 1057 317.8 1057.5 312.8 1058 309.4 1058.5 302.4 1059 302.1 1059.5 302.3 1060 299.3 1060.5 297.7 1061 297.2 1061.5 295.4 1062 294.7 1062.5 298.1 1063 300.3 1063.5 302.8 1064 303.3 1064.5 302.2 1065 301.4 1065.5 299 1066 295.8 1066.5 295.3 1067 294.9 1067.5 294.6 1068 292.2 1068.5 291.2 1069 287.4 1069.5 280.7 1070 278.9 1070.5 279.8 1071 276.6 1071.5 270.3 1072 265.4 1072.5 263.2 1073 266.4 1073.5 265.2 1074 264.7 1074.5 266.5 1075 265 1075.5 266.6 1076 272.1 1076.5 273.4 1077 274.6 1077.5 276.7 1078 275.7 1078.5 283 1079 284.8 1079.5 279.6 1080 280.9 1080.5 281.8 1081 281.8 1081.5 279.3 1082 275 1082.5 273.8 1083 273 1083.5 271.5 1084 269.4 1084.5 273.5 1085 279.4 1085.5 280.9 1086 284 1086.5 287.1 1087 283.7 1087.5 286.2 1088 291 1088.5 288.4 1089 288.1 1089.5 285.1 1090 282.4 1090.5 285.6 1091 289.9 1091.5 290.8 1092 291.4 1092.5 297.2 1093 303.2 1093.5 308.5 1094 311.5 1094.5 306.6 1095 301.4 1095.5 297.1 1096 295.6 1096.5 296.9 1097 290.3 1097.5 286.7 1098 294.7 1098.5 298.7 1099 298.9 1099.5 296 1100 298.1 1100.5 301.3 1101 304.1 1101.5 310.1 1102 311.9 1102.5 309.5 1103 311.6 1103.5 314.5 1104 315.2 1104.5 317.2 1105 318.6 1105.5 316.4 1106 310.5 1106.5 304.4 1107 297.7 1107.5 297.9 1108 293.5 1108.5 287.5 1109 289.9 1109.5 297.3 1110 305 1110.5 304.3 1111 303.7 1111.5 312.4 1112 318.3 1112.5 308.7 1113 299.5 1113.5 291.3 1114 291.2 1114.5 292.8 1115 287.4 1115.5 285.1 1116 287.8 1116.5 286.7 1117 285.7 1117.5 283.7 1118 282.1 1118.5 286.2 1119 287.3 1119.5 283.2 1120 279.9 1120.5 278.9 1121 279.4 1121.5 283.7 1122 287.5 1122.5 288.1 1123 290.7 1123.5 296.3 1124 297.6 1124.5 295.2 1125 288.1 1125.5 286.3 1126 288.8 1126.5 289.7 1127 286 1127.5 281.4 1128 282.9 1128.5 278.8 1129 275.5 1129.5 278.2 1130 271.8 1130.5 266.7 1131 269.1 1131.5 269.9 1132 271.1 1132.5 269.5 1133 265.3 1133.5 262.2 1134 260.3 1134.5 262.2 1135 268.7 1135.5 277.6 1136 281.2 1136.5 281.8 1137 290.7 1137.5 288.9 1138 284.6 1138.5 284.5 1139 278.1 1139.5 266.6 1140 262.1 1140.5 262.5 1141 266.2 1141.5 271.9 1142 272.1 1142.5 276.5 1143 282 1143.5 282.6 1144 285.6 1144.5 290.4 1145 294 1145.5 295 1146 292.2 1146.5 292.9 1147 299.5 1147.5 301 1148 298.5 1148.5 300.6 1149 299.3 1149.5 300.6 1150 302.7 1150.5 303.2 1151 310 1151.5 312.4 1152 311 1152.5 311.5 1153 310.3 1153.5 311.8 1154 313.5 1154.5 313.6 1155 314 1155.5 313 1156 314.5 1156.5 316.8 1157 317.8 1157.5 318.9 1158 314.4 1158.5 310 1159 316.7 1159.5 318.6 1160 315.9 1160.5 321 1161 325.2 1161.5 330 1162 332.4 1162.5 331.1 1163 333.5 1163.5 328.8 1164 319 1164.5 312.5 1165 299.8 1165.5 285 1166 275.6 1166.5 280.3 1167 285 1167.5 286 1168 286.4 1168.5 286.3 1169 286.8 1169.5 285.9 1170 286.4 1170.5 286.7 1171 285.2 1171.5 282.7 1172 281.4 1172.5 281.6 1173 275.9 1173.5 278.4 1174 282.1 1174.5 286.2 1175 293.1 1175.5 292.2 1176 288.7 1176.5 285.1 1177 280.7 1177.5 277.2 1178 276.6 1178.5 277.5 1179 275.6 1179.5 269.7 1180 271.9 1180.5 270.3 1181 267.8 1181.5 270.4 1182 272.7 1182.5 279 1183 285.8 1183.5 277.7 1184 266.8 1184.5 258.3 1185 252.9 1185.5 253.3 1186 256.5 1186.5 258.9 1187 262.5 1187.5 263.4 1188 264.6 1188.5 269.2 1189 273.8 1189.5 274.8 1190 280 1190.5 286 1191 281.5 1191.5 275.6 1192 273.3 1192.5 273.1 1193 272.7 1193.5 278.6 1194 287.5 1194.5 296.1 1195 296.8 1195.5 296.2 1196 294.6 1196.5 290.5 1197 289.8 1197.5 290.7 1198 286.6 1198.5 287.3 1199 288.1 1199.5 288.1 1200 291.3 1200.5 290.4 1201 294.1 1201.5 295.3 1202 293.8 1202.5 298.4 1203 302.2 1203.5 302.4 1204 302.7 1204.5 305.8 1205 308.4 1205.5 307.2 1206 309.4 1206.5 313.5 1207 317.3 1207.5 320.6 1208 321.1 1208.5 321.9 1209 325.6 1209.5 331.8 1210 337.2 1210.5 337.7 1211 337.4 1211.5 330.2 1212 320.9 1212.5 314.6 1213 312.6 1213.5 310.9 1214 305.6 1214.5 298.4 1215 300.4 1215.5 306.6 1216 312 1216.5 311.2 1217 312.1 1217.5 310.2 1218 302.5 1218.5 298.9 1219 297 1219.5 289.9 1220 289.6 1220.5 293.9 1221 291.4 1221.5 287.9 1222 285.8 1222.5 286.1 1223 282 1223.5 281.9 1224 283.5 1224.5 282.5 1225 281.9 1225.5 282.2 1226 286 1226.5 291.9 1227 293.2 1227.5 292 1228 299 1228.5 294.6 1229 284 1229.5 274 1230 269.5 1230.5 269.9 1231 273.3 1231.5 273.9 1232 276.8 1232.5 284.2 1233 289.3 1233.5 285.3 1234 265.7 1234.5 261 1235 270.7 1235.5 271.1 1236 271.2 1236.5 278.6 1237 290.5 1237.5 300.2 1238 298.4 1238.5 290.2 1239 286.8 1239.5 282.5 1240 279.3 1240.5 277.5 1241 275.5 1241.5 276.3 1242 277.7 1242.5 282 1243 285.8 1243.5 281.1 1244 280.9 1244.5 286.7 1245 288.3 1245.5 284.5 1246 285.9 1246.5 290.7 1247 289.9 1247.5 286.6 1248 291.3 1248.5 292.6 1249 287.2 1249.5 282.6 1250 284.8 1250.5 286.2 1251 286.7 1251.5 286.7 1252 290.4 1252.5 299.7 1253 302.1 1253.5 300.9 1254 302.5 1254.5 307.7 1255 312.2 1255.5 308.8 1256 308 1256.5 310.2 1257 310.5 1257.5 310.2 1258 309.9 1258.5 312.7 1259 313.5 1259.5 314 1260 316.6 1260.5 320.6 1261 325.1 1261.5 327.5 1262 327.8 1262.5 322.3 1263 315.5 1263.5 307.7" fill="none" stroke="#ff0000" stroke-width="1.3" stroke-linejoin="round" stroke-linecap="round"/>
<line x1="761.7" y1="306.5" x2="761.7" y2="361" stroke="#000" stroke-width="3.2"/>
<line x1="715.3" y1="359.4" x2="763.3" y2="359.4" stroke="#000" stroke-width="3.4"/>
<text x="768.87" y="342.1" font-size="27.6" font-weight="normal" font-style="normal" fill="#000" stroke="#000" stroke-width="0.45" transform="translate(0 -37.63) scale(1 1.11)">400µV</text>
<text x="713.59" y="392.3" font-size="27.8" font-weight="normal" font-style="normal" fill="#000" stroke="#000" stroke-width="0.45" transform="translate(0 -43.15) scale(1 1.11)">50ms</text>
<line x1="1283.7" y1="290.4" x2="1283.7" y2="341.8" stroke="#000" stroke-width="3"/>
<line x1="1241.8" y1="340.5" x2="1285.2" y2="340.5" stroke="#000" stroke-width="2.6"/>
<text x="1292.77" y="330.5" font-size="27.3" font-weight="normal" font-style="normal" fill="#000" stroke="#000" stroke-width="0.45" transform="translate(0 -36.36) scale(1 1.11)">400µV</text>
<text x="1229.81" y="372.7" font-size="27.3" font-weight="normal" font-style="normal" fill="#000" stroke="#000" stroke-width="0.45" transform="translate(0 -41) scale(1 1.11)">50ms</text>
<polyline points="278.7 393.4 279.2 394.7 279.7 396.1 280.2 397.5 280.7 399 281.2 400.6 281.7 402.2 282.2 403.9 282.7 405.6 283.2 407.4 283.7 409.2 284.2 411.1 284.7 412.9 285.2 414.9 285.7 416.8 286.2 418.8 286.7 420.8 287.2 422.8 287.7 424.8 288.2 426.8 288.7 428.8 289.2 430.8 289.7 432.8 290.2 434.8 290.7 436.8 291.2 438.7 291.7 440.7 292.2 442.6 292.7 444.4 293.2 446.3 293.7 448 294.2 449.8 294.7 451.5 295.2 453.1 295.7 454.7 296.2 456.2 296.7 457.6 297.2 459 297.7 460.3 298.2 461.5 298.7 462.7 299.2 463.8 299.7 464.8 300.2 465.7 300.7 466.6 301.2 467.3 301.7 468 302.2 468.5 302.7 469 303.2 469.4 303.7 469.7 304.2 469.9 304.7 470 305.2 470 305.7 469.9 306.2 469.7 306.7 469.5 307.2 469.1 307.7 468.7 308.2 468.2 308.7 467.6 309.2 466.9 309.7 466.1 310.2 465.2 310.7 464.3 311.2 463.3 311.7 462.2 312.2 461 312.7 459.8 313.2 458.5 313.7 457.1 314.2 455.7 314.7 454.2 315.2 452.7 315.7 451.1 316.2 449.4 316.7 447.7 317.2 446 317.7 444.2 318.2 442.4 318.7 440.6 319.2 438.7 319.7 436.8 320.2 434.9 320.7 433 321.2 431 321.7 429.1 322.2 427.1 322.7 425.2 323.2 423.2 323.7 421.3 324.2 419.4 324.7 417.4 325.2 415.6 325.7 413.7 326.2 411.9 326.7 410.1 327.2 408.3 327.7 406.6 328.2 404.9 328.7 403.3 329.2 401.7 329.7 400.2 330.2 398.7 330.7 397.3 331.2 396 331.7 394.7 332.2 393.5 332.7 392.4 333.2 391.3 333.7 390.3 334.2 389.4 334.7 388.6 335.2 387.8 335.7 387.2 336.2 386.6 336.7 386.1 337.2 385.7 337.7 385.4 338.2 385.2 338.7 385 339.2 385 339.7 385 340.2 385.2 340.7 385.4 341.2 385.8 341.7 386.2 342.2 386.7 342.7 387.3 343.2 388 343.7 388.8 344.2 389.7 344.7 390.7 345.2 391.7 345.7 392.8 346.2 394 346.7 395.3 347.2 396.7 347.7 398.1 348.2 399.6 348.7 401.1 349.2 402.7 349.7 404.4 350.2 406.1 350.7 407.9 351.2 409.7 351.7 411.6 352.2 413.4 352.7 415.4 353.2 417.3 353.7 419.3 354.2 421.3 354.7 423.3 355.2 425.3 355.7 427.3 356.2 429.3 356.7 431.3 357.2 433.3 357.7 435.3 358.2 437.3 358.7 439.2 359.2 441.2 359.7 443.1 360.2 444.9 360.7 446.7 361.2 448.5 361.7 450.2 362.2 451.9 362.7 453.5 363.2 455.1 363.7 456.6 364.2 458 364.7 459.4 365.2 460.7 365.7 461.9 366.2 463.1 366.7 464.1 367.2 465.1 367.7 466 368.2 466.8 368.7 467.5 369.2 468.2 369.7 468.7 370.2 469.2 370.7 469.5 371.2 469.8 371.7 469.9 372.2 470 372.7 470 373.2 469.8 373.7 469.6 374.2 469.3 374.7 468.9 375.2 468.4 375.7 467.9 376.2 467.2 376.7 466.4 377.2 465.6 377.7 464.7 378.2 463.7 378.7 462.6 379.2 461.4 379.7 460.2 380.2 458.9 380.7 457.5 381.2 456 381.7 454.5 382.2 453 382.7 451.3 383.2 449.7 383.7 447.9 384.2 446.2 384.7 444.4 385.2 442.5 385.7 440.6 386.2 438.7 386.7 436.8 387.2 434.8 387.7 432.9 388.2 430.9 388.7 428.9 389.2 426.9 389.7 424.9 390.2 422.9 390.7 420.9 391.2 419 391.7 417 392.2 415.1 392.7 413.2 393.2 411.4 393.7 409.5 394.2 407.8 394.7 406 395.2 404.3 395.7 402.7 396.2 401.1 396.7 399.6 397.2 398.1 397.7 396.7 398.2 395.3 398.7 394.1 399.2 392.9 399.7 391.8 400.2 390.7 400.7 389.8 401.2 388.9 401.7 388.1 402.2 387.4 402.7 386.8 403.2 386.3 403.7 385.8 404.2 385.5 404.7 385.2 405.2 385.1 405.7 385 406.2 385 406.7 385.2 407.2 385.4 407.7 385.7 408.2 386.1 408.7 386.7 409.2 387.3 409.7 388 410.2 388.8 410.7 389.7 411.2 390.7 411.7 391.7 412.2 392.9 412.7 394.1 413.2 395.4 413.7 396.8 414.2 398.3 414.7 399.8 415.2 401.4 415.7 403.1 416.2 404.8 416.7 406.5 417.2 408.3 417.7 410.2 418.2 412.1 418.7 414 419.2 416 419.7 418 420.2 420 420.7 422 421.2 424.1 421.7 426.1 422.2 428.2 422.7 430.2 423.2 432.3 423.7 434.3 424.2 436.3 424.7 438.3 425.2 440.3 425.7 442.2 426.2 444.1 426.7 446 427.2 447.8 427.7 449.6 428.2 451.3 428.7 453 429.2 454.6 429.7 456.1 430.2 457.6 430.7 459 431.2 460.3 431.7 461.6 432.2 462.7 432.7 463.8 433.2 464.8 433.7 465.7 434.2 466.6 434.7 467.3 435.2 467.9 435.7 468.5 436.2 468.9 436.7 469.3 437.2 469.5 437.7 469.7 438.2 469.7 438.7 469.7 439.2 469.5 439.7 469.3 440.2 469 440.7 468.6 441.2 468.1 441.7 467.5 442.2 466.8 442.7 466.1 443.2 465.3 443.7 464.3 444.2 463.3 444.7 462.3 445.2 461.1 445.7 459.9 446.2 458.6 446.7 457.3 447.2 455.9 447.7 454.4 448.2 452.9 448.7 451.3 449.2 449.7 449.7 448 450.2 446.3 450.7 444.5 451.2 442.7 451.7 440.9 452.2 439 452.7 437.1 453.2 435.2 453.7 433.3 454.2 431.4 454.7 429.5 455.2 427.5 455.7 425.6 456.2 423.7 456.7 421.8 457.2 419.9 457.7 418 458.2 416.1 458.7 414.3 459.2 412.5 459.7 410.7 460.2 409 460.7 407.3 461.2 405.7 461.7 404.1 462.2 402.6 462.7 401.1 463.2 399.7 463.7 398.4 464.2 397.1 464.7 395.9 465.2 394.7 465.7 393.7 466.2 392.7 466.7 391.7 467.2 390.9 467.7 390.2 468.2 389.5 468.7 388.9 469.2 388.4 469.7 388 470.2 387.7 470.7 387.5 471.2 387.3 471.7 387.3 472.2 387.3 472.7 387.5 473.2 387.7 473.7 388 474.2 388.5 474.7 389 475.2 389.6 475.7 390.3 476.2 391 476.7 391.9 477.2 392.8 477.7 393.9 478.2 395 478.7 396.1 479.2 397.4 479.7 398.7 480.2 400.1 480.7 401.5 481.2 403 481.7 404.6 482.2 406.2 482.7 407.9 483.2 409.6 483.7 411.3 484.2 413.1 484.7 415 485.2 416.8 485.7 418.7 486.2 420.6 486.7 422.5 487.2 424.4 487.7 426.3 488.2 428.2 488.7 430.2 489.2 432.1 489.7 434 490.2 435.9 490.7 437.7 491.2 439.6 491.7 441.4 492.2 443.2 492.7 444.9 493.2 446.6 493.7 448.2 494.2 449.8 494.7 451.4 495.2 452.9 495.7 454.3 496.2 455.6 496.7 456.9 497.2 458.1 497.7 459.3 498.2 460.4 498.7 461.4 499.2 462.3 499.7 463.1 500.2 463.8 500.7 464.5 501.2 465 501.7 465.5 502.2 465.9 502.7 466.2 503.2 466.4 503.7 466.5 504.2 466.5 504.7 466.4 505.2 466.3 505.7 466 506.2 465.7 506.7 465.3 507.2 464.8 507.7 464.2 508.2 463.6 508.7 462.9 509.2 462.1 509.7 461.2 510.2 460.2 510.7 459.2 511.2 458.1 511.7 457 512.2 455.8 512.7 454.5 513.2 453.2 513.7 451.8 514.2 450.4 514.7 448.9 515.2 447.4 515.7 445.8 516.2 444.2 516.7 442.6 517.2 440.9 517.7 439.2 518.2 437.5 518.7 435.7 519.2 434 519.7 432.2 520.2 430.5 520.7 428.7 521.2 426.9 521.7 425.2 522.2 423.4 522.7 421.7 523.2 419.9 523.7 418.2 524.2 416.5 524.7 414.9 525.2 413.3 525.7 411.7 526.2 410.1 526.7 408.6 527.2 407.2 527.7 405.7 528.2 404.4 528.7 403.1 529.2 401.8 529.7 400.6 530.2 399.5 530.7 398.5 531.2 397.5 531.7 396.6 532.2 395.7 532.7 394.9 533.2 394.3 533.7 393.6 534.2 393.1 534.7 392.6 535.2 392.3 535.7 392 536.2 391.8 536.7 391.6 537.2 391.6 537.7 391.6 538.2 391.8 538.7 392 539.2 392.3 539.7 392.6 540.2 393.1 540.7 393.6 541.2 394.2 541.7 394.9 542.2 395.7 542.7 396.6 543.2 397.5 543.7 398.4 544.2 399.5 544.7 400.6 545.2 401.8 545.7 403 546.2 404.3 546.7 405.7 547.2 407.1 547.7 408.5 548.2 410 548.7 411.6 549.2 413.1 549.7 414.7 550.2 416.4 550.7 418 551.2 419.7 551.7 421.4 552.2 423.1 552.7 424.8 553.2 426.6 553.7 428.3 554.2 430 554.7 431.7 555.2 433.4 555.7 435.1 556.2 436.8 556.7 438.5 557.2 440.1 557.7 441.7 558.2 443.2 558.7 444.8 559.2 446.3 559.7 447.7 560.2 449.1 560.7 450.4 561.2 451.7 561.7 452.9 562.2 454.1 562.7 455.2 563.2 456.3 563.7 457.2 564.2 458.1 564.7 459 565.2 459.7 565.7 460.4 566.2 461 566.7 461.5 567.2 461.9 567.7 462.3 568.2 462.6 568.7 462.8 569.2 462.9 569.7 462.9 570.2 462.9 570.7 462.7 571.2 462.5 571.7 462.3 572.2 462 572.7 461.6 573.2 461.1 573.7 460.6 574.2 460 574.7 459.4 575.2 458.7 575.7 457.9 576.2 457.1 576.7 456.2 577.2 455.3 577.7 454.3 578.2 453.3 578.7 452.2 579.2 451 579.7 449.8 580.2 448.6 580.7 447.4 581.2 446.1 581.7 444.7 582.2 443.4 582.7 442 583.2 440.5 583.7 439.1 584.2 437.6 584.7 436.2 585.2 434.7 585.7 433.2 586.2 431.6 586.7 430.1 587.2 428.6 587.7 427.1 588.2 425.6 588.7 424 589.2 422.5 589.7 421.1 590.2 419.6 590.7 418.1 591.2 416.7 591.7 415.3 592.2 413.9 592.7 412.6 593.2 411.3 593.7 410 594.2 408.7 594.7 407.5 595.2 406.4 595.7 405.3 596.2 404.2 596.7 403.2 597.2 402.2 597.7 401.3 598.2 400.5 598.7 399.7 599.2 399 599.7 398.3 600.2 397.7 600.7 397.2 601.2 396.7 601.7 396.3 602.2 395.9 602.7 395.6 603.2 395.4 603.7 395.3 604.2 395.2 604.7 395.2 605.2 395.3 605.7 395.4 606.2 395.6 606.7 395.8 607.2 396.2 607.7 396.6 608.2 397 608.7 397.5 609.2 398.1 609.7 398.8 610.2 399.5 610.7 400.2 611.2 401 611.7 401.9 612.2 402.8 612.7 403.8 613.2 404.8 613.7 405.9 614.2 407 614.7 408.2 615.2 409.4 615.7 410.6 616.2 411.9 616.7 413.2 617.2 414.6 617.7 415.9 618.2 417.3 618.7 418.7 619.2 420.1 619.7 421.6 620.2 423 620.7 424.5 621.2 426 621.7 427.5 622.2 428.9 622.7 430.4 623.2 431.9 623.7 433.3 624.2 434.8 624.7 436.2 625.2 437.6 625.7 439 626.2 440.4 626.7 441.7 627.2 443 627.7 444.3 628.2 445.6 628.7 446.8 629.2 447.9 629.7 449.1 630.2 450.1 630.7 451.2 631.2 452.2 631.7 453.1 632.2 454 632.7 454.8 633.2 455.6 633.7 456.3 634.2 457 634.7 457.5 635.2 458.1 635.7 458.5 636.2 459 636.7 459.3 637.2 459.6 637.7 459.8 638.2 459.9 638.7 460 639.2 460 639.7 459.9 640.2 459.8 640.7 459.6 641.2 459.4 641.7 459.1 642.2 458.7 642.7 458.3 643.2 457.8 643.7 457.3 644.2 456.7 644.7 456.1 645.2 455.4 645.7 454.6 646.2 453.8 646.7 452.9 647.2 452 647.7 451.1 648.2 450.1 648.7 449 649.2 448 649.7 446.8 650.2 445.7 650.7 444.5 651.2 443.2 651.7 442 652.2 440.7 652.7 439.4 653.2 438 653.7 436.7 654.2 435.3 654.7 433.9 655.2 432.5 655.7 431 656.2 429.6 656.7 428.2 657.2 426.7 657.7 425.3 658.2 423.8 658.7 422.4 659.2 421 659.7 419.5 660.2 418.1 660.7 416.7 661.2 415.4 661.7 414 662.2 412.7 662.7 411.4 663.2 410.1 663.7 408.8 664.2 407.6 664.7 406.4 665.2 405.2 665.7 404.1 666.2 403 666.7 402 667.2 401 667.7 400.1 668.2 399.2 668.7 398.3 669.2 397.5 669.7 396.8 670.2 396.1 670.7 395.5 671.2 394.9 671.7 394.4 672.2 393.9 672.7 393.5 673.2 393.1 673.7 392.8 674.2 392.6 674.7 392.4 675.2 392.3 675.7 392.3 676.2 392.3 676.7 392.4 677.2 392.6 677.7 392.9 678.2 393.2 678.7 393.6 679.2 394.1 679.7 394.7 680.2 395.3 680.7 396.1 681.2 396.9 681.7 397.7 682.2 398.7 682.7 399.7 683.2 400.7 683.7 401.8 684.2 403 684.7 404.3 685.2 405.6 685.7 406.9 686.2 408.3 686.7 409.7 687.2 411.2 687.7 412.7 688.2 414.3 688.7 415.9 689.2 417.5 689.7 419.2 690.2 420.9 690.7 422.6 691.2 424.3 691.7 426 692.2 427.7 692.7 429.5 693.2 431.2 693.7 432.9 694.2 434.7 694.7 436.4 695.2 438.1 695.7 439.8 696.2 441.4 696.7 443.1 697.2 444.7 697.7 446.3 698.2 447.9 698.7 449.4 699.2 450.9 699.7 452.3 700.2 453.7 700.7 455 701.2 456.3 701.7 457.5 702.2 458.7 702.7 459.8 703.2 460.9 703.7 461.8 704.2 462.8 704.7 463.6 705.2 464.4 705.7 465.1 706.2 465.7 706.7 466.3 707.2 466.8 707.7 467.2 708.2 467.5 708.7 467.7 709.2 467.9 709.7 468 710.2 468 710.7 467.9 711.2 467.7 711.7 467.4 712.2 467 712.7 466.6 713.2 466 713.7 465.3 714.2 464.6 714.7 463.7 715.2 462.8 715.7 461.7 716.2 460.6 716.7 459.4 717.2 458.2 717.7 456.8 718.2 455.4 718.7 453.9 719.2 452.4 719.7 450.8 720.2 449.1 720.7 447.4 721.2 445.6 721.7 443.8 722.2 441.9 722.7 440.1 723.2 438.1 723.7 436.2 724.2 434.2 724.7 432.2 725.2 430.2 725.7 428.2 726.2 426.2 726.7 424.2 727.2 422.2 727.7 420.2 728.2 418.2 728.7 416.3 729.2 414.3 729.7 412.4 730.2 410.6 730.7 408.7 731.2 407 731.7 405.2 732.2 403.6 732.7 401.9 733.2 400.4 733.7 398.9 734.2 397.4 734.7 396.1 735.2 394.8 735.7 393.6 736.2 392.5 736.7 391.4 737.2 390.5 737.7 389.6 738.2 388.8 738.7 388.1" fill="none" stroke="#000" stroke-width="2.7" stroke-linejoin="round" stroke-linecap="round"/>
<polyline points="843.8 412 844.3 409.7 844.8 407.5 845.3 405.4 845.8 403.3 846.3 401.2 846.8 399.2 847.3 397.3 847.8 395.5 848.3 393.7 848.8 392 849.3 390.4 849.8 389 850.3 387.6 850.8 386.3 851.3 385.2 851.8 384.2 852.3 383.2 852.8 382.5 853.3 381.8 853.8 381.3 854.3 380.8 854.8 380.6 855.3 380.4 855.8 380.4 856.3 380.5 856.8 380.8 857.3 381.2 857.8 381.7 858.3 382.4 858.8 383.1 859.3 384.1 859.8 385.1 860.3 386.3 860.8 387.5 861.3 388.9 861.8 390.4 862.3 392 862.8 393.7 863.3 395.5 863.8 397.4 864.3 399.3 864.8 401.3 865.3 403.4 865.8 405.6 866.3 407.8 866.8 410.1 867.3 412.4 867.8 414.7 868.3 417.1 868.8 419.4 869.3 421.8 869.8 424.2 870.3 426.6 870.8 428.9 871.3 431.3 871.8 433.6 872.3 435.9 872.8 438.1 873.3 440.3 873.8 442.4 874.3 444.5 874.8 446.5 875.3 448.4 875.8 450.2 876.3 451.9 876.8 453.6 877.3 455.1 877.8 456.5 878.3 457.9 878.8 459.1 879.3 460.1 879.8 461.1 880.3 461.9 880.8 462.6 881.3 463.2 881.8 463.7 882.3 464 882.8 464.2 883.3 464.2 883.8 464.1 884.3 463.9 884.8 463.6 885.3 463.1 885.8 462.5 886.3 461.8 886.8 461 887.3 460.1 887.8 459 888.3 457.9 888.8 456.6 889.3 455.2 889.8 453.8 890.3 452.2 890.8 450.6 891.3 448.8 891.8 447 892.3 445.1 892.8 443.2 893.3 441.2 893.8 439.1 894.3 437 894.8 434.8 895.3 432.6 895.8 430.4 896.3 428.2 896.8 425.9 897.3 423.6 897.8 421.4 898.3 419.1 898.8 416.8 899.3 414.6 899.8 412.4 900.3 410.2 900.8 408.1 901.3 406 901.8 403.9 902.3 401.9 902.8 400 903.3 398.2 903.8 396.4 904.3 394.7 904.8 393.1 905.3 391.5 905.8 390.1 906.3 388.8 906.8 387.6 907.3 386.5 907.8 385.5 908.3 384.6 908.8 383.8 909.3 383.1 909.8 382.6 910.3 382.2 910.8 381.9 911.3 381.7 911.8 381.7 912.3 381.8 912.8 382 913.3 382.3 913.8 382.8 914.3 383.3 914.8 384 915.3 384.8 915.8 385.7 916.3 386.7 916.8 387.8 917.3 389.1 917.8 390.4 918.3 391.8 918.8 393.3 919.3 394.9 919.8 396.6 920.3 398.3 920.8 400.1 921.3 402 921.8 403.9 922.3 405.9 922.8 408 923.3 410.1 923.8 412.2 924.3 414.4 924.8 416.5 925.3 418.7 925.8 420.9 926.3 423.1 926.8 425.3 927.3 427.5 927.8 429.7 928.3 431.8 928.8 433.9 929.3 436 929.8 438.1 930.3 440 930.8 442 931.3 443.8 931.8 445.7 932.3 447.4 932.8 449 933.3 450.6 933.8 452.1 934.3 453.5 934.8 454.8 935.3 456 935.8 457.1 936.3 458.1 936.8 459 937.3 459.7 937.8 460.4 938.3 460.9 938.8 461.4 939.3 461.7 939.8 461.8 940.3 461.9 940.8 461.8 941.3 461.7 941.8 461.3 942.3 460.9 942.8 460.4 943.3 459.7 943.8 458.9 944.3 458 944.8 457 945.3 455.8 945.8 454.6 946.3 453.3 946.8 451.8 947.3 450.3 947.8 448.7 948.3 447 948.8 445.2 949.3 443.4 949.8 441.5 950.3 439.5 950.8 437.5 951.3 435.5 951.8 433.4 952.3 431.2 952.8 429.1 953.3 426.9 953.8 424.7 954.3 422.5 954.8 420.3 955.3 418.2 955.8 416 956.3 413.9 956.8 411.8 957.3 409.7 957.8 407.7 958.3 405.7 958.8 403.8 959.3 401.9 959.8 400.1 960.3 398.4 960.8 396.8 961.3 395.3 961.8 393.8 962.3 392.5 962.8 391.2 963.3 390.1 963.8 389 964.3 388.1 964.8 387.3 965.3 386.6 965.8 386 966.3 385.5 966.8 385.2 967.3 385 967.8 384.9 968.3 384.9 968.8 385.1 969.3 385.4 969.8 385.8 970.3 386.3 970.8 386.9 971.3 387.6 971.8 388.5 972.3 389.4 972.8 390.5 973.3 391.7 973.8 392.9 974.3 394.3 974.8 395.7 975.3 397.2 975.8 398.8 976.3 400.5 976.8 402.3 977.3 404.1 977.8 406 978.3 407.9 978.8 409.8 979.3 411.8 979.8 413.9 980.3 415.9 980.8 418 981.3 420.1 981.8 422.2 982.3 424.3 982.8 426.4 983.3 428.5 983.8 430.5 984.3 432.6 984.8 434.6 985.3 436.5 985.8 438.4 986.3 440.2 986.8 442 987.3 443.8 987.8 445.4 988.3 447 988.8 448.5 989.3 449.9 989.8 451.2 990.3 452.4 990.8 453.5 991.3 454.6 991.8 455.5 992.3 456.3 992.8 457 993.3 457.5 993.8 458 994.3 458.4 994.8 458.6 995.3 458.7 995.8 458.7 996.3 458.6 996.8 458.3 997.3 458 997.8 457.5 998.3 457 998.8 456.3 999.3 455.6 999.8 454.7 1000.3 453.7 1000.8 452.7 1001.3 451.5 1001.8 450.3 1002.3 449 1002.8 447.6 1003.3 446.1 1003.8 444.5 1004.3 442.9 1004.8 441.3 1005.3 439.5 1005.8 437.7 1006.3 435.9 1006.8 434 1007.3 432.1 1007.8 430.2 1008.3 428.3 1008.8 426.3 1009.3 424.3 1009.8 422.4 1010.3 420.4 1010.8 418.4 1011.3 416.5 1011.8 414.6 1012.3 412.7 1012.8 410.8 1013.3 409 1013.8 407.2 1014.3 405.4 1014.8 403.8 1015.3 402.2 1015.8 400.6 1016.3 399.1 1016.8 397.7 1017.3 396.4 1017.8 395.2 1018.3 394 1018.8 393 1019.3 392 1019.8 391.1 1020.3 390.4 1020.8 389.7 1021.3 389.2 1021.8 388.7 1022.3 388.4 1022.8 388.1 1023.3 388 1023.8 388 1024.3 388.1 1024.8 388.3 1025.3 388.7 1025.8 389.2 1026.3 389.7 1026.8 390.4 1027.3 391.2 1027.8 392.1 1028.3 393.2 1028.8 394.3 1029.3 395.5 1029.8 396.8 1030.3 398.2 1030.8 399.7 1031.3 401.2 1031.8 402.8 1032.3 404.5 1032.8 406.3 1033.3 408.1 1033.8 410 1034.3 411.9 1034.8 413.8 1035.3 415.8 1035.8 417.8 1036.3 419.7 1036.8 421.8 1037.3 423.8 1037.8 425.7 1038.3 427.7 1038.8 429.7 1039.3 431.6 1039.8 433.5 1040.3 435.4 1040.8 437.2 1041.3 438.9 1041.8 440.6 1042.3 442.2 1042.8 443.7 1043.3 445.2 1043.8 446.6 1044.3 447.9 1044.8 449.1 1045.3 450.2 1045.8 451.2 1046.3 452 1046.8 452.8 1047.3 453.5 1047.8 454 1048.3 454.5 1048.8 454.8 1049.3 455 1049.8 455.1 1050.3 455.1 1050.8 454.9 1051.3 454.7 1051.8 454.3 1052.3 453.8 1052.8 453.2 1053.3 452.5 1053.8 451.7 1054.3 450.8 1054.8 449.8 1055.3 448.7 1055.8 447.5 1056.3 446.2 1056.8 444.9 1057.3 443.4 1057.8 441.9 1058.3 440.3 1058.8 438.7 1059.3 437 1059.8 435.2 1060.3 433.4 1060.8 431.6 1061.3 429.7 1061.8 427.8 1062.3 425.9 1062.8 424 1063.3 422.1 1063.8 420.1 1064.3 418.2 1064.8 416.3 1065.3 414.4 1065.8 412.5 1066.3 410.7 1066.8 408.9 1067.3 407.2 1067.8 405.5 1068.3 403.9 1068.8 402.3 1069.3 400.8 1069.8 399.4 1070.3 398 1070.8 396.8 1071.3 395.6 1071.8 394.5 1072.3 393.5 1072.8 392.6 1073.3 391.8 1073.8 391.2 1074.3 390.6 1074.8 390.1 1075.3 389.8 1075.8 389.5 1076.3 389.4 1076.8 389.4 1077.3 389.5 1077.8 389.7 1078.3 390.1 1078.8 390.5 1079.3 391.1 1079.8 391.8 1080.3 392.6 1080.8 393.5 1081.3 394.5 1081.8 395.6 1082.3 396.8 1082.8 398.1 1083.3 399.4 1083.8 400.9 1084.3 402.4 1084.8 404 1085.3 405.7 1085.8 407.4 1086.3 409.2 1086.8 411.1 1087.3 413 1087.8 414.9 1088.3 416.8 1088.8 418.8 1089.3 420.8 1089.8 422.8 1090.3 424.8 1090.8 426.8 1091.3 428.8 1091.8 430.7 1092.3 432.7 1092.8 434.6 1093.3 436.5 1093.8 438.3 1094.3 440.1 1094.8 441.8 1095.3 443.4 1095.8 445 1096.3 446.5 1096.8 447.9 1097.3 449.3 1097.8 450.5 1098.3 451.7 1098.8 452.7 1099.3 453.7 1099.8 454.6 1100.3 455.3 1100.8 455.9 1101.3 456.5 1101.8 456.9 1102.3 457.2 1102.8 457.3 1103.3 457.4 1103.8 457.3 1104.3 457.1 1104.8 456.8 1105.3 456.4 1105.8 455.8 1106.3 455.1 1106.8 454.3 1107.3 453.3 1107.8 452.3 1108.3 451.1 1108.8 449.9 1109.3 448.5 1109.8 447 1110.3 445.4 1110.8 443.8 1111.3 442.1 1111.8 440.3 1112.3 438.4 1112.8 436.5 1113.3 434.5 1113.8 432.4 1114.3 430.4 1114.8 428.2 1115.3 426.1 1115.8 424 1116.3 421.8 1116.8 419.6 1117.3 417.5 1117.8 415.3 1118.3 413.2 1118.8 411.1 1119.3 409 1119.8 407 1120.3 405.1 1120.8 403.2 1121.3 401.3 1121.8 399.5 1122.3 397.8 1122.8 396.2 1123.3 394.7 1123.8 393.3 1124.3 391.9 1124.8 390.7 1125.3 389.6 1125.8 388.6 1126.3 387.7 1126.8 386.9 1127.3 386.3 1127.8 385.7 1128.3 385.3 1128.8 385.1 1129.3 384.9 1129.8 384.9 1130.3 385 1130.8 385.3 1131.3 385.6 1131.8 386.1 1132.3 386.8 1132.8 387.5 1133.3 388.4 1133.8 389.3 1134.3 390.4 1134.8 391.6 1135.3 393 1135.8 394.4 1136.3 395.9 1136.8 397.5 1137.3 399.2 1137.8 401 1138.3 402.8 1138.8 404.7 1139.3 406.7 1139.8 408.8 1140.3 410.8 1140.8 413 1141.3 415.2 1141.8 417.4 1142.3 419.6 1142.8 421.8 1143.3 424.1 1143.8 426.4 1144.3 428.6 1144.8 430.8 1145.3 433.1 1145.8 435.2 1146.3 437.4 1146.8 439.5 1147.3 441.6 1147.8 443.6 1148.3 445.5 1148.8 447.4 1149.3 449.2 1149.8 450.9 1150.3 452.6 1150.8 454.1 1151.3 455.6 1151.8 456.9 1152.3 458.2 1152.8 459.3 1153.3 460.4 1153.8 461.3 1154.3 462.1 1154.8 462.7 1155.3 463.3 1155.8 463.7 1156.3 464 1156.8 464.2 1157.3 464.2 1157.8 464.1 1158.3 463.8 1158.8 463.5 1159.3 462.9 1159.8 462.3 1160.3 461.4 1160.8 460.5 1161.3 459.4 1161.8 458.2 1162.3 456.9 1162.8 455.4 1163.3 453.9 1163.8 452.2 1164.3 450.4 1164.8 448.5 1165.3 446.6 1165.8 444.5 1166.3 442.4 1166.8 440.2 1167.3 437.9 1167.8 435.6 1168.3 433.3 1168.8 430.9 1169.3 428.4 1169.8 426 1170.3 423.5 1170.8 421.1 1171.3 418.6 1171.8 416.2 1172.3 413.7 1172.8 411.3 1173.3 409 1173.8 406.7 1174.3 404.4 1174.8 402.2 1175.3 400.1 1175.8 398 1176.3 396.1 1176.8 394.2 1177.3 392.4 1177.8 390.7 1178.3 389.2 1178.8 387.7 1179.3 386.4 1179.8 385.2 1180.3 384.1 1180.8 383.2 1181.3 382.3 1181.8 381.7 1182.3 381.1 1182.8 380.8 1183.3 380.5 1183.8 380.4 1184.3 380.4 1184.8 380.6 1185.3 380.9 1185.8 381.4 1186.3 381.9 1186.8 382.6 1187.3 383.5 1187.8 384.4 1188.3 385.5 1188.8 386.7 1189.3 388 1189.8 389.4 1190.3 390.9 1190.8 392.5 1191.3 394.3 1191.8 396.1 1192.3 397.9 1192.8 399.9 1193.3 401.9 1193.8 404 1194.3 406.2 1194.8 408.4 1195.3 410.7 1195.8 413 1196.3 415.3 1196.8 417.6 1197.3 420 1197.8 422.3 1198.3 424.7 1198.8 427 1199.3 429.4 1199.8 431.7 1200.3 433.9 1200.8 436.2 1201.3 438.4 1201.8 440.5 1202.3 442.6 1202.8 444.6 1203.3 446.5 1203.8 448.4 1204.3 450.1 1204.8 451.8 1205.3 453.4 1205.8 454.9 1206.3 456.2 1206.8 457.5 1207.3 458.7 1207.8 459.7 1208.3 460.6 1208.8 461.4 1209.3 462 1209.8 462.5 1210.3 462.9 1210.8 463.2 1211.3 463.3 1211.8 463.3 1212.3 463.2 1212.8 462.9 1213.3 462.6 1213.8 462.1 1214.3 461.5 1214.8 460.8 1215.3 460 1215.8 459.1 1216.3 458.2 1216.8 457.1 1217.3 455.9 1217.8 454.6 1218.3 453.2 1218.8 451.8 1219.3 450.2 1219.8 448.6 1220.3 446.9 1220.8 445.2 1221.3 443.4 1221.8 441.5 1222.3 439.6 1222.8 437.7 1223.3 435.7 1223.8 433.7 1224.3 431.6 1224.8 429.6 1225.3 427.5 1225.8 425.4 1226.3 423.4 1226.8 421.3 1227.3 419.2 1227.8 417.2 1228.3 415.2 1228.8 413.2 1229.3 411.3 1229.8 409.4 1230.3 407.5 1230.8 405.8 1231.3 404 1231.8 402.4 1232.3 400.8 1232.8 399.2 1233.3 397.8 1233.8 396.5 1234.3 395.2 1234.8 394 1235.3 392.9 1235.8 392 1236.3 391.1 1236.8 390.3 1237.3 389.7 1237.8 389.1 1238.3 388.7 1238.8 388.3 1239.3 388.1 1239.8 388 1240.3 388 1240.8 388.1 1241.3 388.2 1241.8 388.5 1242.3 388.7 1242.8 389.1 1243.3 389.5 1243.8 390 1244.3 390.6 1244.8 391.2 1245.3 391.9 1245.8 392.6 1246.3 393.5 1246.8 394.3 1247.3 395.3 1247.8 396.2 1248.3 397.3 1248.8 398.4 1249.3 399.5 1249.8 400.7 1250.3 402 1250.8 403.3 1251.3 404.6 1251.8 405.9 1252.3 407.3 1252.8 408.8 1253.3 410.2 1253.8 411.7 1254.3 413.3 1254.8 414.8 1255.3 416.4 1255.8 417.9 1256.3 419.5 1256.8 421.1 1257.3 422.7 1257.8 424.4 1258.3 426 1258.8 427.6 1259.3 429.2 1259.8 430.8 1260.3 432.4 1260.8 434 1261.3 435.5 1261.8 437 1262.3 438.6" fill="none" stroke="#ff0000" stroke-width="2.7" stroke-linejoin="round" stroke-linecap="round"/>
<polyline points="278.6 520 279 524.9 279.4 532.6 279.8 542.1 280.2 552.4 280.6 562.3 281 570.6 281.4 576.6 281.8 579.5 282.2 579.1 282.6 575.6 283 569.5 283.4 561.5 283.8 552.4 284.2 543.3 284.6 535 285 528.4 285.4 524.2 285.8 522.6 286.2 523.9 286.6 527.6 287 533.4 287.4 540.5 287.8 548.2 288.2 555.7 288.6 562.5 289 567.8 289.4 571.3 289.8 572.7 290.2 572.1 290.6 569.4 291 565.1 291.4 559.6 291.8 553.5 292.2 547.4 292.6 541.9 293 537.4 293.4 534.3 293.8 532.8 294.2 533 294.6 535 295 538.3 295.4 542.6 295.8 547.4 296.2 552.1 296.6 556.3 297 559.5 297.4 561.4 297.8 562.1 298.2 561.6 298.6 560.1 299 557.8 299.4 554.9 299.8 551.8 300.2 548.7 300.6 545.7 301 543.1 301.4 541 301.8 539.7 302.2 539.2 302.6 539.7 303 541.1 303.4 543.3 303.8 546.1 304.2 549.3 304.6 552.5 305 555.4 305.4 557.9 305.8 559.6 306.2 560.4 306.6 560.4 307 559.5 307.4 557.9 307.8 555.6 308.2 552.8 308.6 549.8 309 546.7 309.4 543.9 309.8 541.6 310.2 539.9 310.6 539 311 539.2 311.4 540.2 311.8 542.2 312.2 544.8 312.6 547.8 313 551 313.4 554 313.8 556.4 314.2 558.2 314.6 559 315 558.9 315.4 558 315.8 556.3 316.2 554.2 316.6 551.7 317 549.3 317.4 547 317.8 545.1 318.2 543.8 318.6 543 319 542.9 319.4 543.5 319.8 544.6 320.2 546.1 320.6 547.9 321 549.8 321.4 551.6 321.8 553.2 322.2 554.4 322.6 555.1 323 555.3 323.4 555 323.8 554.2 324.2 553 324.6 551.4 325 549.6 325.4 547.7 325.8 545.9 326.2 544.3 326.6 543.3 327 542.9 327.4 543.2 327.8 544.2 328.2 546 328.6 548.4 329 551.1 329.4 554 329.8 556.7 330.2 558.9 330.6 560.3 331 560.8 331.4 560.2 331.8 558.5 332.2 555.7 332.6 552.1 333 547.9 333.4 543.5 333.8 539.5 334.2 536.3 334.6 534.3 335 533.9 335.4 535.1 335.8 538 336.2 542.3 336.6 547.6 337 553.3 337.4 558.9 337.8 563.8 338.2 567.5 338.6 569.5 339 569.7 339.4 568 339.8 564.6 340.2 559.7 340.6 553.9 341 547.7 341.4 541.4 341.8 535.8 342.2 531.2 342.6 528 343 526.5 343.4 526.9 343.8 529.3 344.2 533.5 344.6 539.3 345 546.3 345.4 553.9 345.8 561.4 346.2 568.1 346.6 573 347 575.6 347.4 575.6 347.8 572.8 348.2 567.5 348.6 560.3 349 551.9 349.4 543.4 349.8 535.5 350.2 529 350.6 524.5 351 522.3 351.4 522.6 351.8 525.2 352.2 529.9 352.6 536.2 353 543.7 353.4 551.7 353.8 559.6 354.2 566.6 354.6 572.1 355 575.7 355.4 576.9 355.8 575.6 356.2 572 356.6 566.6 357 559.8 357.4 552.4 357.8 545.1 358.2 538.5 358.6 532.9 359 528.9 359.4 526.5 359.8 526 360.2 527.4 360.6 530.6 361 535.4 361.4 541.5 361.8 548.4 362.2 555.3 362.6 561.5 363 566.3 363.4 569.2 363.8 569.9 364.2 568.5 364.6 565.3 365 560.7 365.4 555.4 365.8 549.9 366.2 544.6 366.6 540.1 367 536.5 367.4 534.2 367.8 533.1 368.2 533.3 368.6 534.8 369 537.5 369.4 541 369.8 545.2 370.2 549.6 370.6 553.9 371 557.6 371.4 560.5 371.8 562.3 372.2 563 372.6 562.5 373 560.9 373.4 558.5 373.8 555.6 374.2 552.3 374.6 549 375 545.9 375.4 543.3 375.8 541.4 376.2 540.2 376.6 540 377 540.6 377.4 542 377.8 544 378.2 546.4 378.6 548.9 379 551.4 379.4 553.6 379.8 555.3 380.2 556.5 380.6 557.1 381 557 381.4 556.4 381.8 555.3 382.2 553.8 382.6 552.1 383 550.3 383.4 548.5 383.8 547 384.2 545.8 384.6 545 385 544.8 385.4 545 385.8 545.7 386.2 546.8 386.6 548.1 387 549.4 387.4 550.7 387.8 551.9 388.2 552.7 388.6 553.2 389 553.3 389.4 553.1 389.8 552.5 390.2 551.7 390.6 550.8 391 549.7 391.4 548.8 391.8 547.9 392.2 547.3 392.6 546.9 393 546.8 393.4 546.9 393.8 547.4 394.2 548.1 394.6 549 395 550.1 395.4 551.3 395.8 552.4 396.2 553.3 396.6 554 397 554.2 397.4 554.1 397.8 553.4 398.2 552.3 398.6 550.8 399 549 399.4 547.1 399.8 545.4 400.2 544 400.6 543.2 401 543 401.4 543.5 401.8 544.8 402.2 546.6 402.6 548.9 403 551.4 403.4 553.9 403.8 556.1 404.2 557.7 404.6 558.5 405 558.5 405.4 557.7 405.8 556 406.2 553.8 406.6 551.1 407 548.2 407.4 545.5 407.8 543 408.2 541.1 408.6 540 409 539.7 409.4 540.4 409.8 542.1 410.2 544.5 410.6 547.6 411 550.9 411.4 554.2 411.8 557.1 412.2 559.3 412.6 560.4 413 560.4 413.4 559.2 413.8 557 414.2 554 414.6 550.5 415 547 415.4 543.9 415.8 541.4 416.2 539.8 416.6 539.2 417 539.7 417.4 541.1 417.8 543.3 418.2 546 418.6 548.9 419 551.9 419.4 554.5 419.8 556.7 420.2 558.2 420.6 559 421 559 421.4 558.2 421.8 556.8 422.2 554.9 422.6 552.7 423 550.3 423.4 548 423.8 546 424.2 544.3 424.6 543.2 425 542.6 425.4 542.5 425.8 543.1 426.2 544.1 426.6 545.5 427 547.3 427.4 549.2 427.8 551.2 428.2 552.9 428.6 554.4 429 555.4 429.4 555.7 429.8 555.4 430.2 554.6 430.6 553.3 431 551.6 431.4 549.9 431.8 548.2 432.2 546.7 432.6 545.6 433 545 433.4 544.8 433.8 545.1 434.2 545.9 434.6 547.1 435 548.5 435.4 550 435.8 551.5 436.2 552.7 436.6 553.6 437 554 437.4 554 437.8 553.6 438.2 552.8 438.6 551.7 439 550.5 439.4 549.3 439.8 548.2 440.2 547.2 440.6 546.6 441 546.1 441.4 546 441.8 546.2 442.2 546.7 442.6 547.3 443 548.2 443.4 549.1 443.8 550 444.2 550.9 444.6 551.7 445 552.3 445.4 552.7 445.8 552.9 446.2 552.9 446.6 552.6 447 552.1 447.4 551.3 447.8 550.5 448.2 549.5 448.6 548.7 449 547.9 449.4 547.3 449.8 547.1 450.2 547.1 450.6 547.3 451 547.9 451.4 548.6 451.8 549.4 452.2 550.3 452.6 551.1 453 551.9 453.4 552.5 453.8 552.8 454.2 552.9 454.6 552.7 455 552.2 455.4 551.5 455.8 550.5 456.2 549.4 456.6 548.1 457 547 457.4 545.9 457.8 545.2 458.2 544.8 458.6 544.9 459 545.5 459.4 546.7 459.8 548.3 460.2 550.2 460.6 552.4 461 554.5 461.4 556.3 461.8 557.5 462.2 558.1 462.6 557.8 463 556.6 463.4 554.6 463.8 551.9 464.2 548.8 464.6 545.6 465 542.6 465.4 540.2 465.8 538.5 466.2 537.9 466.6 538.2 467 539.6 467.4 542 467.8 545.1 468.2 548.8 468.6 552.7 469 556.5 469.4 560 469.8 562.9 470.2 564.8 470.6 565.5 471 564.9 471.4 562.8 471.8 559.5 472.2 555 472.6 549.8 473 544.3 473.4 539.1 473.8 534.7 474.2 531.7 474.6 530.3 475 531 475.4 533.7 475.8 538.3 476.2 544.3 476.6 551.1 477 557.9 477.4 564 477.8 568.6 478.2 571.2 478.6 571.8 479 570.2 479.4 566.7 479.8 561.7 480.2 555.7 480.6 549.2 481 542.6 481.4 536.6 481.8 531.8 482.2 528.6 482.6 527.6 483 528.8 483.4 532.3 483.8 537.7 484.2 544.4 484.6 551.6 485 558.5 485.4 564.3 485.8 568.4 486.2 570.3 486.6 569.9 487 567.3 487.4 562.9 487.8 557.2 488.2 550.9 488.6 544.6 489 539 489.4 534.7 489.8 532.1 490.2 531.4 490.6 532.6 491 535.5 491.4 539.9 491.8 545.2 492.2 550.8 492.6 556.2 493 560.8 493.4 564.2 493.8 566 494.2 566.1 494.6 564.6 495 561.7 495.4 557.8 495.8 553.3 496.2 548.6 496.6 544.2 497 540.5 497.4 537.8 497.8 536.1 498.2 535.7 498.6 536.6 499 538.5 499.4 541.4 499.8 544.9 500.2 548.8 500.6 552.6 501 556 501.4 558.7 501.8 560.4 502.2 561.2 502.6 560.9 503 559.7 503.4 557.7 503.8 555.1 504.2 552.2 504.6 549.2 505 546.4 505.4 544.1 505.8 542.4 506.2 541.5 506.6 541.4 507 541.9 507.4 543.1 507.8 544.8 508.2 546.8 508.6 549 509 551.2 509.4 553.3 509.8 555.1 510.2 556.4 510.6 557.3 511 557.4 511.4 556.9 511.8 555.8 512.2 554 512.6 551.8 513 549.3 513.4 546.8 513.8 544.5 514.2 542.5 514.6 541.2 515 540.6 515.4 540.9 515.8 542 516.2 544 516.6 546.7 517 549.8 517.4 553.1 517.8 556.1 518.2 558.6 518.6 560.2 519 560.9 519.4 560.5 519.8 559 520.2 556.6 520.6 553.4 521 549.7 521.4 545.9 521.8 542.4 522.2 539.4 522.6 537.5 523 536.7 523.4 537.2 523.8 538.9 524.2 541.8 524.6 545.4 525 549.5 525.4 553.6 525.8 557.5 526.2 560.7 526.6 563.2 527 564.6 527.4 564.9 527.8 564 528.2 561.8 528.6 558.6 529 554.4 529.4 549.8 529.8 545.1 530.2 540.6 530.6 537 531 534.6 531.4 533.7 531.8 534.4 532.2 536.7 532.6 540.3 533 545 533.4 550.3 533.8 555.6 534.2 560.2 534.6 563.8 535 565.9 535.4 566.2 535.8 564.8 536.2 561.8 536.6 557.6 537 552.7 537.4 547.6 537.8 542.9 538.2 538.9 538.6 535.9 539 534.4 539.4 534.2 539.8 535.3 540.2 537.6 540.6 540.9 541 544.9 541.4 549.3 541.8 553.7 542.2 557.7 542.6 560.9 543 563 543.4 563.8 543.8 563.2 544.2 561.4 544.6 558.5 545 554.8 545.4 550.8 545.8 546.8 546.2 543.3 546.6 540.6 547 538.9 547.4 538.3 547.8 538.8 548.2 540.4 548.6 542.8 549 545.8 549.4 549 549.8 552 550.2 554.7 550.6 556.8 551 558.2 551.4 558.7 551.8 558.4 552.2 557.3 552.6 555.7 553 553.6 553.4 551.2 553.8 548.9 554.2 546.7 554.6 545 555 543.7 555.4 543.1 555.8 543.1 556.2 543.8 556.6 545.1 557 546.7 557.4 548.7 557.8 550.6 558.2 552.5 558.6 554 559 555.1 559.4 555.7 559.8 555.7 560.2 555.1 560.6 554 561 552.5 561.4 550.7 561.8 548.7 562.2 546.8 562.6 545.1 563 543.7 563.4 543 563.8 542.9 564.2 543.5 564.6 544.8 565 546.7 565.4 549 565.8 551.5 566.2 553.8 566.6 555.9 567 557.3 567.4 558 567.8 557.8 568.2 556.7 568.6 554.9 569 552.4 569.4 549.6 569.8 546.9 570.2 544.4 570.6 542.6 571 541.5 571.4 541.4 571.8 542.2 572.2 543.7 572.6 546 573 548.6 573.4 551.3 573.8 553.9 574.2 556 574.6 557.4 575 558 575.4 557.7 575.8 556.4 576.2 554.4 576.6 551.9 577 549 577.4 546.3 577.8 543.9 578.2 542.3 578.6 541.5 579 541.8 579.4 543 579.8 545.2 580.2 547.9 580.6 550.9 581 553.8 581.4 556.2 581.8 558 582.2 558.8 582.6 558.8 583 557.8 583.4 556 583.8 553.6 584.2 550.8 584.6 547.9 585 545 585.4 542.5 585.8 540.6 586.2 539.5 586.6 539.3 587 540 587.4 541.7 587.8 544.2 588.2 547.4 588.6 550.9 589 554.4 589.4 557.7 589.8 560.3 590.2 562 590.6 562.6 591 562 591.4 560.3 591.8 557.4 592.2 553.7 592.6 549.5 593 545.1 593.4 541 593.8 537.6 594.2 535.3 594.6 534.3 595 534.7 595.4 536.4 595.8 539.4 596.2 543.3 596.6 547.9 597 552.7 597.4 557.3 597.8 561.6 598.2 565.1 598.6 567.6 599 568.8 599.4 568.7 599.8 567 600.2 563.9 600.6 559.5 601 554 601.4 547.9 601.8 541.7 602.2 536 602.6 531.5 603 528.7 603.4 527.9 603.8 529.3 604.2 532.8 604.6 538 605 544.4 605.4 551.5 605.8 558.5 606.2 564.8 606.6 569.8 607 572.9 607.4 573.8 607.8 572.4 608.2 568.8 608.6 563.5 609 556.8 609.4 549.6 609.8 542.5 610.2 536 610.6 530.7 611 527.1 611.4 525.4 611.8 525.7 612.2 527.9 612.6 532 613 537.5 613.4 544 613.8 550.9 614.2 557.7 614.6 563.8 615 568.5 615.4 571.3 615.8 572.1 616.2 570.6 616.6 567.2 617 562.1 617.4 556 617.8 549.4 618.2 543.1 618.6 537.8 619 533.9 619.4 531.8 619.8 531.6 620.2 533.1 620.6 536.2 621 540.3 621.4 545 621.8 549.9 622.2 554.4 622.6 558.3 623 561.2 623.4 563 623.8 563.5 624.2 562.7 624.6 560.7 625 557.7 625.4 554.1 625.8 550.2 626.2 546.5 626.6 543.5 627 541.5 627.4 540.5 627.8 540.7 628.2 541.9 628.6 543.8 629 546.1 629.4 548.4 629.8 550.6 630.2 552.3 630.6 553.5 631 554.1 631.4 554.1 631.8 553.6 632.2 552.8 632.6 551.9 633 550.9 633.4 550 633.8 549.2 634.2 548.5 634.6 547.9 635 547.4 635.4 547.1 635.8 547 636.2 547.1 636.6 547.4 637 547.8 637.4 548.5 637.8 549.4 638.2 550.5 638.6 551.6 639 552.8 639.4 553.8 639.8 554.7 640.2 555.2 640.6 555.4 641 555.1 641.4 554.2 641.8 553 642.2 551.3 642.6 549.3 643 547.1 643.4 545 643.8 543.1 644.2 541.7 644.6 540.8 645 540.7 645.4 541.4 645.8 542.9 646.2 545.2 646.6 548 647 551.1 647.4 554.1 647.8 557 648.2 559.2 648.6 560.8 649 561.4 649.4 561 649.8 559.5 650.2 557.2 650.6 554.1 651 550.5 651.4 546.7 651.8 543.1 652.2 539.9 652.6 537.6 653 536.3 653.4 536.2 653.8 537.4 654.2 539.9 654.6 543.4 655 547.7 655.4 552.4 655.8 557 656.2 561.1 656.6 564.2 657 566 657.4 566.4 657.8 565.3 658.2 562.9 658.6 559.4 659 554.9 659.4 549.8 659.8 544.4 660.2 539.2 660.6 534.7 661 531.4 661.4 529.6 661.8 529.8 662.2 532.1 662.6 536.1 663 541.7 663.4 548.2 663.8 555.1 664.2 561.6 664.6 567.2 665 571.4 665.4 573.8 665.8 574 666.2 572.1 666.6 568 667 561.9 667.4 554.4 667.8 546.1 668.2 537.9 668.6 530.7 669 525.2 669.4 522.1 669.8 521.8 670.2 524.2 670.6 529.3 671 536.4 671.4 545 671.8 554.2 672.2 563.3 672.6 571.3 673 577.6 673.4 581.6 673.8 582.8 674.2 581 674.6 576.2 675 568.5 675.4 558.8 675.8 547.7 676.2 536.6 676.6 526.5 677 518.6 677.4 513.8 677.8 512.7 678.2 515.5 678.6 521.7 679 530.8 679.4 541.7 679.8 553.3 680.2 564.6 680.6 574.6 681 582.4 681.4 587.4 681.8 589.1 682.2 587.4 682.6 582.2 683 574.1 683.4 563.7 683.8 551.8 684.2 539.7 684.6 528.5 685 519.4 685.4 513.4 685.8 511.1 686.2 512.8 686.6 518.3 687 526.9 687.4 537.8 687.8 549.6 688.2 561.1 688.6 571.3 689 579.1 689.4 583.8 689.8 585 690.2 582.8 690.6 577.5 691 569.7 691.4 560.4 691.8 550.4 692.2 540.8 692.6 532.3 693 525.7 693.4 521.5 693.8 520.1 694.2 521.6 694.6 525.8 695 532 695.4 539.7 695.8 548 696.2 556 696.6 562.9 697 568.3 697.4 571.8 697.8 573.1 698.2 572.3 698.6 569.5 699 565.2 699.4 559.7 699.8 553.5 700.2 547.2 700.6 541.5 701 537 701.4 534.1 701.8 532.9 702.2 533.6 702.6 535.8 703 539.1 703.4 543.2 703.8 547.4 704.2 551.4 704.6 554.8 705 557.4 705.4 559 705.8 559.7 706.2 559.4 706.6 558.4 707 556.7 707.4 554.6 707.8 552.3 708.2 550 708.6 548 709 546.5 709.4 545.4 709.8 545 710.2 545.1 710.6 545.6 711 546.5 711.4 547.5 711.8 548.6 712.2 549.7 712.6 550.5 713 551.2 713.4 551.5 713.8 551.7 714.2 551.6 714.6 551.3 715 550.9 715.4 550.5 715.8 550.1 716.2 549.8 716.6 549.5 717 549.2 717.4 549 717.8 548.8 718.2 548.8 718.6 548.9 719 549 719.4 549.2 719.8 549.5 720.2 549.8 720.6 550.2 721 550.7 721.4 551.1 721.8 551.5 722.2 551.8 722.6 551.9 723 551.7 723.4 551.3 723.8 550.6 724.2 549.7 724.6 548.6 725 547.4 725.4 546.2 725.8 545.1 726.2 544.4 726.6 544 727 544.3 727.4 545.3 727.8 546.8 728.2 548.9 728.6 551.3 729 553.8 729.4 556.4 729.8 558.6 730.2 560.2 730.6 561 731 560.9 731.4 559.6 731.8 557.1 732.2 553.6 732.6 549.2 733 544.3 733.4 539.5 733.8 535.4 734.2 532.7 734.6 531.9 735 533.1 735.4 536.5 735.8 541.6 736.2 547.9 736.6 554.6 737 561 737.4 566.5 737.8 570.6 738.2 572.8 738.6 572.9 739 571" fill="none" stroke="#b4b4b4" stroke-width="1.1" stroke-linejoin="round" stroke-linecap="round"/>
<polyline points="278.6 518.4 279.4 518.7 280.2 519 281 519.4 281.8 519.8 282.6 520.3 283.4 520.8 284.2 521.3 285 521.9 285.8 522.6 286.6 523.3 287.4 524.1 288.2 524.9 289 525.7 289.8 526.7 290.6 527.7 291.4 528.8 292.2 530 293 531.2 293.8 532.4 294.6 533.5 295.4 534.6 296.2 535.7 297 536.6 297.8 537.4 298.6 538.1 299.4 538.5 300.2 538.8 301 539.1 301.8 539.2 302.6 539.3 303.4 539.3 304.2 539.3 305 539.2 305.8 539.1 306.6 539 307.4 539 308.2 538.9 309 538.9 309.8 538.9 310.6 539 311.4 539.1 312.2 539.3 313 539.6 313.8 540 314.6 540.4 315.4 540.8 316.2 541.3 317 541.8 317.8 542.3 318.6 542.7 319.4 543.2 320.2 543.5 321 543.8 321.8 544.1 322.6 544.2 323.4 544.3 324.2 544.2 325 544 325.8 543.6 326.6 543.1 327.4 542.5 328.2 541.8 329 541 329.8 540.1 330.6 539.2 331.4 538.2 332.2 537.2 333 536.1 333.8 535.1 334.6 534.1 335.4 533.2 336.2 532.2 337 531.4 337.8 530.6 338.6 529.9 339.4 529.3 340.2 528.7 341 528.1 341.8 527.4 342.6 526.8 343.4 526.2 344.2 525.6 345 525 345.8 524.5 346.6 524 347.4 523.5 348.2 523.1 349 522.8 349.8 522.5 350.6 522.2 351.4 522.1 352.2 522 353 522 353.8 522.1 354.6 522.4 355.4 522.7 356.2 523.2 357 523.7 357.8 524.3 358.6 524.9 359.4 525.6 360.2 526.4 361 527.1 361.8 527.9 362.6 528.6 363.4 529.3 364.2 530 365 530.7 365.8 531.3 366.6 531.9 367.4 532.6 368.2 533.2 369 533.9 369.8 534.5 370.6 535.2 371.4 535.9 372.2 536.6 373 537.2 373.8 537.9 374.6 538.5 375.4 539.1 376.2 539.7 377 540.2 377.8 540.8 378.6 541.2 379.4 541.7 380.2 542.1 381 542.6 381.8 543 382.6 543.5 383.4 543.9 384.2 544.3 385 544.7 385.8 545.1 386.6 545.5 387.4 545.8 388.2 546.1 389 546.3 389.8 546.5 390.6 546.7 391.4 546.8 392.2 546.8 393 546.8 393.8 546.6 394.6 546.4 395.4 546.1 396.2 545.8 397 545.3 397.8 544.9 398.6 544.4 399.4 543.9 400.2 543.4 401 542.9 401.8 542.4 402.6 541.9 403.4 541.5 404.2 541.2 405 540.9 405.8 540.6 406.6 540.4 407.4 540.1 408.2 539.9 409 539.7 409.8 539.5 410.6 539.3 411.4 539.2 412.2 539.1 413 539 413.8 539 414.6 539 415.4 539.1 416.2 539.2 417 539.3 417.8 539.5 418.6 539.7 419.4 540 420.2 540.3 421 540.6 421.8 541 422.6 541.3 423.4 541.7 424.2 542 425 542.4 425.8 542.7 426.6 543 427.4 543.3 428.2 543.5 429 543.8 429.8 544 430.6 544.2 431.4 544.4 432.2 544.5 433 544.7 433.8 544.9 434.6 545 435.4 545.2 436.2 545.3 437 545.5 437.8 545.6 438.6 545.7 439.4 545.8 440.2 545.9 441 546 441.8 546.1 442.6 546.2 443.4 546.3 444.2 546.4 445 546.5 445.8 546.6 446.6 546.7 447.4 546.8 448.2 546.9 449 547 449.8 547 450.6 547 451.4 547 452.2 547 453 546.9 453.8 546.7 454.6 546.5 455.4 546.3 456.2 546 457 545.5 457.8 545 458.6 544.5 459.4 543.9 460.2 543.2 461 542.6 461.8 541.8 462.6 541.1 463.4 540.4 464.2 539.6 465 538.9 465.8 538.2 466.6 537.5 467.4 536.9 468.2 536.2 469 535.6 469.8 534.8 470.6 534.1 471.4 533.3 472.2 532.5 473 531.8 473.8 531 474.6 530.3 475.4 529.7 476.2 529.1 477 528.5 477.8 528.1 478.6 527.7 479.4 527.5 480.2 527.3 481 527.3 481.8 527.4 482.6 527.6 483.4 527.8 484.2 528.1 485 528.5 485.8 528.9 486.6 529.4 487.4 529.8 488.2 530.3 489 530.7 489.8 531.2 490.6 531.6 491.4 531.9 492.2 532.3 493 532.8 493.8 533.2 494.6 533.7 495.4 534.1 496.2 534.6 497 535 497.8 535.5 498.6 536 499.4 536.4 500.2 536.9 501 537.4 501.8 538 502.6 538.6 503.4 539.2 504.2 539.8 505 540.4 505.8 540.9 506.6 541.4 507.4 541.7 508.2 542 509 542.2 509.8 542.2 510.6 542.2 511.4 542 512.2 541.8 513 541.5 513.8 541.2 514.6 540.8 515.4 540.4 516.2 540 517 539.6 517.8 539.2 518.6 538.9 519.4 538.5 520.2 538.1 521 537.7 521.8 537.3 522.6 536.9 523.4 536.5 524.2 536 525 535.6 525.8 535.3 526.6 534.9 527.4 534.6 528.2 534.4 529 534.2 529.8 534 530.6 533.8 531.4 533.7 532.2 533.5 533 533.4 533.8 533.3 534.6 533.3 535.4 533.3 536.2 533.3 537 533.4 537.8 533.6 538.6 533.8 539.4 534.1 540.2 534.4 541 534.7 541.8 535 542.6 535.4 543.4 535.8 544.2 536.2 545 536.7 545.8 537.2 546.6 537.7 547.4 538.2 548.2 538.8 549 539.3 549.8 539.8 550.6 540.4 551.4 540.9 552.2 541.3 553 541.8 553.8 542.2 554.6 542.6 555.4 542.9 556.2 543.2 557 543.5 557.8 543.7 558.6 543.8 559.4 543.9 560.2 543.8 561 543.7 561.8 543.5 562.6 543.2 563.4 542.9 564.2 542.6 565 542.3 565.8 542 566.6 541.8 567.4 541.6 568.2 541.4 569 541.4 569.8 541.3 570.6 541.3 571.4 541.4 572.2 541.4 573 541.5 573.8 541.5 574.6 541.6 575.4 541.6 576.2 541.6 577 541.6 577.8 541.6 578.6 541.5 579.4 541.4 580.2 541.2 581 541 581.8 540.8 582.6 540.6 583.4 540.4 584.2 540.1 585 539.8 585.8 539.5 586.6 539.2 587.4 538.8 588.2 538.4 589 537.9 589.8 537.4 590.6 537 591.4 536.5 592.2 536 593 535.5 593.8 534.9 594.6 534.3 595.4 533.6 596.2 533 597 532.3 597.8 531.7 598.6 531.1 599.4 530.4 600.2 529.8 601 529.3 601.8 528.7 602.6 528.3 603.4 527.8 604.2 527.5 605 527 605.8 526.6 606.6 526.2 607.4 525.8 608.2 525.5 609 525.3 609.8 525.2 610.6 525.1 611.4 525.2 612.2 525.4 613 525.8 613.8 526.2 614.6 526.6 615.4 527.2 616.2 527.9 617 528.6 617.8 529.4 618.6 530.2 619.4 531.1 620.2 532 621 532.9 621.8 533.9 622.6 534.8 623.4 535.7 624.2 536.5 625 537.3 625.8 538 626.6 539 627.4 540.1 628.2 541.3 629 542.5 629.8 543.6 630.6 544.6 631.4 545.5 632.2 546.3 633 546.8 633.8 547.1 634.6 547.2 635.4 547.1 636.2 546.9 637 546.5 637.8 546.1 638.6 545.6 639.4 545 640.2 544.4 641 543.7 641.8 543 642.6 542.3 643.4 541.7 644.2 541.1 645 540.5 645.8 540 646.6 539.5 647.4 539.1 648.2 538.6 649 538.2 649.8 537.8 650.6 537.4 651.4 537 652.2 536.6 653 536.2 653.8 535.7 654.6 535.2 655.4 534.6 656.2 534 657 533.4 657.8 532.8 658.6 532.1 659.4 531.4 660.2 530.7 661 530 661.8 529.2 662.6 528.4 663.4 527.6 664.2 526.8 665 526 665.8 525.2 666.6 524.4 667.4 523.7 668.2 522.9 669 522.2 669.8 521.4 670.6 520.5 671.4 519.5 672.2 518.6 673 517.6 673.8 516.7 674.6 515.8 675.4 514.9 676.2 514 677 513.3 677.8 512.6 678.6 512 679.4 511.5 680.2 511.1 681 510.7 681.8 510.5 682.6 510.3 683.4 510.3 684.2 510.4 685 510.7 685.8 511.1 686.6 511.6 687.4 512.3 688.2 513.1 689 513.8 689.8 514.6 690.6 515.5 691.4 516.6 692.2 517.7 693 518.9 693.8 520.1 694.6 521.3 695.4 522.6 696.2 523.9 697 525.1 697.8 526.4 698.6 527.5 699.4 528.7 700.2 529.9 701 531.3 701.8 532.7 702.6 534.1 703.4 535.5 704.2 536.9 705 538.2 705.8 539.5 706.6 540.7 707.4 541.9 708.2 542.9 709 543.8 709.8 544.7 710.6 545.4 711.4 546.1 712.2 546.8 713 547.3 713.8 547.8 714.6 548.2 715.4 548.6 716.2 548.8 717 549 717.8 549 718.6 549 719.4 548.9 720.2 548.7 721 548.4 721.8 548 722.6 547.6 723.4 547 724.2 546.4 725 545.7 725.8 544.8 726.6 543.9 727.4 543 728.2 542.1 729 541 729.8 539.8 730.6 538.5 731.4 537.2 732.2 535.8 733 534.4 733.8 533.1 734.6 531.7 735.4 530.4 736.2 529.2 737 528.1 737.8 527.1 738.6 526.3" fill="none" stroke="#0000ff" stroke-width="3" stroke-linejoin="round" stroke-linecap="round"/>
<polyline points="278.6 669.1 279 672.2 279.4 675.5 279.8 677.1 280.2 676.1 280.6 671.6 281 665.1 281.4 661.6 281.8 663.9 282.2 670.3 282.6 678.3 283 684.8 283.4 685.8 283.8 679.9 284.2 670.6 284.6 662.4 285 658.5 285.4 659.8 285.8 665.3 286.2 673.4 286.6 681.2 287 685.4 287.4 684.4 287.8 678.7 288.2 670.8 288.6 664.3 289 661.7 289.4 663.3 289.8 668.6 290.2 675.6 290.6 681.6 291 684 291.4 681.3 291.8 673.8 292.2 663.8 292.6 655.9 293 655 293.4 662.6 293.8 675.1 294.2 685.8 294.6 688.8 295 682.6 295.4 671.7 295.8 661.9 296.2 658 296.6 662.1 297 671.6 297.4 681.1 297.8 685.8 298.2 683.4 298.6 675.5 299 666.1 299.4 658.3 299.8 655.8 300.2 660.7 300.6 670.5 301 680.4 301.4 687.1 301.8 687.8 302.2 680.3 302.6 667.2 303 656 303.4 654.1 303.8 663.4 304.2 678.1 304.6 688.5 305 688.3 305.4 677.4 305.8 662.2 306.2 652.1 306.6 654.9 307 669.1 307.4 684.5 307.8 691.4 308.2 686.4 308.6 672.2 309 658.3 309.4 654.2 309.8 661.1 310.2 672.9 310.6 683 311 686.2 311.4 680.7 311.8 670.2 312.2 662.8 312.6 662.6 313 667.3 313.4 673.9 313.8 679.2 314.2 679.8 314.6 676.1 315 670.7 315.4 666.5 315.8 665 316.2 666.8 316.6 671.2 317 676.1 317.4 678.7 317.8 678.3 318.2 674.8 318.6 669.1 319 664.6 319.4 664.1 319.8 668.1 320.2 675.4 320.6 681.5 321 681.9 321.4 676.4 321.8 668.1 322.2 660.3 322.6 658.1 323 663.8 323.4 674.6 323.8 685.7 324.2 691.7 324.6 688.5 325 676.8 325.4 663.1 325.8 654 326.2 652.6 326.6 659.2 327 672.8 327.4 688.8 327.8 698.3 328.2 694.6 328.6 679.5 329 661.2 329.4 649.1 329.8 649.1 330.2 661.9 330.6 680.5 331 693.1 331.4 692.1 331.8 679.8 332.2 664.5 332.6 655.4 333 655.7 333.4 664 333.8 676.6 334.2 686.9 334.6 690.3 335 685.7 335.4 675 335.8 661.4 336.2 650.7 336.6 648.7 337 658.4 337.4 677.3 337.8 696.2 338.2 703.1 338.6 692.2 339 668.2 339.4 643.8 339.8 634.6 340.2 649.6 340.6 680.9 341 707.9 341.4 713.6 341.8 694.5 342.2 661.6 342.6 634.2 343 626.6 343.4 641.6 343.8 671 344.2 699.7 344.6 714.5 345 711.4 345.4 692.6 345.8 665.6 346.2 641.6 346.6 631.5 347 638.8 347.4 660 347.8 686.6 348.2 706.2 348.6 708.7 349 692.7 349.4 667.2 349.8 644.9 350.2 638.3 350.6 651.2 351 675.3 351.4 694.9 351.8 699 352.2 687.1 352.6 667.7 353 653.5 353.4 651.9 353.8 661.4 354.2 674.9 354.6 684.4 355 684.9 355.4 678.7 355.8 671.9 356.2 667.3 356.6 665.5 357 666.8 357.4 670.5 357.8 674.1 358.2 675.5 358.6 674.5 359 673.3 359.4 671.7 359.8 669.9 360.2 668.3 360.6 668 361 671.1 361.4 677.3 361.8 681.2 362.2 679.2 362.6 673.3 363 667.1 363.4 663.7 363.8 665.9 364.2 672.5 364.6 677.7 365 678.6 365.4 675.6 365.8 669.7 366.2 665.1 366.6 665.5 367 669.5 367.4 674 367.8 677.8 368.2 678.5 368.6 675.4 369 670.6 369.4 667 369.8 666.2 370.2 668.2 370.6 672.2 371 676.2 371.4 677.9 371.8 676.3 372.2 673.1 372.6 669.3 373 666.7 373.4 667.3 373.8 670.1 374.2 673 374.6 675.1 375 675.3 375.4 673.9 375.8 671.6 376.2 669.7 376.6 668.9 377 669.5 377.4 671.6 377.8 674.5 378.2 676.4 378.6 676.5 379 674.7 379.4 671 379.8 666.6 380.2 663.4 380.6 664.1 381 669 381.4 674.8 381.8 678.3 382.2 679.7 382.6 678.3 383 673.6 383.4 668.1 383.8 665.2 384.2 665.5 384.6 668.1 385 672.5 385.4 676.8 385.8 677.7 386.2 675.1 386.6 672.1 387 670.5 387.4 669.5 387.8 669.7 388.2 672.4 388.6 675 389 675.2 389.4 673.7 389.8 670.6 390.2 666.7 390.6 665.5 391 669.3 391.4 676 391.8 681.3 392.2 681.5 392.6 676.4 393 668.1 393.4 660.5 393.8 657.3 394.2 661 394.6 671.4 395 683.8 395.4 692 395.8 691.3 396.2 681 396.6 664.3 397 649.1 397.4 644.6 397.8 654.2 398.2 673.7 398.6 693 399 701.7 399.4 695.8 399.8 678 400.2 655.7 400.6 640.6 401 641 401.4 656.6 401.8 679.2 402.2 698.4 402.6 706.2 403 700.9 403.4 685.8 403.8 667 404.2 650.4 404.6 640.9 405 641.5 405.4 653.1 405.8 672.5 406.2 692.3 406.6 703.1 407 697.6 407.4 677.5 407.8 654.5 408.2 643.7 408.6 651.6 409 671.4 409.4 690.3 409.8 697.2 410.2 688.3 410.6 670.5 411 654.9 411.4 649.6 411.8 656.9 412.2 671.7 412.6 685.3 413 690.7 413.4 686.6 413.8 676.1 414.2 664.5 414.6 656.5 415 655.5 415.4 663.4 415.8 677.1 416.2 688.7 416.6 691.5 417 682.8 417.4 665.9 417.8 651.1 418.2 649.6 418.6 662.4 419 680.8 419.4 693.9 419.8 695.1 420.2 684.6 420.6 667.6 421 652.2 421.4 645.3 421.8 649.3 422.2 661.9 422.6 678.4 423 693 423.4 699.5 423.8 692.7 424.2 674.6 424.6 654.5 425 644.3 425.4 650.7 425.8 670.1 426.2 689.7 426.6 697.8 427 690 427.4 670.6 427.8 651.8 428.2 645.4 428.6 654.7 429 673.3 429.4 690 429.8 696.3 430.2 690.2 430.6 674.3 431 657.4 431.4 649.3 431.8 654.1 432.2 667.7 432.6 682.3 433 689.9 433.4 686.6 433.8 674.4 434.2 662.6 434.6 659.2 435 664.1 435.4 672.8 435.8 679 436.2 678.7 436.6 674.6 437 671.6 437.4 670.6 437.8 670.4 438.2 671 438.6 672 439 672.7 439.4 673 439.8 672.7 440.2 672.1 440.6 670.3 441 668.3 441.4 668.6 441.8 672.2 442.2 677 442.6 680.2 443 678.4 443.4 670.9 443.8 662.4 444.2 659.1 444.6 663.8 445 673.1 445.4 681.5 445.8 685.1 446.2 681.2 446.6 671.7 447 662.6 447.4 658.9 447.8 662.3 448.2 670.1 448.6 677.8 449 681.7 449.4 680.5 449.8 675.2 450.2 670 450.6 667.8 451 668.3 451.4 670.2 451.8 672.3 452.2 674.5 452.6 675.9 453 675.1 453.4 672.6 453.8 670.7 454.2 670.4 454.6 670.7 455 671.2 455.4 672.3 455.8 673.8 456.2 674.8 456.6 674.6 457 672.6 457.4 669.5 457.8 666.7 458.2 666.1 458.6 669 459 674.9 459.4 681 459.8 683.7 460.2 680.3 460.6 670.1 461 657.5 461.4 651.1 461.8 656.8 462.2 672.3 462.6 689.4 463 697.7 463.4 690.9 463.8 672.7 464.2 653.9 464.6 644.1 465 648.4 465.4 665.2 465.8 686.1 466.2 700.9 466.6 702.1 467 688.8 467.4 667.2 467.8 647.4 468.2 639 468.6 646.5 469 667.3 469.4 690.5 469.8 703.4 470.2 700 470.6 683.2 471 662.1 471.4 646.9 471.8 645.2 472.2 657.9 472.6 677.3 473 691.7 473.4 693.6 473.8 682.4 474.2 665.5 474.6 654.3 475 655.6 475.4 667.8 475.8 682.6 476.2 689.3 476.6 683.7 477 671.2 477.4 660.1 477.8 656.7 478.2 662.6 478.6 673.9 479 683.6 479.4 686.5 479.8 681.2 480.2 671.6 480.6 664.2 481 662.2 481.4 664.8 481.8 670.8 482.2 677.1 482.6 678.9 483 676.4 483.4 672.9 483.8 670.6 484.2 669.6 484.6 670 485 671.4 485.4 672.5 485.8 672.9 486.2 673 486.6 672.5 487 671.7 487.4 671.1 487.8 671 488.2 671.6 488.6 672.6 489 674.9 489.4 675.8 489.8 672.4 490.2 666.9 490.6 664.5 491 667.6 491.4 674.5 491.8 682 492.2 684.8 492.6 678.4 493 666.1 493.4 656.5 493.8 655.4 494.2 663 494.6 676.1 495 688.3 495.4 692.4 495.8 686.1 496.2 673.4 496.6 661.1 497 654.6 497.4 656.1 497.8 664.2 498.2 675.4 498.6 684.9 499 688.4 499.4 684.5 499.8 675.8 500.2 666.5 500.6 660.6 501 660 501.4 664.2 501.8 672.1 502.2 680.1 502.6 683.6 503 681.1 503.4 673.9 503.8 665.1 504.2 660.3 504.6 663.3 505 671.2 505.4 678.9 505.8 683 506.2 680.2 506.6 670.6 507 660.1 507.4 656.4 507.8 663 508.2 677.4 508.6 690.7 509 692.3 509.4 679.6 509.8 660.4 510.2 647.4 510.6 650.4 511 668.7 511.4 690.3 511.8 700.8 512.2 693.2 512.6 672.6 513 652.1 513.4 642.9 513.8 650.7 514.2 672.9 514.6 696.4 515 705.1 515.4 693.7 515.8 669.9 516.2 646.7 516.6 637.8 517 648.3 517.4 670.6 517.8 691.9 518.2 703.3 518.6 700.2 519 684.4 519.4 663.6 519.8 646.5 520.2 639.9 520.6 647.5 521 666.3 521.4 687.6 521.8 701.4 522.2 700.7 522.6 685.9 523 664.2 523.4 646.7 523.8 643.6 524.2 657.5 524.6 680.7 525 699.8 525.4 702.2 525.8 684.4 526.2 657.5 526.6 640.1 527 642.7 527.4 661.5 527.8 685 528.2 701.9 528.6 704.2 529 690.4 529.4 667.4 529.8 646.1 530.2 637.2 530.6 645.5 531 666.5 531.4 689.5 531.8 702.5 532.2 697.1 532.6 676.4 533 654.8 533.4 646.4 533.8 656.4 534.2 676.7 534.6 691.5 535 690.9 535.4 677.2 535.8 661 536.2 653.3 536.6 658.3 537 671.7 537.4 684.1 537.8 688.2 538.2 682.8 538.6 672.1 539 662 539.4 657.8 539.8 661.4 540.2 670.8 540.6 681.6 541 687.8 541.4 685.2 541.8 674.9 542.2 662.7 542.6 655.7 543 657.9 543.4 666.7 543.8 677 544.2 685.1 544.6 688 545 683.8 545.4 673.7 545.8 663 546.2 656.9 546.6 657.6 547 664 547.4 673.4 547.8 682.2 548.2 686.3 548.6 683.5 549 675.3 549.4 666.1 549.8 659.8 550.2 659.3 550.6 664.8 551 673.3 551.4 681.4 551.8 686 552.2 683.7 552.6 674.4 553 664.1 553.4 659.6 553.8 662.6 554.2 671.1 554.6 681 555 685.9 555.4 681.2 555.8 669.7 556.2 659.6 556.6 657.5 557 663.7 557.4 674 557.8 682.8 558.2 685.8 558.6 681.6 559 672.7 559.4 664.1 559.8 660.2 560.2 663 560.6 670.3 561 677.3 561.4 680.8 561.8 679.3 562.2 673.5 562.6 666.3 563 662 563.4 663.7 563.8 670.6 564.2 678.4 564.6 682 565 678.9 565.4 672 565.8 665.9 566.2 664.1 566.6 667.7 567 675.4 567.4 681.4 567.8 680.2 568.2 672.7 568.6 665.6 569 663 569.4 666.1 569.8 674.1 570.2 682.2 570.6 684.7 571 679.4 571.4 669.4 571.8 660.4 572.2 657.3 572.6 662.3 573 674.5 573.4 687 573.8 691.3 574.2 683.3 574.6 667.5 575 653.6 575.4 650.9 575.8 662 576.2 680.1 576.6 693.4 577 693.1 577.4 678.4 577.8 658.4 578.2 646.1 578.6 651.1 579 672.1 579.4 694.4 579.8 700.8 580.2 686.4 580.6 661.9 581 644.7 581.4 647.3 581.8 668 582.2 691.2 582.6 699.9 583 688.9 583.4 668 583.8 652.3 584.2 650.5 584.6 662 585 677.7 585.4 686.9 585.8 685.7 586.2 677.8 586.6 669 587 662.7 587.4 660.8 587.8 665.1 588.2 673.2 588.6 680.3 589 683.1 589.4 680.9 589.8 674.5 590.2 665.7 590.6 657.7 591 655.7 591.4 662.9 591.8 676.6 592.2 689.4 592.6 693.6 593 685.6 593.4 667.6 593.8 648.7 594.2 642 594.6 654.7 595 680.4 595.4 702.6 595.8 706.7 596.2 689.3 596.6 661 597 638.3 597.4 635.6 597.8 655.7 598.2 686.5 598.6 707.5 599 704.6 599.4 679.1 599.8 648.5 600.2 635.5 600.6 649.2 601 678.2 601.4 701.6 601.8 704.4 602.2 685.8 602.6 658.9 603 641.1 603.4 641.4 603.8 657.5 604.2 681.1 604.6 700.9 605 706 605.4 693.8 605.8 671.2 606.2 650 606.6 640.5 607 647.4 607.4 666.3 607.8 686.6 608.2 697.9 608.6 694.9 609 680.6 609.4 663.6 609.8 652.2 610.2 651.4 610.6 660.7 611 674.1 611.4 683.8 611.8 686.1 612.2 681.7 612.6 673.9 613 667 613.4 663.9 613.8 665.4 614.2 669.2 614.6 673.1 615 675.6 615.4 675.6 615.8 673.9 616.2 672.3 616.6 671.2 617 669.9 617.4 669.4 617.8 670.7 618.2 673.8 618.6 678 619 679.4 619.4 674.3 619.8 665.9 620.2 660.5 620.6 662.2 621 671 621.4 681.8 621.8 688 622.2 686.1 622.6 676.5 623 664.4 623.4 655.9 623.8 655.3 624.2 662.3 624.6 672.8 625 681 625.4 684.2 625.8 681.7 626.2 675.3 626.6 668.9 627 665.9 627.4 666.5 627.8 669.1 628.2 671.9 628.6 674.1 629 674.9 629.4 674.3 629.8 673 630.2 671.5 630.6 670 631 669.6 631.4 670.5 631.8 671.7 632.2 673.5 632.6 675.5 633 675.6 633.4 673.3 633.8 669.2 634.2 664.8 634.6 664.5 635 670.2 635.4 677.5 635.8 681.2 636.2 679.5 636.6 673.3 637 665.9 637.4 661.3 637.8 663.5 638.2 671.2 638.6 680 639 685.1 639.4 681.4 639.8 669.5 640.2 658.1 640.6 656.7 641 665.9 641.4 678.7 641.8 687.2 642.2 686 642.6 676 643 664.4 643.4 658.3 643.8 659.7 644.2 667.1 644.6 676.1 645 682.4 645.4 683.5 645.8 679.3 646.2 671.9 646.6 665.6 647 663.4 647.4 665.7 647.8 670.7 648.2 676.1 648.6 678.6 649 676.6 649.4 672.5 649.8 669.6 650.2 668.5 650.6 669.7 651 672.6 651.4 674.8 651.8 675.3 652.2 673.4 652.6 669.2 653 664.9 653.4 665 653.8 671.6 654.2 679.8 654.6 683.4 655 680.2 655.4 671.5 655.8 660.6 656.2 654.2 656.6 658.3 657 671.6 657.4 686.2 657.8 693.7 658.2 689.2 658.6 673.7 659 655.8 659.4 646.7 659.8 652.1 660.2 669.7 660.6 689.8 661 699.5 661.4 692.2 661.8 672.5 662.2 652 662.6 644.4 663 656.4 663.4 679.9 663.8 697.1 664.2 694.4 664.6 673.9 665 651.8 665.4 645.5 665.8 661.2 666.2 685.4 666.6 697.9 667 691.4 667.4 673.8 667.8 657 668.2 648.9 668.6 652.5 669 666.7 669.4 684 669.8 695.2 670.2 695.2 670.6 683.8 671 666.5 671.4 652.6 671.8 649.8 672.2 658.8 672.6 673.5 673 686.8 673.4 692.6 673.8 687.6 674.2 674.4 674.6 660.4 675 652.5 675.4 654.5 675.8 665.9 676.2 680.8 676.6 690.8 677 690 677.4 677.7 677.8 662 678.2 653.3 678.6 656.8 679 669.5 679.4 684 679.8 691.9 680.2 687.6 680.6 673.9 681 659.6 681.4 652.7 681.8 656.1 682.2 668.1 682.6 682.1 683 690.9 683.4 689.6 683.8 678.8 684.2 664.7 684.6 655.7 685 656.5 685.4 664.7 685.8 675 686.2 683.1 686.6 685.9 687 682 687.4 673.1 687.8 664 688.2 660.2 688.6 662.6 689 668.1 689.4 674.1 689.8 679 690.2 680.3 690.6 676.9 691 672.1 691.4 669.7 691.8 669.3 692.2 670.1 692.6 671.5 693 672.9 693.4 673.7 693.8 673.8 694.2 673.3 694.6 671.8 695 668.4 695.4 665.3 695.8 665.3 696.2 668.4 696.6 673.9 697 680.5 697.4 684.7 697.8 682.7 698.2 674.5 698.6 664.8 699 659.5 699.4 661.3 699.8 668.5 700.2 677.3 700.6 682.4 701 681 701.4 673.9 701.8 666.1 702.2 663.1 702.6 665.8 703 672.1 703.4 677.8 703.8 678.2 704.2 674.3 704.6 671.5 705 670.5 705.4 669.9 705.8 670.8 706.2 673.5 706.6 675.8 707 675.6 707.4 673.4 707.8 670.1 708.2 667 708.6 665.7 709 668.3 709.4 674.1 709.8 680.5 710.2 683.4 710.6 680 711 670.1 711.4 658.7 711.8 653.7 712.2 660.2 712.6 675.1 713 689.4 713.4 694.5 713.8 687.2 714.2 671.4 714.6 656.2 715 650.1 715.4 654.7 715.8 666.5 716.2 679.9 716.6 688.9 717 689.1 717.4 680.4 717.8 667.3 718.2 657.5 718.6 657 719 664.9 719.4 675 719.8 681.3 720.2 681.4 720.6 676.6 721 670.4 721.4 665.5 721.8 664.4 722.2 667.8 722.6 673.5 723 678.6 723.4 680.4 723.8 676.6 724.2 669.6 724.6 665.1 725 664.8 725.4 668.2 725.8 674.8 726.2 681.1 726.6 682.1 727 677.1 727.4 668.1 727.8 659.8 728.2 658.7 728.6 666.9 729 679.7 729.4 689.2 729.8 687.7 730.2 674.8 730.6 659.4 731 651.6 731.4 656.1 731.8 670.7 732.2 687.1 732.6 695.6 733 690.6 733.4 675 733.8 658.7 734.2 650.9 734.6 654.8 735 667.7 735.4 683 735.8 692 736.2 689.3 736.6 677.7 737 664.7 737.4 657 737.8 657 738.2 663.9 738.6 674.8 739 684.4" fill="none" stroke="#acacac" stroke-width="0.95" stroke-linejoin="round" stroke-linecap="round"/>
<polyline points="278.6 667.7 279.4 667.4 280.2 665.7 281 662.4 281.8 661.5 282.6 659.9 283.4 657.4 284.2 657.3 285 658.3 285.8 658.4 286.6 658 287.4 658.7 288.2 660 289 661.6 289.8 661.7 290.6 660.7 291.4 659 292.2 656.1 293 654 293.8 653.9 294.6 655.2 295.4 657.4 296.2 658 297 658.3 297.8 658.2 298.6 658 299.4 656.6 300.2 655.3 301 656.4 301.8 655.1 302.6 653.6 303.4 653.4 304.2 654 305 654 305.8 652.5 306.6 651.2 307.4 652.1 308.2 652.4 309 652.9 309.8 655.8 310.6 657.5 311.4 658 312.2 660.7 313 663.3 313.8 663.6 314.6 664.5 315.4 665 316.2 664.8 317 664.8 317.8 665 318.6 664 319.4 663.6 320.2 662.1 321 661.5 321.8 660.5 322.6 657.5 323.4 655.3 324.2 652.3 325 650.9 325.8 652.1 326.6 650.8 327.4 646.7 328.2 645.2 329 646.8 329.8 647.4 330.6 647.8 331.4 650.3 332.2 652.8 333 654.5 333.8 653.9 334.6 653.7 335.4 652.3 336.2 649.2 337 645.3 337.8 641.7 338.6 639.8 339.4 636.5 340.2 632.1 341 630 341.8 627.8 342.6 626.6 343.4 625.6 344.2 626.7 345 629.1 345.8 629.5 346.6 631.3 347.4 632.8 348.2 633.4 349 635.7 349.8 637.3 350.6 639.3 351.4 642.9 352.2 646.2 353 649.5 353.8 653.3 354.6 656.6 355.4 661.7 356.2 665.1 357 665.6 357.8 667.2 358.6 669.4 359.4 669.4 360.2 668.3 361 664.7 361.8 662.6 362.6 663.8 363.4 663.7 364.2 663.9 365 665.3 365.8 664.3 366.6 665.1 367.4 666.1 368.2 665.2 369 665.5 369.8 666.2 370.6 666 371.4 666.1 372.2 666.6 373 666.4 373.8 667.7 374.6 668.4 375.4 668.7 376.2 669 377 668.6 377.8 667.6 378.6 667.1 379.4 665.8 380.2 663.4 381 662.5 381.8 664.5 382.6 663.5 383.4 663.5 384.2 665.3 385 665.2 385.8 666.3 386.6 669.1 387.4 669.5 388.2 668.1 389 668.7 389.8 667.6 390.6 665 391.4 663 392.2 661.6 393 659.8 393.8 657.1 394.6 653.8 395.4 651.5 396.2 648.8 397 645.3 397.8 643.2 398.6 642.2 399.4 642 400.2 639.7 401 638.5 401.8 637.8 402.6 637.7 403.4 638.4 404.2 639.4 405 639.9 405.8 640.3 406.6 640.6 407.4 641.4 408.2 643.5 409 646 409.8 646.8 410.6 648.4 411.4 649.6 412.2 651 413 653.1 413.8 655.2 414.6 655.3 415.4 653.4 416.2 652.5 417 650.9 417.8 648.5 418.6 648.3 419.4 648.1 420.2 646.7 421 645.2 421.8 645.6 422.6 646 423.4 644.5 424.2 643.9 425 644.1 425.8 645.2 426.6 646.2 427.4 645.4 428.2 645.3 429 646.4 429.8 647.7 430.6 647.4 431.4 648.9 432.2 651.8 433 653.7 433.8 655.5 434.6 659.2 435.4 661.7 436.2 665.3 437 669.3 437.8 670.4 438.6 670.7 439.4 671.2 440.2 670.5 441 668.3 441.8 666.3 442.6 663.7 443.4 660.7 444.2 659.1 445 659.6 445.8 658.9 446.6 658.3 447.4 658.9 448.2 660.3 449 661.8 449.8 664 450.6 667.1 451.4 668.9 452.2 668.6 453 668 453.8 669.5 454.6 670.6 455.4 670 456.2 669.2 457 668.1 457.8 666.5 458.6 664.2 459.4 661.6 460.2 657.8 461 652.8 461.8 650 462.6 647.6 463.4 645.5 464.2 644.7 465 643 465.8 641.5 466.6 640.3 467.4 639.7 468.2 639 469 638.1 469.8 639.5 470.6 641.9 471.4 643.5 472.2 645.5 473 648.6 473.8 650.8 474.6 652.9 475.4 653.8 476.2 654.7 477 656.3 477.8 656.6 478.6 657 479.4 657.5 480.2 659.2 481 662.2 481.8 662.6 482.6 665 483.4 668.3 484.2 669.5 485 670.3 485.8 671.2 486.6 671.6 487.4 672.5 488.2 671.9 489 668.9 489.8 665.9 490.6 664.4 491.4 662.8 492.2 658.4 493 655.2 493.8 654.6 494.6 652.7 495.4 651.5 496.2 652.4 497 654 497.8 654.9 498.6 655.2 499.4 656.3 500.2 658.1 501 659.8 501.8 659.6 502.6 660.3 503.4 660.6 504.2 660.2 505 661.7 505.8 661 506.6 658.3 507.4 656.1 508.2 652.9 509 650.1 509.8 648.1 510.6 645.5 511.4 643.7 512.2 643.1 513 643.6 513.8 641.4 514.6 638.8 515.4 639.2 516.2 638.2 517 638.2 517.8 640 518.6 640.1 519.4 640.5 520.2 639.9 521 639.8 521.8 640.6 522.6 642.1 523.4 642.7 524.2 642.6 525 641.1 525.8 638.4 526.6 638.3 527.4 640 528.2 639.3 529 637.6 529.8 637 530.6 638 531.4 640 532.2 641.8 533 645.2 533.8 647.5 534.6 650.2 535.4 652.1 536.2 653.2 537 654.2 537.8 655.8 538.6 657 539.4 657.8 540.2 657.5 541 656.1 541.8 655.1 542.6 655.2 543.4 657 544.2 656.8 545 654.9 545.8 655.1 546.6 656.9 547.4 657.7 548.2 657.7 549 658.2 549.8 658.7 550.6 659.1 551.4 658.8 552.2 657.2 553 658.3 553.8 660.1 554.6 659.1 555.4 657.2 556.2 656.9 557 657.6 557.8 658 558.6 658.5 559.4 659.5 560.2 660.9 561 662.7 561.8 663.1 562.6 662.2 563.4 661.7 564.2 661.7 565 662.7 565.8 664 566.6 663.4 567.4 662.1 568.2 662.6 569 663 569.8 660.9 570.6 659 571.4 658.2 572.2 657.1 573 654.5 573.8 652.5 574.6 651.3 575.4 650 576.2 649.3 577 648.5 577.8 647.1 578.6 644.4 579.4 642.7 580.2 643.1 581 643.1 581.8 643.1 582.6 644.1 583.4 647.1 584.2 649.8 585 652.9 585.8 657.7 586.6 661 587.4 660.5 588.2 660.3 589 660.9 589.8 660.1 590.6 656.7 591.4 653.2 592.2 651.2 593 648.4 593.8 643.7 594.6 639.4 595.4 636.8 596.2 635.3 597 634 597.8 633.5 598.6 634.3 599.4 634.6 600.2 635.5 601 637.4 601.8 637.8 602.6 637.9 603.4 639.2 604.2 638.6 605 637.6 605.8 638.9 606.6 640.4 607.4 642.7 608.2 645.1 609 647.8 609.8 649.8 610.6 652 611.4 656 612.2 659.5 613 662.2 613.8 664.8 614.6 666.8 615.4 668.4 616.2 670.4 617 669.7 617.8 668.6 618.6 665.6 619.4 662.2 620.2 660.4 621 658 621.8 655.9 622.6 654.3 623.4 654.2 624.2 655.7 625 658.6 625.8 660.6 626.6 663.3 627.4 666.5 628.2 668.1 629 669 629.8 669.7 630.6 669.5 631.4 670 632.2 669.2 633 667.9 633.8 666.3 634.6 663.1 635.4 662.5 636.2 662.7 637 661.9 637.8 661.1 638.6 660.3 639.4 657.3 640.2 655.8 641 656.3 641.8 656.1 642.6 656.1 643.4 657.7 644.2 658.8 645 660 645.8 660.7 646.6 662.3 647.4 664.1 648.2 664.8 649 666.3 649.8 668.4 650.6 668.5 651.4 668.8 652.2 667.7 653 664.8 653.8 661.6 654.6 660.6 655.4 658.4 656.2 654.2 657 651.9 657.8 650.3 658.6 647.9 659.4 646.7 660.2 645.1 661 644.4 661.8 645 662.6 644.3 663.4 644.6 664.2 645.6 665 645.7 665.8 644.2 666.6 645.7 667.4 648.4 668.2 648.7 669 647 669.8 647.1 670.6 647.4 671.4 648.4 672.2 650.8 673 651.8 673.8 651.2 674.6 651.8 675.4 652 676.2 652.1 677 651.9 677.8 652.3 678.6 653.4 679.4 652.8 680.2 651.7 681 652.3 681.8 652.5 682.6 652.4 683.4 652.3 684.2 653.1 685 655.7 685.8 658 686.6 658 687.4 657.6 688.2 659.7 689 663 689.8 663.3 690.6 664.9 691.4 668.4 692.2 669.7 693 670 693.8 670.2 694.6 668.4 695.4 665.2 696.2 663.9 697 660.9 697.8 658.2 698.6 658.1 699.4 659.9 700.2 660.9 701 661.4 701.8 662.3 702.6 663.6 703.4 664.3 704.2 668 705 670.3 705.8 668.9 706.6 668 707.4 667.9 708.2 666.5 709 664.2 709.8 661.8 710.6 658.8 711.4 655.2 712.2 652.2 713 650.3 713.8 648.5 714.6 648.7 715.4 651.3 716.2 653.1 717 654 717.8 654.6 718.6 656.5 719.4 659.7 720.2 662.4 721 664.1 721.8 664.3 722.6 664.5 723.4 663.4 724.2 663.2 725 664.5 725.8 662.6 726.6 661.4 727.4 659.9 728.2 657.6 729 655.7 729.8 653 730.6 651.9 731.4 650.8 732.2 649 733 648.1 733.8 649.5 734.6 651.2 735.4 651.2 736.2 652.2 737 654.6 737.8 656.2 738.6 656" fill="none" stroke="#0000ff" stroke-width="2.9" stroke-linejoin="round" stroke-linecap="round"/>
<polyline points="843.7 517.9 844.1 522.3 844.5 529.1 844.9 537.5 845.3 546.7 845.7 555.8 846.1 563.8 846.5 569.7 846.9 573 847.3 573.2 847.7 570.4 848.1 564.8 848.5 557.3 848.9 548.7 849.3 540.2 849.7 532.6 850.1 526.7 850.5 523 850.9 521.7 851.3 522.8 851.7 526 852.1 530.9 852.5 537 852.9 543.8 853.3 550.6 853.7 556.9 854.1 562.1 854.5 565.8 854.9 567.7 855.3 567.6 855.7 565.4 856.1 561.4 856.5 555.8 856.9 549.2 857.3 542.3 857.7 535.8 858.1 530.3 858.5 526.4 858.9 524.4 859.3 524.6 859.7 526.9 860.1 531.1 860.5 536.5 860.9 542.9 861.3 549.4 861.7 555.7 862.1 561.1 862.5 565.2 862.9 567.8 863.3 568.4 863.7 567.2 864.1 564 864.5 559.1 864.9 552.9 865.3 546 865.7 539 866.1 532.6 866.5 527.5 866.9 524.2 867.3 523.2 867.7 524.5 868.1 527.9 868.5 533.1 868.9 539.4 869.3 546.2 869.7 553 870.1 559 870.5 563.8 870.9 567 871.3 568.4 871.7 567.8 872.1 565.3 872.5 561.3 872.9 556 873.3 549.8 873.7 543.3 874.1 537 874.5 531.5 874.9 527.3 875.3 524.9 875.7 524.7 876.1 526.8 876.5 530.9 876.9 536.6 877.3 543.2 877.7 550 878.1 556.1 878.5 561 878.9 564.4 879.3 566 879.7 565.7 880.1 563.8 880.5 560.4 880.9 555.6 881.3 550 881.7 544 882.1 538 882.5 532.9 882.9 529.2 883.3 527.4 883.7 527.7 884.1 530.3 884.5 534.6 884.9 540.3 885.3 546.5 885.7 552.5 886.1 557.7 886.5 561.6 886.9 564 887.3 564.6 887.7 563.6 888.1 560.9 888.5 556.9 888.9 551.8 889.3 546.1 889.7 540.3 890.1 534.9 890.5 530.4 890.9 527.3 891.3 525.9 891.7 526.5 892.1 529.1 892.5 533.3 892.9 538.9 893.3 545.4 893.7 552 894.1 558.2 894.5 563.2 894.9 566.4 895.3 567.5 895.7 566.4 896.1 563.1 896.5 558 896.9 551.6 897.3 544.6 897.7 537.9 898.1 532 898.5 527.6 898.9 525.1 899.3 524.6 899.7 526.1 900.1 529.4 900.5 534.2 900.9 539.9 901.3 546.1 901.7 552.2 902.1 557.5 902.5 561.7 902.9 564.4 903.3 565.4 903.7 564.6 904.1 562.1 904.5 558.2 904.9 553.2 905.3 547.7 905.7 542.2 906.1 537.2 906.5 533.3 906.9 530.6 907.3 529.6 907.7 530.1 908.1 532.2 908.5 535.6 908.9 540 909.3 544.8 909.7 549.6 910.1 553.8 910.5 557.1 910.9 559 911.3 559.6 911.7 558.7 912.1 556.5 912.5 553.4 912.9 549.6 913.3 545.6 913.7 541.8 914.1 538.8 914.5 536.6 914.9 535.6 915.3 535.8 915.7 537 916.1 539 916.5 541.5 916.9 544.2 917.3 546.9 917.7 549.3 918.1 551.1 918.5 552.3 918.9 552.9 919.3 552.7 919.7 551.9 920.1 550.7 920.5 549 920.9 547.3 921.3 545.5 921.7 543.9 922.1 542.6 922.5 541.7 922.9 541.2 923.3 541.2 923.7 541.7 924.1 542.6 924.5 543.8 924.9 545.2 925.3 546.8 925.7 548.4 926.1 550.1 926.5 551.6 926.9 552.7 927.3 553.3 927.7 553.1 928.1 552.1 928.5 550.1 928.9 547.3 929.3 543.9 929.7 540.1 930.1 536.7 930.5 534 930.9 532.5 931.3 532.5 931.7 534 932.1 537 932.5 541.1 932.9 545.9 933.3 550.9 933.7 555.6 934.1 559.7 934.5 562.8 934.9 564.5 935.3 564.5 935.7 562.8 936.1 559.2 936.5 554.1 936.9 547.8 937.3 541 937.7 534.6 938.1 529.5 938.5 526.4 938.9 525.7 939.3 527.6 939.7 531.8 940.1 537.7 940.5 544.4 940.9 551 941.3 556.9 941.7 561.5 942.1 564.2 942.5 565 942.9 563.7 943.3 560.7 943.7 556.2 944.1 550.7 944.5 544.9 944.9 539.5 945.3 534.9 945.7 531.6 946.1 530 946.5 530.2 946.9 532 947.3 535.2 947.7 539.3 948.1 543.9 948.5 548.4 948.9 552.4 949.3 555.6 949.7 557.6 950.1 558.4 950.5 557.9 950.9 556.3 951.3 553.9 951.7 550.9 952.1 547.7 952.5 544.7 952.9 541.9 953.3 539.7 953.7 538.2 954.1 537.3 954.5 537.3 954.9 537.9 955.3 539.2 955.7 541 956.1 543.2 956.5 545.6 956.9 547.9 957.3 549.8 957.7 551.3 958.1 552.2 958.5 552.4 958.9 551.9 959.3 550.9 959.7 549.4 960.1 547.6 960.5 545.8 960.9 544 961.3 542.5 961.7 541.5 962.1 541.1 962.5 541.2 962.9 541.8 963.3 542.9 963.7 544.2 964.1 545.7 964.5 547.1 964.9 548.4 965.3 549.3 965.7 549.9 966.1 550.1 966.5 549.8 966.9 549 967.3 548 967.7 546.8 968.1 545.7 968.5 544.7 968.9 543.9 969.3 543.2 969.7 542.9 970.1 542.7 970.5 542.9 970.9 543.3 971.3 544.1 971.7 545.3 972.1 546.7 972.5 548.1 972.9 549.5 973.3 550.6 973.7 551.4 974.1 551.6 974.5 551.1 974.9 549.9 975.3 548.1 975.7 545.9 976.1 543.4 976.5 541 976.9 539 977.3 537.6 977.7 537.2 978.1 537.9 978.5 539.5 978.9 542.1 979.3 545.3 979.7 548.8 980.1 552.1 980.5 555 980.9 557 981.3 557.8 981.7 557.4 982.1 555.6 982.5 552.6 982.9 548.9 983.3 544.7 983.7 540.6 984.1 537.1 984.5 534.5 984.9 533.1 985.3 533.1 985.7 534.3 986.1 536.7 986.5 539.9 986.9 543.7 987.3 547.7 987.7 551.5 988.1 554.6 988.5 556.8 988.9 557.7 989.3 557.4 989.7 555.9 990.1 553.3 990.5 550 990.9 546.4 991.3 542.9 991.7 539.9 992.1 537.6 992.5 536.4 992.9 536.3 993.3 537.2 993.7 539.2 994.1 541.8 994.5 544.9 994.9 548 995.3 550.8 995.7 553 996.1 554.4 996.5 555 996.9 554.7 997.3 553.5 997.7 551.6 998.1 549.2 998.5 546.3 998.9 543.4 999.3 540.6 999.7 538.3 1000.1 536.7 1000.5 536 1000.9 536.1 1001.3 537.1 1001.7 539 1002.1 541.4 1002.5 544.4 1002.9 547.6 1003.3 550.7 1003.7 553.7 1004.1 556 1004.5 557.6 1004.9 558.3 1005.3 557.7 1005.7 556.1 1006.1 553.5 1006.5 550.1 1006.9 546.2 1007.3 542.2 1007.7 538.4 1008.1 535.2 1008.5 532.9 1008.9 531.7 1009.3 531.9 1009.7 533.5 1010.1 536.3 1010.5 540.2 1010.9 544.7 1011.3 549.3 1011.7 553.8 1012.1 557.5 1012.5 560.1 1012.9 561.4 1013.3 561.2 1013.7 559.6 1014.1 556.6 1014.5 552.5 1014.9 547.8 1015.3 542.9 1015.7 538.4 1016.1 534.7 1016.5 532.1 1016.9 530.9 1017.3 531.3 1017.7 533.2 1018.1 536.5 1018.5 540.7 1018.9 545.4 1019.3 550.1 1019.7 554.3 1020.1 557.6 1020.5 559.7 1020.9 560.3 1021.3 559.4 1021.7 557.1 1022.1 553.6 1022.5 549.5 1022.9 545 1023.3 540.6 1023.7 536.6 1024.1 533.5 1024.5 531.4 1024.9 530.7 1025.3 531.4 1025.7 533.6 1026.1 537.2 1026.5 541.8 1026.9 547 1027.3 552.3 1027.7 557.1 1028.1 560.8 1028.5 562.8 1028.9 562.8 1029.3 560.8 1029.7 556.9 1030.1 551.8 1030.5 546 1030.9 540.2 1031.3 535.2 1031.7 531.6 1032.1 529.6 1032.5 529.5 1032.9 531.2 1033.3 534.2 1033.7 538.3 1034.1 542.9 1034.5 547.6 1034.9 551.9 1035.3 555.5 1035.7 558 1036.1 559.4 1036.5 559.6 1036.9 558.6 1037.3 556.5 1037.7 553.5 1038.1 550.1 1038.5 546.5 1038.9 543 1039.3 539.9 1039.7 537.7 1040.1 536.4 1040.5 536.2 1040.9 537 1041.3 538.8 1041.7 541.3 1042.1 544.1 1042.5 547 1042.9 549.6 1043.3 551.7 1043.7 553 1044.1 553.6 1044.5 553.3 1044.9 552.3 1045.3 550.7 1045.7 548.6 1046.1 546.3 1046.5 543.9 1046.9 541.7 1047.3 539.8 1047.7 538.3 1048.1 537.5 1048.5 537.4 1048.9 538.2 1049.3 539.7 1049.7 541.9 1050.1 544.8 1050.5 548 1050.9 551.3 1051.3 554.4 1051.7 556.9 1052.1 558.6 1052.5 559.1 1052.9 558.2 1053.3 556.1 1053.7 552.8 1054.1 548.5 1054.5 543.8 1054.9 539 1055.3 534.7 1055.7 531.3 1056.1 529.1 1056.5 528.5 1056.9 529.4 1057.3 531.9 1057.7 535.8 1058.1 540.8 1058.5 546.5 1058.9 552.4 1059.3 557.8 1059.7 562.2 1060.1 564.9 1060.5 565.6 1060.9 564.1 1061.3 560.6 1061.7 555.5 1062.1 549.4 1062.5 542.9 1062.9 536.8 1063.3 531.7 1063.7 528.2 1064.1 526.6 1064.5 527.2 1064.9 529.9 1065.3 534.5 1065.7 540.3 1066.1 546.8 1066.5 553.1 1066.9 558.5 1067.3 562.5 1067.7 564.5 1068.1 564.5 1068.5 562.5 1068.9 558.9 1069.3 554 1069.7 548.4 1070.1 542.7 1070.5 537.3 1070.9 532.9 1071.3 529.8 1071.7 528.1 1072.1 528 1072.5 529.4 1072.9 532.3 1073.3 536.3 1073.7 541.1 1074.1 546.4 1074.5 551.9 1074.9 557 1075.3 561.2 1075.7 564.1 1076.1 565.3 1076.5 564.5 1076.9 561.8 1077.3 557.4 1077.7 551.9 1078.1 545.9 1078.5 539.9 1078.9 534.7 1079.3 530.5 1079.7 527.9 1080.1 527 1080.5 528 1080.9 530.8 1081.3 535.1 1081.7 540.5 1082.1 546.5 1082.5 552.3 1082.9 557.5 1083.3 561.3 1083.7 563.5 1084.1 563.9 1084.5 562.6 1084.9 559.8 1085.3 555.8 1085.7 551 1086.1 545.9 1086.5 540.9 1086.9 536.4 1087.3 532.9 1087.7 530.7 1088.1 530 1088.5 530.8 1088.9 533.1 1089.3 536.6 1089.7 540.9 1090.1 545.6 1090.5 550.1 1090.9 554 1091.3 557 1091.7 558.7 1092.1 559 1092.5 558.1 1092.9 556.1 1093.3 553.4 1093.7 550.2 1094.1 546.8 1094.5 543.6 1094.9 540.8 1095.3 538.7 1095.7 537.2 1096.1 536.7 1096.5 537.1 1096.9 538.2 1097.3 539.9 1097.7 541.8 1098.1 543.8 1098.5 545.6 1098.9 547 1099.3 547.9 1099.7 548.4 1100.1 548.4 1100.5 548.2 1100.9 547.7 1101.3 547.3 1101.7 546.9 1102.1 546.5 1102.5 546.2 1102.9 545.8 1103.3 545.4 1103.7 544.9 1104.1 544.4 1104.5 543.9 1104.9 543.6 1105.3 543.6 1105.7 543.8 1106.1 544.4 1106.5 545.4 1106.9 546.7 1107.3 548.3 1107.7 549.9 1108.1 551.3 1108.5 552.4 1108.9 552.9 1109.3 552.6 1109.7 551.4 1110.1 549.4 1110.5 546.8 1110.9 543.8 1111.3 540.8 1111.7 538.2 1112.1 536.2 1112.5 535.2 1112.9 535.2 1113.3 536.3 1113.7 538.3 1114.1 541 1114.5 544.2 1114.9 547.6 1115.3 550.9 1115.7 553.9 1116.1 556.3 1116.5 557.8 1116.9 558.3 1117.3 557.7 1117.7 556 1118.1 553.3 1118.5 549.8 1118.9 545.8 1119.3 541.7 1119.7 538.1 1120.1 535.4 1120.5 534 1120.9 534 1121.3 535.4 1121.7 538.1 1122.1 541.8 1122.5 546.1 1122.9 550.3 1123.3 554 1123.7 556.7 1124.1 558 1124.5 557.9 1124.9 556.4 1125.3 553.6 1125.7 549.9 1126.1 545.7 1126.5 541.6 1126.9 538 1127.3 535.2 1127.7 533.4 1128.1 532.9 1128.5 533.5 1128.9 535.5 1129.3 538.4 1129.7 542.2 1130.1 546.5 1130.5 550.9 1130.9 554.8 1131.3 557.8 1131.7 559.5 1132.1 559.7 1132.5 558.5 1132.9 555.8 1133.3 552.2 1133.7 547.9 1134.1 543.5 1134.5 539.4 1134.9 536.2 1135.3 534 1135.7 533.2 1136.1 533.6 1136.5 535.2 1136.9 537.8 1137.3 541.1 1137.7 544.7 1138.1 548.2 1138.5 551.5 1138.9 554.1 1139.3 556 1139.7 557 1140.1 557 1140.5 556 1140.9 554.1 1141.3 551.5 1141.7 548.4 1142.1 545.1 1142.5 542 1142.9 539.2 1143.3 537.2 1143.7 536 1144.1 535.8 1144.5 536.6 1144.9 538.4 1145.3 541 1145.7 544.2 1146.1 547.6 1146.5 551 1146.9 553.8 1147.3 556 1147.7 557 1148.1 556.9 1148.5 555.4 1148.9 552.8 1149.3 549.4 1149.7 545.5 1150.1 541.6 1150.5 538 1150.9 535 1151.3 533.1 1151.7 532.4 1152.1 533 1152.5 535 1152.9 538.1 1153.3 542.2 1153.7 546.9 1154.1 551.7 1154.5 556.1 1154.9 559.8 1155.3 562.3 1155.7 563.3 1156.1 562.7 1156.5 560.4 1156.9 556.6 1157.3 551.6 1157.7 545.8 1158.1 539.8 1158.5 534.2 1158.9 529.6 1159.3 526.7 1159.7 525.6 1160.1 526.7 1160.5 529.8 1160.9 534.6 1161.3 540.5 1161.7 547.2 1162.1 554 1162.5 560 1162.9 564.7 1163.3 567.5 1163.7 567.9 1164.1 566 1164.5 561.9 1164.9 556.2 1165.3 549.5 1165.7 542.9 1166.1 537 1166.5 532.3 1166.9 529.3 1167.3 528.1 1167.7 528.7 1168.1 530.8 1168.5 534 1168.9 538 1169.3 542.2 1169.7 546.3 1170.1 550 1170.5 553 1170.9 555.1 1171.3 556 1171.7 555.8 1172.1 554.7 1172.5 552.9 1172.9 550.7 1173.3 548.3 1173.7 546.2 1174.1 544.4 1174.5 543 1174.9 542.2 1175.3 541.7 1175.7 541.6 1176.1 541.9 1176.5 542.4 1176.9 543 1177.3 544 1177.7 545.2 1178.1 546.6 1178.5 548.3 1178.9 550.1 1179.3 551.8 1179.7 553.1 1180.1 553.9 1180.5 554 1180.9 553.3 1181.3 551.9 1181.7 549.8 1182.1 547.2 1182.5 544.3 1182.9 541.3 1183.3 538.5 1183.7 536.3 1184.1 534.9 1184.5 534.4 1184.9 535.1 1185.3 536.8 1185.7 539.5 1186.1 542.9 1186.5 546.5 1186.9 550 1187.3 553 1187.7 555.2 1188.1 556.4 1188.5 556.6 1188.9 555.9 1189.3 554.3 1189.7 552 1190.1 549.3 1190.5 546.3 1190.9 543.4 1191.3 540.7 1191.7 538.4 1192.1 536.9 1192.5 536 1192.9 536 1193.3 537 1193.7 538.7 1194.1 541.2 1194.5 544.3 1194.9 547.7 1195.3 551 1195.7 554.1 1196.1 556.4 1196.5 557.8 1196.9 558 1197.3 557.1 1197.7 555 1198.1 551.9 1198.5 548 1198.9 543.8 1199.3 539.6 1199.7 535.8 1200.1 532.7 1200.5 530.8 1200.9 530.3 1201.3 531.5 1201.7 534.1 1202.1 538.2 1202.5 543.2 1202.9 548.7 1203.3 554.1 1203.7 559 1204.1 562.7 1204.5 565.1 1204.9 565.8 1205.3 564.9 1205.7 562.4 1206.1 558.4 1206.5 553.2 1206.9 547 1207.3 540.5 1207.7 534.3 1208.1 528.9 1208.5 525.1 1208.9 523.1 1209.3 523.3 1209.7 525.5 1210.1 529.7 1210.5 535.3 1210.9 541.8 1211.3 548.7 1211.7 555.5 1212.1 561.6 1212.5 566.4 1212.9 569.3 1213.3 570.1 1213.7 568.4 1214.1 564.2 1214.5 557.9 1214.9 550.3 1215.3 542.4 1215.7 535.1 1216.1 529.4 1216.5 526 1216.9 525.2 1217.3 526.8 1217.7 530.5 1218.1 535.6 1218.5 541.4 1218.9 547.4 1219.3 552.8 1219.7 557.1 1220.1 559.9 1220.5 560.9 1220.9 560.3 1221.3 558.2 1221.7 555.1 1222.1 551.4 1222.5 547.6 1222.9 544.2 1223.3 541.5 1223.7 539.8 1224.1 539.1 1224.5 539.4 1224.9 540.4 1225.3 541.9 1225.7 543.6 1226.1 545.1 1226.5 546.3 1226.9 547 1227.3 547.2 1227.7 547.2 1228.1 547 1228.5 547 1228.9 546.8 1229.3 546.6 1229.7 546.3 1230.1 546 1230.5 545.7 1230.9 545.4 1231.3 545.1 1231.7 544.7 1232.1 544.2 1232.5 543.9 1232.9 544 1233.3 544.6 1233.7 545.7 1234.1 547.3 1234.5 549.2 1234.9 551 1235.3 552.5 1235.7 553.3 1236.1 553.3 1236.5 552.4 1236.9 550.6 1237.3 548 1237.7 545 1238.1 541.8 1238.5 539 1238.9 536.8 1239.3 535.4 1239.7 535.1 1240.1 535.8 1240.5 537.5 1240.9 540 1241.3 543.3 1241.7 546.8 1242.1 550.3 1242.5 553.4 1242.9 555.8 1243.3 557.3 1243.7 557.6 1244.1 556.8 1244.5 554.8 1244.9 552 1245.3 548.4 1245.7 544.6 1246.1 540.9 1246.5 537.7 1246.9 535.4 1247.3 534.3 1247.7 534.6 1248.1 536.1 1248.5 538.8 1248.9 542.3 1249.3 546.2 1249.7 550.1 1250.1 553.4 1250.5 555.9 1250.9 557.3 1251.3 557.5 1251.7 556.5 1252.1 554.4 1252.5 551.4 1252.9 547.9 1253.3 544.2 1253.7 540.7 1254.1 537.7 1254.5 535.6 1254.9 534.7 1255.3 535 1255.7 536.6 1256.1 539.2 1256.5 542.6 1256.9 546.4 1257.3 550 1257.7 553.1 1258.1 555.4 1258.5 556.5 1258.9 556.4 1259.3 555.1 1259.7 552.8 1260.1 549.7 1260.5 546.2 1260.9 542.8 1261.3 539.8 1261.7 537.6 1262.1 536.4 1262.5 536.2 1262.9 537.1" fill="none" stroke="#ff8080" stroke-width="1.1" stroke-linejoin="round" stroke-linecap="round"/>
<polyline points="843.7 516.4 844.5 516.7 845.3 517.2 846.1 517.7 846.9 518.3 847.7 518.9 848.5 519.6 849.3 520.3 850.1 521 850.9 521.6 851.7 522.3 852.5 522.8 853.3 523.3 854.1 523.7 854.9 524 855.7 524.2 856.5 524.3 857.3 524.3 858.1 524.3 858.9 524.3 859.7 524.2 860.5 524 861.3 523.9 862.1 523.8 862.9 523.6 863.7 523.5 864.5 523.3 865.3 523.3 866.1 523.2 866.9 523.2 867.7 523.2 868.5 523.3 869.3 523.3 870.1 523.4 870.9 523.5 871.7 523.7 872.5 523.8 873.3 524 874.1 524.2 874.9 524.4 875.7 524.6 876.5 524.8 877.3 525.1 878.1 525.4 878.9 525.7 879.7 526 880.5 526.3 881.3 526.6 882.1 526.9 882.9 527.1 883.7 527.3 884.5 527.4 885.3 527.5 886.1 527.5 886.9 527.4 887.7 527.2 888.5 527 889.3 526.7 890.1 526.4 890.9 526.1 891.7 525.8 892.5 525.4 893.3 525.1 894.1 524.8 894.9 524.6 895.7 524.4 896.5 524.2 897.3 524.2 898.1 524.3 898.9 524.4 899.7 524.6 900.5 525 901.3 525.3 902.1 525.8 902.9 526.3 903.7 526.8 904.5 527.3 905.3 527.9 906.1 528.5 906.9 529.2 907.7 529.8 908.5 530.4 909.3 531 910.1 531.6 910.9 532.1 911.7 532.7 912.5 533.3 913.3 533.9 914.1 534.6 914.9 535.4 915.7 536.1 916.5 536.9 917.3 537.6 918.1 538.3 918.9 539 919.7 539.6 920.5 540.1 921.3 540.6 922.1 540.9 922.9 541.1 923.7 541.2 924.5 541.2 925.3 540.9 926.1 540.2 926.9 539.2 927.7 538.1 928.5 536.7 929.3 535.3 930.1 533.9 930.9 532.5 931.7 531.1 932.5 530 933.3 529 934.1 528.2 934.9 527.4 935.7 526.8 936.5 526.3 937.3 525.9 938.1 525.7 938.9 525.6 939.7 525.8 940.5 526.1 941.3 526.5 942.1 526.8 942.9 527.2 943.7 527.8 944.5 528.3 945.3 529 946.1 529.7 946.9 530.4 947.7 531.2 948.5 532 949.3 532.7 950.1 533.5 950.9 534.3 951.7 535 952.5 535.7 953.3 536.4 954.1 537 954.9 537.5 955.7 538 956.5 538.5 957.3 539 958.1 539.4 958.9 539.8 959.7 540.1 960.5 540.5 961.3 540.7 962.1 541 962.9 541.2 963.7 541.4 964.5 541.6 965.3 541.8 966.1 541.9 966.9 542.2 967.7 542.5 968.5 542.8 969.3 542.9 970.1 542.7 970.9 542.3 971.7 541.8 972.5 541.4 973.3 540.9 974.1 540.3 974.9 539.6 975.7 538.9 976.5 538.2 977.3 537.5 978.1 536.7 978.9 536 979.7 535.3 980.5 534.7 981.3 534.2 982.1 533.7 982.9 533.3 983.7 533 984.5 532.9 985.3 532.9 986.1 533.1 986.9 533.3 987.7 533.6 988.5 533.9 989.3 534.4 990.1 534.8 990.9 535.2 991.7 535.7 992.5 536.1 993.3 536.4 994.1 536.7 994.9 536.9 995.7 537 996.5 537 997.3 536.9 998.1 536.7 998.9 536.5 999.7 536.3 1000.5 535.9 1001.3 535.6 1002.1 535.2 1002.9 534.8 1003.7 534.4 1004.5 534 1005.3 533.5 1006.1 533.1 1006.9 532.7 1007.7 532.3 1008.5 531.9 1009.3 531.5 1010.1 531.2 1010.9 531 1011.7 530.7 1012.5 530.6 1013.3 530.4 1014.1 530.4 1014.9 530.5 1015.7 530.6 1016.5 530.8 1017.3 531 1018.1 531.2 1018.9 531.4 1019.7 531.6 1020.5 531.7 1021.3 531.7 1022.1 531.7 1022.9 531.5 1023.7 531.2 1024.5 530.9 1025.3 530.5 1026.1 530.1 1026.9 529.7 1027.7 529.3 1028.5 529 1029.3 528.8 1030.1 528.8 1030.9 528.9 1031.7 529.1 1032.5 529.4 1033.3 529.8 1034.1 530.4 1034.9 531 1035.7 531.7 1036.5 532.4 1037.3 533.2 1038.1 533.9 1038.9 534.7 1039.7 535.5 1040.5 536.2 1041.3 536.8 1042.1 537.4 1042.9 537.9 1043.7 538.3 1044.5 538.5 1045.3 538.6 1046.1 538.5 1046.9 538.3 1047.7 537.8 1048.5 537.2 1049.3 536.5 1050.1 535.6 1050.9 534.7 1051.7 533.8 1052.5 532.8 1053.3 531.8 1054.1 530.9 1054.9 530 1055.7 529.1 1056.5 528.4 1057.3 527.8 1058.1 527.4 1058.9 526.9 1059.7 526.6 1060.5 526.4 1061.3 526.3 1062.1 526.3 1062.9 526.4 1063.7 526.5 1064.5 526.6 1065.3 526.7 1066.1 526.7 1066.9 526.9 1067.7 527.2 1068.5 527.5 1069.3 527.8 1070.1 528 1070.9 528 1071.7 527.9 1072.5 527.7 1073.3 527.4 1074.1 527.2 1074.9 526.9 1075.7 526.8 1076.5 526.7 1077.3 526.7 1078.1 526.8 1078.9 526.9 1079.7 527 1080.5 527.1 1081.3 527.2 1082.1 527.4 1082.9 527.6 1083.7 527.9 1084.5 528.2 1085.3 528.5 1086.1 528.9 1086.9 529.3 1087.7 529.7 1088.5 530.2 1089.3 530.8 1090.1 531.4 1090.9 532 1091.7 532.6 1092.5 533.3 1093.3 534 1094.1 534.7 1094.9 535.4 1095.7 536 1096.5 537 1097.3 538.4 1098.1 539.8 1098.9 541.3 1099.7 542.7 1100.5 543.8 1101.3 544.6 1102.1 544.9 1102.9 544.8 1103.7 544.4 1104.5 543.9 1105.3 543.2 1106.1 542.4 1106.9 541.5 1107.7 540.5 1108.5 539.5 1109.3 538.5 1110.1 537.6 1110.9 536.7 1111.7 535.8 1112.5 535.2 1113.3 534.7 1114.1 534.3 1114.9 534 1115.7 533.8 1116.5 533.7 1117.3 533.6 1118.1 533.6 1118.9 533.7 1119.7 533.7 1120.5 533.8 1121.3 533.8 1122.1 533.9 1122.9 533.9 1123.7 533.9 1124.5 533.8 1125.3 533.6 1126.1 533.4 1126.9 533.2 1127.7 533 1128.5 532.7 1129.3 532.5 1130.1 532.3 1130.9 532.2 1131.7 532.2 1132.5 532.2 1133.3 532.3 1134.1 532.5 1134.9 532.8 1135.7 533.1 1136.5 533.5 1137.3 533.8 1138.1 534.2 1138.9 534.5 1139.7 534.8 1140.5 535.1 1141.3 535.3 1142.1 535.4 1142.9 535.6 1143.7 535.7 1144.5 535.8 1145.3 535.8 1146.1 535.7 1146.9 535.4 1147.7 535 1148.5 534.5 1149.3 534.1 1150.1 533.6 1150.9 533 1151.7 532.3 1152.5 531.6 1153.3 530.9 1154.1 530.2 1154.9 529.4 1155.7 528.7 1156.5 528 1157.3 527.3 1158.1 526.7 1158.9 526.1 1159.7 525.6 1160.5 525.3 1161.3 524.8 1162.1 524.2 1162.9 523.9 1163.7 524 1164.5 524.5 1165.3 525.4 1166.1 526.4 1166.9 527.3 1167.7 528.5 1168.5 529.9 1169.3 531.4 1170.1 533 1170.9 534.6 1171.7 536.2 1172.5 537.6 1173.3 539 1174.1 540.1 1174.9 541 1175.7 541.6 1176.5 541.9 1177.3 541.6 1178.1 540.9 1178.9 539.9 1179.7 538.7 1180.5 537.4 1181.3 536.3 1182.1 535.3 1182.9 534.6 1183.7 534.5 1184.5 534.4 1185.3 534.5 1186.1 534.6 1186.9 534.9 1187.7 535.1 1188.5 535.4 1189.3 535.6 1190.1 535.8 1190.9 536 1191.7 536 1192.5 536 1193.3 535.8 1194.1 535.4 1194.9 535.1 1195.7 534.6 1196.5 534.1 1197.3 533.5 1198.1 532.8 1198.9 532.1 1199.7 531.3 1200.5 530.6 1201.3 529.7 1202.1 528.9 1202.9 528.1 1203.7 527.3 1204.5 526.5 1205.3 525.7 1206.1 525 1206.9 524.4 1207.7 523.8 1208.5 523.2 1209.3 522.8 1210.1 522.4 1210.9 522.1 1211.7 521.8 1212.5 521.7 1213.3 521.9 1214.1 522.3 1214.9 522.9 1215.7 523.6 1216.5 524.6 1217.3 525.7 1218.1 526.9 1218.9 528 1219.7 529.3 1220.5 530.8 1221.3 532.4 1222.1 534.1 1222.9 535.9 1223.7 537.7 1224.5 539.4 1225.3 541 1226.1 542.5 1226.9 543.7 1227.7 544.7 1228.5 545.4 1229.3 545.8 1230.1 545.8 1230.9 545.4 1231.7 544.6 1232.5 543.7 1233.3 542.5 1234.1 541.2 1234.9 539.9 1235.7 538.6 1236.5 537.5 1237.3 536.4 1238.1 535.7 1238.9 535.3 1239.7 535 1240.5 534.8 1241.3 534.7 1242.1 534.5 1242.9 534.4 1243.7 534.3 1244.5 534.3 1245.3 534.3 1246.1 534.3 1246.9 534.3 1247.7 534.3 1248.5 534.3 1249.3 534.4 1250.1 534.4 1250.9 534.4 1251.7 534.5 1252.5 534.5 1253.3 534.6 1254.1 534.6 1254.9 534.6 1255.7 534.7 1256.5 534.9 1257.3 535 1258.1 535.2 1258.9 535.4 1259.7 535.6 1260.5 535.8 1261.3 536 1262.1 536.1 1262.9 536.2" fill="none" stroke="#0000ff" stroke-width="3" stroke-linejoin="round" stroke-linecap="round"/>
<polyline points="843.7 646.2 844.1 665.4 844.5 687 844.9 701.5 845.3 703.2 845.7 691.5 846.1 671.7 846.5 653 846.9 643.5 847.3 647.4 847.7 663.3 848.1 683.5 848.5 696.8 848.9 694.8 849.3 678.4 849.7 657.5 850.1 645.3 850.5 650.3 850.9 670.3 851.3 692.5 851.7 701.7 852.1 690.8 852.5 666.5 852.9 644.2 853.3 638.2 853.7 652.5 854.1 679.1 854.5 701.8 854.9 707.9 855.3 694.3 855.7 668.3 856.1 643.2 856.5 632.3 856.9 640.4 857.3 663.1 857.7 690.1 858.1 708.8 858.5 709.9 858.9 693.3 859.3 667.4 859.7 644 860.1 634.7 860.5 643.9 860.9 666.3 861.3 689.6 861.7 701.1 862.1 695.3 862.5 676.9 862.9 657.9 863.3 649.2 863.7 655 864.1 669.6 864.5 681.9 864.9 685.9 865.3 681 865.7 671.4 866.1 663.2 866.5 662 866.9 666.7 867.3 672.2 867.7 675.3 868.1 675.8 868.5 673.7 868.9 670.2 869.3 668 869.7 668.7 870.1 670.5 870.5 673 870.9 676 871.3 677.2 871.7 674.2 872.1 668.6 872.5 664.2 872.9 663.6 873.3 666.5 873.7 671.8 874.1 677.7 874.5 681.1 874.9 680 875.3 674.9 875.7 668.8 876.1 665 876.5 664.6 876.9 667.2 877.3 672.7 877.7 679.1 878.1 680.7 878.5 676 878.9 668.6 879.3 663.9 879.7 664.7 880.1 670.3 880.5 677.2 880.9 680.8 881.3 678.3 881.7 671.2 882.1 664.1 882.5 661 882.9 663.3 883.3 669.5 883.7 675.9 884.1 680.1 884.5 680.9 884.9 678.1 885.3 671.9 885.7 664.4 886.1 658.4 886.5 657.1 886.9 662.7 887.3 673.5 887.7 684.2 888.1 690.1 888.5 689.5 888.9 682 889.3 669.2 889.7 656.8 890.1 650.2 890.5 650.7 890.9 657.3 891.3 669.2 891.7 683.3 892.1 693.8 892.5 695 892.9 686.1 893.3 670.6 893.7 655.2 894.1 647.7 894.5 652.6 894.9 668 895.3 685.3 895.7 694.9 896.1 691.4 896.5 677.9 896.9 662.2 897.3 651.5 897.7 650.4 898.1 659.9 898.5 675.3 898.9 689.2 899.3 694.9 899.7 688.3 900.1 672.3 900.5 656 900.9 648.6 901.3 654 901.7 670 902.1 688.3 902.5 697.4 902.9 690.2 903.3 670.9 903.7 651.9 904.1 644.9 904.5 652.8 904.9 671.6 905.3 691.8 905.7 702.2 906.1 696.8 906.5 678.7 906.9 656.7 907.3 641.4 907.7 640.3 908.1 654.1 908.5 676.5 908.9 696.8 909.3 704.2 909.7 693.1 910.1 668.9 910.5 646.8 910.9 641.9 911.3 656.1 911.7 678.5 912.1 693.6 912.5 692.6 912.9 677.6 913.3 659.7 913.7 651.4 914.1 656.9 914.5 671.4 914.9 684.9 915.3 687.9 915.7 679.5 916.1 668.6 916.5 662.9 916.9 663.8 917.3 669.3 917.7 674.6 918.1 676.4 918.5 675 918.9 671.4 919.3 668.2 919.7 668.1 920.1 670 920.5 672.6 920.9 675 921.3 675.4 921.7 672.5 922.1 667.5 922.5 664.2 922.9 665.9 923.3 672.8 923.7 679.8 924.1 681.2 924.5 676 924.9 667.8 925.3 661.8 925.7 662.2 926.1 668.5 926.5 675.7 926.9 678.9 927.3 677.2 927.7 673.2 928.1 669.7 928.5 669 928.9 669.9 929.3 670.7 929.7 672 930.1 674 930.5 675.2 930.9 674.1 931.3 671.3 931.7 668.6 932.1 667.1 932.5 668.2 932.9 671.8 933.3 675.8 933.7 677.1 934.1 674.5 934.5 669.9 934.9 667.1 935.3 667.5 935.7 670.3 936.1 674.1 936.5 676.8 936.9 676.3 937.3 671.8 937.7 666.8 938.1 665.2 938.5 667 938.9 670.8 939.3 674.6 939.7 676.7 940.1 676.6 940.5 674.3 940.9 670.7 941.3 668.1 941.7 668 942.1 669.5 942.5 671.3 942.9 673 943.3 674.2 943.7 673.9 944.1 671.5 944.5 668.7 944.9 668.2 945.3 670.2 945.7 671.9 946.1 673.4 946.5 674.4 946.9 672.6 947.3 668.3 947.7 665.4 948.1 667 948.5 672.9 948.9 679.2 949.3 680.3 949.7 674.3 950.1 666.3 950.5 662.2 950.9 664.4 951.3 671.4 951.7 678.6 952.1 681.3 952.5 677.6 952.9 669.4 953.3 662.1 953.7 660.8 954.1 665.8 954.5 674.1 954.9 681.8 955.3 684.5 955.7 680 956.1 670.7 956.5 662 956.9 658.2 957.3 661.6 957.7 670.7 958.1 680.8 958.5 686.1 958.9 682.5 959.3 670.5 959.7 658.1 960.1 654.3 960.5 662.1 960.9 676.4 961.3 688.3 961.7 689.9 962.1 679.8 962.5 665.3 962.9 656 963.3 655.8 963.7 662.6 964.1 672.7 964.5 682.3 964.9 687.4 965.3 685.7 965.7 678.3 966.1 668.2 966.5 658.6 966.9 654.6 967.3 658.9 967.7 669.1 968.1 681.3 968.5 690 968.9 688.3 969.3 676 969.7 660.6 970.1 650.4 970.5 650.9 970.9 662.9 971.3 680.3 971.7 693.9 972.1 696.9 972.5 687.9 972.9 671 973.3 653.7 973.7 644.8 974.1 649.6 974.5 665.7 974.9 684.7 975.3 697 975.7 694.5 976.1 678.4 976.5 660 976.9 650.3 977.3 653.4 977.7 665.9 978.1 680 978.5 688.4 978.9 687.4 979.3 678.8 979.7 667.6 980.1 659.3 980.5 658.2 980.9 663.5 981.3 670.9 981.7 677.5 982.1 681 982.5 679.4 982.9 673.4 983.3 667.4 983.7 664.3 984.1 665.2 984.5 669.8 984.9 675.4 985.3 678.5 985.7 677.2 986.1 672.9 986.5 669 986.9 667.1 987.3 667.2 987.7 670 988.1 675 988.5 678 988.9 676.3 989.3 671.8 989.7 666.9 990.1 664.8 990.5 667.8 990.9 673.3 991.3 676.9 991.7 676.7 992.1 673.3 992.5 669.4 992.9 666.7 993.3 666.5 993.7 669.3 994.1 672.6 994.5 674.3 994.9 674.3 995.3 673.6 995.7 671.7 996.1 668.9 996.5 666.9 996.9 667.4 997.3 669.6 997.7 672.3 998.1 674.4 998.5 674.7 998.9 673.8 999.3 672.3 999.7 669.8 1000.1 667 1000.5 666.1 1000.9 668.4 1001.3 673.7 1001.7 680.1 1002.1 682.2 1002.5 676.7 1002.9 666.9 1003.3 659.8 1003.7 660.4 1004.1 668.6 1004.5 678.6 1004.9 683.9 1005.3 682.2 1005.7 674.1 1006.1 663.5 1006.5 656.7 1006.9 657.4 1007.3 664.1 1007.7 673.5 1008.1 681.8 1008.5 685.1 1008.9 682.5 1009.3 675.5 1009.7 667.4 1010.1 662.1 1010.5 662.3 1010.9 666.7 1011.3 671.9 1011.7 675.9 1012.1 677.7 1012.5 676.7 1012.9 673 1013.3 668.6 1013.7 666.1 1014.1 666.3 1014.5 668.6 1014.9 672.1 1015.3 674.8 1015.7 675.5 1016.1 674.1 1016.5 672.4 1016.9 671.1 1017.3 670.5 1017.7 670.2 1018.1 670 1018.5 670.4 1018.9 672.6 1019.3 675.2 1019.7 675.5 1020.1 673.9 1020.5 671.4 1020.9 667.7 1021.3 664.6 1021.7 665.4 1022.1 670.1 1022.5 675.7 1022.9 679.6 1023.3 680.2 1023.7 676.4 1024.1 668.7 1024.5 661 1024.9 657.8 1025.3 662.2 1025.7 672.9 1026.1 683.1 1026.5 686.4 1026.9 680.3 1027.3 668.3 1027.7 657.6 1028.1 655.1 1028.5 663 1028.9 677.2 1029.3 688.3 1029.7 689 1030.1 680.1 1030.5 667.2 1030.9 656.8 1031.3 654.6 1031.7 660.9 1032.1 672.1 1032.5 683.9 1032.9 690.4 1033.3 686.9 1033.7 675.2 1034.1 661.5 1034.5 652.5 1034.9 653.2 1035.3 663.9 1035.7 678.6 1036.1 689 1036.5 689.8 1036.9 680.9 1037.3 667.4 1037.7 657.2 1038.1 655.5 1038.5 662.2 1038.9 673 1039.3 682.3 1039.7 685.7 1040.1 681 1040.5 671.1 1040.9 662.7 1041.3 660.3 1041.7 664.2 1042.1 671.4 1042.5 678.1 1042.9 680.4 1043.3 677.1 1043.7 671.5 1044.1 668.2 1044.5 668.1 1044.9 669.5 1045.3 671.8 1045.7 673.9 1046.1 674.3 1046.5 673.2 1046.9 670.9 1047.3 668.7 1047.7 668.2 1048.1 669.8 1048.5 671.9 1048.9 673.7 1049.3 674.4 1049.7 673.7 1050.1 671.8 1050.5 669.5 1050.9 668.1 1051.3 668.6 1051.7 670.6 1052.1 672.5 1052.5 674 1052.9 674.3 1053.3 672.6 1053.7 669.7 1054.1 667.2 1054.5 667.3 1054.9 670.8 1055.3 674.9 1055.7 676.2 1056.1 674.3 1056.5 670.9 1056.9 667.5 1057.3 666.2 1057.7 668.4 1058.1 673.5 1058.5 678 1058.9 678.7 1059.3 675.4 1059.7 669.8 1060.1 664 1060.5 661.1 1060.9 663.8 1061.3 670.5 1061.7 677.6 1062.1 682.1 1062.5 682.5 1062.9 677.5 1063.3 668.7 1063.7 661.3 1064.1 659.2 1064.5 662.6 1064.9 669.9 1065.3 678.6 1065.7 685 1066.1 685.4 1066.5 677.9 1066.9 665.1 1067.3 653.9 1067.7 652.1 1068.1 661.4 1068.5 677.6 1068.9 693.3 1069.3 697.3 1069.7 683.1 1070.1 659.2 1070.5 641.9 1070.9 643.8 1071.3 667.7 1071.7 697.9 1072.1 710.6 1072.5 695 1072.9 662.4 1073.3 635.9 1073.7 633 1074.1 654.6 1074.5 687.3 1074.9 710.8 1075.3 710.3 1075.7 686.4 1076.1 653.4 1076.5 630.8 1076.9 632.4 1077.3 655.1 1077.7 683 1078.1 702 1078.5 705.5 1078.9 694.7 1079.3 673.9 1079.7 652.6 1080.1 640.5 1080.5 643.2 1080.9 658.3 1081.3 677.9 1081.7 692.4 1082.1 693.9 1082.5 682.5 1082.9 667.9 1083.3 658.9 1083.7 659.4 1084.1 667.3 1084.5 676 1084.9 679.7 1085.3 677.3 1085.7 671.9 1086.1 668.2 1086.5 668 1086.9 669.6 1087.3 672.3 1087.7 675.2 1088.1 675.9 1088.5 674.1 1088.9 670.1 1089.3 664.5 1089.7 661.4 1090.1 664.4 1090.5 672 1090.9 678.7 1091.3 680.5 1091.7 677.9 1092.1 672.8 1092.5 667.4 1092.9 664.9 1093.3 665.8 1093.7 669.1 1094.1 674.1 1094.5 678.7 1094.9 679.4 1095.3 675.5 1095.7 669 1096.1 664.3 1096.5 664.4 1096.9 668.6 1097.3 674.8 1097.7 680.4 1098.1 680.8 1098.5 674.6 1098.9 666.4 1099.3 661.1 1099.7 661.2 1100.1 666.8 1100.5 675.4 1100.9 682.2 1101.3 683.4 1101.7 678.7 1102.1 669.9 1102.5 660.6 1102.9 656.3 1103.3 661.3 1103.7 672.6 1104.1 682.3 1104.5 685 1104.9 679.9 1105.3 670.1 1105.7 661.1 1106.1 658.5 1106.5 663 1106.9 671.4 1107.3 679.2 1107.7 682.7 1108.1 680.7 1108.5 674.8 1108.9 667.6 1109.3 661.4 1109.7 658.2 1110.1 661.3 1110.5 671.1 1110.9 682.4 1111.3 688.6 1111.7 686.4 1112.1 676.6 1112.5 663.2 1112.9 653.1 1113.3 652.5 1113.7 662.2 1114.1 677 1114.5 689.2 1114.9 692.4 1115.3 684.3 1115.7 668.2 1116.1 653.2 1116.5 648.2 1116.9 656.4 1117.3 673.8 1117.7 691.1 1118.1 697.8 1118.5 689.8 1118.9 672 1119.3 654 1119.7 644.3 1120.1 647.2 1120.5 661.8 1120.9 681.3 1121.3 696.2 1121.7 699.5 1122.1 689.9 1122.5 672.4 1122.9 655.7 1123.3 647.2 1123.7 650.9 1124.1 665.3 1124.5 682.8 1124.9 693.3 1125.3 691.3 1125.7 678.5 1126.1 662.9 1126.5 653.9 1126.9 655.7 1127.3 666.2 1127.7 679.3 1128.1 687.5 1128.5 686.1 1128.9 676.7 1129.3 665 1129.7 658.2 1130.1 659.7 1130.5 666.8 1130.9 674.6 1131.3 679.3 1131.7 679.3 1132.1 675.2 1132.5 669.8 1132.9 666.2 1133.3 665.7 1133.7 668.7 1134.1 673.2 1134.5 675.6 1134.9 674.6 1135.3 672.6 1135.7 670.6 1136.1 669.1 1136.5 668.8 1136.9 670.3 1137.3 673.8 1137.7 676.8 1138.1 676.8 1138.5 672.5 1138.9 665.2 1139.3 660.4 1139.7 663.6 1140.1 673.5 1140.5 684 1140.9 687 1141.3 678.2 1141.7 662.3 1142.1 651.6 1142.5 654.8 1142.9 669.8 1143.3 686 1143.7 693.2 1144.1 687.5 1144.5 673.9 1144.9 659.9 1145.3 651.3 1145.7 651.8 1146.1 661.6 1146.5 675.3 1146.9 686.1 1147.3 689.8 1147.7 685 1148.1 673.6 1148.5 660.9 1148.9 654.4 1149.3 658.2 1149.7 669.5 1150.1 681.2 1150.5 686.2 1150.9 681.2 1151.3 670.6 1151.7 662.1 1152.1 660.1 1152.5 665.3 1152.9 674.7 1153.3 682.1 1153.7 682.4 1154.1 676.4 1154.5 668.1 1154.9 661.6 1155.3 660.7 1155.7 666.3 1156.1 674.7 1156.5 681 1156.9 681.7 1157.3 675.7 1157.7 666.8 1158.1 661.8 1158.5 663.7 1158.9 670.5 1159.3 678 1159.7 681.3 1160.1 677.7 1160.5 670.5 1160.9 665.9 1161.3 666.2 1161.7 668.6 1162.1 671.5 1162.5 674.8 1162.9 676.5 1163.3 675.4 1163.7 672.7 1164.1 670.7 1164.5 668.7 1164.9 666.6 1165.3 667.6 1165.7 672.3 1166.1 677.2 1166.5 678.6 1166.9 675.5 1167.3 668.2 1167.7 661.8 1168.1 662.6 1168.5 670.3 1168.9 679.5 1169.3 683.6 1169.7 679.6 1170.1 670 1170.5 660.7 1170.9 657.1 1171.3 661.2 1171.7 670.7 1172.1 680.7 1172.5 686.1 1172.9 683.8 1173.3 675.8 1173.7 667.4 1174.1 662.5 1174.5 662.1 1174.9 666.3 1175.3 674 1175.7 680.9 1176.1 682.7 1176.5 678.2 1176.9 669.9 1177.3 661.6 1177.7 657.5 1178.1 661.6 1178.5 673.4 1178.9 686.1 1179.3 691.3 1179.7 684.2 1180.1 667.7 1180.5 651.6 1180.9 646.7 1181.3 656.4 1181.7 675.4 1182.1 692 1182.5 697.3 1182.9 689.5 1183.3 672.9 1183.7 655.9 1184.1 647.5 1184.5 651.1 1184.9 664.9 1185.3 683 1185.7 695.8 1186.1 694.4 1186.5 678.7 1186.9 658.4 1187.3 645.9 1187.7 649.2 1188.1 666.6 1188.5 688.2 1188.9 700.4 1189.3 696.9 1189.7 680.9 1190.1 660.6 1190.5 644.8 1190.9 640.6 1191.3 649.3 1191.7 666.7 1192.1 685.8 1192.5 697.9 1192.9 697.6 1193.3 686.8 1193.7 672 1194.1 658.6 1194.5 651.3 1194.9 653.5 1195.3 662.8 1195.7 673 1196.1 679.7 1196.5 681.7 1196.9 679.4 1197.3 674.6 1197.7 669.3 1198.1 666.2 1198.5 666.5 1198.9 669.2 1199.3 672.1 1199.7 674.1 1200.1 674.6 1200.5 673.1 1200.9 671 1201.3 669.7 1201.7 669.4 1202.1 670.4 1202.5 672.1 1202.9 673.5 1203.3 674.2 1203.7 673.3 1204.1 670.1 1204.5 665.9 1204.9 664.4 1205.3 667.6 1205.7 673.9 1206.1 679.7 1206.5 681.4 1206.9 676.6 1207.3 667.8 1207.7 660.6 1208.1 659.3 1208.5 666.3 1208.9 677.5 1209.3 684.2 1209.7 682.8 1210.1 674.9 1210.5 664.4 1210.9 657.5 1211.3 659.1 1211.7 668.2 1212.1 678.5 1212.5 683.9 1212.9 682.1 1213.3 674.1 1213.7 664.5 1214.1 659.7 1214.5 662.8 1214.9 671.4 1215.3 679.4 1215.7 681.1 1216.1 676.2 1216.5 668.5 1216.9 663.1 1217.3 664.1 1217.7 669.9 1218.1 674.9 1218.5 676.5 1218.9 675.1 1219.3 671.8 1219.7 668.4 1220.1 667.5 1220.5 669 1220.9 671.5 1221.3 674.8 1221.7 677.6 1222.1 676.8 1222.5 671.9 1222.9 666 1223.3 662.2 1223.7 663 1224.1 668.9 1224.5 677 1224.9 683.4 1225.3 684.7 1225.7 678.8 1226.1 667.4 1226.5 657 1226.9 654.7 1227.3 662 1227.7 674.4 1228.1 684.7 1228.5 686.6 1228.9 679.6 1229.3 668.4 1229.7 659.7 1230.1 658 1230.5 664.1 1230.9 674.5 1231.3 682.5 1231.7 683.5 1232.1 677.9 1232.5 669.7 1232.9 663.2 1233.3 662.6 1233.7 667.3 1234.1 672.2 1234.5 675 1234.9 675.2 1235.3 673.2 1235.7 671.4 1236.1 670.7 1236.5 670.5 1236.9 670.6 1237.3 671.6 1237.7 674.2 1238.1 675.3 1238.5 673.7 1238.9 671.6 1239.3 670.1 1239.7 668.8 1240.1 668.7 1240.5 670.9 1240.9 674.5 1241.3 677 1241.7 676.6 1242.1 672.3 1242.5 665.4 1242.9 659.7 1243.3 660.6 1243.7 669.1 1244.1 680.4 1244.5 688 1244.9 687.6 1245.3 679.1 1245.7 666.8 1246.1 656.5 1246.5 652.6 1246.9 657.4 1247.3 669.6 1247.7 683.1 1248.1 690.9 1248.5 689 1248.9 678 1249.3 663.4 1249.7 653.7 1250.1 654.3 1250.5 663.8 1250.9 675.8 1251.3 683.3 1251.7 683.2 1252.1 677.1 1252.5 668.5 1252.9 661.8 1253.3 661.4 1253.7 667.4 1254.1 674.7 1254.5 678.3 1254.9 677.4 1255.3 673 1255.7 668.3 1256.1 666.1 1256.5 667.1 1256.9 671.3 1257.3 676.6 1257.7 679.1 1258.1 676.7 1258.5 670.9 1258.9 664.4 1259.3 660.8 1259.7 663.5 1260.1 671.9 1260.5 681 1260.9 685.4 1261.3 682.5 1261.7 672.6 1262.1 660.2 1262.5 653.2 1262.9 657" fill="none" stroke="#ff9494" stroke-width="0.9" stroke-linejoin="round" stroke-linecap="round"/>
<polyline points="843.7 638.4 844.5 638.5 845.3 638.9 846.1 640.4 846.9 643 847.7 644.1 848.5 644.8 849.3 645.4 850.1 644.9 850.9 643.2 851.7 641.3 852.5 639.4 853.3 637.5 854.1 635.6 854.9 634.6 855.7 632.9 856.5 632.3 857.3 631.8 858.1 631 858.9 632.2 859.7 633.6 860.5 636 861.3 639.4 862.1 643.2 862.9 647.1 863.7 650.9 864.5 655.6 865.3 658.2 866.1 660.2 866.9 664 867.7 666.9 868.5 667.1 869.3 667.7 870.1 668.7 870.9 666.8 871.7 663.8 872.5 663.2 873.3 663.3 874.1 662.1 874.9 661.8 875.7 663 876.5 664.5 877.3 663.1 878.1 662 878.9 663 879.7 663.5 880.5 662.8 881.3 661.6 882.1 661.1 882.9 660.9 883.7 661.8 884.5 661.9 885.3 660.3 886.1 657.8 886.9 654.5 887.7 653.2 888.5 651.4 889.3 648.4 890.1 649.2 890.9 649.4 891.7 647.5 892.5 647.3 893.3 648 894.1 647.6 894.9 647.4 895.7 647.6 896.5 649.1 897.3 649.7 898.1 649.2 898.9 648.7 899.7 647.7 900.5 648.2 901.3 648.4 902.1 646.6 902.9 645 903.7 644.8 904.5 644.4 905.3 641.8 906.1 640.1 906.9 639.1 907.7 638.9 908.5 639.1 909.3 638.7 910.1 638.8 910.9 641.5 911.7 645.4 912.5 648.3 913.3 650.1 914.1 652.1 914.9 653.5 915.7 657.3 916.5 662 917.3 664.3 918.1 666.5 918.9 666.8 919.7 668 920.5 668.3 921.3 667 922.1 665.2 922.9 663 923.7 661.5 924.5 661.5 925.3 661.1 926.1 661.8 926.9 663.8 927.7 666 928.5 668.8 929.3 669.8 930.1 668.5 930.9 667.5 931.7 667.5 932.5 666.6 933.3 666 934.1 665.8 934.9 666.7 935.7 667.1 936.5 666.1 937.3 664.6 938.1 665.2 938.9 665.7 939.7 666.1 940.5 666 941.3 667 942.1 668.8 942.9 669.1 943.7 668.3 944.5 667.7 945.3 669.1 946.1 669.5 946.9 667.1 947.7 665.4 948.5 663.7 949.3 662 950.1 662 950.9 662 951.7 661.9 952.5 661.2 953.3 660.4 954.1 660.4 954.9 659.1 955.7 658 956.5 658.3 957.3 658.2 958.1 657.6 958.9 655.8 959.7 654.3 960.5 653.8 961.3 652.7 962.1 652 962.9 654 963.7 656 964.5 655.6 965.3 655.5 966.1 655.2 966.9 654.6 967.7 655.2 968.5 652.7 969.3 650.9 970.1 649.6 970.9 647.2 971.7 645.9 972.5 645.3 973.3 644.6 974.1 645 974.9 645.4 975.7 645.2 976.5 647.8 977.3 650.8 978.1 652.8 978.9 654.4 979.7 655.8 980.5 658.1 981.3 661.4 982.1 661.8 982.9 662.8 983.7 664.1 984.5 664 985.3 664.3 986.1 665.7 986.9 666.9 987.7 665.5 988.5 664.9 989.3 665.7 990.1 664.8 990.9 665.2 991.7 665.9 992.5 666.5 993.3 666.2 994.1 667.3 994.9 668.7 995.7 667.8 996.5 666.7 997.3 667.3 998.1 667.8 998.9 668.6 999.7 667.6 1000.5 665.8 1001.3 663.4 1002.1 660.3 1002.9 659.4 1003.7 658.8 1004.5 658.9 1005.3 658.2 1006.1 656.1 1006.9 656.4 1007.7 656.9 1008.5 657.8 1009.3 659.1 1010.1 660.7 1010.9 663.6 1011.7 665.2 1012.5 665 1013.3 665.1 1014.1 666 1014.9 666.3 1015.7 667.5 1016.5 669.3 1017.3 670.1 1018.1 669.7 1018.9 667.5 1019.7 667.5 1020.5 667.2 1021.3 664.6 1022.1 663.4 1022.9 663 1023.7 660.8 1024.5 658.7 1025.3 656.8 1026.1 656.5 1026.9 656.3 1027.7 655.3 1028.5 653.5 1029.3 652.7 1030.1 653.7 1030.9 653.9 1031.7 654.8 1032.5 653.5 1033.3 652.1 1034.1 652.1 1034.9 651.3 1035.7 651.6 1036.5 652.4 1037.3 653.3 1038.1 655.3 1038.9 657.2 1039.7 657.2 1040.5 658.1 1041.3 660.3 1042.1 661.8 1042.9 662.6 1043.7 665.2 1044.5 668.1 1045.3 668.4 1046.1 668.7 1046.9 668.3 1047.7 668.2 1048.5 668.7 1049.3 668.6 1050.1 668.2 1050.9 667.9 1051.7 668.8 1052.5 668.8 1053.3 668.1 1054.1 667.1 1054.9 666.1 1055.7 666.8 1056.5 667.1 1057.3 666.1 1058.1 664.6 1058.9 664 1059.7 663.2 1060.5 661.1 1061.3 660.6 1062.1 660.5 1062.9 658.4 1063.7 658.5 1064.5 659.6 1065.3 658.6 1066.1 656 1066.9 653 1067.7 651.3 1068.5 649.2 1069.3 644.3 1070.1 641.9 1070.9 638.2 1071.7 633.6 1072.5 631.5 1073.3 630.9 1074.1 630.5 1074.9 629.2 1075.7 628.7 1076.5 628 1077.3 631.3 1078.1 635.7 1078.9 637.4 1079.7 638.1 1080.5 640.9 1081.3 644.7 1082.1 648.8 1082.9 654.7 1083.7 658.7 1084.5 661.9 1085.3 664.2 1086.1 667 1086.9 668.2 1087.7 667.2 1088.5 666.4 1089.3 663.1 1090.1 660.2 1090.9 661.4 1091.7 663.3 1092.5 663.9 1093.3 665.2 1094.1 664.2 1094.9 663.2 1095.7 663 1096.5 664 1097.3 663.3 1098.1 661 1098.9 660.6 1099.7 660.2 1100.5 659.2 1101.3 659.3 1102.1 658.5 1102.9 656.3 1103.7 656.5 1104.5 658 1105.3 658 1106.1 658.5 1106.9 659.3 1107.7 660.2 1108.5 660.9 1109.3 659.8 1110.1 656 1110.9 654.1 1111.7 654 1112.5 652.5 1113.3 651.2 1114.1 650.9 1114.9 650.2 1115.7 648.6 1116.5 648.1 1117.3 646.7 1118.1 645.2 1118.9 644.7 1119.7 644 1120.5 642.5 1121.3 642.6 1122.1 644.1 1122.9 646.4 1123.7 647 1124.5 647.7 1125.3 649.4 1126.1 651.7 1126.9 653.8 1127.7 654.5 1128.5 655.1 1129.3 656.2 1130.1 658.8 1130.9 661.7 1131.7 663.4 1132.5 665 1133.3 665.4 1134.1 665.9 1134.9 668.2 1135.7 669 1136.5 668.5 1137.3 666.8 1138.1 665.1 1138.9 662 1139.7 659.4 1140.5 656.8 1141.3 653.5 1142.1 651.2 1142.9 650.1 1143.7 649.8 1144.5 650.8 1145.3 650.5 1146.1 650.5 1146.9 652.5 1147.7 653.6 1148.5 653.6 1149.3 655 1150.1 656.3 1150.9 657.7 1151.7 659.6 1152.5 659.7 1153.3 659.5 1154.1 660.6 1154.9 660.3 1155.7 660.4 1156.5 660.9 1157.3 660.5 1158.1 661.5 1158.9 662.3 1159.7 661.7 1160.5 662.9 1161.3 666.1 1162.1 667 1162.9 666.4 1163.7 668.2 1164.5 668.2 1165.3 665.1 1166.1 664.4 1166.9 663.4 1167.7 661.3 1168.5 660.5 1169.3 659.4 1170.1 658 1170.9 657.1 1171.7 656.6 1172.5 656.6 1173.3 659 1174.1 661.5 1174.9 661.2 1175.7 660.3 1176.5 660.1 1177.3 658.9 1178.1 655.7 1178.9 652.9 1179.7 650 1180.5 647.3 1181.3 645.4 1182.1 645.2 1182.9 645.7 1183.7 646.2 1184.5 647.6 1185.3 646.7 1186.1 645.6 1186.9 645.6 1187.7 644.6 1188.5 642.5 1189.3 641.8 1190.1 641.1 1190.9 640.4 1191.7 640.7 1192.5 642.5 1193.3 647.3 1194.1 649.8 1194.9 652.2 1195.7 657.3 1196.5 661.2 1197.3 663.5 1198.1 665.3 1198.9 667.5 1199.7 668.2 1200.5 668.7 1201.3 669.4 1202.1 669.3 1202.9 669.2 1203.7 667.8 1204.5 665.1 1205.3 663.4 1206.1 662.1 1206.9 660.4 1207.7 659.5 1208.5 657.5 1209.3 658.1 1210.1 658.4 1210.9 657 1211.7 657.3 1212.5 658.7 1213.3 659 1214.1 659.6 1214.9 660.4 1215.7 661.8 1216.5 662.4 1217.3 663.1 1218.1 665.6 1218.9 666.8 1219.7 666.9 1220.5 668.1 1221.3 666.9 1222.1 664.2 1222.9 662.9 1223.7 661.1 1224.5 659.6 1225.3 657.5 1226.1 654.8 1226.9 654.4 1227.7 655 1228.5 656.1 1229.3 657.2 1230.1 657.6 1230.9 657.7 1231.7 659.3 1232.5 660.7 1233.3 662.5 1234.1 666.2 1234.9 667.8 1235.7 670.1 1236.5 671.1 1237.3 668.8 1238.1 667.7 1238.9 669.3 1239.7 668.8 1240.5 667.1 1241.3 665.9 1242.1 663.7 1242.9 659.6 1243.7 656.3 1244.5 654.3 1245.3 653.3 1246.1 653 1246.9 651.9 1247.7 651.5 1248.5 651.5 1249.3 651.4 1250.1 653.2 1250.9 656.3 1251.7 659.4 1252.5 660.4 1253.3 660.9 1254.1 663.2 1254.9 664.8 1255.7 665.7 1256.5 665.8 1257.3 664.4 1258.1 663.6 1258.9 662.1 1259.7 659.6 1260.5 658.2 1261.3 656.7 1262.1 654 1262.9 652.9" fill="none" stroke="#0000ff" stroke-width="2.9" stroke-linejoin="round" stroke-linecap="round"/>
</svg>
</body></html>
